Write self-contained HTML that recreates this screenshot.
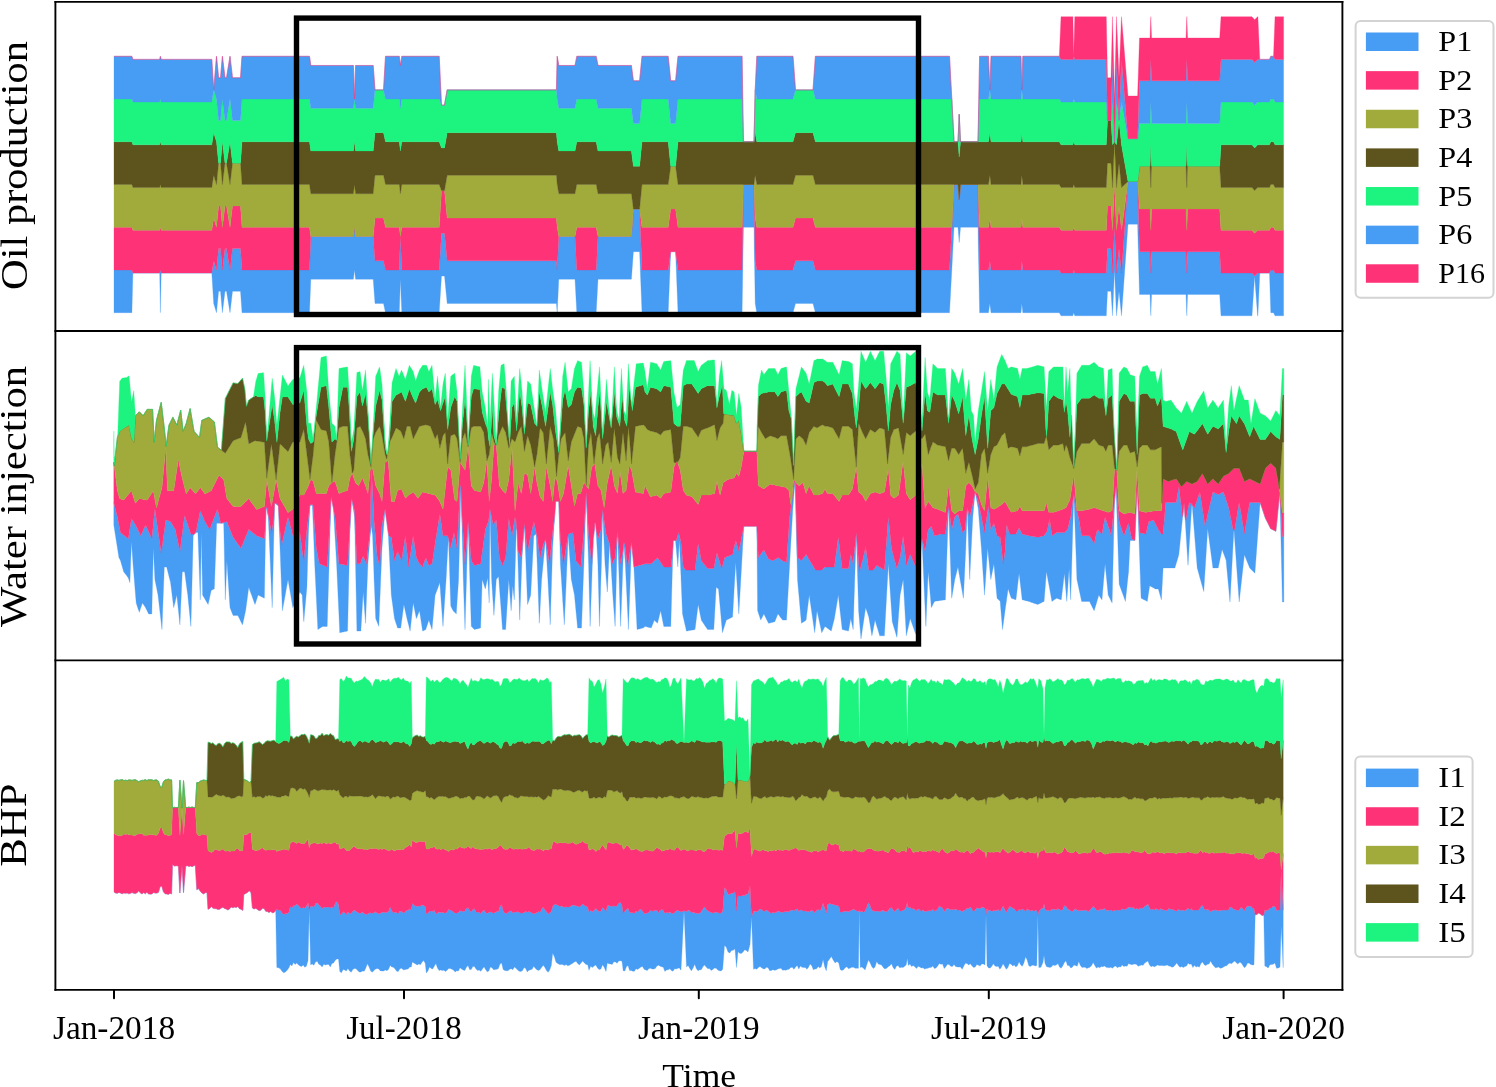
<!DOCTYPE html>
<html><head><meta charset="utf-8"><style>html,body{margin:0;padding:0;background:#fff;overflow:hidden}svg{display:block;will-change:transform}</style></head><body>
<svg width="1496" height="1087" viewBox="0 0 1496 1087">
<rect width="1496" height="1087" fill="#fff"/>
<g stroke-width="0.3" stroke-linejoin="round">
<path d="M114 312.7 L131.9 312.7 L132.9 273.02 L159.7 273.02 L160.4 312.7 L161.2 273.02 L211.8 273.02 L213.7 303.55 L216.5 312.7 L218.6 291.34 L220.5 291.34 L222.4 312.7 L225 291.34 L226.5 291.34 L230 312.7 L232.5 291.34 L240.5 291.34 L242 312.7 L309.5 312.7 L310.8 279.13 L353.4 279.13 L354.5 269.97 L355.6 279.13 L373.2 279.13 L375 303.55 L383.5 303.55 L385.5 312.7 L399.3 312.7 L400.4 279.13 L401.8 312.7 L439.2 312.7 L441.5 276.08 L444.5 276.08 L447.2 303.55 L556.4 303.55 L557.2 312.7 L558.8 279.13 L575 279.13 L576.8 312.7 L596.2 312.7 L598 279.13 L631.4 279.13 L633.4 251.66 L639.6 251.66 L642 312.7 L668.2 312.7 L670.7 251.66 L675.6 251.66 L678 312.7 L742.1 312.7 L743.4 227.24 L754 227.24 L755.2 303.55 L756.8 312.7 L793 312.7 L795.5 303.55 L813 303.55 L815.4 312.7 L949.5 312.7 L951.8 269.97 L954 227.24 L958 227.24 L959.2 242.5 L960.5 227.24 L978 227.24 L979.6 312.7 L988.5 312.7 L989.8 303.55 L991 312.7 L1021 312.7 L1021.8 303.55 L1022.8 312.7 L1059.3 312.7 L1061 315.75 L1072.9 315.75 L1073.7 312.7 L1074.8 315.75 L1106.3 315.75 L1107.5 291.34 L1111 291.34 L1112.5 315.75 L1114.5 269.97 L1116.5 315.75 L1119 291.34 L1121.5 315.75 L1128 224.19 L1137.6 224.19 L1139.5 294.39 L1150 294.39 L1150.8 315.75 L1151.6 294.39 L1186 294.39 L1186.8 315.75 L1187.6 294.39 L1219.7 294.39 L1221 315.75 L1252 315.75 L1254.6 276.08 L1257.6 315.75 L1257.9 315.75 L1259.8 273.02 L1269.5 273.02 L1270.8 312.7 L1273.5 312.7 L1275 315.75 L1283.6 315.75 L1283.6 273.02 L1275 273.02 L1273.5 269.97 L1270.8 269.97 L1269.5 273.02 L1259.8 273.02 L1257.9 273.02 L1257.6 273.02 L1254.6 276.08 L1252 273.02 L1221 273.02 L1219.7 251.66 L1187.6 251.66 L1186.8 273.02 L1186 251.66 L1151.6 251.66 L1150.8 273.02 L1150 251.66 L1139.5 251.66 L1137.6 181.46 L1128 181.46 L1121.5 273.02 L1119 248.61 L1116.5 273.02 L1114.5 227.24 L1112.5 273.02 L1111 248.61 L1107.5 248.61 L1106.3 273.02 L1074.8 273.02 L1073.7 269.97 L1072.9 273.02 L1061 273.02 L1059.3 269.97 L1022.8 269.97 L1021.8 260.82 L1021 269.97 L991 269.97 L989.8 260.82 L988.5 269.97 L979.6 269.97 L978 184.51 L960.5 184.51 L959.2 199.77 L958 184.51 L954 184.51 L951.8 227.24 L949.5 269.97 L815.4 269.97 L813 260.82 L795.5 260.82 L793 269.97 L756.8 269.97 L755.2 260.82 L754 184.51 L743.4 184.51 L742.1 269.97 L678 269.97 L675.6 251.66 L670.7 251.66 L668.2 269.97 L642 269.97 L639.6 208.93 L633.4 208.93 L631.4 236.4 L598 236.4 L596.2 269.97 L576.8 269.97 L575 236.4 L558.8 236.4 L557.2 269.97 L556.4 260.82 L447.2 260.82 L444.5 233.35 L441.5 233.35 L439.2 269.97 L401.8 269.97 L400.4 236.4 L399.3 269.97 L385.5 269.97 L383.5 260.82 L375 260.82 L373.2 236.4 L355.6 236.4 L354.5 227.24 L353.4 236.4 L310.8 236.4 L309.5 269.97 L242 269.97 L240.5 248.61 L232.5 248.61 L230 269.97 L226.5 248.61 L225 248.61 L222.4 269.97 L220.5 248.61 L218.6 248.61 L216.5 269.97 L213.7 260.82 L211.8 273.02 L161.2 273.02 L160.4 269.97 L159.7 273.02 L132.9 273.02 L131.9 269.97 L114 269.97Z" fill="#479cf4" stroke="#479cf4"/>
<path d="M114 269.97 L131.9 269.97 L132.9 273.02 L159.7 273.02 L160.4 269.97 L161.2 273.02 L211.8 273.02 L213.7 260.82 L216.5 269.97 L218.6 248.61 L220.5 248.61 L222.4 269.97 L225 248.61 L226.5 248.61 L230 269.97 L232.5 248.61 L240.5 248.61 L242 269.97 L309.5 269.97 L310.8 236.4 L353.4 236.4 L354.5 227.24 L355.6 236.4 L373.2 236.4 L375 260.82 L383.5 260.82 L385.5 269.97 L399.3 269.97 L400.4 236.4 L401.8 269.97 L439.2 269.97 L441.5 233.35 L444.5 233.35 L447.2 260.82 L556.4 260.82 L557.2 269.97 L558.8 236.4 L575 236.4 L576.8 269.97 L596.2 269.97 L598 236.4 L631.4 236.4 L633.4 208.93 L639.6 208.93 L642 269.97 L668.2 269.97 L670.7 251.66 L675.6 251.66 L678 269.97 L742.1 269.97 L743.4 184.51 L754 184.51 L755.2 260.82 L756.8 269.97 L793 269.97 L795.5 260.82 L813 260.82 L815.4 269.97 L949.5 269.97 L951.8 227.24 L954 184.51 L958 184.51 L959.2 199.77 L960.5 184.51 L978 184.51 L979.6 269.97 L988.5 269.97 L989.8 260.82 L991 269.97 L1021 269.97 L1021.8 260.82 L1022.8 269.97 L1059.3 269.97 L1061 273.02 L1072.9 273.02 L1073.7 269.97 L1074.8 273.02 L1106.3 273.02 L1107.5 248.61 L1111 248.61 L1112.5 273.02 L1114.5 227.24 L1116.5 273.02 L1119 248.61 L1121.5 273.02 L1128 181.46 L1137.6 181.46 L1139.5 251.66 L1150 251.66 L1150.8 273.02 L1151.6 251.66 L1186 251.66 L1186.8 273.02 L1187.6 251.66 L1219.7 251.66 L1221 273.02 L1252 273.02 L1254.6 276.08 L1257.6 273.02 L1257.9 273.02 L1259.8 273.02 L1269.5 273.02 L1270.8 269.97 L1273.5 269.97 L1275 273.02 L1283.6 273.02 L1283.6 230.29 L1275 230.29 L1273.5 227.24 L1270.8 227.24 L1269.5 230.29 L1259.8 230.29 L1257.9 230.29 L1257.6 230.29 L1254.6 233.35 L1252 230.29 L1221 230.29 L1219.7 208.93 L1187.6 208.93 L1186.8 230.29 L1186 208.93 L1151.6 208.93 L1150.8 230.29 L1150 208.93 L1139.5 208.93 L1137.6 181.46 L1128 181.46 L1121.5 230.29 L1119 205.88 L1116.5 230.29 L1114.5 184.51 L1112.5 230.29 L1111 205.88 L1107.5 205.88 L1106.3 230.29 L1074.8 230.29 L1073.7 227.24 L1072.9 230.29 L1061 230.29 L1059.3 227.24 L1022.8 227.24 L1021.8 218.09 L1021 227.24 L991 227.24 L989.8 218.09 L988.5 227.24 L979.6 227.24 L978 184.51 L960.5 184.51 L959.2 199.77 L958 184.51 L954 184.51 L951.8 227.24 L949.5 227.24 L815.4 227.24 L813 218.09 L795.5 218.09 L793 227.24 L756.8 227.24 L755.2 218.09 L754 184.51 L743.4 184.51 L742.1 227.24 L678 227.24 L675.6 208.93 L670.7 208.93 L668.2 227.24 L642 227.24 L639.6 208.93 L633.4 208.93 L631.4 236.4 L598 236.4 L596.2 227.24 L576.8 227.24 L575 236.4 L558.8 236.4 L557.2 227.24 L556.4 218.09 L447.2 218.09 L444.5 190.62 L441.5 190.62 L439.2 227.24 L401.8 227.24 L400.4 236.4 L399.3 227.24 L385.5 227.24 L383.5 218.09 L375 218.09 L373.2 236.4 L355.6 236.4 L354.5 227.24 L353.4 236.4 L310.8 236.4 L309.5 227.24 L242 227.24 L240.5 205.88 L232.5 205.88 L230 227.24 L226.5 205.88 L225 205.88 L222.4 227.24 L220.5 205.88 L218.6 205.88 L216.5 227.24 L213.7 218.09 L211.8 230.29 L161.2 230.29 L160.4 227.24 L159.7 230.29 L132.9 230.29 L131.9 227.24 L114 227.24Z" fill="#fe3377" stroke="#fe3377"/>
<path d="M114 227.24 L131.9 227.24 L132.9 230.29 L159.7 230.29 L160.4 227.24 L161.2 230.29 L211.8 230.29 L213.7 218.09 L216.5 227.24 L218.6 205.88 L220.5 205.88 L222.4 227.24 L225 205.88 L226.5 205.88 L230 227.24 L232.5 205.88 L240.5 205.88 L242 227.24 L309.5 227.24 L310.8 236.4 L353.4 236.4 L354.5 227.24 L355.6 236.4 L373.2 236.4 L375 218.09 L383.5 218.09 L385.5 227.24 L399.3 227.24 L400.4 236.4 L401.8 227.24 L439.2 227.24 L441.5 190.62 L444.5 190.62 L447.2 218.09 L556.4 218.09 L557.2 227.24 L558.8 236.4 L575 236.4 L576.8 227.24 L596.2 227.24 L598 236.4 L631.4 236.4 L633.4 208.93 L639.6 208.93 L642 227.24 L668.2 227.24 L670.7 208.93 L675.6 208.93 L678 227.24 L742.1 227.24 L743.4 184.51 L754 184.51 L755.2 218.09 L756.8 227.24 L793 227.24 L795.5 218.09 L813 218.09 L815.4 227.24 L949.5 227.24 L951.8 227.24 L954 184.51 L958 184.51 L959.2 199.77 L960.5 184.51 L978 184.51 L979.6 227.24 L988.5 227.24 L989.8 218.09 L991 227.24 L1021 227.24 L1021.8 218.09 L1022.8 227.24 L1059.3 227.24 L1061 230.29 L1072.9 230.29 L1073.7 227.24 L1074.8 230.29 L1106.3 230.29 L1107.5 205.88 L1111 205.88 L1112.5 230.29 L1114.5 184.51 L1116.5 230.29 L1119 205.88 L1121.5 230.29 L1128 181.46 L1137.6 181.46 L1139.5 208.93 L1150 208.93 L1150.8 230.29 L1151.6 208.93 L1186 208.93 L1186.8 230.29 L1187.6 208.93 L1219.7 208.93 L1221 230.29 L1252 230.29 L1254.6 233.35 L1257.6 230.29 L1257.9 230.29 L1259.8 230.29 L1269.5 230.29 L1270.8 227.24 L1273.5 227.24 L1275 230.29 L1283.6 230.29 L1283.6 187.56 L1275 187.56 L1273.5 184.51 L1270.8 184.51 L1269.5 187.56 L1259.8 187.56 L1257.9 187.56 L1257.6 187.56 L1254.6 190.62 L1252 187.56 L1221 187.56 L1219.7 166.2 L1187.6 166.2 L1186.8 187.56 L1186 166.2 L1151.6 166.2 L1150.8 187.56 L1150 166.2 L1139.5 166.2 L1137.6 181.46 L1128 181.46 L1121.5 187.56 L1119 163.15 L1116.5 187.56 L1114.5 141.78 L1112.5 187.56 L1111 163.15 L1107.5 163.15 L1106.3 187.56 L1074.8 187.56 L1073.7 184.51 L1072.9 187.56 L1061 187.56 L1059.3 184.51 L1022.8 184.51 L1021.8 175.36 L1021 184.51 L991 184.51 L989.8 175.36 L988.5 184.51 L979.6 184.51 L978 184.51 L960.5 184.51 L959.2 199.77 L958 184.51 L954 184.51 L951.8 184.51 L949.5 184.51 L815.4 184.51 L813 175.36 L795.5 175.36 L793 184.51 L756.8 184.51 L755.2 175.36 L754 184.51 L743.4 184.51 L742.1 184.51 L678 184.51 L675.6 166.2 L670.7 166.2 L668.2 184.51 L642 184.51 L639.6 208.93 L633.4 208.93 L631.4 193.67 L598 193.67 L596.2 184.51 L576.8 184.51 L575 193.67 L558.8 193.67 L557.2 184.51 L556.4 175.36 L447.2 175.36 L444.5 190.62 L441.5 190.62 L439.2 184.51 L401.8 184.51 L400.4 193.67 L399.3 184.51 L385.5 184.51 L383.5 175.36 L375 175.36 L373.2 193.67 L355.6 193.67 L354.5 184.51 L353.4 193.67 L310.8 193.67 L309.5 184.51 L242 184.51 L240.5 163.15 L232.5 163.15 L230 184.51 L226.5 163.15 L225 163.15 L222.4 184.51 L220.5 163.15 L218.6 163.15 L216.5 184.51 L213.7 175.36 L211.8 187.56 L161.2 187.56 L160.4 184.51 L159.7 187.56 L132.9 187.56 L131.9 184.51 L114 184.51Z" fill="#a1ab3c" stroke="#a1ab3c"/>
<path d="M114 184.51 L131.9 184.51 L132.9 187.56 L159.7 187.56 L160.4 184.51 L161.2 187.56 L211.8 187.56 L213.7 175.36 L216.5 184.51 L218.6 163.15 L220.5 163.15 L222.4 184.51 L225 163.15 L226.5 163.15 L230 184.51 L232.5 163.15 L240.5 163.15 L242 184.51 L309.5 184.51 L310.8 193.67 L353.4 193.67 L354.5 184.51 L355.6 193.67 L373.2 193.67 L375 175.36 L383.5 175.36 L385.5 184.51 L399.3 184.51 L400.4 193.67 L401.8 184.51 L439.2 184.51 L441.5 190.62 L444.5 190.62 L447.2 175.36 L556.4 175.36 L557.2 184.51 L558.8 193.67 L575 193.67 L576.8 184.51 L596.2 184.51 L598 193.67 L631.4 193.67 L633.4 208.93 L639.6 208.93 L642 184.51 L668.2 184.51 L670.7 166.2 L675.6 166.2 L678 184.51 L742.1 184.51 L743.4 184.51 L754 184.51 L755.2 175.36 L756.8 184.51 L793 184.51 L795.5 175.36 L813 175.36 L815.4 184.51 L949.5 184.51 L951.8 184.51 L954 184.51 L958 184.51 L959.2 199.77 L960.5 184.51 L978 184.51 L979.6 184.51 L988.5 184.51 L989.8 175.36 L991 184.51 L1021 184.51 L1021.8 175.36 L1022.8 184.51 L1059.3 184.51 L1061 187.56 L1072.9 187.56 L1073.7 184.51 L1074.8 187.56 L1106.3 187.56 L1107.5 163.15 L1111 163.15 L1112.5 187.56 L1114.5 141.78 L1116.5 187.56 L1119 163.15 L1121.5 187.56 L1128 181.46 L1137.6 181.46 L1139.5 166.2 L1150 166.2 L1150.8 187.56 L1151.6 166.2 L1186 166.2 L1186.8 187.56 L1187.6 166.2 L1219.7 166.2 L1221 187.56 L1252 187.56 L1254.6 190.62 L1257.6 187.56 L1257.9 187.56 L1259.8 187.56 L1269.5 187.56 L1270.8 184.51 L1273.5 184.51 L1275 187.56 L1283.6 187.56 L1283.6 144.83 L1275 144.83 L1273.5 141.78 L1270.8 141.78 L1269.5 144.83 L1259.8 144.83 L1257.9 144.83 L1257.6 144.83 L1254.6 147.89 L1252 144.83 L1221 144.83 L1219.7 166.2 L1187.6 166.2 L1186.8 144.83 L1186 166.2 L1151.6 166.2 L1150.8 144.83 L1150 166.2 L1139.5 166.2 L1137.6 181.46 L1128 181.46 L1121.5 144.83 L1119 120.42 L1116.5 144.83 L1114.5 141.78 L1112.5 144.83 L1111 120.42 L1107.5 120.42 L1106.3 144.83 L1074.8 144.83 L1073.7 141.78 L1072.9 144.83 L1061 144.83 L1059.3 141.78 L1022.8 141.78 L1021.8 132.63 L1021 141.78 L991 141.78 L989.8 132.63 L988.5 141.78 L979.6 141.78 L978 141.78 L960.5 141.78 L959.2 157.04 L958 141.78 L954 141.78 L951.8 141.78 L949.5 141.78 L815.4 141.78 L813 132.63 L795.5 132.63 L793 141.78 L756.8 141.78 L755.2 132.63 L754 141.78 L743.4 141.78 L742.1 141.78 L678 141.78 L675.6 166.2 L670.7 166.2 L668.2 141.78 L642 141.78 L639.6 166.2 L633.4 166.2 L631.4 150.94 L598 150.94 L596.2 141.78 L576.8 141.78 L575 150.94 L558.8 150.94 L557.2 141.78 L556.4 132.63 L447.2 132.63 L444.5 147.89 L441.5 147.89 L439.2 141.78 L401.8 141.78 L400.4 150.94 L399.3 141.78 L385.5 141.78 L383.5 132.63 L375 132.63 L373.2 150.94 L355.6 150.94 L354.5 141.78 L353.4 150.94 L310.8 150.94 L309.5 141.78 L242 141.78 L240.5 163.15 L232.5 163.15 L230 141.78 L226.5 163.15 L225 163.15 L222.4 141.78 L220.5 163.15 L218.6 163.15 L216.5 141.78 L213.7 132.63 L211.8 144.83 L161.2 144.83 L160.4 141.78 L159.7 144.83 L132.9 144.83 L131.9 141.78 L114 141.78Z" fill="#5d531c" stroke="#5d531c"/>
<path d="M114 141.78 L131.9 141.78 L132.9 144.83 L159.7 144.83 L160.4 141.78 L161.2 144.83 L211.8 144.83 L213.7 132.63 L216.5 141.78 L218.6 163.15 L220.5 163.15 L222.4 141.78 L225 163.15 L226.5 163.15 L230 141.78 L232.5 163.15 L240.5 163.15 L242 141.78 L309.5 141.78 L310.8 150.94 L353.4 150.94 L354.5 141.78 L355.6 150.94 L373.2 150.94 L375 132.63 L383.5 132.63 L385.5 141.78 L399.3 141.78 L400.4 150.94 L401.8 141.78 L439.2 141.78 L441.5 147.89 L444.5 147.89 L447.2 132.63 L556.4 132.63 L557.2 141.78 L558.8 150.94 L575 150.94 L576.8 141.78 L596.2 141.78 L598 150.94 L631.4 150.94 L633.4 166.2 L639.6 166.2 L642 141.78 L668.2 141.78 L670.7 166.2 L675.6 166.2 L678 141.78 L742.1 141.78 L743.4 141.78 L754 141.78 L755.2 132.63 L756.8 141.78 L793 141.78 L795.5 132.63 L813 132.63 L815.4 141.78 L949.5 141.78 L951.8 141.78 L954 141.78 L958 141.78 L959.2 157.04 L960.5 141.78 L978 141.78 L979.6 141.78 L988.5 141.78 L989.8 132.63 L991 141.78 L1021 141.78 L1021.8 132.63 L1022.8 141.78 L1059.3 141.78 L1061 144.83 L1072.9 144.83 L1073.7 141.78 L1074.8 144.83 L1106.3 144.83 L1107.5 120.42 L1111 120.42 L1112.5 144.83 L1114.5 141.78 L1116.5 144.83 L1119 120.42 L1121.5 144.83 L1128 181.46 L1137.6 181.46 L1139.5 166.2 L1150 166.2 L1150.8 144.83 L1151.6 166.2 L1186 166.2 L1186.8 144.83 L1187.6 166.2 L1219.7 166.2 L1221 144.83 L1252 144.83 L1254.6 147.89 L1257.6 144.83 L1257.9 144.83 L1259.8 144.83 L1269.5 144.83 L1270.8 141.78 L1273.5 141.78 L1275 144.83 L1283.6 144.83 L1283.6 102.1 L1275 102.1 L1273.5 99.05 L1270.8 99.05 L1269.5 102.1 L1259.8 102.1 L1257.9 102.1 L1257.6 102.1 L1254.6 105.16 L1252 102.1 L1221 102.1 L1219.7 123.47 L1187.6 123.47 L1186.8 102.1 L1186 123.47 L1151.6 123.47 L1150.8 102.1 L1150 123.47 L1139.5 123.47 L1137.6 138.73 L1128 138.73 L1121.5 102.1 L1119 120.42 L1116.5 102.1 L1114.5 141.78 L1112.5 102.1 L1111 120.42 L1107.5 120.42 L1106.3 102.1 L1074.8 102.1 L1073.7 99.05 L1072.9 102.1 L1061 102.1 L1059.3 99.05 L1022.8 99.05 L1021.8 89.9 L1021 99.05 L991 99.05 L989.8 89.9 L988.5 99.05 L979.6 99.05 L978 141.78 L960.5 141.78 L959.2 114.31 L958 141.78 L954 141.78 L951.8 99.05 L949.5 99.05 L815.4 99.05 L813 89.9 L795.5 89.9 L793 99.05 L756.8 99.05 L755.2 89.9 L754 141.78 L743.4 141.78 L742.1 99.05 L678 99.05 L675.6 123.47 L670.7 123.47 L668.2 99.05 L642 99.05 L639.6 123.47 L633.4 123.47 L631.4 108.21 L598 108.21 L596.2 99.05 L576.8 99.05 L575 108.21 L558.8 108.21 L557.2 99.05 L556.4 89.9 L447.2 89.9 L444.5 105.16 L441.5 105.16 L439.2 99.05 L401.8 99.05 L400.4 108.21 L399.3 99.05 L385.5 99.05 L383.5 89.9 L375 89.9 L373.2 108.21 L355.6 108.21 L354.5 99.05 L353.4 108.21 L310.8 108.21 L309.5 99.05 L242 99.05 L240.5 120.42 L232.5 120.42 L230 99.05 L226.5 120.42 L225 120.42 L222.4 99.05 L220.5 120.42 L218.6 120.42 L216.5 99.05 L213.7 89.9 L211.8 102.1 L161.2 102.1 L160.4 99.05 L159.7 102.1 L132.9 102.1 L131.9 99.05 L114 99.05Z" fill="#1cf47f" stroke="#1cf47f"/>
<path d="M114 99.05 L131.9 99.05 L132.9 102.1 L159.7 102.1 L160.4 99.05 L161.2 102.1 L211.8 102.1 L213.7 89.9 L216.5 99.05 L218.6 120.42 L220.5 120.42 L222.4 99.05 L225 120.42 L226.5 120.42 L230 99.05 L232.5 120.42 L240.5 120.42 L242 99.05 L309.5 99.05 L310.8 108.21 L353.4 108.21 L354.5 99.05 L355.6 108.21 L373.2 108.21 L375 89.9 L383.5 89.9 L385.5 99.05 L399.3 99.05 L400.4 108.21 L401.8 99.05 L439.2 99.05 L441.5 105.16 L444.5 105.16 L447.2 89.9 L556.4 89.9 L557.2 99.05 L558.8 108.21 L575 108.21 L576.8 99.05 L596.2 99.05 L598 108.21 L631.4 108.21 L633.4 123.47 L639.6 123.47 L642 99.05 L668.2 99.05 L670.7 123.47 L675.6 123.47 L678 99.05 L742.1 99.05 L743.4 141.78 L754 141.78 L755.2 89.9 L756.8 99.05 L793 99.05 L795.5 89.9 L813 89.9 L815.4 99.05 L949.5 99.05 L951.8 99.05 L954 141.78 L958 141.78 L959.2 114.31 L960.5 141.78 L978 141.78 L979.6 99.05 L988.5 99.05 L989.8 89.9 L991 99.05 L1021 99.05 L1021.8 89.9 L1022.8 99.05 L1059.3 99.05 L1061 102.1 L1072.9 102.1 L1073.7 99.05 L1074.8 102.1 L1106.3 102.1 L1107.5 120.42 L1111 120.42 L1112.5 102.1 L1114.5 141.78 L1116.5 102.1 L1119 120.42 L1121.5 102.1 L1128 138.73 L1137.6 138.73 L1139.5 123.47 L1150 123.47 L1150.8 102.1 L1151.6 123.47 L1186 123.47 L1186.8 102.1 L1187.6 123.47 L1219.7 123.47 L1221 102.1 L1252 102.1 L1254.6 105.16 L1257.6 102.1 L1257.9 102.1 L1259.8 102.1 L1269.5 102.1 L1270.8 99.05 L1273.5 99.05 L1275 102.1 L1283.6 102.1 L1283.6 59.38 L1275 59.38 L1273.5 56.32 L1270.8 56.32 L1269.5 59.38 L1259.8 59.38 L1257.9 59.38 L1257.6 59.38 L1254.6 62.43 L1252 59.38 L1221 59.38 L1219.7 80.74 L1187.6 80.74 L1186.8 59.38 L1186 80.74 L1151.6 80.74 L1150.8 59.38 L1150 80.74 L1139.5 80.74 L1137.6 138.73 L1128 138.73 L1121.5 59.38 L1119 120.42 L1116.5 59.38 L1114.5 141.78 L1112.5 59.38 L1111 120.42 L1107.5 120.42 L1106.3 59.38 L1074.8 59.38 L1073.7 56.32 L1072.9 59.38 L1061 59.38 L1059.3 56.32 L1022.8 56.32 L1021.8 89.9 L1021 56.32 L991 56.32 L989.8 89.9 L988.5 56.32 L979.6 56.32 L978 141.78 L960.5 141.78 L959.2 114.31 L958 141.78 L954 141.78 L951.8 99.05 L949.5 56.32 L815.4 56.32 L813 89.9 L795.5 89.9 L793 56.32 L756.8 56.32 L755.2 89.9 L754 141.78 L743.4 141.78 L742.1 56.32 L678 56.32 L675.6 80.74 L670.7 80.74 L668.2 56.32 L642 56.32 L639.6 80.74 L633.4 80.74 L631.4 65.48 L598 65.48 L596.2 56.32 L576.8 56.32 L575 65.48 L558.8 65.48 L557.2 56.32 L556.4 89.9 L447.2 89.9 L444.5 105.16 L441.5 105.16 L439.2 56.32 L401.8 56.32 L400.4 65.48 L399.3 56.32 L385.5 56.32 L383.5 89.9 L375 89.9 L373.2 65.48 L355.6 65.48 L354.5 99.05 L353.4 65.48 L310.8 65.48 L309.5 56.32 L242 56.32 L240.5 77.69 L232.5 77.69 L230 56.32 L226.5 77.69 L225 77.69 L222.4 56.32 L220.5 77.69 L218.6 77.69 L216.5 56.32 L213.7 89.9 L211.8 59.38 L161.2 59.38 L160.4 56.32 L159.7 59.38 L132.9 59.38 L131.9 56.32 L114 56.32Z" fill="#479cf4" stroke="#479cf4"/>
<path d="M114 56.32 L131.9 56.32 L132.9 59.38 L159.7 59.38 L160.4 56.32 L161.2 59.38 L211.8 59.38 L213.7 89.9 L216.5 56.32 L218.6 77.69 L220.5 77.69 L222.4 56.32 L225 77.69 L226.5 77.69 L230 56.32 L232.5 77.69 L240.5 77.69 L242 56.32 L309.5 56.32 L310.8 65.48 L353.4 65.48 L354.5 99.05 L355.6 65.48 L373.2 65.48 L375 89.9 L383.5 89.9 L385.5 56.32 L399.3 56.32 L400.4 65.48 L401.8 56.32 L439.2 56.32 L441.5 105.16 L444.5 105.16 L447.2 89.9 L556.4 89.9 L557.2 56.32 L558.8 65.48 L575 65.48 L576.8 56.32 L596.2 56.32 L598 65.48 L631.4 65.48 L633.4 80.74 L639.6 80.74 L642 56.32 L668.2 56.32 L670.7 80.74 L675.6 80.74 L678 56.32 L742.1 56.32 L743.4 141.78 L754 141.78 L755.2 89.9 L756.8 56.32 L793 56.32 L795.5 89.9 L813 89.9 L815.4 56.32 L949.5 56.32 L951.8 99.05 L954 141.78 L958 141.78 L959.2 114.31 L960.5 141.78 L978 141.78 L979.6 56.32 L988.5 56.32 L989.8 89.9 L991 56.32 L1021 56.32 L1021.8 89.9 L1022.8 56.32 L1059.3 56.32 L1061 59.38 L1072.9 59.38 L1073.7 56.32 L1074.8 59.38 L1106.3 59.38 L1107.5 120.42 L1111 120.42 L1112.5 59.38 L1114.5 141.78 L1116.5 59.38 L1119 120.42 L1121.5 59.38 L1128 138.73 L1137.6 138.73 L1139.5 80.74 L1150 80.74 L1150.8 59.38 L1151.6 80.74 L1186 80.74 L1186.8 59.38 L1187.6 80.74 L1219.7 80.74 L1221 59.38 L1252 59.38 L1254.6 62.43 L1257.6 59.38 L1257.9 59.38 L1259.8 59.38 L1269.5 59.38 L1270.8 56.32 L1273.5 56.32 L1275 59.38 L1283.6 59.38 L1283.6 16.65 L1275 16.65 L1273.5 56.32 L1270.8 56.32 L1269.5 59.38 L1259.8 59.38 L1257.9 16.65 L1257.6 16.65 L1254.6 19.7 L1252 16.65 L1221 16.65 L1219.7 38.01 L1187.6 38.01 L1186.8 16.65 L1186 38.01 L1151.6 38.01 L1150.8 16.65 L1150 38.01 L1139.5 38.01 L1137.6 96 L1128 96 L1121.5 16.65 L1119 77.69 L1116.5 16.65 L1114.5 99.05 L1112.5 16.65 L1111 77.69 L1107.5 77.69 L1106.3 16.65 L1074.8 16.65 L1073.7 56.32 L1072.9 16.65 L1061 16.65 L1059.3 56.32 L1022.8 56.32 L1021.8 89.9 L1021 56.32 L991 56.32 L989.8 89.9 L988.5 56.32 L979.6 56.32 L978 141.78 L960.5 141.78 L959.2 114.31 L958 141.78 L954 141.78 L951.8 99.05 L949.5 56.32 L815.4 56.32 L813 89.9 L795.5 89.9 L793 56.32 L756.8 56.32 L755.2 89.9 L754 141.78 L743.4 141.78 L742.1 56.32 L678 56.32 L675.6 80.74 L670.7 80.74 L668.2 56.32 L642 56.32 L639.6 80.74 L633.4 80.74 L631.4 65.48 L598 65.48 L596.2 56.32 L576.8 56.32 L575 65.48 L558.8 65.48 L557.2 56.32 L556.4 89.9 L447.2 89.9 L444.5 105.16 L441.5 105.16 L439.2 56.32 L401.8 56.32 L400.4 65.48 L399.3 56.32 L385.5 56.32 L383.5 89.9 L375 89.9 L373.2 65.48 L355.6 65.48 L354.5 99.05 L353.4 65.48 L310.8 65.48 L309.5 56.32 L242 56.32 L240.5 77.69 L232.5 77.69 L230 56.32 L226.5 77.69 L225 77.69 L222.4 56.32 L220.5 77.69 L218.6 77.69 L216.5 56.32 L213.7 89.9 L211.8 59.38 L161.2 59.38 L160.4 56.32 L159.7 59.38 L132.9 59.38 L131.9 56.32 L114 56.32Z" fill="#fe3377" stroke="#fe3377"/>
<path d="M113.8 525.2 L114.3 528.1 L114.6 530.3 L115.4 535.3 L116.2 540.3 L117 545.3 L117.4 547.8 L117.8 550.4 L118.6 555.4 L118.9 557.6 L119.4 558.5 L119.7 559.1 L120.2 560.1 L120.5 560.7 L121 562.4 L121.8 565.2 L122.1 566.2 L122.6 568 L123.4 570.8 L123.6 571.7 L124.2 572.4 L125 573.5 L125.8 574.5 L126.6 575.6 L126.8 575.8 L127.4 576.7 L128.2 577.7 L128.3 577.9 L129 579.9 L129.1 580.3 L129.8 582.3 L129.9 582.6 L130.6 564.3 L131.4 543.5 L131.5 541.9 L132.2 552.3 L133 563.5 L133 563.8 L133.8 573.5 L133.8 573.6 L134.6 583.5 L135.4 593.2 L135.4 593.5 L136.2 602.9 L136.2 603.1 L137 605.5 L137.8 607.9 L138.6 610.3 L139.3 612.3 L139.4 612 L140.2 609.6 L140.8 607.6 L141 607.2 L141.8 604.8 L142.4 602.9 L142.6 603.2 L143.2 604.1 L143.4 604.4 L144.2 605.6 L145 606.8 L145.5 607.6 L145.8 608.2 L146.6 609.8 L147.1 610.8 L147.4 611.4 L148.2 613 L148.7 613.9 L149 613.9 L149.8 613.9 L150.6 613.9 L151.4 613.9 L151.8 613.9 L152.2 596.7 L152.6 581 L153 563.1 L153.4 548.2 L153.8 557.1 L154.1 563.8 L154.6 573.1 L154.9 579.5 L155.4 581.9 L156.2 585.9 L156.5 587.3 L157 589.9 L157.8 593.9 L158 595.1 L158.6 600 L159.4 607 L160.2 614.1 L161 621.1 L161.2 622.6 L161.8 628.1 L162 629.5 L162.6 612.4 L163.4 591 L164.2 569.7 L164.3 567 L165 567 L165.8 567 L165.9 567 L166.2 567 L166.6 567 L166.6 567 L167.4 570 L167.4 570.1 L168.2 573.2 L169 576.3 L169 576.4 L169.8 579.6 L170.6 582.6 L170.6 582.9 L171.4 589.3 L172.2 595.7 L172.9 601.4 L173 602.1 L173.7 607.6 L173.8 607.2 L174.6 604 L175.3 601.4 L175.4 600.8 L176.2 597.6 L176.8 595.1 L177 596.9 L177.8 604.5 L178.4 610 L178.6 612.1 L179.4 619.7 L179.9 624.8 L180.2 619 L180.7 607.1 L181 600.9 L181.5 589.4 L181.8 582.7 L182.3 571.7 L182.6 571.7 L183.1 571.7 L183.4 571.7 L184.2 571.7 L184.6 571.7 L185 574.4 L185.8 580.4 L186.2 583.4 L186.6 586.4 L187.4 592.4 L187.8 595.1 L188.2 599.5 L189 607.5 L189.8 615.5 L190.1 618.6 L190.6 623.5 L190.9 626.4 L191.4 606.7 L192.2 575.8 L193 544.8 L193.2 535.7 L193.8 534.9 L194 534.6 L194.6 533.9 L195.4 532.8 L195.6 532.6 L196.2 532.6 L197 532.6 L197.8 532.6 L197.9 532.6 L198.6 551.8 L199.4 574.8 L199.5 577.4 L200.2 597.7 L200.3 599.8 L201 555.2 L201.4 532.6 L201.8 554.1 L201.8 556 L202.6 594.1 L202.6 595.1 L203.4 596.5 L204.2 597.8 L205 599.1 L205 599.2 L205.8 600.6 L206.6 601.9 L207.4 603.3 L208.1 604.5 L208.2 604 L208.9 601 L209 600.4 L209.7 597.5 L209.8 596.8 L210.6 593.2 L211.2 590.4 L211.4 590.3 L212.2 589.9 L213 589.5 L213.8 589.1 L214.3 588.9 L214.6 581.9 L215.4 559.5 L216.2 537.1 L216.7 523.2 L217 523.2 L217.5 523.2 L217.8 523.2 L218.6 523.2 L219 523.2 L219.4 523.2 L220.2 523.2 L220.6 523.2 L221 523.2 L221.4 523.2 L221.8 523.2 L222.6 523.2 L223.4 523.2 L223.7 523.2 L224.2 546 L225 585.2 L225.3 599.8 L225.8 587.2 L226.6 567.2 L226.9 560.7 L227.4 568.8 L228.2 580.8 L229 592.8 L229.2 595.9 L229.8 604.8 L230 607.6 L230.6 609.2 L231.4 611.2 L232.2 613.2 L233 615.2 L233.1 615.4 L233.8 615.4 L234.6 615.4 L235.4 615.4 L236.2 615.4 L237 615.4 L237.8 615.4 L237.8 615.4 L238.6 617 L239.4 618.6 L240.2 620.2 L240.9 621.7 L241 621.8 L241.8 623.4 L242.5 624.8 L242.6 624.4 L243.4 620.8 L244.2 617.2 L244.8 614.3 L245 613.6 L245.6 610.8 L245.8 609.5 L246.4 604.9 L246.6 603.5 L247.4 597.5 L248.2 591.5 L248.8 587.3 L249 588 L249.8 590.2 L250.6 592.4 L251.4 594.6 L252.2 596.8 L253 599 L253.4 600.2 L253.8 601.2 L254.6 603.4 L255 604.5 L255.4 603.3 L255.8 602.2 L256.2 600.9 L256.6 599.8 L257 598.5 L257.8 596.1 L258.1 595.1 L258.6 595.3 L259.4 595.7 L260.2 596.1 L261 596.5 L261.8 596.9 L262.6 597.3 L263.4 597.7 L263.6 597.9 L264.2 598.1 L264.4 598.2 L265 562.6 L265.2 552.1 L265.8 515.4 L266 506 L266.6 509 L266.7 509.6 L267.4 512.7 L268.2 516.4 L268.3 516.9 L269 533 L269.8 551.6 L269.9 553.2 L270.6 570.1 L271.4 588.7 L271.4 589.5 L272.2 607.2 L272.2 607.6 L273 572.6 L273.8 536.9 L274.6 502.8 L274.6 502.9 L275.4 503.5 L276.1 504.1 L276.2 504.2 L276.9 504.7 L277 504.8 L277.8 505.4 L278.5 506 L278.6 509.4 L279.4 530.8 L280 547.9 L280.2 552.3 L281 573.7 L281.6 589.8 L281.8 595.2 L282.4 610.8 L282.6 609.5 L283.4 605.1 L284.2 600.7 L285 596.2 L285.8 591.8 L286.6 587.3 L287.4 582.9 L288 579.5 L288.2 580.6 L289 585.3 L289.8 589.9 L290.6 594.6 L291.4 599.3 L292.2 604 L292.8 607.6 L293 607.2 L293.8 605.5 L294.6 603.7 L295.4 601.9 L296.2 600.1 L297 598.3 L297.8 596.6 L298.6 594.8 L299.4 593 L299.9 592 L300.2 592.4 L301 593.5 L301.8 594.6 L302.2 595.1 L302.6 601.9 L303.4 615.5 L303.8 621.7 L304.2 616.9 L305 608.1 L305.8 599.3 L306.6 590.5 L306.9 587.3 L307.4 569.6 L308.2 541.6 L308.5 532.6 L309 523.4 L309.8 509.8 L310 506 L310.6 505.6 L310.8 505.4 L311.4 505.1 L312.2 504.5 L312.4 504.4 L313 520.4 L313.2 524.2 L313.8 540.6 L314.6 560.9 L314.7 563.8 L315.4 578.2 L316.2 595 L316.3 596.7 L317 611.8 L317.8 628.6 L317.8 629.5 L318.6 629 L319.4 628.5 L319.4 628.5 L320.2 628 L321 627.4 L321 627.4 L321.8 626.9 L322.5 626.4 L322.6 626.4 L323.4 626.4 L324.2 626.4 L325 626.4 L325.8 626.4 L326.4 626.4 L326.6 626.4 L327.2 626.4 L327.4 620.6 L328.2 594 L328.8 574.3 L329 567.3 L329.6 548.2 L329.8 540.7 L330.6 514.3 L331.1 496.6 L331.4 498 L331.9 500.8 L332.2 502.3 L333 506.5 L333.5 509.1 L333.8 514.6 L334.6 528.6 L335 536.5 L335.4 542.6 L336.2 556.6 L336.6 563.8 L337 572.4 L337.8 590 L338.6 607.6 L339 615.4 L339.4 625.2 L339.7 632.7 L340.2 632.6 L341 632.4 L341.8 632.2 L342.6 632.1 L342.9 632 L343.4 631.9 L344.2 631.8 L345 631.6 L345.8 631.4 L346.6 631.3 L347.4 631.1 L347.6 631.1 L348.2 604.2 L349 570.6 L349.1 565.4 L349.8 537 L349.9 532.6 L350.6 517.3 L351.4 499.7 L351.5 498.2 L352.2 502.5 L352.3 502.8 L353 507.3 L353.8 512.1 L353.8 512.2 L354.6 516.9 L354.6 517.1 L355.4 555 L355.4 556 L356.2 595 L356.9 631.1 L357 631.1 L357.8 631.1 L358.5 631.1 L358.6 631.1 L359.4 631.1 L360.1 631.1 L360.2 631.1 L360.9 631.1 L361 628.6 L361.8 615.3 L362.4 605 L362.6 602 L363.2 592 L363.4 594.7 L364.2 605.3 L365 616 L365.5 623.3 L365.8 616.8 L366.3 603.5 L366.6 596.5 L367.4 576.3 L367.9 563.8 L368.2 560.1 L369 550.5 L369.8 540.9 L370.2 535.7 L370.6 532.5 L371 528.8 L371.3 526 L371.4 526.5 L372.2 532.7 L372.6 535.7 L373 547.4 L373.4 557.6 L373.8 569.8 L374.1 579.5 L374.6 590.8 L375.4 610.8 L375.7 618.6 L376.2 619.8 L377 621.8 L377.3 622.5 L377.8 623.8 L378.6 625.8 L378.8 626.4 L379.4 612.3 L379.6 606.8 L380.2 592.3 L381 572.3 L381.8 552.3 L382 548.2 L382.6 540.3 L383.4 530.3 L384.2 520.3 L385 510.3 L385.1 509.1 L385.8 514.4 L386.6 520.4 L386.7 520.8 L387.4 526.4 L387.4 526.7 L388.2 532.4 L388.2 532.6 L389 548.1 L389.8 563.8 L389.8 564.1 L390.6 580.1 L391.3 595.1 L391.4 595.5 L392.1 601 L392.2 601.5 L393 607.5 L393.8 613.5 L394.5 618.6 L394.6 618.9 L395.4 621.3 L396 623.3 L396.2 623.7 L397 626.1 L397.6 628 L397.8 628 L398.6 628 L399.2 628 L399.4 628 L400.2 628 L400.7 628 L401 626 L401.5 622.1 L401.8 620 L402.6 614 L403.4 608 L403.9 604.5 L404.2 606 L405 609.6 L405.4 611.5 L405.8 613.2 L406.6 616.8 L407 618.6 L407.4 620.2 L408.2 623.4 L408.6 624.8 L409 626.6 L409.3 628 L409.8 629.8 L410.1 631.1 L410.6 626.7 L411.4 619.5 L412.2 612.3 L413 605.1 L413.2 602.9 L413.8 605.7 L414.6 609.7 L415.4 613.7 L415.6 614.7 L416.2 617.7 L416.4 618.6 L417 617 L417.8 615 L417.9 614.7 L418.6 613 L419.4 611 L419.5 610.8 L420.2 615.3 L421 620.5 L421.8 625.7 L422.6 630.9 L422.6 631.1 L423.4 630.7 L424.2 630.3 L425 629.9 L425.8 629.5 L425.8 629.4 L426.5 627.2 L426.6 627 L427.4 624.6 L428.2 622.2 L428.9 620.1 L429 620.5 L429.8 622.9 L430.4 624.8 L430.6 625.3 L431.4 627.7 L432 629.5 L432.2 627.5 L433 618.7 L433.8 609.9 L434.6 601.1 L435.1 595.1 L435.4 594.4 L436.2 592.3 L437 590.2 L437.5 588.9 L437.8 588 L438.6 585.9 L439.4 583.8 L439.8 582.6 L440.2 587.7 L440.6 593.6 L441 598.9 L441.8 610.1 L442.6 621.3 L443 626.4 L443.4 619.8 L444.2 607.8 L445 595.8 L445.3 591.2 L445.8 583.8 L446.1 579.5 L446.6 569.9 L447.4 555 L447.7 550.3 L448.2 540.1 L448.4 535.7 L449 552.7 L449.8 576.7 L450.6 600.7 L450.8 606.1 L451.4 607.3 L452.2 608.9 L453 610.5 L453.1 610.8 L453.8 611.4 L453.9 611.5 L454.6 612.2 L454.7 612.3 L455.4 613 L456.2 613.8 L456.3 613.9 L457 602.9 L457 602.4 L457.8 591.2 L458.6 579.5 L458.6 579.5 L459.4 547.5 L460.2 516.9 L460.2 515.5 L460.9 485.6 L461 487.8 L461.8 519.8 L462.5 548.2 L462.6 551.8 L463.3 579.5 L463.4 582.6 L464.2 605.9 L465 629.2 L465 629.5 L465.8 602.2 L466.6 575.8 L466.6 574.5 L467.4 546.8 L468.1 521.6 L468.2 524 L469 550.8 L469.8 577.6 L470.6 604.4 L471.3 626.4 L471.4 626.5 L472.2 627.3 L473 628.1 L473.6 628.7 L473.8 628.9 L474.4 629.5 L474.6 629.5 L475.4 629.3 L476.2 629.1 L477 628.9 L477.8 628.7 L478.6 628.5 L479.4 628.3 L479.9 628.2 L480.2 628.1 L480.6 628 L481 616.8 L481.8 592 L482.2 579.5 L482.6 580.7 L483.4 583.1 L483.8 584.2 L484.2 585.5 L485 587.9 L485.3 588.9 L485.8 586.7 L486.6 582.9 L486.9 581.6 L487.4 579.2 L487.7 577.9 L488.2 586.3 L488.5 590.4 L489 599.1 L489.2 602.9 L489.8 535.9 L490 509.1 L490.6 535 L491.4 571 L491.6 579.5 L492.2 588.9 L492.4 591.5 L493 601.1 L493.2 603.5 L493.8 613.4 L493.9 615.4 L494.6 605.2 L495.4 593 L496.2 580.7 L496.3 579.5 L497 578.5 L497.8 577.5 L498.6 576.4 L498.6 576.3 L499.4 586.9 L499.4 587 L500.2 597.8 L501 608.3 L501 608.6 L501.8 618.9 L501.8 619.5 L502.5 629.5 L502.6 629.5 L503.4 629.5 L504.1 629.5 L504.2 629.5 L504.9 629.5 L505 629.5 L505.7 629.5 L505.8 627.3 L506.4 617 L506.6 614.5 L507.2 604.5 L507.4 601.7 L508.2 588.9 L508.8 579.5 L509 582.3 L509.6 589.9 L509.8 592.9 L510.6 603.6 L511.1 610.8 L511.4 606.5 L511.9 598.2 L512.2 593.7 L512.7 585.7 L513 588.4 L513.8 595.6 L514.3 599.8 L514.6 588 L515 572.2 L515.4 559.7 L516.2 531.4 L516.6 516.9 L517 529.8 L517.8 556.2 L518.2 568.5 L518.6 582.6 L519.4 609 L519.7 620.1 L520.2 607.5 L521 585.7 L521.3 577.4 L521.8 563.8 L522.1 556 L522.6 549.1 L523.4 538.5 L524.2 527.8 L524.4 524.7 L525 539.3 L525.8 559.7 L526.6 580.1 L527.4 600.5 L527.6 604.5 L528.2 602.6 L529 600.2 L529.8 597.8 L530.6 595.4 L530.7 595.1 L531.4 581.6 L532.2 566.4 L533 551.2 L533.8 536 L533.8 535.7 L534.6 535.2 L534.6 535.2 L535.4 534.6 L536.2 534.1 L536.2 535.2 L536.9 556.4 L537 558 L537.8 580.8 L538.6 603.6 L539.3 623.3 L539.4 621.2 L540.1 608.7 L540.2 606.3 L541 591.3 L541.6 579.5 L541.8 577.8 L542.4 571.3 L542.6 569.4 L543.2 563.2 L543.4 561.1 L544.2 552.8 L545 544.5 L545.5 538.8 L545.8 543.2 L546.3 552.4 L546.6 557.1 L547.4 571 L547.9 579.5 L548.2 585.5 L549 600.9 L549.5 609.7 L549.8 616.4 L550.2 624.8 L550.6 612.9 L551.4 586.8 L552.2 560.7 L552.6 548.2 L553 541.9 L553.4 536.5 L553.8 529.9 L554.6 517.9 L554.9 513 L555.4 505.9 L555.7 501.3 L556.2 501.3 L556.5 501.3 L557 501.3 L557.3 501.3 L557.8 501.3 L558.6 501.3 L558.8 501.3 L559.4 523.8 L560.2 555.8 L560.4 563.8 L561 573.2 L561.2 576 L561.8 585.6 L562.6 598.1 L562.7 600.4 L563.4 610.6 L563.5 612.6 L564.2 623.1 L564.3 624.8 L565 609.1 L565.1 607 L565.8 590.9 L566.6 572.7 L567.4 554.4 L568.2 536.2 L568.2 535.7 L569 546.6 L569.8 557.8 L570.6 569 L571.3 579.5 L571.4 579.7 L572.2 583.7 L572.9 587.3 L573 587.7 L573.8 591.7 L574.5 595.1 L574.6 596.4 L575.4 604.8 L576 611.5 L576.2 613.2 L577 621.6 L577.6 628 L577.8 628 L578.6 628 L579.4 628 L580.2 628 L580.7 628 L581 628 L581.5 628 L581.8 620.2 L582.6 598.3 L583.4 576.5 L583.9 563.8 L584.2 553.5 L585 528.9 L585.8 504.4 L586.2 491.9 L586.6 503.9 L587.4 528.5 L588.2 553 L588.6 563.8 L589 581.7 L589.8 613.7 L590.1 626.4 L590.6 612.9 L590.9 604.5 L591.4 590.5 L591.7 582.6 L592.2 568.1 L592.5 560.7 L593 545.7 L593.2 538.8 L593.8 534.7 L594 533.1 L594.6 528.9 L594.8 527.3 L595.4 523 L595.6 521.6 L596.2 532.6 L597 547 L597.2 549.8 L597.8 561.4 L597.9 563.8 L598.6 590.4 L599.4 622.4 L599.5 626.4 L599.8 616 L600.2 603.1 L601 576.4 L601.1 574.3 L601.8 549.8 L601.8 548.2 L602.6 510.6 L602.6 509.1 L603.4 527.1 L604.2 545.6 L604.2 545.8 L605 563.8 L605 564.1 L605.8 573.2 L605.8 573.7 L606.5 582.6 L606.6 583.3 L607.3 592 L607.4 590.3 L608.1 575.3 L608.2 573.2 L608.9 558.6 L609 556.2 L609.7 541.9 L609.8 544.2 L610.6 557.8 L611.2 568.5 L611.4 571.4 L612 581.8 L612.2 585 L612.8 595.1 L613 597.9 L613.8 608.5 L614.4 616 L614.6 619.2 L615.1 626.4 L615.4 615.9 L616.2 583.3 L616.7 562.8 L617 550.8 L617.5 531 L617.8 540.6 L618.6 565 L619.1 578.7 L619.4 589.4 L619.8 602.5 L620.2 613.8 L620.6 626.4 L621 616 L621.4 605.3 L621.8 594.4 L622.2 584.2 L622.6 572.8 L623 563.1 L623.4 551.2 L623.7 541.9 L624.2 548.3 L624.5 552.9 L625 559.5 L625.3 563.8 L625.8 574.2 L626.1 580.3 L626.6 591 L626.9 596.7 L627.4 607.8 L627.7 613.1 L628.2 624.6 L628.4 629.5 L629 613.7 L629.2 607.6 L629.8 591.3 L630.6 568.9 L631.4 546.5 L631.6 541.9 L632.2 548.7 L632.3 550.3 L633 557.3 L633.8 565.8 L633.9 567 L634.6 580.8 L635.4 596.8 L635.5 598.2 L636.2 612.8 L636.3 613.9 L637 628.8 L637 629.5 L637.8 629.3 L638.6 629.1 L639.4 628.9 L640.2 628.7 L641 628.5 L641.8 628.3 L642.6 628.1 L643.3 628 L643.4 627.9 L644.2 627.1 L645 626.4 L645 626.4 L645.8 626.6 L646.6 626.8 L647.3 627 L647.4 627 L648.2 627.2 L649 627.4 L649.8 627.6 L650.5 627.8 L650.6 627.8 L651.3 628 L651.4 627.6 L652.2 625.6 L653 623.6 L653.8 621.6 L654.4 620.1 L654.6 620.4 L655.4 621.2 L656.2 622 L656.7 622.5 L657 622.8 L657.5 623.3 L657.8 622.1 L658.6 618.9 L659.4 615.7 L660.2 612.5 L660.6 610.8 L661 612.6 L661.8 616.6 L662.6 620.6 L663.4 624.6 L663.8 626.4 L664.2 626.4 L665 626.4 L665.8 626.4 L666.6 626.4 L667.4 626.4 L668.2 626.4 L669 626.4 L669.8 626.4 L670.6 626.4 L670.8 626.4 L671.4 604.6 L672.2 575.3 L673 545.9 L673.2 540.4 L673.8 540.4 L673.9 540.4 L674.6 540.4 L675.4 540.4 L675.5 540.4 L676.2 548.3 L676.3 549.2 L677 557.4 L677.1 558.1 L677.8 566.5 L677.8 567 L678.6 554.1 L678.6 553.7 L679.4 540.5 L679.4 540.4 L680.2 558.8 L680.2 559 L681 577.1 L681 577.8 L681.8 596.6 L682.5 613.9 L682.6 614.2 L683.3 617.3 L683.4 617.7 L684.2 621.2 L685 624.7 L685.7 627.6 L685.8 628.3 L686.4 631.1 L686.6 631.1 L687.4 630.9 L688.2 630.8 L689 630.6 L689.8 630.5 L690.6 630.3 L691.4 630.2 L691.9 630.1 L692.2 630 L693 629.9 L693.8 629.8 L694.3 629.7 L694.6 629.6 L695 629.5 L695.4 626.7 L696.2 620.3 L697 613.9 L697.8 607.5 L698.2 604.5 L698.6 606.6 L699.4 610.6 L700.2 614.6 L701 618.6 L701.3 620.1 L701.8 620.9 L702.6 622.1 L703.4 623.3 L704.2 624.5 L705 625.7 L705.8 626.9 L706.6 628.1 L707.4 629.3 L707.6 629.5 L708.2 629.5 L709 629.5 L709.8 629.5 L710.6 629.5 L711.4 629.5 L712.2 629.5 L713 629.5 L713.8 629.5 L713.8 629.5 L714.6 615.4 L714.6 615.4 L715.4 601 L716.2 587.3 L716.2 587.3 L716.9 587.8 L717 587.9 L717.8 588.4 L718.5 588.9 L718.6 589.9 L719.3 597.6 L719.4 598.9 L720.1 606.4 L720.2 607.8 L721 616.8 L721.6 623.9 L721.8 625.7 L722.4 632.7 L722.6 632.1 L723.2 630.2 L723.4 629.5 L723.7 628.6 L724 627.6 L724.2 626.9 L724.8 625.1 L725 624.4 L725.8 621.8 L726.3 620.1 L726.6 620 L727.4 619.6 L727.9 619.4 L728.2 619.2 L729 618.8 L729.5 618.6 L729.8 618.4 L730.6 618 L731.4 617.6 L731.8 617.4 L732.2 617.2 L732.6 617 L733 609.7 L733.8 595.7 L734.1 589.6 L734.6 581.7 L735.4 567.7 L735.7 562.3 L736.2 570.4 L736.5 575.2 L737 583.6 L737.8 596.8 L738.6 610 L738.8 613.9 L739.4 604 L740.2 590 L741 576 L741.2 572.8 L741.8 562 L742.6 548 L743.4 534 L743.8 526.3 L744.2 526.3 L745 526.3 L745.8 526.3 L746.6 526.3 L747.4 526.3 L748.2 526.3 L749 526.3 L749.8 526.3 L750.6 526.3 L751.4 526.3 L752.2 526.3 L753 526.3 L753.8 526.3 L754.6 526.3 L755.4 526.3 L756.2 526.3 L756.8 526.3 L757 545.4 L757.3 577 L757.6 610.8 L757.8 611.3 L758.4 613.1 L758.6 613.7 L759.4 616.1 L760.2 618.5 L760.7 620.1 L761 619.6 L761.5 618.6 L761.8 618 L762.6 616.4 L763.4 614.8 L763.9 613.9 L764.2 614.6 L765 616.2 L765.4 617 L765.8 617.8 L766.6 619.4 L767.4 621 L768.2 622.6 L768.6 623.3 L769 623.2 L769.8 623 L770.1 622.9 L770.6 622.8 L771.4 622.6 L772.2 622.4 L773 622.2 L773.2 622.1 L773.8 622 L774.6 621.8 L774.8 621.7 L775.4 620.2 L776.2 618.2 L777 616.2 L777.8 614.2 L777.9 613.9 L778.6 614.8 L779.4 615.8 L780.2 616.9 L781 618 L781.1 618.1 L781.8 619 L782.6 620.1 L782.6 620.1 L783.4 620.1 L784.2 620.1 L785 620.1 L785.8 620.1 L785.8 620.1 L786.5 620.1 L786.6 619 L787.4 604.6 L788.2 590.2 L788.9 577.9 L789 575.8 L789.7 563.8 L789.8 561.5 L790.4 550.2 L790.6 547.5 L791.2 536.5 L791.4 533.5 L792.2 519.5 L792.8 509.1 L793 506.5 L793.6 499.2 L793.8 496.4 L794.6 486.2 L795.1 479.4 L795.4 490.4 L795.9 512.7 L796.2 524.6 L797 558.7 L797.5 579.5 L797.8 583 L798.6 591.9 L799.1 597 L799.4 600.9 L800.2 609.9 L801 618.8 L801.4 623.3 L801.8 623 L802.6 622.5 L803 622.2 L803.4 621.9 L804.2 621.4 L805 620.9 L805.8 620.3 L806.1 620.1 L806.6 616 L807.4 609.6 L808.2 603.2 L809 596.8 L809.2 595.1 L809.8 599.1 L810.6 604.6 L810.8 605.8 L811.4 610.1 L812.2 615.6 L813 621.1 L813.8 626.5 L813.9 627.3 L814.6 632 L814.7 632.7 L815.4 626 L815.5 625.4 L816.2 618.6 L817 611.1 L817 610.8 L817.8 614.3 L818.6 618.1 L819.4 621.8 L820.2 625.5 L821 629.3 L821.7 632.7 L821.8 632.5 L822.5 631.2 L822.6 631 L823.4 629.5 L824.2 627.9 L825 626.4 L825 626.4 L825.8 627 L826.6 627.6 L826.6 627.6 L827.3 628.2 L827.4 628.2 L828.2 628.8 L829 629.4 L829.8 630 L830.6 630.6 L831.3 631.1 L831.4 630.5 L832.2 627.3 L832.8 624.8 L833 624.1 L833.8 620.9 L834.4 618.6 L834.6 617.3 L835.4 612.5 L836.2 607.7 L837 602.9 L837.8 598.1 L838.3 595.1 L838.6 597.8 L839.1 602 L839.4 604.9 L840.2 611.9 L841 618.9 L841.8 626 L842.2 629.5 L842.6 629.6 L843.4 629.8 L844.2 630 L845 630.2 L845.8 630.4 L846.6 630.6 L847.4 630.8 L848.2 631 L848.5 631.1 L849 628.2 L849.8 623.9 L850.6 619.7 L850.8 618.6 L851.4 621.4 L852.2 625.1 L852.4 625.9 L853 628.8 L853.2 629.5 L853.8 609.4 L853.9 605.3 L854.6 584.6 L854.7 581 L855.4 559.8 L856.2 535 L856.3 532.6 L857 556.6 L857.8 583.2 L858.6 609.9 L858.6 610.8 L859.4 620.1 L859.4 620.1 L860.2 629.7 L861 638.9 L861 638.7 L861.8 633.4 L862.5 628.5 L862.6 628 L863.3 623.3 L863.4 622.7 L864.2 617.4 L865 612 L865.7 607.6 L865.8 608 L866.6 610.4 L867.4 612.8 L868.2 615.2 L868.8 617 L869 618.3 L869.8 623.1 L870.4 626.4 L870.6 627.9 L871.4 632.7 L871.9 635.8 L872.2 634.4 L873 630.4 L873.5 628 L873.8 626.4 L874.6 622.4 L875 620.1 L875.4 621.3 L876.2 624 L876.6 625.4 L877 626.7 L877.8 629.3 L878.6 632 L879.4 634.7 L879.7 635.8 L880.2 635.8 L881 635.8 L881.8 635.8 L882.6 635.8 L883.4 635.8 L883.6 635.8 L884.2 635.8 L884.4 635.8 L885 625.3 L885.8 610.6 L886 607 L886.6 595.9 L887.4 581.1 L887.6 578.2 L888.2 566.4 L888.3 563.8 L889 573.6 L889.8 585.4 L890.6 597.3 L890.7 598.6 L891.4 609.1 L891.5 610.1 L892.2 621 L892.3 621.7 L893 624.2 L893.8 626.9 L893.8 626.9 L894.6 629.5 L895.4 632.2 L896.2 634.9 L896.9 637.3 L897 636.6 L897.8 625.8 L898.5 616.2 L898.6 615 L899.4 604.2 L900.1 595.1 L900.2 594.5 L901 590.5 L901.8 586.5 L902.6 582.5 L903.2 579.5 L903.4 583.1 L904.2 597.5 L905 611.9 L905.8 626.3 L906.3 635.8 L906.6 634.6 L907.4 631.1 L908.2 627.5 L909 624 L909.8 620.5 L910.2 618.6 L910.6 619.6 L911.4 621.9 L912.2 624.2 L913 626.5 L913.8 628.8 L914.6 631 L915.4 633.3 L915.7 634.2 L916.2 625.6 L917 611.6 L917.8 597.6 L918.6 583.6 L918.8 579.5 L919.4 572.2 L920.2 561.8 L921 551.4 L921.8 541 L922 538.8 L922.6 553 L923.4 570.9 L924.2 588.9 L925 606.8 L925.1 608.9 L925.8 624.7 L925.9 626.4 L926.6 609.5 L927.4 590.8 L927.4 589.9 L928.2 572.2 L928.2 571.7 L929 580.6 L929.8 589.6 L929.8 589.8 L930.6 599 L931.3 607.6 L931.4 607.5 L932.2 605.9 L932.9 604.5 L933 604.3 L933.8 602.7 L934.5 601.4 L934.6 601.4 L935.4 601.2 L936.2 601.1 L937 601 L937.6 600.9 L937.8 600.9 L938.6 600.8 L939.4 600.7 L940.2 600.6 L940.7 600.5 L941 600.4 L941.8 600.3 L942.6 600.2 L943.4 600.1 L944.2 600 L945 599.9 L945.4 599.8 L945.8 588.6 L946.6 564.6 L947.4 540.6 L948.2 516.6 L948.6 506 L949 519.1 L949.8 542.7 L950.6 566.3 L951.4 589.9 L951.7 598.2 L952.2 595.1 L953 590.3 L953.8 585.5 L954.6 580.7 L954.8 579.5 L955.4 577.1 L956.2 573.9 L957 570.7 L957.8 567.5 L957.9 567 L958.6 570.8 L958.7 571.4 L959.4 575.3 L960.2 579.9 L961 584.5 L961.8 589 L962.6 593.6 L962.6 593.8 L963.4 598.2 L963.4 598.2 L964.2 581.4 L965 564.9 L965 564.3 L965.8 548.2 L965.8 547.1 L966.6 526.3 L967.3 507.5 L967.4 510 L968.2 534.5 L968.9 555.5 L969 559 L969.7 579.5 L969.8 576.8 L970.6 560.8 L971.2 548.2 L971.4 544.8 L972 532.6 L972.2 528.8 L972.8 516.9 L973 514.7 L973.6 508.6 L973.8 506.2 L974.6 497.7 L975.1 491.9 L975.4 493.3 L976.2 497.7 L977 502.1 L977.8 506.5 L978.3 509.1 L978.6 513.2 L979.4 523.2 L980.2 533.2 L981 543.2 L981.4 548.2 L981.8 554.2 L982.6 566.2 L983.4 578.2 L984.2 590.2 L984.5 595.1 L985 588 L985.8 576 L986.6 564 L987.4 552 L987.7 548.2 L988.2 553.7 L988.4 556 L989 561.7 L989.8 569.7 L990.6 577.7 L990.8 579.5 L991.4 576.4 L992.2 572.4 L993 568.4 L993.8 564.4 L993.9 563.8 L994.6 571.4 L995.4 580.2 L996.2 589 L997 597.8 L997 598.2 L997.8 599 L998.6 599.8 L999.4 600.6 L1000.2 601.4 L1000.2 601.8 L1001 611.4 L1001.7 620.1 L1001.8 621 L1002.5 629.5 L1002.6 628.9 L1003.3 623.7 L1003.4 622.9 L1004.2 616.9 L1005 610.9 L1005 610.8 L1005.8 605.2 L1006.6 599.9 L1006.6 599.6 L1007.4 594 L1008.1 588.9 L1008.2 589.1 L1009 591.5 L1009.7 593.6 L1009.8 593.9 L1010.6 596.3 L1011.3 598.2 L1011.4 598.3 L1012.2 598.6 L1013 598.8 L1013.8 599.1 L1014.6 599.4 L1015.4 599.6 L1015.9 599.8 L1016.2 597.7 L1017 590.9 L1017.5 586.5 L1017.8 584.1 L1018.6 577.3 L1019.1 573.2 L1019.4 576 L1019.9 579.9 L1020.2 582.8 L1021 589.6 L1021.8 596.4 L1022.2 599.8 L1022.6 599.9 L1023.4 600.1 L1024.2 600.3 L1025 600.5 L1025.8 600.7 L1026.6 600.9 L1026.9 601 L1027.4 601.1 L1028.2 601.3 L1028.5 601.4 L1029 601.6 L1029.8 601.8 L1030.6 602.1 L1031.4 602.4 L1032.2 602.6 L1033 602.9 L1033.8 603.2 L1034.6 603.4 L1035.4 603.7 L1036.2 604 L1037 604.2 L1037.8 604.5 L1037.8 604.5 L1038.6 604.1 L1039.4 603.7 L1040.2 603.3 L1041 602.9 L1041.8 602.5 L1042.6 602.1 L1043.4 601.7 L1044.1 601.4 L1044.2 600.1 L1045 590 L1045.8 579.8 L1046.4 571.7 L1046.6 572.5 L1047.2 575.8 L1047.4 576.8 L1048.2 581 L1048.8 584.2 L1049 585.3 L1049.6 588.5 L1049.8 589.7 L1050.6 594.1 L1051.4 598.5 L1051.9 601.4 L1052.2 601.2 L1053 600.7 L1053.5 600.3 L1053.8 600.1 L1054.6 599.6 L1055.4 599.1 L1056.2 598.5 L1056.6 598.2 L1057 598.4 L1057.8 598.6 L1058.2 598.8 L1058.6 598.9 L1059.4 599.2 L1060.2 599.4 L1061 599.7 L1061.3 599.8 L1061.8 595.6 L1062.6 588.8 L1062.9 586.5 L1063.4 582 L1064.2 575.2 L1064.4 573.2 L1065 580.1 L1065.8 589.7 L1066 592 L1066.6 599.3 L1066.8 601.4 L1067.4 592.6 L1067.6 590.4 L1068.2 581.4 L1069 570.2 L1069.1 568.5 L1069.8 582.1 L1069.9 584.2 L1070.6 598.1 L1070.7 599.8 L1071.4 575.6 L1071.5 573.2 L1072.2 548.4 L1073 521.2 L1073.8 494 L1073.8 493.5 L1074.6 515.1 L1075.4 537.1 L1076.2 558 L1076.2 559.1 L1076.9 579.5 L1077 579.7 L1077.8 583.5 L1078.5 586.8 L1078.6 587.2 L1079.4 590.9 L1080.2 594.7 L1081 598.4 L1081.6 601.4 L1081.8 601.4 L1082.6 601.4 L1083.4 601.4 L1084.2 601.4 L1085 601.4 L1085.8 601.4 L1086.6 601.4 L1087.4 601.4 L1088.2 601.4 L1089 601.4 L1089.5 601.4 L1089.8 602.1 L1090.6 603.7 L1091.4 605.3 L1092.2 606.9 L1093 608.5 L1093.8 610.1 L1094.1 610.8 L1094.6 609.2 L1095.4 606.6 L1096.2 603.9 L1097 601.2 L1097.3 600.3 L1097.8 598.6 L1098.6 595.9 L1098.8 595.1 L1099.4 596 L1100.2 597.2 L1101 598.4 L1101.8 599.6 L1102 599.8 L1102.6 592.5 L1103.4 583.3 L1103.5 581.8 L1104.2 574.1 L1105 564.9 L1105.1 563.8 L1105.8 570.9 L1105.9 571.7 L1106.6 578.9 L1107.4 586.9 L1108.2 594.9 L1108.2 595.1 L1109 596.7 L1109.8 598.3 L1110.6 599.9 L1111.3 601.4 L1111.4 601.5 L1112.1 602.9 L1112.2 600 L1113 565.3 L1113.8 530.6 L1114.5 501.3 L1114.6 500.1 L1115.4 492.1 L1116 485.6 L1116.2 490.6 L1116.8 510.3 L1117 515.8 L1117.8 541 L1118.6 566.2 L1119.2 584.2 L1119.4 584.8 L1120.2 587 L1121 589.2 L1121.8 591.4 L1122.6 593.6 L1123.4 595.8 L1123.9 597.1 L1124.2 598 L1125 600.2 L1125.4 601.4 L1125.8 597.8 L1126.6 590.2 L1127 586.5 L1127.4 582.6 L1128.2 575 L1128.6 571.7 L1129 562.7 L1129.8 546.7 L1130.1 540.4 L1130.6 540.4 L1131.4 540.4 L1131.7 540.4 L1132.2 540.4 L1133 540.4 L1133.8 540.4 L1134.6 540.4 L1134.8 540.4 L1135.4 526.6 L1136.2 507.9 L1137 489.3 L1137.2 485.6 L1137.8 504.2 L1138.6 527.3 L1139.4 550.3 L1139.5 553.2 L1140.2 573.3 L1141 596.4 L1141.1 598.2 L1141.8 598.6 L1142.6 599 L1142.6 599 L1143.4 599.4 L1144.2 599.8 L1145 600.2 L1145.8 600.6 L1145.8 600.6 L1146.6 601 L1147.3 601.4 L1147.4 600.8 L1148.2 595.5 L1148.9 590.9 L1149 590.2 L1149.7 585.7 L1149.8 585.8 L1150.4 586.2 L1150.6 586.3 L1151.4 586.7 L1152.2 587.2 L1153 587.6 L1153.6 588 L1153.8 588.1 L1154.6 588.6 L1155.1 588.9 L1155.4 588.9 L1156.2 588.9 L1157 588.9 L1157.5 588.9 L1157.8 588.9 L1158.3 588.9 L1158.6 590 L1159.4 592.8 L1160.2 595.6 L1161 598.4 L1161.4 599.8 L1161.8 592.3 L1162.6 577.5 L1163.1 567.9 L1163.4 567.9 L1164.2 567.9 L1165 567.9 L1165.7 567.9 L1165.8 567.9 L1166.6 567.9 L1167.4 567.9 L1168.2 567.9 L1168.4 567.9 L1169 567.9 L1169.8 567.9 L1170.6 567.9 L1171 567.9 L1171.4 567.9 L1172.2 567.9 L1173 567.9 L1173.8 567.9 L1174.6 567.9 L1174.9 567.9 L1175.4 566.3 L1176.2 563.6 L1176.2 563.6 L1177 561 L1177.8 558.3 L1178.6 555.6 L1178.8 554.8 L1179.4 549.3 L1180.2 541.3 L1181 533.3 L1181.5 528.6 L1181.8 525.3 L1182.6 517.3 L1182.8 515.5 L1183.4 509.3 L1184.1 502.4 L1184.2 504.1 L1185 516.9 L1185.8 529.7 L1186.6 542.5 L1186.7 544.3 L1187.4 555.3 L1188 565.3 L1188.2 562.5 L1189 549.7 L1189.3 544.3 L1189.8 536.9 L1190.6 524.1 L1191.4 511.3 L1192 502.4 L1192.2 505.3 L1193 515.3 L1193.8 525.3 L1194.6 535.1 L1194.6 535.3 L1195.4 545.3 L1196.2 555.3 L1197 565.3 L1197.2 567.9 L1197.8 570.1 L1198.6 572.9 L1199.4 575.8 L1199.8 577.4 L1200.2 578.7 L1201 581.6 L1201.8 584.5 L1202.5 586.8 L1202.6 587.3 L1203.4 590.2 L1203.8 591.5 L1204.2 584.5 L1205 571.7 L1205.1 570.5 L1205.8 558.9 L1206.6 546.1 L1207.4 533.3 L1207.7 528.6 L1208.2 532.4 L1209 538.4 L1209.8 544.4 L1210.6 550.4 L1211.4 556.4 L1212.2 562.4 L1212.9 567.9 L1213 567.9 L1213.8 567.9 L1214.6 567.9 L1215.4 567.9 L1216.2 567.9 L1217 567.9 L1217.8 567.9 L1218.2 567.9 L1218.6 566 L1219.4 562.3 L1220.2 558.5 L1221 554.8 L1221.8 551.1 L1222.1 549.6 L1222.6 550.8 L1223.4 553 L1223.4 553.1 L1224.2 555.1 L1225 557.2 L1225.8 559.4 L1226.1 560.1 L1226.6 565.9 L1227.4 574.4 L1228.2 582.9 L1228.7 588 L1229 591.5 L1229.8 600 L1230 602 L1230.6 590.6 L1231.3 577.5 L1231.4 575.7 L1232.2 560.8 L1233 545.8 L1233.8 530.9 L1233.9 528.6 L1234.6 538.1 L1235.4 549.3 L1236.2 560.5 L1236.5 565.3 L1237 571.7 L1237.8 582.9 L1238.6 594.1 L1239.2 602 L1239.4 599.9 L1240.2 592.7 L1241 585.5 L1241.8 578.3 L1242.6 571.1 L1243.4 563.9 L1244.2 556.7 L1244.4 554.8 L1245 556.3 L1245.8 558.3 L1246.6 560.3 L1247.4 562.3 L1248.2 564.3 L1248.3 564.6 L1249 566.3 L1249.7 567.9 L1249.8 568.1 L1250.6 568.9 L1251 569.2 L1251.4 569.7 L1252.2 570.5 L1253 571.3 L1253.6 571.9 L1253.8 572.1 L1254.6 572.9 L1254.9 573.2 L1255.4 566.5 L1256.2 555.7 L1257 544.9 L1257.8 534.1 L1258.6 523.3 L1259.4 512.5 L1260.1 502.4 L1260.2 502.5 L1261 504.9 L1261.8 507.3 L1262.6 509.7 L1263.4 512.1 L1264.2 514.5 L1265 516.9 L1265.4 518.1 L1265.8 518.9 L1266.6 520.5 L1267.4 522.1 L1268.2 523.7 L1269 525.3 L1269.8 526.9 L1270.6 528.5 L1270.6 528.6 L1271.4 529 L1272.2 529.4 L1273 529.8 L1273.8 530.2 L1274.6 530.6 L1275.4 531 L1275.9 531.2 L1276.2 528.1 L1277 520.1 L1277.8 512.1 L1278.6 504.1 L1279.4 496.1 L1279.8 491.9 L1280.2 507.9 L1281 541.5 L1281.8 575.1 L1282.4 602 L1282.6 602 L1283.4 602 L1283.8 602 L1283.8 536.5 L1283.4 536.5 L1282.6 536.5 L1282.4 536.5 L1281.8 525.5 L1281 511.9 L1280.2 498.3 L1279.8 491.9 L1279.4 496.1 L1278.6 504.1 L1277.8 512.1 L1277 520.1 L1276.2 528.1 L1275.9 531.2 L1275.4 531 L1274.6 530.6 L1273.8 530.2 L1273 529.8 L1272.2 529.4 L1271.4 529 L1270.6 528.6 L1270.6 528.5 L1269.8 526.9 L1269 525.3 L1268.2 523.7 L1267.4 522.1 L1266.6 520.5 L1265.8 518.9 L1265.4 518.1 L1265 516.9 L1264.2 514.5 L1263.4 512.1 L1262.6 509.7 L1261.8 507.3 L1261 504.9 L1260.2 502.5 L1260.1 502.4 L1259.4 502.4 L1258.6 502.4 L1257.8 502.4 L1257 502.4 L1256.2 502.4 L1255.4 502.4 L1254.9 502.4 L1254.6 502.4 L1253.8 502.4 L1253.6 502.4 L1253 502.4 L1252.2 502.4 L1251.4 502.4 L1251 502.4 L1250.6 502.4 L1249.8 502.4 L1249.7 502.4 L1249 506.3 L1248.3 510.2 L1248.2 511.1 L1247.4 515.9 L1246.6 520.7 L1245.8 525.5 L1245 530.3 L1244.4 533.8 L1244.2 532.5 L1243.4 527.7 L1242.6 522.9 L1241.8 518.1 L1241 513.3 L1240.2 508.5 L1239.4 503.7 L1239.2 502.4 L1238.6 505.8 L1237.8 510.6 L1237 515.4 L1236.5 518.1 L1236.2 520.2 L1235.4 525 L1234.6 529.8 L1233.9 528.6 L1233.8 530.9 L1233 529.2 L1232.2 525.2 L1231.4 521.2 L1231.3 520.7 L1230.6 517.2 L1230 514.2 L1229.8 513.2 L1229 509.2 L1228.7 507.6 L1228.2 506.2 L1227.4 503.8 L1226.6 501.4 L1226.1 499.7 L1225.8 499 L1225 496.6 L1224.2 494.2 L1223.4 491.9 L1223.4 491.9 L1222.6 492.3 L1222.1 492.5 L1221.8 492.7 L1221 493.1 L1220.2 493.5 L1219.4 493.9 L1218.6 494.3 L1218.2 494.5 L1217.8 494.3 L1217 493.9 L1216.2 493.5 L1215.4 493.1 L1214.6 492.7 L1213.8 492.3 L1213 491.9 L1212.9 491.9 L1212.2 495.1 L1211.4 498.6 L1210.6 502 L1209.8 505.5 L1209 509 L1208.2 512.4 L1207.7 514.6 L1207.4 515.9 L1206.6 519.4 L1205.8 522.8 L1205.1 526 L1205 525.5 L1204.2 520.3 L1203.8 517.4 L1203.4 515.1 L1202.6 509.9 L1202.5 508.9 L1201.8 504.7 L1201 499.5 L1200.2 494.3 L1199.8 491.9 L1199.4 493.2 L1198.6 495.6 L1197.8 498 L1197.2 499.7 L1197 500.4 L1196.2 502.8 L1195.4 505.2 L1194.6 507.6 L1194.6 507.6 L1193.8 506.8 L1193 506 L1192.2 505.2 L1192 502.4 L1191.4 504.4 L1190.6 503.6 L1189.8 502.8 L1189.3 502.4 L1189 504.1 L1188.2 508.1 L1188 508.9 L1187.4 512.1 L1186.7 515.5 L1186.6 516.1 L1185.8 520.1 L1185 516.9 L1184.2 504.1 L1184.1 502.4 L1183.4 509.3 L1182.8 515.5 L1182.6 516.6 L1181.8 510.2 L1181.5 507.6 L1181 503.8 L1180.2 497.4 L1179.4 491 L1178.8 486.6 L1178.6 488.1 L1177.8 492.9 L1177 497.7 L1176.2 502.4 L1176.2 502.4 L1175.4 502.4 L1174.9 502.4 L1174.6 502.4 L1173.8 502.4 L1173 502.4 L1172.2 502.4 L1171.4 502.4 L1171 502.4 L1170.6 502.4 L1169.8 502.4 L1169 502.4 L1168.4 502.4 L1168.2 502.4 L1167.4 502.4 L1166.6 502.4 L1165.8 502.4 L1165.7 502.4 L1165 511.2 L1164.2 520.8 L1163.4 530.4 L1163.1 533.8 L1162.6 533.9 L1161.8 534.1 L1161.4 534.1 L1161 533.5 L1160.2 532.3 L1159.4 531.1 L1158.6 529.9 L1158.3 529.4 L1157.8 528.5 L1157.5 527.9 L1157 526.9 L1156.2 525.3 L1155.4 523.7 L1155.1 523.2 L1154.6 522.1 L1153.8 520.5 L1153.6 520 L1153 520.2 L1152.2 520.5 L1151.4 520.8 L1150.6 521 L1150.4 521.1 L1149.8 521.3 L1149.7 521.4 L1149 521.6 L1148.9 521.6 L1148.2 524.4 L1147.4 527.6 L1147.3 527.9 L1146.6 530.8 L1145.8 534 L1145.8 534.1 L1145 533.9 L1144.2 533.7 L1143.4 533.5 L1142.6 533.3 L1142.6 533.3 L1141.8 533.1 L1141.1 532.9 L1141 532.9 L1140.2 532.7 L1139.5 532.6 L1139.4 530.5 L1138.6 514.5 L1137.8 498.5 L1137.2 485.6 L1137 489.3 L1136.2 507.9 L1135.4 526.6 L1134.8 540.4 L1134.6 540.3 L1133.8 539.9 L1133 539.5 L1132.2 539.1 L1131.7 538.8 L1131.4 537.4 L1130.6 533.4 L1130.1 531 L1129.8 529.4 L1129 525.4 L1128.6 523.2 L1128.2 524.1 L1127.4 526.3 L1127 527.3 L1126.6 528.4 L1125.8 530.5 L1125.4 531.5 L1125 532.7 L1124.2 534.8 L1123.9 535.7 L1123.4 534.3 L1122.6 531.9 L1121.8 529.5 L1121 527.1 L1120.2 524.7 L1119.4 522.3 L1119.2 521.6 L1118.6 515.1 L1117.8 505.9 L1117 496.7 L1116.8 494.6 L1116.2 487.5 L1116 485.6 L1115.4 492.1 L1114.6 500.1 L1114.5 501.3 L1113.8 508.7 L1113 517.5 L1112.2 526.3 L1112.1 527.1 L1111.4 535.1 L1111.3 535.7 L1110.6 533.4 L1109.8 531 L1109 528.6 L1108.2 526.3 L1108.2 526.2 L1107.4 523.8 L1106.6 521.4 L1105.9 519.3 L1105.8 519 L1105.1 516.9 L1105 517.4 L1104.2 521.8 L1103.5 525.5 L1103.4 526.2 L1102.6 530.6 L1102 534.1 L1101.8 534 L1101 533.2 L1100.2 532.4 L1099.4 531.6 L1098.8 531 L1098.6 530.8 L1097.8 530 L1097.3 529.4 L1097 530.7 L1096.2 534.3 L1095.4 537.9 L1094.6 541.5 L1094.1 543.5 L1093.8 542.9 L1093 541.6 L1092.2 540.3 L1091.4 538.9 L1090.6 537.6 L1089.8 536.3 L1089.5 535.7 L1089 535.7 L1088.2 535.7 L1087.4 535.7 L1086.6 535.7 L1085.8 535.7 L1085 535.7 L1084.2 535.7 L1083.4 535.7 L1082.6 535.7 L1081.8 535.7 L1081.6 535.7 L1081 531.9 L1080.2 527.1 L1079.4 522.3 L1078.6 517.5 L1078.5 516.9 L1077.8 514.6 L1077 511.9 L1076.9 511.7 L1076.2 509.2 L1076.2 509.1 L1075.4 504 L1074.6 498.7 L1073.8 493.5 L1073.8 493.6 L1073 499.6 L1072.2 505.6 L1071.5 511.1 L1071.4 511.6 L1070.7 516.9 L1070.6 517.3 L1069.9 520 L1069.8 520.5 L1069.1 523.2 L1069 523.7 L1068.2 526.9 L1067.6 529.4 L1067.4 529.6 L1066.8 530.2 L1066.6 530.4 L1066 531 L1065.8 531.2 L1065 532 L1064.4 532.6 L1064.2 532.6 L1063.4 532.6 L1062.9 532.6 L1062.6 532.6 L1061.8 532.6 L1061.3 532.6 L1061 532.6 L1060.2 532.6 L1059.4 532.6 L1058.6 532.6 L1058.2 532.6 L1057.8 532.6 L1057 532.6 L1056.6 532.6 L1056.2 532.8 L1055.4 533.4 L1054.6 533.9 L1053.8 534.4 L1053.5 534.6 L1053 535 L1052.2 535.5 L1051.9 535.7 L1051.4 531.9 L1050.6 526 L1049.8 520.1 L1049.6 518.5 L1049 521.5 L1048.8 522.7 L1048.2 525.8 L1047.4 530.1 L1047.2 531 L1046.6 531.9 L1046.4 532.2 L1045.8 533.1 L1045 534.3 L1044.2 535.5 L1044.1 535.7 L1043.4 535.9 L1042.6 536.1 L1041.8 536.3 L1041 536.5 L1040.2 536.7 L1039.4 536.9 L1038.6 537.1 L1037.8 537.3 L1037.8 537.2 L1037 537.1 L1036.2 537 L1035.4 536.8 L1034.6 536.7 L1033.8 536.6 L1033 536.4 L1032.2 536.3 L1031.4 536.2 L1030.6 536 L1029.8 535.9 L1029 535.8 L1028.5 535.7 L1028.2 535.6 L1027.4 535.4 L1026.9 535.3 L1026.6 535.2 L1025.8 535 L1025 534.8 L1024.2 534.6 L1023.4 534.4 L1022.6 534.2 L1022.2 534.1 L1021.8 533.3 L1021 531.7 L1020.2 530.1 L1019.9 529.4 L1019.4 528.5 L1019.1 527.9 L1018.6 528.8 L1017.8 530.4 L1017.5 531 L1017 532 L1016.2 533.6 L1015.9 534.1 L1015.4 534.1 L1014.6 534.1 L1013.8 534.1 L1013 534.1 L1012.2 534.1 L1011.4 534.1 L1011.3 534.1 L1010.6 534.1 L1009.8 534.1 L1009.7 534.1 L1009 532 L1008.2 529.6 L1008.1 529.4 L1007.4 527.2 L1006.6 524.8 L1006.6 524.7 L1005.8 537.8 L1005 551.3 L1005 551.4 L1004.2 557.2 L1003.4 563.1 L1003.3 563.8 L1002.6 558 L1002.5 557.2 L1001.8 551.2 L1001.7 550.5 L1001 544.4 L1000.2 537.6 L1000.2 537.3 L999.4 536.9 L998.6 536.5 L997.8 536.1 L997 535.7 L997 535.5 L996.2 532.3 L995.4 529.1 L994.6 525.9 L993.9 523.2 L993.8 523.4 L993 525 L992.2 526.6 L991.4 528.2 L990.8 529.4 L990.6 527.6 L989.8 519.6 L989 511.6 L988.4 506 L988.2 507.6 L987.7 511.3 L987.4 513 L986.6 518.4 L985.8 523.9 L985 529.3 L984.5 532.6 L984.2 530.9 L983.4 526.9 L982.6 522.9 L981.8 518.9 L981.4 516.9 L981 514.9 L980.2 510.9 L979.4 506.9 L978.6 502.9 L978.3 501.3 L977.8 499.9 L977 497.5 L976.2 495.1 L975.4 492.7 L975.1 491.9 L974.6 494.6 L973.8 498.6 L973.6 499.7 L973 502.6 L972.8 503.6 L972.2 506.6 L972 507.5 L971.4 510 L971.2 510.7 L970.6 513.2 L969.8 516.4 L969.7 516.9 L969 514.3 L968.9 513.8 L968.2 511.1 L967.4 507.9 L967.3 507.5 L966.6 514.3 L965.8 521.7 L965.8 522.1 L965 529.2 L965 529.4 L964.2 530.5 L963.4 531.5 L963.4 531.5 L962.6 532.6 L962.6 532.4 L961.8 529.2 L961 526 L960.2 522.8 L959.4 519.6 L958.7 516.9 L958.6 516.4 L957.9 513.8 L957.8 513.9 L957 514.7 L956.2 515.5 L955.4 516.3 L954.8 516.9 L954.6 517.8 L953.8 521 L953 524.2 L952.2 527.4 L951.7 529.4 L951.4 527.3 L950.6 521.3 L949.8 515.3 L949 509.3 L948.6 506 L948.2 509.2 L947.4 516.4 L946.6 523.6 L945.8 530.8 L945.4 534.1 L945 534.1 L944.2 534.1 L943.4 534.1 L942.6 534.1 L941.8 534.1 L941 534.1 L940.7 534.1 L940.2 534.3 L939.4 534.5 L938.6 534.7 L937.8 534.9 L937.6 534.9 L937 535.1 L936.2 535.3 L935.4 535.5 L934.6 535.7 L934.5 535.7 L933.8 533.7 L933 531.3 L932.9 531 L932.2 528.9 L931.4 526.5 L931.3 526.3 L930.6 527.1 L929.8 527.9 L929.8 527.9 L929 528.7 L928.2 529.4 L928.2 529.6 L927.4 534.9 L927.4 535.2 L926.6 540.8 L925.9 545.9 L925.8 546.4 L925.1 551.3 L925 551 L924.2 547.8 L923.4 544.6 L922.6 541.4 L922 538.8 L921.8 539.3 L921 541.7 L920.2 544.1 L919.4 546.5 L918.8 548.2 L918.6 549.6 L917.8 554.4 L917 559.2 L916.2 564 L915.7 567 L915.4 566.3 L914.6 564.4 L913.8 562.6 L913 560.8 L912.2 558.9 L911.4 557.1 L910.6 555.3 L910.2 554.5 L909.8 555.7 L909 557.9 L908.2 560.2 L907.4 562.4 L906.6 564.6 L906.3 565.4 L905.8 560.4 L905 552.8 L904.2 545.2 L903.4 537.6 L903.2 535.7 L902.6 539.9 L901.8 545.5 L901 551.1 L900.2 556.7 L900.1 557.6 L899.4 559.9 L898.6 562.7 L898.5 563.1 L897.8 565.5 L897 568.3 L896.9 568.5 L896.2 565.9 L895.4 563.1 L894.6 560.3 L893.8 557.6 L893.8 557.5 L893 554.3 L892.3 551.3 L892.2 551.1 L891.5 548.2 L891.4 547.5 L890.7 540.4 L890.6 539.5 L889.8 531.5 L889 523.5 L888.3 516.9 L888.2 518.8 L887.6 527.6 L887.4 529.7 L886.6 540.6 L886 548.8 L885.8 551.5 L885 562.4 L884.4 570.1 L884.2 570 L883.6 569.6 L883.4 569.5 L882.6 569 L881.8 568.5 L881 568 L880.2 567.6 L879.7 567.3 L879.4 567.1 L878.6 566.6 L877.8 566.1 L877 565.6 L876.6 565.4 L876.2 566 L875.4 567.2 L875 567.7 L874.6 568.4 L873.8 569.6 L873.5 570.1 L873 570.1 L872.2 570.1 L871.9 570.1 L871.4 570.1 L870.6 570.1 L870.4 570.1 L869.8 570.1 L869 570.1 L868.8 570.1 L868.2 565.7 L867.4 559.7 L866.6 553.7 L865.8 547.7 L865.7 546.6 L865 549.7 L864.2 553.5 L863.4 557.2 L863.3 557.6 L862.6 560.2 L862.5 560.4 L861.8 563 L861 565.9 L861 566 L860.2 568.8 L859.4 571.7 L859.4 571.6 L858.6 561.9 L858.6 561.6 L857.8 551.6 L857 541.6 L856.3 532.6 L856.2 533.4 L855.4 541.4 L854.7 548.2 L854.6 549.4 L853.9 556 L853.8 557.4 L853.2 563.8 L853 563.2 L852.4 560.7 L852.2 560 L851.4 556.8 L850.8 554.5 L850.6 555.7 L849.8 560.5 L849 565.3 L848.5 568.5 L848.2 568.5 L847.4 568.5 L846.6 568.5 L845.8 568.5 L845 568.5 L844.2 568.5 L843.4 568.5 L842.6 568.5 L842.2 568.5 L841.8 565.3 L841 558.9 L840.2 552.5 L839.4 546.1 L839.1 543.5 L838.6 539.7 L838.3 537.3 L837.8 541 L837 547.1 L836.2 553.2 L835.4 559.2 L834.6 565.3 L834.4 567 L833.8 567 L833 567 L832.8 567 L832.2 567 L831.4 567 L831.3 567 L830.6 567 L829.8 567 L829 567 L828.2 567 L827.4 567 L827.3 567 L826.6 567 L826.6 567 L825.8 567 L825 567 L825 567 L824.2 567.7 L823.4 568.5 L822.6 569.3 L822.5 569.3 L821.8 570 L821.7 570.1 L821 570.1 L820.2 570.1 L819.4 570.1 L818.6 570.1 L817.8 570.1 L817 570.1 L817 570.1 L816.2 570.1 L815.5 570.1 L815.4 570 L814.7 568.8 L814.6 568.6 L813.9 567.5 L813.8 567.3 L813 566 L812.2 564.6 L811.4 563.3 L810.8 562.3 L810.6 562 L809.8 560.6 L809.2 559.7 L809 559.3 L808.2 558 L807.4 556.6 L806.6 555.3 L806.1 554.5 L805.8 554.8 L805 555.9 L804.2 557 L803.4 558 L803 558.6 L802.6 559.1 L801.8 560.2 L801.4 560.7 L801 560.4 L800.2 559.8 L799.4 559.1 L799.1 558.8 L798.6 558.5 L797.8 557.8 L797.5 557.6 L797 541.4 L796.2 514.7 L795.9 505.4 L795.4 488 L795.1 479.4 L794.6 482.6 L793.8 487.4 L793.6 488.8 L793 492.2 L792.8 493.5 L792.2 497.9 L791.4 503.9 L791.2 505.2 L790.6 509.9 L790.4 511.1 L789.8 515.9 L789.7 516.9 L789 526.6 L788.9 528.3 L788.2 538.2 L787.4 549.8 L786.6 561.4 L786.5 562.3 L785.8 562 L785.8 562 L785 561.7 L784.2 561.3 L783.4 561 L782.6 560.7 L782.6 560.7 L781.8 560.2 L781.1 559.7 L781 559.6 L780.2 559.1 L779.4 558.6 L778.6 558 L777.9 557.6 L777.8 557.7 L777 558.2 L776.2 558.7 L775.4 559.3 L774.8 559.7 L774.6 559.8 L773.8 560.3 L773.2 560.7 L773 560.6 L772.2 560.4 L771.4 560.1 L770.6 559.8 L770.1 559.7 L769.8 559.6 L769 559.3 L768.6 559.1 L768.2 558.4 L767.4 556.8 L766.6 555.2 L765.8 553.6 L765.4 552.9 L765 552 L764.2 550.4 L763.9 549.8 L763.4 550.4 L762.6 551.6 L761.8 552.7 L761.5 553.1 L761 553.9 L760.7 554.2 L760.2 555 L759.4 556.1 L758.6 557.3 L758.4 557.6 L757.8 545.8 L757.6 541.9 L757.3 535.7 L757 529.8 L756.8 526.3 L756.2 526.3 L755.4 526.3 L754.6 526.3 L753.8 526.3 L753 526.3 L752.2 526.3 L751.4 526.3 L750.6 526.3 L749.8 526.3 L749 526.3 L748.2 526.3 L747.4 526.3 L746.6 526.3 L745.8 526.3 L745 526.3 L744.2 526.3 L743.8 526.3 L743.4 528.5 L742.6 532.5 L741.8 536.5 L741.2 539.6 L741 540.5 L740.2 544.5 L739.4 548.5 L738.8 551.3 L738.6 550.5 L737.8 547.7 L737 544.9 L736.5 543.1 L736.2 542.1 L735.7 540.4 L735.4 541.8 L734.6 545.4 L734.1 547.4 L733.8 549 L733 552.6 L732.6 554.5 L732.2 554.6 L731.8 554.8 L731.4 554.9 L730.6 555.2 L729.8 555.6 L729.5 555.7 L729 555.9 L728.2 556.2 L727.9 556.3 L727.4 556.5 L726.6 556.8 L726.3 557 L725.8 557.2 L725 557.5 L724.8 557.6 L724.2 559.6 L724 560.3 L723.7 561.4 L723.4 562.4 L723.2 563.1 L722.6 565.2 L722.4 565.8 L721.8 568 L721.6 568.5 L721 566.4 L720.2 563.7 L720.1 563.3 L719.4 561.1 L719.3 560.7 L718.6 558.4 L718.5 558.1 L717.8 555.7 L717 553.1 L716.9 552.9 L716.2 556.6 L716.2 556.8 L715.4 560.6 L714.6 564.6 L714.6 564.6 L713.8 568.5 L713.8 568.5 L713 568.5 L712.2 568.5 L711.4 568.5 L710.6 568.5 L709.8 568.5 L709 568.5 L708.2 568.5 L707.6 568.5 L707.4 568.3 L706.6 567.3 L705.8 566.3 L705 565.3 L704.2 564.3 L703.4 563.3 L702.6 562.3 L701.8 561.3 L701.3 560.7 L701 559 L700.2 554.6 L699.4 550.2 L698.6 545.8 L698.2 543.5 L697.8 546.7 L697 553.5 L696.2 560.3 L695.4 567.1 L695 570.1 L694.6 570.1 L694.3 570.1 L693.8 570.1 L693 570.1 L692.2 570.1 L691.9 570.1 L691.4 570.1 L690.6 570.1 L689.8 570.1 L689 570.1 L688.2 570.1 L687.4 570.1 L686.6 570.1 L686.4 570.1 L685.8 570.1 L685.7 570.1 L685 569.2 L684.2 568.1 L683.4 567.1 L683.3 567 L682.6 559.3 L682.5 558.6 L681.8 550.8 L681 542.2 L681 541.9 L680.2 538.9 L680.2 538.8 L679.4 535.7 L679.4 535.7 L678.6 532.6 L678.6 532.6 L677.8 535.2 L677.8 535.3 L677.1 537.8 L677 538 L676.3 540.4 L676.2 540.5 L675.5 540.4 L675.4 540.4 L674.6 540.4 L673.9 540.4 L673.8 540.4 L673.2 540.4 L673 545.9 L672.2 556.5 L671.4 562.5 L670.8 567 L670.6 567 L669.8 567 L669 567 L668.2 567 L667.4 567 L666.6 567 L665.8 567 L665 567 L664.2 567 L663.8 567 L663.4 566.4 L662.6 565.2 L661.8 564 L661 562.8 L660.6 562.3 L660.2 561.6 L659.4 560.4 L658.6 559.2 L657.8 558 L657.5 557.6 L657 558.1 L656.7 558.4 L656.2 558.9 L655.4 559.7 L654.6 560.5 L654.4 560.7 L653.8 561.3 L653 562.1 L652.2 562.9 L651.4 563.7 L651.3 563.8 L650.6 563.8 L650.5 563.8 L649.8 563.8 L649 563.8 L648.2 563.8 L647.4 563.8 L647.3 563.8 L646.6 563.8 L645.8 563.8 L645 563.8 L645 563.8 L644.2 564.1 L643.4 564.3 L643.3 564.3 L642.6 564.5 L641.8 564.7 L641 565 L640.2 565.2 L639.4 565.4 L638.6 565.6 L637.8 565.9 L637 566.1 L637 566.1 L636.3 566.3 L636.2 566.3 L635.5 566.5 L635.4 566.5 L634.6 566.8 L633.9 567 L633.8 565.8 L633 557.3 L632.3 550.3 L632.2 548.7 L631.6 541.9 L631.4 543 L630.6 548.1 L629.8 553.2 L629.2 557 L629 558.3 L628.4 562 L628.2 563.5 L627.7 567 L627.4 564.9 L626.9 560.7 L626.6 558.5 L626.1 554.5 L625.8 552.1 L625.3 548.2 L625 545.7 L624.5 541.9 L624.2 543.8 L623.7 541.9 L623.4 548.2 L623 550.7 L622.6 552.7 L622.2 555.1 L621.8 557.2 L621.4 559.5 L621 561.7 L620.6 563.8 L620.2 559.5 L619.8 555.6 L619.4 551.1 L619.1 547.4 L618.6 542.7 L617.8 534.3 L617.5 531 L617 536.5 L616.7 539.9 L616.2 545.6 L615.4 554.6 L615.1 557.6 L614.6 558.7 L614.4 559.1 L613.8 560.3 L613 561.9 L612.8 562.3 L612.2 563.5 L612 563.8 L611.4 559.5 L611.2 558.4 L610.6 553.9 L609.8 544.2 L609.7 541.9 L609 542.7 L608.9 541.9 L608.2 539.9 L608.1 539.6 L607.4 537.5 L607.3 537.3 L606.6 535.1 L606.5 534.9 L605.8 532.7 L605.8 532.6 L605 526.9 L605 526.7 L604.2 520.9 L604.2 520.8 L603.4 514.9 L602.6 509.1 L602.6 509.5 L601.8 519.3 L601.8 519.9 L601.1 529.4 L601 529.6 L600.2 532 L599.8 533.2 L599.5 534.1 L599.4 534.4 L598.6 536.8 L597.9 538.8 L597.8 538.1 L597.2 534.9 L597 534.1 L596.2 530.1 L595.6 521.6 L595.4 523 L594.8 523.2 L594.6 525.9 L594 533.1 L593.8 534.7 L593.2 538.8 L593 545.7 L592.5 553.7 L592.2 557.1 L591.7 563.8 L591.4 561 L590.9 556 L590.6 553 L590.1 548.2 L589.8 545 L589 537 L588.6 532.6 L588.2 526.4 L587.4 512.6 L586.6 498.7 L586.2 491.9 L585.8 499 L585 512.8 L584.2 526.7 L583.9 532.6 L583.4 537.6 L582.6 546.4 L581.8 555.2 L581.5 558.4 L581 564 L580.7 567 L580.2 566.3 L579.4 565.2 L578.6 564.1 L577.8 563.1 L577.6 562.8 L577 562 L576.2 560.9 L576 560.7 L575.4 554.9 L574.6 547.7 L574.5 546.6 L573.8 540.5 L573 533.3 L572.9 532.6 L572.2 532.8 L571.4 533.1 L571.3 533.1 L570.6 533.3 L569.8 533.6 L569 533.9 L568.2 534.1 L568.2 534.3 L567.4 539.3 L566.6 544.4 L565.8 549.5 L565.1 553.9 L565 554.5 L564.3 558.9 L564.2 559.6 L563.5 563.8 L563.4 562.9 L562.7 558 L562.6 556.9 L561.8 550.9 L561.2 546.2 L561 544.9 L560.4 540.4 L560.2 535.3 L559.4 515.3 L558.8 501.3 L558.6 501.3 L557.8 501.3 L557.3 501.3 L557 501.3 L556.5 501.3 L556.2 501.3 L555.7 501.3 L555.4 505.9 L554.9 513 L554.6 516.4 L553.8 522.8 L553.4 526.3 L553 529.2 L552.6 532.6 L552.2 536.4 L551.4 544.4 L550.6 552.4 L550.2 556 L549.8 560.4 L549.5 563.8 L549 560.9 L548.2 555.8 L547.9 553.8 L547.4 550.7 L546.6 545.6 L546.3 543.8 L545.8 540.5 L545.5 538.8 L545 540.3 L544.2 542.4 L543.4 544.5 L543.2 545.1 L542.6 547.5 L542.4 548.2 L541.8 550.7 L541.6 551.3 L541 553.9 L540.2 557.1 L540.1 557.6 L539.4 552.9 L539.3 552.1 L538.6 547.3 L537.8 541.7 L537 536.1 L536.9 535.7 L536.2 532.3 L536.2 532.2 L535.4 528.7 L534.6 525.1 L534.6 525.1 L533.8 521.6 L533.8 521.7 L533 525.3 L532.2 528.9 L531.4 532.5 L530.7 535.7 L530.6 536.1 L529.8 540.1 L529 544.1 L528.2 548.1 L527.6 551.3 L527.4 549.9 L526.6 542.7 L525.8 535.5 L525 528.3 L524.4 523.2 L524.2 525.7 L523.4 534.5 L522.6 543.3 L522.1 549 L521.8 552.1 L521.3 557.6 L521 557 L520.2 555.4 L519.7 554.5 L519.4 553.8 L518.6 552.2 L518.2 551.3 L517.8 547.2 L517 529.8 L516.6 516.9 L516.2 529.6 L515.4 520.8 L515 516.9 L514.6 519.6 L514.3 521.6 L513.8 524.4 L513 529.2 L512.7 531 L512.2 534 L511.9 535.7 L511.4 532.8 L511.1 531.4 L510.6 528.4 L509.8 524 L509.6 522.8 L509 519.6 L508.8 518.5 L508.2 525.9 L507.4 535.9 L507.2 538 L506.6 545.9 L506.4 547.8 L505.8 555.9 L505.7 557.6 L505 559.2 L504.9 559.5 L504.2 561.2 L504.1 561.5 L503.4 563.2 L502.6 565.2 L502.5 565.4 L501.8 563.6 L501.8 563.4 L501 561.6 L501 561.5 L500.2 559.6 L499.4 557.6 L499.4 557.5 L498.6 548.2 L498.6 547.9 L497.8 538.3 L497 528.7 L496.3 520 L496.2 520.2 L495.4 521.4 L494.6 522.6 L493.9 523.6 L493.8 523.8 L493.2 524.7 L493 524 L492.4 520.8 L492.2 520 L491.6 516.9 L491.4 516 L490.6 512 L490 509.1 L489.8 510.9 L489.2 515.4 L489 517.3 L488.5 521.6 L488.2 522.3 L487.7 523.6 L487.4 524.3 L486.9 525.5 L486.6 526.3 L485.8 528.3 L485.3 529.4 L485 531.9 L484.2 537.7 L483.8 540.9 L483.4 543.6 L482.6 549.5 L482.2 552.4 L481.8 555.3 L481 561.2 L480.6 563.8 L480.2 563.9 L479.9 564 L479.4 564.1 L478.6 564.3 L477.8 564.5 L477 564.7 L476.2 564.9 L475.4 565.1 L474.6 565.3 L474.4 565.4 L473.8 564.5 L473.6 564.2 L473 563.3 L472.2 562.1 L471.4 560.9 L471.3 560.7 L470.6 552.5 L469.8 542.5 L469 532.5 L468.2 522.5 L468.1 521.6 L467.4 531.5 L466.6 542.3 L466.6 542.8 L465.8 553.2 L465 563.8 L465 563.6 L464.2 550.7 L463.4 537.8 L463.3 536.1 L462.6 524.9 L462.5 523.5 L461.8 512 L461 487.8 L460.9 485.6 L460.2 486.2 L460.2 485.6 L459.4 500.9 L458.6 516.9 L458.6 516.9 L457.8 532.9 L457 548.2 L457 548 L456.3 544.3 L456.2 544 L455.4 540 L454.7 536.5 L454.6 536 L453.9 532.6 L453.8 533.1 L453.1 536.5 L453 537.1 L452.2 541.1 L451.4 545.1 L450.8 548.2 L450.6 547.5 L449.8 544.3 L449 541.1 L448.4 535.7 L448.2 537.9 L447.7 535.7 L447.4 535.7 L446.6 535.7 L446.1 535.7 L445.8 535.7 L445.3 535.7 L445 535.7 L444.2 535.7 L443.4 535.7 L443 535.7 L442.6 533.2 L441.8 527.6 L441 522 L440.6 519.3 L440.2 516.4 L439.8 513.8 L439.4 516.5 L438.6 521.6 L437.8 526.7 L437.5 528.6 L437 531.7 L436.2 536.8 L435.4 541.9 L435.1 543.5 L434.6 547 L433.8 552.2 L433 557.4 L432.2 562.6 L432 563.8 L431.4 564.1 L430.6 564.5 L430.4 564.6 L429.8 564.9 L429 565.3 L428.9 565.4 L428.2 563.7 L427.4 561.7 L426.6 559.7 L426.5 559.5 L425.8 557.7 L425.8 557.6 L425 559.9 L424.2 562.3 L423.4 564.7 L422.6 567 L422.6 566.9 L421.8 566.1 L421 565.3 L420.2 564.5 L419.5 563.8 L419.4 563.6 L418.6 562 L417.9 560.7 L417.8 560.4 L417 558.8 L416.4 557.6 L416.2 556.4 L415.6 552.1 L415.4 550.8 L414.6 545.2 L413.8 539.6 L413.2 535.7 L413 537.3 L412.2 542.7 L411.4 548 L410.6 553.3 L410.1 556.5 L409.8 558.7 L409.3 561.8 L409 564 L408.6 567 L408.2 563.4 L407.4 555.4 L407 551.3 L406.6 547.4 L405.8 539.4 L405.4 535.7 L405 538.4 L404.2 543.5 L403.9 545.7 L403.4 548.6 L402.6 553.8 L401.8 558.9 L401.5 560.7 L401 559.5 L400.7 558.8 L400.2 557.6 L399.4 555.6 L399.2 555.1 L398.6 553.7 L397.8 551.8 L397.6 551.3 L397 553.1 L396.2 555.5 L396 556 L395.4 557.9 L394.6 560.3 L394.5 560.7 L393.8 555.6 L393 549.6 L392.2 543.6 L392.1 543.1 L391.4 537.6 L391.3 537.3 L390.6 536.9 L389.8 536.5 L389.8 536.5 L389 536.1 L388.2 532.6 L388.2 532.4 L387.4 526.7 L387.4 526.4 L386.7 520.8 L386.6 520.4 L385.8 514.4 L385.1 509.1 L385 509.6 L384.2 513.6 L383.4 517.6 L382.6 521.6 L382 524.7 L381.8 527.6 L381 541.5 L380.2 555.3 L379.6 565.4 L379.4 564.7 L378.8 562.8 L378.6 562 L377.8 559.3 L377.3 557.6 L377 554.4 L376.2 545.2 L375.7 539.6 L375.4 536 L374.6 526.8 L374.1 521.6 L373.8 514.9 L373.4 506.4 L373 499.3 L372.6 491.2 L372.2 483.8 L371.4 468.2 L371.3 466.9 L371 484.7 L370.6 508.6 L370.2 529.4 L369.8 533.3 L369 540.3 L368.2 547.3 L367.9 550.1 L367.4 554.4 L366.6 561.4 L366.3 563.8 L365.8 562.5 L365.5 561.9 L365 560.5 L364.2 558.5 L363.4 556.5 L363.2 556 L362.6 557.5 L362.4 558 L361.8 559.5 L361 561.5 L360.9 561.9 L360.2 563.5 L360.1 563.8 L359.4 563.8 L358.6 563.8 L358.5 563.8 L357.8 563.8 L357 563.8 L356.9 563.8 L356.2 547 L355.4 528.9 L355.4 528.4 L354.6 510.7 L354.6 510.7 L353.8 507.5 L353.8 507.5 L353 504.3 L352.3 501.3 L352.2 501.1 L351.5 498.2 L351.4 499.3 L350.6 513.1 L349.9 525.1 L349.8 526.9 L349.1 538.5 L349 540.6 L348.2 554.4 L347.6 565.4 L347.4 565.4 L346.6 565.2 L345.8 565.1 L345 564.9 L344.2 564.8 L343.4 564.6 L342.9 564.5 L342.6 564.5 L341.8 564.4 L341 564.2 L340.2 564.1 L339.7 564 L339.4 563.9 L339 563.8 L338.6 559.6 L337.8 550 L337 540.4 L336.6 535.7 L336.2 530.8 L335.4 521.2 L335 516.9 L334.6 514.6 L333.8 510.4 L333.5 508.8 L333 506.3 L332.2 502.1 L331.9 500.7 L331.4 498 L331.1 496.6 L330.6 506.3 L329.8 520.7 L329.6 524.7 L329 535.1 L328.8 538.8 L328.2 549.5 L327.4 563.9 L327.2 567 L326.6 566.7 L326.4 566.7 L325.8 566.4 L325 566.1 L324.2 565.8 L323.4 565.4 L322.6 565.1 L322.5 565.1 L321.8 564.8 L321 564.5 L321 564.5 L320.2 564.2 L319.4 563.8 L319.4 563.8 L318.6 559.8 L317.8 556 L317.8 555.8 L317 551.8 L316.3 548.2 L316.2 547.1 L315.4 536.3 L314.7 527.1 L314.6 525.5 L313.8 514.7 L313.2 506 L313 505.9 L312.4 504.4 L312.2 504.5 L311.4 505.1 L310.8 504.8 L310.6 504.7 L310 504.4 L309.8 506.2 L309 512.6 L308.5 516.9 L308.2 519 L307.4 525.4 L306.9 529.4 L306.6 532.4 L305.8 540.4 L305 548.4 L304.2 556.4 L303.8 560.7 L303.4 558.5 L302.6 553.7 L302.2 551.3 L301.8 548.1 L301 541.7 L300.2 535.3 L299.9 532.6 L299.4 532.8 L298.6 533.1 L297.8 533.5 L297 533.8 L296.2 534.2 L295.4 534.5 L294.6 534.9 L293.8 535.3 L293 535.6 L292.8 535.7 L292.2 533.3 L291.4 530.1 L290.6 527 L289.8 523.9 L289 520.8 L288.2 517.7 L288 516.9 L287.4 519.6 L286.6 523.1 L285.8 526.6 L285 530.1 L284.2 533.7 L283.4 537.2 L282.6 540.7 L282.4 541.6 L281.8 544.2 L281.6 545.1 L281 539.7 L280.2 532.5 L280 531 L279.4 525.3 L278.6 509.4 L278.5 506 L277.8 505.4 L277 503.7 L276.9 502.8 L276.2 504.2 L276.1 504.1 L275.4 503.5 L274.6 502.9 L274.6 502.8 L273.8 519.7 L273 524.1 L272.2 528.3 L272.2 528.4 L271.4 532.6 L271.4 532.4 L270.6 527.8 L269.9 523.7 L269.8 523.3 L269 518.8 L268.3 514.8 L268.2 514.2 L267.4 509.7 L266.7 506 L266.6 508 L266 506 L265.8 515.4 L265.2 527.9 L265 530.4 L264.4 538.8 L264.2 538.7 L263.6 538.5 L263.4 538.4 L262.6 538.1 L261.8 537.8 L261 537.5 L260.2 537.1 L259.4 536.8 L258.6 536.5 L258.1 536.3 L257.8 536.2 L257 535.9 L256.6 535.7 L256.2 535.4 L255.8 535.1 L255.4 534.7 L255 534.4 L254.6 534.1 L253.8 533.5 L253.4 533.2 L253 532.8 L252.2 532.2 L251.4 531.5 L250.6 530.9 L249.8 530.3 L249 529.6 L248.8 529.4 L248.2 530.8 L247.4 532.7 L246.6 534.6 L246.4 535.1 L245.8 536.5 L245.6 536.9 L245 538.4 L244.8 538.8 L244.2 540.4 L243.4 542.3 L242.6 544.2 L242.5 544.4 L241.8 546.1 L241 548 L240.9 548.2 L240.2 547.2 L239.4 546 L238.6 544.9 L237.8 543.8 L237.8 543.8 L237 542.7 L236.2 541.6 L235.4 540.4 L234.6 539.3 L233.8 538.2 L233.1 537.3 L233 537 L232.2 535 L231.4 533 L230.6 531 L230 529.4 L229.8 529 L229.2 527.5 L229 527 L228.2 525 L227.4 523 L226.9 521.6 L226.6 521.7 L225.8 521.9 L225.3 522 L225 522.1 L224.2 522.3 L223.7 522.4 L223.4 522.5 L222.6 522.7 L221.8 522.9 L221.4 523 L221 523.1 L220.6 523.2 L220.2 521.3 L219.4 517.7 L219 516.1 L218.6 514.1 L217.8 510.5 L217.5 509.1 L217 510.3 L216.7 511.1 L216.2 512.4 L215.4 514.5 L214.6 516.6 L214.3 517.2 L213.8 518.7 L213 520.7 L212.2 522.8 L211.4 524.9 L211.2 525.4 L210.6 527 L209.8 529.1 L209.7 529.4 L209 528.3 L208.9 528.1 L208.2 527 L208.1 526.8 L207.4 525.7 L206.6 524.3 L205.8 523 L205 521.7 L205 521.6 L204.2 519.8 L203.4 518 L202.6 516.1 L202.6 516.1 L201.8 514.3 L201.8 514.2 L201.4 513.2 L201 512.4 L200.3 510.7 L200.2 511 L199.5 514.6 L199.4 515 L198.6 519 L197.9 522.4 L197.8 523 L197 527 L196.2 531 L195.6 532.6 L195.4 532.8 L194.6 533.9 L194 534.1 L193.8 534.1 L193.2 534.1 L193 534.1 L192.2 534.1 L191.4 534.1 L190.9 534.1 L190.6 533.3 L190.1 531.8 L189.8 530.9 L189 528.5 L188.2 526.1 L187.8 524.7 L187.4 523.7 L186.6 521.3 L186.2 520 L185.8 518.9 L185 516.5 L184.6 515.4 L184.2 518.7 L183.4 524.8 L183.1 527.3 L182.6 531 L182.3 533.3 L181.8 537.1 L181.5 539.3 L181 543.2 L180.7 545.3 L180.2 549.4 L179.9 551.3 L179.4 548.8 L178.6 545.1 L178.4 544 L177.8 541.3 L177 537.6 L176.8 536.7 L176.2 533.9 L175.4 530.1 L175.3 529.4 L174.6 528.3 L173.8 527 L173.7 526.8 L173 525.7 L172.9 525.5 L172.2 524.3 L171.4 523 L170.6 521.7 L170.6 521.6 L169.8 521.4 L169 521.1 L169 521.1 L168.2 520.8 L167.4 520.6 L167.4 520.6 L166.6 520.3 L166.6 520.3 L166.2 520.2 L165.9 520 L165.8 520.5 L165 526.1 L164.3 531 L164.2 531.7 L163.4 537.3 L162.6 542.9 L162 547.4 L161.8 548.5 L161.2 552.9 L161 551.7 L160.2 546.1 L159.4 540.5 L158.6 534.9 L158 531 L157.8 529.3 L157 523.7 L156.5 520 L156.2 518.1 L155.4 512.5 L154.9 509.1 L154.6 512.1 L154.1 516.5 L153.8 519.7 L153.4 524 L153 527.3 L152.6 531.4 L152.2 534.9 L151.8 538.8 L151.4 537.9 L150.6 536.1 L149.8 534.3 L149 532.5 L148.7 531.8 L148.2 530.7 L147.4 528.9 L147.1 528.3 L146.6 527.1 L145.8 525.3 L145.5 524.7 L145 526 L144.2 527.9 L143.4 529.7 L143.2 530.2 L142.6 531.6 L142.4 532 L141.8 533.5 L141 535.3 L140.8 535.7 L140.2 534.4 L139.4 532.8 L139.3 532.6 L138.6 531.2 L137.8 529.6 L137 528 L136.2 526.4 L136.2 526.3 L135.4 524.8 L135.4 524.7 L134.6 523.5 L133.8 522.2 L133.8 522.2 L133 521 L133 520.9 L132.2 519.7 L131.5 518.5 L131.4 518.9 L130.6 524.1 L129.9 528.6 L129.8 529.3 L129.1 533.7 L129 534.5 L128.3 538.8 L128.2 538.7 L127.4 538.1 L126.8 537.6 L126.6 537.4 L125.8 536.8 L125 536.1 L124.2 535.5 L123.6 535.1 L123.4 534.9 L122.6 534.2 L122.1 533.8 L121.8 533.6 L121 532.9 L120.5 532.6 L120.2 531 L119.7 528.6 L119.4 527 L118.9 524.7 L118.6 523 L117.8 519 L117.4 516.9 L117 515.4 L116.2 512.2 L115.4 509 L114.6 505.8 L114.3 504.4 L113.8 502.6Z" fill="#479cf4" stroke="#479cf4"/>
<path d="M113.8 502.6 L114.3 504.4 L114.6 505.8 L115.4 509 L116.2 512.2 L117 515.4 L117.4 516.9 L117.8 519 L118.6 523 L118.9 524.7 L119.4 527 L119.7 528.6 L120.2 531 L120.5 532.6 L121 532.9 L121.8 533.6 L122.1 533.8 L122.6 534.2 L123.4 534.9 L123.6 535.1 L124.2 535.5 L125 536.1 L125.8 536.8 L126.6 537.4 L126.8 537.6 L127.4 538.1 L128.2 538.7 L128.3 538.8 L129 534.5 L129.1 533.7 L129.8 529.3 L129.9 528.6 L130.6 524.1 L131.4 518.9 L131.5 518.5 L132.2 519.7 L133 520.9 L133 521 L133.8 522.2 L133.8 522.2 L134.6 523.5 L135.4 524.7 L135.4 524.8 L136.2 526.3 L136.2 526.4 L137 528 L137.8 529.6 L138.6 531.2 L139.3 532.6 L139.4 532.8 L140.2 534.4 L140.8 535.7 L141 535.3 L141.8 533.5 L142.4 532 L142.6 531.6 L143.2 530.2 L143.4 529.7 L144.2 527.9 L145 526 L145.5 524.7 L145.8 525.3 L146.6 527.1 L147.1 528.3 L147.4 528.9 L148.2 530.7 L148.7 531.8 L149 532.5 L149.8 534.3 L150.6 536.1 L151.4 537.9 L151.8 538.8 L152.2 534.9 L152.6 531.4 L153 527.3 L153.4 524 L153.8 519.7 L154.1 516.5 L154.6 512.1 L154.9 509.1 L155.4 512.5 L156.2 518.1 L156.5 520 L157 523.7 L157.8 529.3 L158 531 L158.6 534.9 L159.4 540.5 L160.2 546.1 L161 551.7 L161.2 552.9 L161.8 548.5 L162 547.4 L162.6 542.9 L163.4 537.3 L164.2 531.7 L164.3 531 L165 526.1 L165.8 520.5 L165.9 520 L166.2 520.2 L166.6 520.3 L166.6 520.3 L167.4 520.6 L167.4 520.6 L168.2 520.8 L169 521.1 L169 521.1 L169.8 521.4 L170.6 521.6 L170.6 521.7 L171.4 523 L172.2 524.3 L172.9 525.5 L173 525.7 L173.7 526.8 L173.8 527 L174.6 528.3 L175.3 529.4 L175.4 530.1 L176.2 533.9 L176.8 536.7 L177 537.6 L177.8 541.3 L178.4 544 L178.6 545.1 L179.4 548.8 L179.9 551.3 L180.2 549.4 L180.7 545.3 L181 543.2 L181.5 539.3 L181.8 537.1 L182.3 533.3 L182.6 531 L183.1 527.3 L183.4 524.8 L184.2 518.7 L184.6 515.4 L185 516.5 L185.8 518.9 L186.2 520 L186.6 521.3 L187.4 523.7 L187.8 524.7 L188.2 526.1 L189 528.5 L189.8 530.9 L190.1 531.8 L190.6 533.3 L190.9 534.1 L191.4 534.1 L192.2 534.1 L193 534.1 L193.2 534.1 L193.8 534.1 L194 534.1 L194.6 533.9 L195.4 532.8 L195.6 532.6 L196.2 531 L197 527 L197.8 523 L197.9 522.4 L198.6 519 L199.4 515 L199.5 514.6 L200.2 511 L200.3 510.7 L201 512.4 L201.4 513.2 L201.8 514.2 L201.8 514.3 L202.6 516.1 L202.6 516.1 L203.4 518 L204.2 519.8 L205 521.6 L205 521.7 L205.8 523 L206.6 524.3 L207.4 525.7 L208.1 526.8 L208.2 527 L208.9 528.1 L209 528.3 L209.7 529.4 L209.8 529.1 L210.6 527 L211.2 525.4 L211.4 524.9 L212.2 522.8 L213 520.7 L213.8 518.7 L214.3 517.2 L214.6 516.6 L215.4 514.5 L216.2 512.4 L216.7 511.1 L217 510.3 L217.5 509.1 L217.8 510.5 L218.6 514.1 L219 516.1 L219.4 517.7 L220.2 521.3 L220.6 523.2 L221 523.1 L221.4 523 L221.8 522.9 L222.6 522.7 L223.4 522.5 L223.7 522.4 L224.2 522.3 L225 522.1 L225.3 522 L225.8 521.9 L226.6 521.7 L226.9 521.6 L227.4 523 L228.2 525 L229 527 L229.2 527.5 L229.8 529 L230 529.4 L230.6 531 L231.4 533 L232.2 535 L233 537 L233.1 537.3 L233.8 538.2 L234.6 539.3 L235.4 540.4 L236.2 541.6 L237 542.7 L237.8 543.8 L237.8 543.8 L238.6 544.9 L239.4 546 L240.2 547.2 L240.9 548.2 L241 548 L241.8 546.1 L242.5 544.4 L242.6 544.2 L243.4 542.3 L244.2 540.4 L244.8 538.8 L245 538.4 L245.6 536.9 L245.8 536.5 L246.4 535.1 L246.6 534.6 L247.4 532.7 L248.2 530.8 L248.8 529.4 L249 529.6 L249.8 530.3 L250.6 530.9 L251.4 531.5 L252.2 532.2 L253 532.8 L253.4 533.2 L253.8 533.5 L254.6 534.1 L255 534.4 L255.4 534.7 L255.8 535.1 L256.2 535.4 L256.6 535.7 L257 535.9 L257.8 536.2 L258.1 536.3 L258.6 536.5 L259.4 536.8 L260.2 537.1 L261 537.5 L261.8 537.8 L262.6 538.1 L263.4 538.4 L263.6 538.5 L264.2 538.7 L264.4 538.8 L265 530.4 L265.2 527.9 L265.8 515.4 L266 506 L266.6 508 L266.7 506 L267.4 509.7 L268.2 514.2 L268.3 514.8 L269 518.8 L269.8 523.3 L269.9 523.7 L270.6 527.8 L271.4 532.4 L271.4 532.6 L272.2 528.4 L272.2 528.3 L273 524.1 L273.8 519.7 L274.6 502.8 L274.6 502.9 L275.4 503.5 L276.1 504.1 L276.2 504.2 L276.9 502.8 L277 503.7 L277.8 505.4 L278.5 506 L278.6 509.4 L279.4 525.3 L280 531 L280.2 532.5 L281 539.7 L281.6 545.1 L281.8 544.2 L282.4 541.6 L282.6 540.7 L283.4 537.2 L284.2 533.7 L285 530.1 L285.8 526.6 L286.6 523.1 L287.4 519.6 L288 516.9 L288.2 517.7 L289 520.8 L289.8 523.9 L290.6 527 L291.4 530.1 L292.2 533.3 L292.8 535.7 L293 535.6 L293.8 535.3 L294.6 534.9 L295.4 534.5 L296.2 534.2 L297 533.8 L297.8 533.5 L298.6 533.1 L299.4 532.8 L299.9 532.6 L300.2 535.3 L301 541.7 L301.8 548.1 L302.2 551.3 L302.6 553.7 L303.4 558.5 L303.8 560.7 L304.2 556.4 L305 548.4 L305.8 540.4 L306.6 532.4 L306.9 529.4 L307.4 525.4 L308.2 519 L308.5 516.9 L309 512.6 L309.8 506.2 L310 504.4 L310.6 504.7 L310.8 504.8 L311.4 505.1 L312.2 504.5 L312.4 504.4 L313 505.9 L313.2 506 L313.8 514.7 L314.6 525.5 L314.7 527.1 L315.4 536.3 L316.2 547.1 L316.3 548.2 L317 551.8 L317.8 555.8 L317.8 556 L318.6 559.8 L319.4 563.8 L319.4 563.8 L320.2 564.2 L321 564.5 L321 564.5 L321.8 564.8 L322.5 565.1 L322.6 565.1 L323.4 565.4 L324.2 565.8 L325 566.1 L325.8 566.4 L326.4 566.7 L326.6 566.7 L327.2 567 L327.4 563.9 L328.2 549.5 L328.8 538.8 L329 535.1 L329.6 524.7 L329.8 520.7 L330.6 506.3 L331.1 496.6 L331.4 498 L331.9 500.7 L332.2 502.1 L333 506.3 L333.5 508.8 L333.8 510.4 L334.6 514.6 L335 516.9 L335.4 521.2 L336.2 530.8 L336.6 535.7 L337 540.4 L337.8 550 L338.6 559.6 L339 563.8 L339.4 563.9 L339.7 564 L340.2 564.1 L341 564.2 L341.8 564.4 L342.6 564.5 L342.9 564.5 L343.4 564.6 L344.2 564.8 L345 564.9 L345.8 565.1 L346.6 565.2 L347.4 565.4 L347.6 565.4 L348.2 554.4 L349 540.6 L349.1 538.5 L349.8 526.9 L349.9 525.1 L350.6 513.1 L351.4 499.3 L351.5 498.2 L352.2 501.1 L352.3 501.3 L353 504.3 L353.8 507.5 L353.8 507.5 L354.6 510.7 L354.6 510.7 L355.4 528.4 L355.4 528.9 L356.2 547 L356.9 563.8 L357 563.8 L357.8 563.8 L358.5 563.8 L358.6 563.8 L359.4 563.8 L360.1 563.8 L360.2 563.5 L360.9 561.9 L361 561.5 L361.8 559.5 L362.4 558 L362.6 557.5 L363.2 556 L363.4 556.5 L364.2 558.5 L365 560.5 L365.5 561.9 L365.8 562.5 L366.3 563.8 L366.6 561.4 L367.4 554.4 L367.9 550.1 L368.2 547.3 L369 540.3 L369.8 533.3 L370.2 529.4 L370.6 508.6 L371 484.7 L371.3 466.9 L371.4 468.2 L372.2 483.8 L372.6 491.2 L373 499.3 L373.4 506.4 L373.8 514.9 L374.1 521.6 L374.6 526.8 L375.4 536 L375.7 539.6 L376.2 545.2 L377 554.4 L377.3 557.6 L377.8 559.3 L378.6 562 L378.8 562.8 L379.4 564.7 L379.6 565.4 L380.2 555.3 L381 541.5 L381.8 527.6 L382 524.7 L382.6 521.6 L383.4 517.6 L384.2 513.6 L385 509.6 L385.1 509.1 L385.8 514.4 L386.6 520.4 L386.7 520.8 L387.4 526.4 L387.4 526.7 L388.2 532.4 L388.2 532.6 L389 536.1 L389.8 536.5 L389.8 536.5 L390.6 536.9 L391.3 537.3 L391.4 537.6 L392.1 543.1 L392.2 543.6 L393 549.6 L393.8 555.6 L394.5 560.7 L394.6 560.3 L395.4 557.9 L396 556 L396.2 555.5 L397 553.1 L397.6 551.3 L397.8 551.8 L398.6 553.7 L399.2 555.1 L399.4 555.6 L400.2 557.6 L400.7 558.8 L401 559.5 L401.5 560.7 L401.8 558.9 L402.6 553.8 L403.4 548.6 L403.9 545.7 L404.2 543.5 L405 538.4 L405.4 535.7 L405.8 539.4 L406.6 547.4 L407 551.3 L407.4 555.4 L408.2 563.4 L408.6 567 L409 564 L409.3 561.8 L409.8 558.7 L410.1 556.5 L410.6 553.3 L411.4 548 L412.2 542.7 L413 537.3 L413.2 535.7 L413.8 539.6 L414.6 545.2 L415.4 550.8 L415.6 552.1 L416.2 556.4 L416.4 557.6 L417 558.8 L417.8 560.4 L417.9 560.7 L418.6 562 L419.4 563.6 L419.5 563.8 L420.2 564.5 L421 565.3 L421.8 566.1 L422.6 566.9 L422.6 567 L423.4 564.7 L424.2 562.3 L425 559.9 L425.8 557.6 L425.8 557.7 L426.5 559.5 L426.6 559.7 L427.4 561.7 L428.2 563.7 L428.9 565.4 L429 565.3 L429.8 564.9 L430.4 564.6 L430.6 564.5 L431.4 564.1 L432 563.8 L432.2 562.6 L433 557.4 L433.8 552.2 L434.6 547 L435.1 543.5 L435.4 541.9 L436.2 536.8 L437 531.7 L437.5 528.6 L437.8 526.7 L438.6 521.6 L439.4 516.5 L439.8 513.8 L440.2 516.4 L440.6 519.3 L441 522 L441.8 527.6 L442.6 533.2 L443 535.7 L443.4 535.7 L444.2 535.7 L445 535.7 L445.3 535.7 L445.8 535.7 L446.1 535.7 L446.6 535.7 L447.4 535.7 L447.7 535.7 L448.2 537.9 L448.4 535.7 L449 541.1 L449.8 544.3 L450.6 547.5 L450.8 548.2 L451.4 545.1 L452.2 541.1 L453 537.1 L453.1 536.5 L453.8 533.1 L453.9 532.6 L454.6 536 L454.7 536.5 L455.4 540 L456.2 544 L456.3 544.3 L457 548 L457 548.2 L457.8 532.9 L458.6 516.9 L458.6 516.9 L459.4 500.9 L460.2 485.6 L460.2 486.2 L460.9 485.6 L461 487.8 L461.8 512 L462.5 523.5 L462.6 524.9 L463.3 536.1 L463.4 537.8 L464.2 550.7 L465 563.6 L465 563.8 L465.8 553.2 L466.6 542.8 L466.6 542.3 L467.4 531.5 L468.1 521.6 L468.2 522.5 L469 532.5 L469.8 542.5 L470.6 552.5 L471.3 560.7 L471.4 560.9 L472.2 562.1 L473 563.3 L473.6 564.2 L473.8 564.5 L474.4 565.4 L474.6 565.3 L475.4 565.1 L476.2 564.9 L477 564.7 L477.8 564.5 L478.6 564.3 L479.4 564.1 L479.9 564 L480.2 563.9 L480.6 563.8 L481 561.2 L481.8 555.3 L482.2 552.4 L482.6 549.5 L483.4 543.6 L483.8 540.9 L484.2 537.7 L485 531.9 L485.3 529.4 L485.8 528.3 L486.6 526.3 L486.9 525.5 L487.4 524.3 L487.7 523.6 L488.2 522.3 L488.5 521.6 L489 517.3 L489.2 515.4 L489.8 510.9 L490 509.1 L490.6 512 L491.4 516 L491.6 516.9 L492.2 520 L492.4 520.8 L493 524 L493.2 524.7 L493.8 523.8 L493.9 523.6 L494.6 522.6 L495.4 521.4 L496.2 520.2 L496.3 520 L497 528.7 L497.8 538.3 L498.6 547.9 L498.6 548.2 L499.4 557.5 L499.4 557.6 L500.2 559.6 L501 561.5 L501 561.6 L501.8 563.4 L501.8 563.6 L502.5 565.4 L502.6 565.2 L503.4 563.2 L504.1 561.5 L504.2 561.2 L504.9 559.5 L505 559.2 L505.7 557.6 L505.8 555.9 L506.4 547.8 L506.6 545.9 L507.2 538 L507.4 535.9 L508.2 525.9 L508.8 518.5 L509 519.6 L509.6 522.8 L509.8 524 L510.6 528.4 L511.1 531.4 L511.4 532.8 L511.9 535.7 L512.2 534 L512.7 531 L513 529.2 L513.8 524.4 L514.3 521.6 L514.6 519.6 L515 516.9 L515.4 520.8 L516.2 529.6 L516.6 516.9 L517 529.8 L517.8 547.2 L518.2 551.3 L518.6 552.2 L519.4 553.8 L519.7 554.5 L520.2 555.4 L521 557 L521.3 557.6 L521.8 552.1 L522.1 549 L522.6 543.3 L523.4 534.5 L524.2 525.7 L524.4 523.2 L525 528.3 L525.8 535.5 L526.6 542.7 L527.4 549.9 L527.6 551.3 L528.2 548.1 L529 544.1 L529.8 540.1 L530.6 536.1 L530.7 535.7 L531.4 532.5 L532.2 528.9 L533 525.3 L533.8 521.7 L533.8 521.6 L534.6 525.1 L534.6 525.1 L535.4 528.7 L536.2 532.2 L536.2 532.3 L536.9 535.7 L537 536.1 L537.8 541.7 L538.6 547.3 L539.3 552.1 L539.4 552.9 L540.1 557.6 L540.2 557.1 L541 553.9 L541.6 551.3 L541.8 550.7 L542.4 548.2 L542.6 547.5 L543.2 545.1 L543.4 544.5 L544.2 542.4 L545 540.3 L545.5 538.8 L545.8 540.5 L546.3 543.8 L546.6 545.6 L547.4 550.7 L547.9 553.8 L548.2 555.8 L549 560.9 L549.5 563.8 L549.8 560.4 L550.2 556 L550.6 552.4 L551.4 544.4 L552.2 536.4 L552.6 532.6 L553 529.2 L553.4 526.3 L553.8 522.8 L554.6 516.4 L554.9 513 L555.4 505.9 L555.7 501.3 L556.2 501.3 L556.5 501.3 L557 501.3 L557.3 501.3 L557.8 501.3 L558.6 501.3 L558.8 501.3 L559.4 515.3 L560.2 535.3 L560.4 540.4 L561 544.9 L561.2 546.2 L561.8 550.9 L562.6 556.9 L562.7 558 L563.4 562.9 L563.5 563.8 L564.2 559.6 L564.3 558.9 L565 554.5 L565.1 553.9 L565.8 549.5 L566.6 544.4 L567.4 539.3 L568.2 534.3 L568.2 534.1 L569 533.9 L569.8 533.6 L570.6 533.3 L571.3 533.1 L571.4 533.1 L572.2 532.8 L572.9 532.6 L573 533.3 L573.8 540.5 L574.5 546.6 L574.6 547.7 L575.4 554.9 L576 560.7 L576.2 560.9 L577 562 L577.6 562.8 L577.8 563.1 L578.6 564.1 L579.4 565.2 L580.2 566.3 L580.7 567 L581 564 L581.5 558.4 L581.8 555.2 L582.6 546.4 L583.4 537.6 L583.9 532.6 L584.2 526.7 L585 512.8 L585.8 499 L586.2 491.9 L586.6 498.7 L587.4 512.6 L588.2 526.4 L588.6 532.6 L589 537 L589.8 545 L590.1 548.2 L590.6 553 L590.9 556 L591.4 561 L591.7 563.8 L592.2 557.1 L592.5 553.7 L593 545.7 L593.2 538.8 L593.8 534.7 L594 533.1 L594.6 525.9 L594.8 523.2 L595.4 523 L595.6 521.6 L596.2 530.1 L597 534.1 L597.2 534.9 L597.8 538.1 L597.9 538.8 L598.6 536.8 L599.4 534.4 L599.5 534.1 L599.8 533.2 L600.2 532 L601 529.6 L601.1 529.4 L601.8 519.9 L601.8 519.3 L602.6 509.5 L602.6 509.1 L603.4 514.9 L604.2 520.8 L604.2 520.9 L605 526.7 L605 526.9 L605.8 532.6 L605.8 532.7 L606.5 534.9 L606.6 535.1 L607.3 537.3 L607.4 537.5 L608.1 539.6 L608.2 539.9 L608.9 541.9 L609 542.7 L609.7 541.9 L609.8 544.2 L610.6 553.9 L611.2 558.4 L611.4 559.5 L612 563.8 L612.2 563.5 L612.8 562.3 L613 561.9 L613.8 560.3 L614.4 559.1 L614.6 558.7 L615.1 557.6 L615.4 554.6 L616.2 545.6 L616.7 539.9 L617 536.5 L617.5 531 L617.8 534.3 L618.6 542.7 L619.1 547.4 L619.4 551.1 L619.8 555.6 L620.2 559.5 L620.6 563.8 L621 561.7 L621.4 559.5 L621.8 557.2 L622.2 555.1 L622.6 552.7 L623 550.7 L623.4 548.2 L623.7 541.9 L624.2 543.8 L624.5 541.9 L625 545.7 L625.3 548.2 L625.8 552.1 L626.1 554.5 L626.6 558.5 L626.9 560.7 L627.4 564.9 L627.7 567 L628.2 563.5 L628.4 562 L629 558.3 L629.2 557 L629.8 553.2 L630.6 548.1 L631.4 543 L631.6 541.9 L632.2 548.7 L632.3 550.3 L633 557.3 L633.8 565.8 L633.9 567 L634.6 566.8 L635.4 566.5 L635.5 566.5 L636.2 566.3 L636.3 566.3 L637 566.1 L637 566.1 L637.8 565.9 L638.6 565.6 L639.4 565.4 L640.2 565.2 L641 565 L641.8 564.7 L642.6 564.5 L643.3 564.3 L643.4 564.3 L644.2 564.1 L645 563.8 L645 563.8 L645.8 563.8 L646.6 563.8 L647.3 563.8 L647.4 563.8 L648.2 563.8 L649 563.8 L649.8 563.8 L650.5 563.8 L650.6 563.8 L651.3 563.8 L651.4 563.7 L652.2 562.9 L653 562.1 L653.8 561.3 L654.4 560.7 L654.6 560.5 L655.4 559.7 L656.2 558.9 L656.7 558.4 L657 558.1 L657.5 557.6 L657.8 558 L658.6 559.2 L659.4 560.4 L660.2 561.6 L660.6 562.3 L661 562.8 L661.8 564 L662.6 565.2 L663.4 566.4 L663.8 567 L664.2 567 L665 567 L665.8 567 L666.6 567 L667.4 567 L668.2 567 L669 567 L669.8 567 L670.6 567 L670.8 567 L671.4 562.5 L672.2 556.5 L673 545.9 L673.2 540.4 L673.8 540.4 L673.9 540.4 L674.6 540.4 L675.4 540.4 L675.5 540.4 L676.2 540.5 L676.3 540.4 L677 538 L677.1 537.8 L677.8 535.3 L677.8 535.2 L678.6 532.6 L678.6 532.6 L679.4 535.7 L679.4 535.7 L680.2 538.8 L680.2 538.9 L681 541.9 L681 542.2 L681.8 550.8 L682.5 558.6 L682.6 559.3 L683.3 567 L683.4 567.1 L684.2 568.1 L685 569.2 L685.7 570.1 L685.8 570.1 L686.4 570.1 L686.6 570.1 L687.4 570.1 L688.2 570.1 L689 570.1 L689.8 570.1 L690.6 570.1 L691.4 570.1 L691.9 570.1 L692.2 570.1 L693 570.1 L693.8 570.1 L694.3 570.1 L694.6 570.1 L695 570.1 L695.4 567.1 L696.2 560.3 L697 553.5 L697.8 546.7 L698.2 543.5 L698.6 545.8 L699.4 550.2 L700.2 554.6 L701 559 L701.3 560.7 L701.8 561.3 L702.6 562.3 L703.4 563.3 L704.2 564.3 L705 565.3 L705.8 566.3 L706.6 567.3 L707.4 568.3 L707.6 568.5 L708.2 568.5 L709 568.5 L709.8 568.5 L710.6 568.5 L711.4 568.5 L712.2 568.5 L713 568.5 L713.8 568.5 L713.8 568.5 L714.6 564.6 L714.6 564.6 L715.4 560.6 L716.2 556.8 L716.2 556.6 L716.9 552.9 L717 553.1 L717.8 555.7 L718.5 558.1 L718.6 558.4 L719.3 560.7 L719.4 561.1 L720.1 563.3 L720.2 563.7 L721 566.4 L721.6 568.5 L721.8 568 L722.4 565.8 L722.6 565.2 L723.2 563.1 L723.4 562.4 L723.7 561.4 L724 560.3 L724.2 559.6 L724.8 557.6 L725 557.5 L725.8 557.2 L726.3 557 L726.6 556.8 L727.4 556.5 L727.9 556.3 L728.2 556.2 L729 555.9 L729.5 555.7 L729.8 555.6 L730.6 555.2 L731.4 554.9 L731.8 554.8 L732.2 554.6 L732.6 554.5 L733 552.6 L733.8 549 L734.1 547.4 L734.6 545.4 L735.4 541.8 L735.7 540.4 L736.2 542.1 L736.5 543.1 L737 544.9 L737.8 547.7 L738.6 550.5 L738.8 551.3 L739.4 548.5 L740.2 544.5 L741 540.5 L741.2 539.6 L741.8 536.5 L742.6 532.5 L743.4 528.5 L743.8 526.3 L744.2 526.3 L745 526.3 L745.8 526.3 L746.6 526.3 L747.4 526.3 L748.2 526.3 L749 526.3 L749.8 526.3 L750.6 526.3 L751.4 526.3 L752.2 526.3 L753 526.3 L753.8 526.3 L754.6 526.3 L755.4 526.3 L756.2 526.3 L756.8 526.3 L757 529.8 L757.3 535.7 L757.6 541.9 L757.8 545.8 L758.4 557.6 L758.6 557.3 L759.4 556.1 L760.2 555 L760.7 554.2 L761 553.9 L761.5 553.1 L761.8 552.7 L762.6 551.6 L763.4 550.4 L763.9 549.8 L764.2 550.4 L765 552 L765.4 552.9 L765.8 553.6 L766.6 555.2 L767.4 556.8 L768.2 558.4 L768.6 559.1 L769 559.3 L769.8 559.6 L770.1 559.7 L770.6 559.8 L771.4 560.1 L772.2 560.4 L773 560.6 L773.2 560.7 L773.8 560.3 L774.6 559.8 L774.8 559.7 L775.4 559.3 L776.2 558.7 L777 558.2 L777.8 557.7 L777.9 557.6 L778.6 558 L779.4 558.6 L780.2 559.1 L781 559.6 L781.1 559.7 L781.8 560.2 L782.6 560.7 L782.6 560.7 L783.4 561 L784.2 561.3 L785 561.7 L785.8 562 L785.8 562 L786.5 562.3 L786.6 561.4 L787.4 549.8 L788.2 538.2 L788.9 528.3 L789 526.6 L789.7 516.9 L789.8 515.9 L790.4 511.1 L790.6 509.9 L791.2 505.2 L791.4 503.9 L792.2 497.9 L792.8 493.5 L793 492.2 L793.6 488.8 L793.8 487.4 L794.6 482.6 L795.1 479.4 L795.4 488 L795.9 505.4 L796.2 514.7 L797 541.4 L797.5 557.6 L797.8 557.8 L798.6 558.5 L799.1 558.8 L799.4 559.1 L800.2 559.8 L801 560.4 L801.4 560.7 L801.8 560.2 L802.6 559.1 L803 558.6 L803.4 558 L804.2 557 L805 555.9 L805.8 554.8 L806.1 554.5 L806.6 555.3 L807.4 556.6 L808.2 558 L809 559.3 L809.2 559.7 L809.8 560.6 L810.6 562 L810.8 562.3 L811.4 563.3 L812.2 564.6 L813 566 L813.8 567.3 L813.9 567.5 L814.6 568.6 L814.7 568.8 L815.4 570 L815.5 570.1 L816.2 570.1 L817 570.1 L817 570.1 L817.8 570.1 L818.6 570.1 L819.4 570.1 L820.2 570.1 L821 570.1 L821.7 570.1 L821.8 570 L822.5 569.3 L822.6 569.3 L823.4 568.5 L824.2 567.7 L825 567 L825 567 L825.8 567 L826.6 567 L826.6 567 L827.3 567 L827.4 567 L828.2 567 L829 567 L829.8 567 L830.6 567 L831.3 567 L831.4 567 L832.2 567 L832.8 567 L833 567 L833.8 567 L834.4 567 L834.6 565.3 L835.4 559.2 L836.2 553.2 L837 547.1 L837.8 541 L838.3 537.3 L838.6 539.7 L839.1 543.5 L839.4 546.1 L840.2 552.5 L841 558.9 L841.8 565.3 L842.2 568.5 L842.6 568.5 L843.4 568.5 L844.2 568.5 L845 568.5 L845.8 568.5 L846.6 568.5 L847.4 568.5 L848.2 568.5 L848.5 568.5 L849 565.3 L849.8 560.5 L850.6 555.7 L850.8 554.5 L851.4 556.8 L852.2 560 L852.4 560.7 L853 563.2 L853.2 563.8 L853.8 557.4 L853.9 556 L854.6 549.4 L854.7 548.2 L855.4 541.4 L856.2 533.4 L856.3 532.6 L857 541.6 L857.8 551.6 L858.6 561.6 L858.6 561.9 L859.4 571.6 L859.4 571.7 L860.2 568.8 L861 566 L861 565.9 L861.8 563 L862.5 560.4 L862.6 560.2 L863.3 557.6 L863.4 557.2 L864.2 553.5 L865 549.7 L865.7 546.6 L865.8 547.7 L866.6 553.7 L867.4 559.7 L868.2 565.7 L868.8 570.1 L869 570.1 L869.8 570.1 L870.4 570.1 L870.6 570.1 L871.4 570.1 L871.9 570.1 L872.2 570.1 L873 570.1 L873.5 570.1 L873.8 569.6 L874.6 568.4 L875 567.7 L875.4 567.2 L876.2 566 L876.6 565.4 L877 565.6 L877.8 566.1 L878.6 566.6 L879.4 567.1 L879.7 567.3 L880.2 567.6 L881 568 L881.8 568.5 L882.6 569 L883.4 569.5 L883.6 569.6 L884.2 570 L884.4 570.1 L885 562.4 L885.8 551.5 L886 548.8 L886.6 540.6 L887.4 529.7 L887.6 527.6 L888.2 518.8 L888.3 516.9 L889 523.5 L889.8 531.5 L890.6 539.5 L890.7 540.4 L891.4 547.5 L891.5 548.2 L892.2 551.1 L892.3 551.3 L893 554.3 L893.8 557.5 L893.8 557.6 L894.6 560.3 L895.4 563.1 L896.2 565.9 L896.9 568.5 L897 568.3 L897.8 565.5 L898.5 563.1 L898.6 562.7 L899.4 559.9 L900.1 557.6 L900.2 556.7 L901 551.1 L901.8 545.5 L902.6 539.9 L903.2 535.7 L903.4 537.6 L904.2 545.2 L905 552.8 L905.8 560.4 L906.3 565.4 L906.6 564.6 L907.4 562.4 L908.2 560.2 L909 557.9 L909.8 555.7 L910.2 554.5 L910.6 555.3 L911.4 557.1 L912.2 558.9 L913 560.8 L913.8 562.6 L914.6 564.4 L915.4 566.3 L915.7 567 L916.2 564 L917 559.2 L917.8 554.4 L918.6 549.6 L918.8 548.2 L919.4 546.5 L920.2 544.1 L921 541.7 L921.8 539.3 L922 538.8 L922.6 541.4 L923.4 544.6 L924.2 547.8 L925 551 L925.1 551.3 L925.8 546.4 L925.9 545.9 L926.6 540.8 L927.4 535.2 L927.4 534.9 L928.2 529.6 L928.2 529.4 L929 528.7 L929.8 527.9 L929.8 527.9 L930.6 527.1 L931.3 526.3 L931.4 526.5 L932.2 528.9 L932.9 531 L933 531.3 L933.8 533.7 L934.5 535.7 L934.6 535.7 L935.4 535.5 L936.2 535.3 L937 535.1 L937.6 534.9 L937.8 534.9 L938.6 534.7 L939.4 534.5 L940.2 534.3 L940.7 534.1 L941 534.1 L941.8 534.1 L942.6 534.1 L943.4 534.1 L944.2 534.1 L945 534.1 L945.4 534.1 L945.8 530.8 L946.6 523.6 L947.4 516.4 L948.2 509.2 L948.6 506 L949 509.3 L949.8 515.3 L950.6 521.3 L951.4 527.3 L951.7 529.4 L952.2 527.4 L953 524.2 L953.8 521 L954.6 517.8 L954.8 516.9 L955.4 516.3 L956.2 515.5 L957 514.7 L957.8 513.9 L957.9 513.8 L958.6 516.4 L958.7 516.9 L959.4 519.6 L960.2 522.8 L961 526 L961.8 529.2 L962.6 532.4 L962.6 532.6 L963.4 531.5 L963.4 531.5 L964.2 530.5 L965 529.4 L965 529.2 L965.8 522.1 L965.8 521.7 L966.6 514.3 L967.3 507.5 L967.4 507.9 L968.2 511.1 L968.9 513.8 L969 514.3 L969.7 516.9 L969.8 516.4 L970.6 513.2 L971.2 510.7 L971.4 510 L972 507.5 L972.2 506.6 L972.8 503.6 L973 502.6 L973.6 499.7 L973.8 498.6 L974.6 494.6 L975.1 491.9 L975.4 492.7 L976.2 495.1 L977 497.5 L977.8 499.9 L978.3 501.3 L978.6 502.9 L979.4 506.9 L980.2 510.9 L981 514.9 L981.4 516.9 L981.8 518.9 L982.6 522.9 L983.4 526.9 L984.2 530.9 L984.5 532.6 L985 529.3 L985.8 523.9 L986.6 518.4 L987.4 513 L987.7 511.3 L988.2 507.6 L988.4 506 L989 511.6 L989.8 519.6 L990.6 527.6 L990.8 529.4 L991.4 528.2 L992.2 526.6 L993 525 L993.8 523.4 L993.9 523.2 L994.6 525.9 L995.4 529.1 L996.2 532.3 L997 535.5 L997 535.7 L997.8 536.1 L998.6 536.5 L999.4 536.9 L1000.2 537.3 L1000.2 537.6 L1001 544.4 L1001.7 550.5 L1001.8 551.2 L1002.5 557.2 L1002.6 558 L1003.3 563.8 L1003.4 563.1 L1004.2 557.2 L1005 551.4 L1005 551.3 L1005.8 537.8 L1006.6 524.7 L1006.6 524.8 L1007.4 527.2 L1008.1 529.4 L1008.2 529.6 L1009 532 L1009.7 534.1 L1009.8 534.1 L1010.6 534.1 L1011.3 534.1 L1011.4 534.1 L1012.2 534.1 L1013 534.1 L1013.8 534.1 L1014.6 534.1 L1015.4 534.1 L1015.9 534.1 L1016.2 533.6 L1017 532 L1017.5 531 L1017.8 530.4 L1018.6 528.8 L1019.1 527.9 L1019.4 528.5 L1019.9 529.4 L1020.2 530.1 L1021 531.7 L1021.8 533.3 L1022.2 534.1 L1022.6 534.2 L1023.4 534.4 L1024.2 534.6 L1025 534.8 L1025.8 535 L1026.6 535.2 L1026.9 535.3 L1027.4 535.4 L1028.2 535.6 L1028.5 535.7 L1029 535.8 L1029.8 535.9 L1030.6 536 L1031.4 536.2 L1032.2 536.3 L1033 536.4 L1033.8 536.6 L1034.6 536.7 L1035.4 536.8 L1036.2 537 L1037 537.1 L1037.8 537.2 L1037.8 537.3 L1038.6 537.1 L1039.4 536.9 L1040.2 536.7 L1041 536.5 L1041.8 536.3 L1042.6 536.1 L1043.4 535.9 L1044.1 535.7 L1044.2 535.5 L1045 534.3 L1045.8 533.1 L1046.4 532.2 L1046.6 531.9 L1047.2 531 L1047.4 530.1 L1048.2 525.8 L1048.8 522.7 L1049 521.5 L1049.6 518.5 L1049.8 520.1 L1050.6 526 L1051.4 531.9 L1051.9 535.7 L1052.2 535.5 L1053 535 L1053.5 534.6 L1053.8 534.4 L1054.6 533.9 L1055.4 533.4 L1056.2 532.8 L1056.6 532.6 L1057 532.6 L1057.8 532.6 L1058.2 532.6 L1058.6 532.6 L1059.4 532.6 L1060.2 532.6 L1061 532.6 L1061.3 532.6 L1061.8 532.6 L1062.6 532.6 L1062.9 532.6 L1063.4 532.6 L1064.2 532.6 L1064.4 532.6 L1065 532 L1065.8 531.2 L1066 531 L1066.6 530.4 L1066.8 530.2 L1067.4 529.6 L1067.6 529.4 L1068.2 526.9 L1069 523.7 L1069.1 523.2 L1069.8 520.5 L1069.9 520 L1070.6 517.3 L1070.7 516.9 L1071.4 511.6 L1071.5 511.1 L1072.2 505.6 L1073 499.6 L1073.8 493.6 L1073.8 493.5 L1074.6 498.7 L1075.4 504 L1076.2 509.1 L1076.2 509.2 L1076.9 511.7 L1077 511.9 L1077.8 514.6 L1078.5 516.9 L1078.6 517.5 L1079.4 522.3 L1080.2 527.1 L1081 531.9 L1081.6 535.7 L1081.8 535.7 L1082.6 535.7 L1083.4 535.7 L1084.2 535.7 L1085 535.7 L1085.8 535.7 L1086.6 535.7 L1087.4 535.7 L1088.2 535.7 L1089 535.7 L1089.5 535.7 L1089.8 536.3 L1090.6 537.6 L1091.4 538.9 L1092.2 540.3 L1093 541.6 L1093.8 542.9 L1094.1 543.5 L1094.6 541.5 L1095.4 537.9 L1096.2 534.3 L1097 530.7 L1097.3 529.4 L1097.8 530 L1098.6 530.8 L1098.8 531 L1099.4 531.6 L1100.2 532.4 L1101 533.2 L1101.8 534 L1102 534.1 L1102.6 530.6 L1103.4 526.2 L1103.5 525.5 L1104.2 521.8 L1105 517.4 L1105.1 516.9 L1105.8 519 L1105.9 519.3 L1106.6 521.4 L1107.4 523.8 L1108.2 526.2 L1108.2 526.3 L1109 528.6 L1109.8 531 L1110.6 533.4 L1111.3 535.7 L1111.4 535.1 L1112.1 527.1 L1112.2 526.3 L1113 517.5 L1113.8 508.7 L1114.5 501.3 L1114.6 500.1 L1115.4 492.1 L1116 485.6 L1116.2 487.5 L1116.8 494.6 L1117 496.7 L1117.8 505.9 L1118.6 515.1 L1119.2 521.6 L1119.4 522.3 L1120.2 524.7 L1121 527.1 L1121.8 529.5 L1122.6 531.9 L1123.4 534.3 L1123.9 535.7 L1124.2 534.8 L1125 532.7 L1125.4 531.5 L1125.8 530.5 L1126.6 528.4 L1127 527.3 L1127.4 526.3 L1128.2 524.1 L1128.6 523.2 L1129 525.4 L1129.8 529.4 L1130.1 531 L1130.6 533.4 L1131.4 537.4 L1131.7 538.8 L1132.2 539.1 L1133 539.5 L1133.8 539.9 L1134.6 540.3 L1134.8 540.4 L1135.4 526.6 L1136.2 507.9 L1137 489.3 L1137.2 485.6 L1137.8 498.5 L1138.6 514.5 L1139.4 530.5 L1139.5 532.6 L1140.2 532.7 L1141 532.9 L1141.1 532.9 L1141.8 533.1 L1142.6 533.3 L1142.6 533.3 L1143.4 533.5 L1144.2 533.7 L1145 533.9 L1145.8 534.1 L1145.8 534 L1146.6 530.8 L1147.3 527.9 L1147.4 527.6 L1148.2 524.4 L1148.9 521.6 L1149 521.6 L1149.7 521.4 L1149.8 521.3 L1150.4 521.1 L1150.6 521 L1151.4 520.8 L1152.2 520.5 L1153 520.2 L1153.6 520 L1153.8 520.5 L1154.6 522.1 L1155.1 523.2 L1155.4 523.7 L1156.2 525.3 L1157 526.9 L1157.5 527.9 L1157.8 528.5 L1158.3 529.4 L1158.6 529.9 L1159.4 531.1 L1160.2 532.3 L1161 533.5 L1161.4 534.1 L1161.8 534.1 L1162.6 533.9 L1163.1 533.8 L1163.4 530.4 L1164.2 520.8 L1165 511.2 L1165.7 502.4 L1165.8 502.4 L1166.6 502.4 L1167.4 502.4 L1168.2 502.4 L1168.4 502.4 L1169 502.4 L1169.8 502.4 L1170.6 502.4 L1171 502.4 L1171.4 502.4 L1172.2 502.4 L1173 502.4 L1173.8 502.4 L1174.6 502.4 L1174.9 502.4 L1175.4 502.4 L1176.2 502.4 L1176.2 502.4 L1177 497.7 L1177.8 492.9 L1178.6 488.1 L1178.8 486.6 L1179.4 491 L1180.2 497.4 L1181 503.8 L1181.5 507.6 L1181.8 510.2 L1182.6 516.6 L1182.8 515.5 L1183.4 509.3 L1184.1 502.4 L1184.2 504.1 L1185 516.9 L1185.8 520.1 L1186.6 516.1 L1186.7 515.5 L1187.4 512.1 L1188 508.9 L1188.2 508.1 L1189 504.1 L1189.3 502.4 L1189.8 502.8 L1190.6 503.6 L1191.4 504.4 L1192 502.4 L1192.2 505.2 L1193 506 L1193.8 506.8 L1194.6 507.6 L1194.6 507.6 L1195.4 505.2 L1196.2 502.8 L1197 500.4 L1197.2 499.7 L1197.8 498 L1198.6 495.6 L1199.4 493.2 L1199.8 491.9 L1200.2 494.3 L1201 499.5 L1201.8 504.7 L1202.5 508.9 L1202.6 509.9 L1203.4 515.1 L1203.8 517.4 L1204.2 520.3 L1205 525.5 L1205.1 526 L1205.8 522.8 L1206.6 519.4 L1207.4 515.9 L1207.7 514.6 L1208.2 512.4 L1209 509 L1209.8 505.5 L1210.6 502 L1211.4 498.6 L1212.2 495.1 L1212.9 491.9 L1213 491.9 L1213.8 492.3 L1214.6 492.7 L1215.4 493.1 L1216.2 493.5 L1217 493.9 L1217.8 494.3 L1218.2 494.5 L1218.6 494.3 L1219.4 493.9 L1220.2 493.5 L1221 493.1 L1221.8 492.7 L1222.1 492.5 L1222.6 492.3 L1223.4 491.9 L1223.4 491.9 L1224.2 494.2 L1225 496.6 L1225.8 499 L1226.1 499.7 L1226.6 501.4 L1227.4 503.8 L1228.2 506.2 L1228.7 507.6 L1229 509.2 L1229.8 513.2 L1230 514.2 L1230.6 517.2 L1231.3 520.7 L1231.4 521.2 L1232.2 525.2 L1233 529.2 L1233.8 530.9 L1233.9 528.6 L1234.6 529.8 L1235.4 525 L1236.2 520.2 L1236.5 518.1 L1237 515.4 L1237.8 510.6 L1238.6 505.8 L1239.2 502.4 L1239.4 503.7 L1240.2 508.5 L1241 513.3 L1241.8 518.1 L1242.6 522.9 L1243.4 527.7 L1244.2 532.5 L1244.4 533.8 L1245 530.3 L1245.8 525.5 L1246.6 520.7 L1247.4 515.9 L1248.2 511.1 L1248.3 510.2 L1249 506.3 L1249.7 502.4 L1249.8 502.4 L1250.6 502.4 L1251 502.4 L1251.4 502.4 L1252.2 502.4 L1253 502.4 L1253.6 502.4 L1253.8 502.4 L1254.6 502.4 L1254.9 502.4 L1255.4 502.4 L1256.2 502.4 L1257 502.4 L1257.8 502.4 L1258.6 502.4 L1259.4 502.4 L1260.1 502.4 L1260.2 502.5 L1261 504.9 L1261.8 507.3 L1262.6 509.7 L1263.4 512.1 L1264.2 514.5 L1265 516.9 L1265.4 518.1 L1265.8 518.9 L1266.6 520.5 L1267.4 522.1 L1268.2 523.7 L1269 525.3 L1269.8 526.9 L1270.6 528.5 L1270.6 528.6 L1271.4 529 L1272.2 529.4 L1273 529.8 L1273.8 530.2 L1274.6 530.6 L1275.4 531 L1275.9 531.2 L1276.2 528.1 L1277 520.1 L1277.8 512.1 L1278.6 504.1 L1279.4 496.1 L1279.8 491.9 L1280.2 498.3 L1281 511.9 L1281.8 525.5 L1282.4 536.5 L1282.6 536.5 L1283.4 536.5 L1283.8 536.5 L1283.8 512.8 L1283.4 512.8 L1282.6 512.8 L1282.4 512.8 L1281.8 507.7 L1281 501.3 L1280.2 494.9 L1279.8 491.9 L1279.4 489.4 L1278.6 484.6 L1277.8 479.8 L1277 475 L1276.2 470.2 L1275.9 468.3 L1275.4 467.8 L1274.6 467 L1273.8 466.2 L1273 465.4 L1272.2 464.6 L1271.4 463.8 L1270.6 463 L1270.6 463.1 L1269.8 463.9 L1269 464.7 L1268.2 465.5 L1267.4 466.3 L1266.6 467.1 L1265.8 467.9 L1265.4 468.3 L1265 469.4 L1264.2 471.8 L1263.4 474.2 L1262.6 476.6 L1261.8 479 L1261 481.4 L1260.2 483.8 L1260.1 484 L1259.4 483.6 L1258.6 483.2 L1257.8 482.8 L1257 482.4 L1256.2 482 L1255.4 481.6 L1254.9 481.4 L1254.6 481.2 L1253.8 480.8 L1253.6 480.7 L1253 480.4 L1252.2 480 L1251.4 479.6 L1251 479.4 L1250.6 479.2 L1249.8 478.8 L1249.7 478.8 L1249 479.1 L1248.3 479.4 L1248.2 479.5 L1247.4 479.9 L1246.6 480.3 L1245.8 480.7 L1245 481.1 L1244.4 481.4 L1244.2 480.8 L1243.4 478.8 L1242.6 476.8 L1241.8 474.8 L1241 472.8 L1240.2 470.8 L1239.4 468.8 L1239.2 468.3 L1238.6 468.3 L1237.8 468.3 L1237 468.3 L1236.5 468.3 L1236.2 468.3 L1235.4 468.3 L1234.6 468.3 L1233.9 468.3 L1233.8 468.4 L1233 469.2 L1232.2 470 L1231.4 470.8 L1231.3 470.9 L1230.6 471.6 L1230 472.2 L1229.8 472.4 L1229 473.2 L1228.7 473.5 L1228.2 473.7 L1227.4 474.1 L1226.6 474.5 L1226.1 474.8 L1225.8 474.9 L1225 475.3 L1224.2 475.7 L1223.4 476.1 L1223.4 476.2 L1222.6 477.4 L1222.1 478.1 L1221.8 478.6 L1221 479.8 L1220.2 481 L1219.4 482.2 L1218.6 483.4 L1218.2 484 L1217.8 483.6 L1217 482.8 L1216.2 482 L1215.4 481.2 L1214.6 480.4 L1213.8 479.6 L1213 478.8 L1212.9 478.8 L1212.2 479.5 L1211.4 480.3 L1210.6 481.1 L1209.8 481.9 L1209 482.7 L1208.2 483.5 L1207.7 484 L1207.4 483.4 L1206.6 481.8 L1205.8 480.2 L1205.1 478.8 L1205 478.6 L1204.2 477 L1203.8 476.1 L1203.4 475.4 L1202.6 473.8 L1202.5 473.5 L1201.8 474.5 L1201 475.7 L1200.2 476.9 L1199.8 477.4 L1199.4 478.1 L1198.6 479.3 L1197.8 480.5 L1197.2 481.4 L1197 481.5 L1196.2 481.9 L1195.4 482.3 L1194.6 482.7 L1194.6 482.7 L1193.8 483.1 L1193 483.5 L1192.2 483.9 L1192 484 L1191.4 483.7 L1190.6 483.3 L1189.8 482.9 L1189.3 482.7 L1189 482.5 L1188.2 482.1 L1188 482 L1187.4 481.7 L1186.7 481.4 L1186.6 481.5 L1185.8 482.3 L1185 483.1 L1184.2 483.9 L1184.1 484 L1183.4 484.7 L1182.8 485.3 L1182.6 485.5 L1181.8 486.3 L1181.5 486.6 L1181 485.9 L1180.2 484.7 L1179.4 483.5 L1178.8 482.7 L1178.6 482.3 L1177.8 481.1 L1177 479.9 L1176.2 478.8 L1176.2 478.8 L1175.4 479 L1174.9 479.2 L1174.6 479.3 L1173.8 479.6 L1173 479.8 L1172.2 480.1 L1171.4 480.4 L1171 480.5 L1170.6 480.6 L1169.8 480.9 L1169 481.2 L1168.4 481.4 L1168.2 481.3 L1167.4 480.9 L1166.6 480.5 L1165.8 480.1 L1165.7 480.1 L1165 479.7 L1164.2 479.3 L1163.4 478.9 L1163.1 478.8 L1162.6 488.3 L1161.8 503.3 L1161.4 510.8 L1161 510.8 L1160.2 510.8 L1159.4 510.8 L1158.6 510.8 L1158.3 510.8 L1157.8 510.8 L1157.5 510.8 L1157 510.8 L1156.2 510.8 L1155.4 510.8 L1155.1 510.8 L1154.6 510.9 L1153.8 511 L1153.6 511 L1153 511.1 L1152.2 511.3 L1151.4 511.4 L1150.6 511.5 L1150.4 511.6 L1149.8 511.7 L1149.7 511.7 L1149 511.8 L1148.9 511.8 L1148.2 511.9 L1147.4 512.1 L1147.3 512.1 L1146.6 512.2 L1145.8 512.3 L1145.8 512.3 L1145 512.2 L1144.2 512 L1143.4 511.8 L1142.6 511.6 L1142.6 511.6 L1141.8 511.4 L1141.1 511.2 L1141 511.2 L1140.2 511 L1139.5 510.8 L1139.4 508.9 L1138.6 494 L1137.8 479 L1137.2 467 L1137 470.1 L1136.2 486.1 L1135.4 502.1 L1134.8 513.9 L1134.6 513.8 L1133.8 513.6 L1133 513.3 L1132.2 513 L1131.7 512.9 L1131.4 512.8 L1130.6 512.5 L1130.1 512.3 L1129.8 512.4 L1129 512.6 L1128.6 512.7 L1128.2 512.8 L1127.4 513 L1127 513.1 L1126.6 513.2 L1125.8 513.4 L1125.4 513.5 L1125 513.6 L1124.2 513.8 L1123.9 513.9 L1123.4 513.6 L1122.6 513.1 L1121.8 512.5 L1121 512 L1120.2 511.5 L1119.4 510.9 L1119.2 510.8 L1118.6 500.9 L1117.8 487 L1117 473.2 L1116.8 470.1 L1116.2 470.1 L1116 470.1 L1115.4 470.1 L1114.6 470.1 L1114.5 470.1 L1113.8 481.9 L1113 495.7 L1112.2 509.6 L1112.1 510.8 L1111.4 511.1 L1111.3 511.1 L1110.6 511.4 L1109.8 511.7 L1109 512 L1108.2 512.3 L1108.2 512.3 L1107.4 512.1 L1106.6 511.8 L1105.9 511.6 L1105.8 511.5 L1105.1 511.3 L1105 511.3 L1104.2 511 L1103.5 510.8 L1103.4 510.7 L1102.6 510.5 L1102 510.3 L1101.8 510.2 L1101 509.9 L1100.2 509.7 L1099.4 509.4 L1098.8 509.2 L1098.6 509.1 L1097.8 508.9 L1097.3 508.7 L1097 508.6 L1096.2 508.3 L1095.4 508.1 L1094.6 507.8 L1094.1 507.7 L1093.8 507.8 L1093 508 L1092.2 508.3 L1091.4 508.6 L1090.6 508.8 L1089.8 509.1 L1089.5 509.2 L1089 509.3 L1088.2 509.5 L1087.4 509.6 L1086.6 509.8 L1085.8 509.9 L1085 510.1 L1084.2 510.3 L1083.4 510.4 L1082.6 510.6 L1081.8 510.7 L1081.6 510.8 L1081 510.8 L1080.2 510.8 L1079.4 510.8 L1078.6 510.8 L1078.5 510.8 L1077.8 510.8 L1077 510.8 L1076.9 510.8 L1076.2 502.2 L1076.2 501.8 L1075.4 493 L1074.6 483.8 L1073.8 474.8 L1073.8 474.9 L1073 480 L1072.2 485.1 L1071.5 489.8 L1071.4 490.3 L1070.7 494.8 L1070.6 495.4 L1069.9 499.8 L1069.8 500 L1069.1 501.4 L1069 501.6 L1068.2 503.2 L1067.6 504.5 L1067.4 504.8 L1066.8 506.1 L1066.6 506.4 L1066 507.7 L1065.8 507.7 L1065 508.1 L1064.4 508.4 L1064.2 508.5 L1063.4 508.9 L1062.9 509.2 L1062.6 509.3 L1061.8 509.6 L1061.3 509.7 L1061 509.8 L1060.2 510.1 L1059.4 510.4 L1058.6 510.6 L1058.2 510.8 L1057.8 510.9 L1057 511.2 L1056.6 511.3 L1056.2 511.4 L1055.4 511.7 L1054.6 512 L1053.8 512.2 L1053.5 512.3 L1053 512.3 L1052.2 512.3 L1051.9 512.3 L1051.4 512.3 L1050.6 512.3 L1049.8 512.3 L1049.6 512.3 L1049 512.3 L1048.8 512.3 L1048.2 510 L1047.4 506.8 L1047.2 506.1 L1046.6 503.6 L1046.4 503 L1045.8 505.1 L1045 507.8 L1044.2 510.4 L1044.1 510.8 L1043.4 510.8 L1042.6 510.8 L1041.8 510.8 L1041 510.8 L1040.2 510.8 L1039.4 510.8 L1038.6 510.8 L1037.8 510.8 L1037.8 510.8 L1037 510.8 L1036.2 510.8 L1035.4 510.8 L1034.6 510.8 L1033.8 510.8 L1033 510.8 L1032.2 510.8 L1031.4 510.8 L1030.6 510.8 L1029.8 510.8 L1029 510.8 L1028.5 510.8 L1028.2 510.8 L1027.4 510.8 L1026.9 510.8 L1026.6 510.8 L1025.8 510.8 L1025 510.8 L1024.2 510.8 L1023.4 510.8 L1022.6 510.8 L1022.2 510.8 L1021.8 510 L1021 508.4 L1020.2 506.8 L1019.9 506.1 L1019.4 507 L1019.1 507.7 L1018.6 508.6 L1017.8 510.2 L1017.5 510.8 L1017 510.9 L1016.2 511.1 L1015.9 511.2 L1015.4 511.3 L1014.6 511.5 L1013.8 511.7 L1013 511.9 L1012.2 512.1 L1011.4 512.3 L1011.3 512.3 L1010.6 511.2 L1009.8 509.8 L1009.7 509.6 L1009 508.4 L1008.2 507 L1008.1 506.9 L1007.4 505.6 L1006.6 504.2 L1006.6 504.1 L1005.8 502.8 L1005 501.4 L1005 501.4 L1004.2 502.2 L1003.4 502.9 L1003.3 503 L1002.6 503.7 L1002.5 503.8 L1001.8 504.5 L1001.7 504.5 L1001 505 L1000.2 505.5 L1000.2 505.6 L999.4 506.1 L998.6 506.6 L997.8 507.1 L997 507.7 L997 507.7 L996.2 508.1 L995.4 508.5 L994.6 508.9 L993.9 509.2 L993.8 509.2 L993 508.8 L992.2 508.4 L991.4 508 L990.8 507.7 L990.6 505.8 L989.8 497.8 L989 489.8 L988.4 484.2 L988.2 481.8 L987.7 476.4 L987.4 479.2 L986.6 488 L985.8 496.8 L985 505.6 L984.5 510.8 L984.2 510.1 L983.4 508.5 L982.6 506.9 L981.8 505.3 L981.4 504.5 L981 503.1 L980.2 500.3 L979.4 497.5 L978.6 494.7 L978.3 493.6 L977.8 493.3 L977 492.9 L976.2 492.5 L975.4 492.1 L975.1 491.9 L974.6 490.9 L973.8 489.3 L973.6 488.9 L973 487.7 L972.8 487.3 L972.2 486.1 L972 485.8 L971.4 485.1 L971.2 485 L970.6 484.3 L969.8 483.5 L969.7 483.4 L969 482.7 L968.9 482.6 L968.2 483.3 L967.4 484.1 L967.3 484.2 L966.6 484.9 L965.8 485.7 L965.8 485.8 L965 491.8 L965 492 L964.2 498.2 L963.4 504.5 L963.4 504.6 L962.6 510.8 L962.6 510.8 L961.8 510.8 L961 510.8 L960.2 510.8 L959.4 510.8 L958.7 510.8 L958.6 510.9 L957.9 511.4 L957.8 511.5 L957 512.2 L956.2 512.8 L955.4 513.4 L954.8 513.9 L954.6 513.7 L953.8 512.9 L953 512.1 L952.2 511.3 L951.7 510.8 L951.4 508.5 L950.6 502.1 L949.8 495.7 L949 489.3 L948.6 485.8 L948.2 488.8 L947.4 495.6 L946.6 502.4 L945.8 509.2 L945.4 512.3 L945 512.2 L944.2 511.9 L943.4 511.5 L942.6 511.2 L941.8 510.9 L941 510.6 L940.7 510.5 L940.2 510.3 L939.4 509.9 L938.6 509.6 L937.8 509.3 L937.6 509.2 L937 509 L936.2 508.7 L935.4 508.5 L934.6 508.2 L934.5 508.2 L933.8 507.9 L933 507.7 L932.9 507.7 L932.2 506.7 L931.4 505.6 L931.3 505.6 L930.6 504.6 L929.8 503.5 L929.8 503.5 L929 502.4 L928.2 501.4 L928.2 501.4 L927.4 503 L927.4 503 L926.6 504.6 L925.9 506.1 L925.8 506.2 L925.1 507.7 L925 506.3 L924.2 495.1 L923.4 483.9 L922.6 472.7 L922 463.9 L921.8 464.7 L921 468.7 L920.2 472.7 L919.4 476.7 L918.8 479.5 L918.6 480.7 L917.8 484.7 L917 488.7 L916.2 492.7 L915.7 495.1 L915.4 495.4 L914.6 496.1 L913.8 496.8 L913 497.5 L912.2 498.1 L911.4 498.8 L910.6 499.5 L910.2 499.8 L909.8 499.1 L909 497.9 L908.2 496.6 L907.4 495.3 L906.6 494 L906.3 493.6 L905.8 488.1 L905 479.7 L904.2 471.3 L903.4 462.9 L903.2 460.7 L902.6 465.1 L901.8 471 L901 476.9 L900.2 482.7 L900.1 483.7 L899.4 488.6 L898.6 494.5 L898.5 495.1 L897.8 495.6 L897 496.1 L896.9 496.2 L896.2 496.7 L895.4 497.2 L894.6 497.7 L893.8 498.3 L893.8 498.3 L893 497.5 L892.3 496.7 L892.2 496.7 L891.5 495.9 L891.4 495.9 L890.7 495.1 L890.6 494.2 L889.8 485.1 L889 476 L888.3 468.6 L888.2 469.4 L887.6 473.2 L887.4 474.2 L886.6 479 L886 482.6 L885.8 483.8 L885 488.6 L884.4 492 L884.2 492.1 L883.6 492.3 L883.4 492.4 L882.6 492.6 L881.8 492.9 L881 493.2 L880.2 493.4 L879.7 493.6 L879.4 493.5 L878.6 493.2 L877.8 492.9 L877 492.7 L876.6 492.5 L876.2 492.4 L875.4 492.1 L875 492 L874.6 492.2 L873.8 492.4 L873.5 492.5 L873 492.7 L872.2 493 L871.9 493.1 L871.4 493.2 L870.6 493.5 L870.4 493.6 L869.8 494.5 L869 495.8 L868.8 496.2 L868.2 497.2 L867.4 498.5 L866.6 499.8 L865.8 501.2 L865.7 501.4 L865 500.1 L864.2 498.5 L863.4 496.9 L863.3 496.7 L862.6 495.3 L862.5 495.1 L861.8 494.6 L861 493.9 L861 493.9 L860.2 493.3 L859.4 492.6 L859.4 492.6 L858.6 492 L858.6 491.7 L857.8 483.2 L857 474.7 L856.3 467 L856.2 467.4 L855.4 471.9 L854.7 475.7 L854.6 476.4 L853.9 480.1 L853.8 480.9 L853.2 484.5 L853 485.4 L852.4 488.9 L852.2 489.2 L851.4 490.4 L850.8 491.4 L850.6 491.7 L849.8 493 L849 494.3 L848.5 495.1 L848.2 495.1 L847.4 495.1 L846.6 495.1 L845.8 495.1 L845 495.1 L844.2 495.1 L843.4 495.1 L842.6 495.1 L842.2 495.1 L841.8 495.9 L841 497.5 L840.2 499.1 L839.4 500.7 L839.1 501.4 L838.6 500.8 L838.3 500.4 L837.8 499.8 L837 498.8 L836.2 497.8 L835.4 496.8 L834.6 495.8 L834.4 495.5 L833.8 494.8 L833 493.8 L832.8 493.6 L832.2 493.6 L831.4 493.6 L831.3 493.6 L830.6 493.6 L829.8 493.6 L829 493.6 L828.2 493.6 L827.4 493.6 L827.3 493.6 L826.6 492.1 L826.6 492 L825.8 490.5 L825 488.9 L825 488.9 L824.2 490.4 L823.4 491.9 L822.6 493.4 L822.5 493.6 L821.8 493.8 L821.7 493.8 L821 494 L820.2 494.2 L819.4 494.5 L818.6 494.7 L817.8 494.9 L817 495.1 L817 495.1 L816.2 495.1 L815.5 495.1 L815.4 495.1 L814.7 495.1 L814.6 495.1 L813.9 495.1 L813.8 494.9 L813 493.3 L812.2 491.7 L811.4 490.1 L810.8 488.9 L810.6 488.5 L809.8 486.9 L809.2 485.8 L809 486.3 L808.2 488.3 L807.4 490.3 L806.6 492.3 L806.1 493.6 L805.8 492.6 L805 489.8 L804.2 487 L803.4 484.2 L803 482.6 L802.6 482.9 L801.8 483.6 L801.4 483.9 L801 484.2 L800.2 484.8 L799.4 485.5 L799.1 485.8 L798.6 485.3 L797.8 484.5 L797.5 484.2 L797 483.7 L796.2 482.9 L795.9 482.6 L795.4 481.9 L795.1 479.4 L794.6 480.9 L793.8 479.8 L793.6 479.5 L793 486.4 L792.8 488.9 L792.2 496 L791.4 503.9 L791.2 505.2 L790.6 503 L790.4 501.9 L789.8 497.2 L789.7 496.2 L789 491.3 L788.9 490.4 L788.2 489.8 L787.4 489 L786.6 488.2 L786.5 488.1 L785.8 487.4 L785.8 487.3 L785 487.2 L784.2 487 L783.4 486.8 L782.6 486.7 L782.6 486.7 L781.8 486.5 L781.1 486.4 L781 486.4 L780.2 486.2 L779.4 486 L778.6 485.9 L777.9 485.8 L777.8 485.7 L777 485.6 L776.2 485.4 L775.4 485.2 L774.8 485.1 L774.6 485.1 L773.8 484.9 L773.2 484.8 L773 484.8 L772.2 484.6 L771.4 484.4 L770.6 484.3 L770.1 484.2 L769.8 484.4 L769 485 L768.6 485.4 L768.2 485.6 L767.4 486.2 L766.6 486.8 L765.8 487.4 L765.4 487.7 L765 488 L764.2 488.6 L763.9 488.9 L763.4 488.6 L762.6 488.2 L761.8 487.7 L761.5 487.5 L761 487.2 L760.7 487.1 L760.2 486.8 L759.4 486.3 L758.6 485.9 L758.4 485.8 L757.8 472.8 L757.6 468.6 L757.3 461.7 L757 455.2 L756.8 451.3 L756.2 451.3 L755.4 451.3 L754.6 451.3 L753.8 451.3 L753 451.3 L752.2 451.3 L751.4 451.3 L750.6 451.3 L749.8 451.3 L749 451.3 L748.2 451.3 L747.4 451.3 L746.6 451.3 L745.8 451.3 L745 451.3 L744.2 451.3 L743.8 451.3 L743.4 454 L742.6 458.7 L741.8 463.4 L741.2 467 L741 467.7 L740.2 470.9 L739.4 474.1 L738.8 476.4 L738.6 476.1 L737.8 475 L737 473.9 L736.5 473.2 L736.2 473.8 L735.7 474.8 L735.4 475.4 L734.6 477 L734.1 477.9 L733.8 478 L733 478.2 L732.6 478.3 L732.2 478.4 L731.8 478.5 L731.4 478.6 L730.6 478.8 L729.8 479 L729.5 479.1 L729 479.2 L728.2 479.4 L727.9 479.5 L727.4 479.8 L726.6 480.4 L726.3 480.5 L725.8 480.9 L725 481.4 L724.8 481.6 L724.2 482 L724 482.1 L723.7 482.3 L723.4 482.5 L723.2 482.6 L722.6 485 L722.4 485.8 L721.8 488.2 L721.6 488.9 L721 491.4 L720.2 494.6 L720.1 495.1 L719.4 492.1 L719.3 491.6 L718.6 488.5 L718.5 488.1 L717.8 484.9 L717 481.3 L716.9 481.1 L716.2 485 L716.2 485.2 L715.4 489.3 L714.6 493.6 L714.6 493.6 L713.8 493.8 L713.8 493.8 L713 493.9 L712.2 494.1 L711.4 494.3 L710.6 494.5 L709.8 494.6 L709 494.8 L708.2 495 L707.6 495.1 L707.4 495.1 L706.6 495.1 L705.8 495.1 L705 495.1 L704.2 495.1 L703.4 495.1 L702.6 495.1 L701.8 495.1 L701.3 495.1 L701 496 L700.2 498.4 L699.4 500.8 L698.6 503.2 L698.2 504.5 L697.8 504.1 L697 503.1 L696.2 502.1 L695.4 501.1 L695 500.6 L694.6 500.1 L694.3 499.6 L693.8 499.1 L693 498.1 L692.2 497.1 L691.9 496.7 L691.4 496.6 L690.6 496.3 L689.8 496.1 L689 495.9 L688.2 495.6 L687.4 495.4 L686.6 495.2 L686.4 495.1 L685.8 494.2 L685.7 494 L685 493 L684.2 491.8 L683.4 490.6 L683.3 490.4 L682.6 485.8 L682.5 485.4 L681.8 480.6 L681 475.4 L681 475.2 L680.2 470.2 L680.2 470.1 L679.4 467.8 L679.4 467.7 L678.6 465.4 L678.6 465.3 L677.8 463.1 L677.8 462.9 L677.1 460.7 L677 460.9 L676.3 462.3 L676.2 462.5 L675.5 463.9 L675.4 464.1 L674.6 465.7 L673.9 467 L673.8 468.1 L673.2 473.2 L673 474.5 L672.2 480.9 L671.4 487.3 L670.8 492 L670.6 492.1 L669.8 492.2 L669 492.4 L668.2 492.6 L667.4 492.8 L666.6 492.9 L665.8 493.1 L665 493.3 L664.2 493.5 L663.8 493.6 L663.4 494.1 L662.6 495.3 L661.8 496.5 L661 497.7 L660.6 498.3 L660.2 497.9 L659.4 497.3 L658.6 496.6 L657.8 496 L657.5 495.8 L657 495.4 L656.7 495.1 L656.2 495.3 L655.4 495.5 L654.6 495.7 L654.4 495.7 L653.8 495.9 L653 496.1 L652.2 496.3 L651.4 496.5 L651.3 496.5 L650.6 496.7 L650.5 496.7 L649.8 495.4 L649 493.8 L648.2 492.1 L647.4 490.5 L647.3 490.4 L646.6 488.9 L645.8 487.3 L645 485.8 L645 485.8 L644.2 489.5 L643.4 493.1 L643.3 493.6 L642.6 493.4 L641.8 493.3 L641 493.1 L640.2 493 L639.4 492.8 L638.6 492.6 L637.8 492.5 L637 492.3 L637 492.3 L636.3 492.2 L636.2 492.2 L635.5 492 L635.4 491.6 L634.6 487.1 L633.9 483.3 L633.8 482.6 L633 478.2 L632.3 474.5 L632.2 473.7 L631.6 470.1 L631.4 469.8 L630.6 468.2 L629.8 466.6 L629.2 465.4 L629 467.2 L628.4 471.7 L628.2 473.6 L627.7 477.9 L627.4 480 L626.9 484.2 L626.6 486.4 L626.1 490.4 L625.8 490.7 L625.3 491.2 L625 491.5 L624.5 492 L624.2 492.3 L623.7 492.8 L623.4 493.1 L623 493.6 L622.6 490.9 L622.2 487.7 L621.8 484.9 L621.4 481.8 L621 478.9 L620.6 476 L620.2 472.9 L619.8 470.1 L619.4 474.4 L619.1 477.9 L618.6 482.4 L617.8 490.4 L617.5 493.6 L617 492.4 L616.7 491.6 L616.2 490.4 L615.4 488.4 L615.1 487.7 L614.6 486.4 L614.4 485.8 L613.8 482.1 L613 476.9 L612.8 475.6 L612.2 471.7 L612 470.5 L611.4 466.5 L611.2 465.4 L610.6 468.2 L609.8 471.7 L609.7 472.3 L609 475.2 L608.9 475.7 L608.2 478.8 L608.1 479.2 L607.4 482.3 L607.3 482.6 L606.6 488.4 L606.5 488.9 L605.8 494.8 L605.8 495.1 L605 501.2 L605 501.4 L604.2 507.6 L604.2 507.7 L603.4 503.3 L602.6 499.1 L602.6 498.9 L601.8 494.7 L601.8 494.5 L601.1 490.4 L601 490.4 L600.2 489.2 L599.8 488.6 L599.5 488.1 L599.4 488 L598.6 486.8 L597.9 485.8 L597.8 484.8 L597.2 480.3 L597 479.2 L596.2 473.6 L595.6 469.3 L595.4 468 L594.8 463.9 L594.6 464.1 L594 464.6 L593.8 464.9 L593.2 465.4 L593 465.7 L592.5 466.2 L592.2 466.5 L591.7 467 L591.4 469 L590.9 472.5 L590.6 474.6 L590.1 477.9 L589.8 480.2 L589 485.8 L588.6 488.9 L588.2 488.4 L587.4 487.3 L586.6 486.3 L586.2 485.8 L585.8 485.2 L585 484.1 L584.2 483.1 L583.9 482.6 L583.4 484.2 L582.6 487 L581.8 489.8 L581.5 490.8 L581 492.6 L580.7 493.6 L580.2 493.6 L579.4 493.6 L578.6 493.6 L577.8 493.6 L577.6 493.6 L577 496 L576.2 499.2 L576 499.8 L575.4 502.4 L574.6 505.6 L574.5 506.1 L573.8 501.7 L573 496.5 L572.9 495.9 L572.2 491.3 L571.4 486.1 L571.3 485.8 L570.6 480.9 L569.8 475.7 L569 470.5 L568.2 465.4 L568.2 465.6 L567.4 470.4 L566.6 475.2 L565.8 480 L565.1 484.2 L565 484.8 L564.3 488.9 L564.2 489.6 L563.5 493.6 L563.4 493.9 L562.7 495.5 L562.6 495.9 L561.8 497.9 L561.2 499.4 L561 499.9 L560.4 501.4 L560.2 500.1 L559.4 494.9 L558.8 491.2 L558.6 489.7 L557.8 484.5 L557.3 481.1 L557 480.7 L556.5 480 L556.2 479.6 L555.7 479 L555.4 478.6 L554.9 477.9 L554.6 481.2 L553.8 489.2 L553.4 493.6 L553 497.2 L552.6 501.4 L552.2 498.8 L551.4 493.5 L550.6 488.2 L550.2 485.8 L549.8 483.7 L549.5 482 L549 479.8 L548.2 476 L547.9 474.5 L547.4 472.1 L546.6 468.3 L546.3 467 L545.8 472.8 L545.5 475.6 L545 481.6 L544.2 490.4 L543.4 499.2 L543.2 501.4 L542.6 500.5 L542.4 500.2 L541.8 499.3 L541.6 499.1 L541 498.1 L540.2 496.9 L540.1 496.7 L539.4 493.7 L539.3 493.2 L538.6 490.1 L537.8 486.5 L537 482.9 L536.9 482.6 L536.2 477.7 L536.2 477.4 L535.4 472.3 L534.6 467 L534.6 467 L533.8 472.3 L533.8 472.4 L533 477.8 L532.2 483.3 L531.4 488.7 L530.7 493.6 L530.6 493.1 L529.8 488.3 L529 483.5 L528.2 478.7 L527.6 474.8 L527.4 474.7 L526.6 474.3 L525.8 473.9 L525 473.5 L524.4 473.2 L524.2 474.7 L523.4 479.9 L522.6 485.1 L522.1 488.5 L521.8 490.3 L521.3 493.6 L521 492.5 L520.2 489.7 L519.7 488.1 L519.4 486.9 L518.6 484.1 L518.2 482.6 L517.8 486 L517 493.2 L516.6 496.7 L516.2 500.4 L515.4 507.6 L515 510.8 L514.6 501.6 L514.3 494.7 L513.8 485.2 L513 468.8 L512.7 462.7 L512.2 452.4 L511.9 446.7 L511.4 452.1 L511.1 454.9 L510.6 460.5 L509.8 468.9 L509.6 471.3 L509 477.3 L508.8 479.5 L508.2 482.2 L507.4 485.8 L507.2 486.5 L506.6 489.4 L506.4 490.1 L505.8 493 L505.7 493.6 L505 492.9 L504.9 492.8 L504.2 492.1 L504.1 492 L503.4 491.3 L502.6 490.5 L502.5 490.4 L501.8 489.3 L501.8 489.3 L501 488.1 L501 488.1 L500.2 486.9 L499.4 485.8 L499.4 485.7 L498.6 475.6 L498.6 475.3 L497.8 464.9 L497 454.5 L496.3 445.1 L496.2 445.1 L495.4 445.1 L494.6 445.1 L493.9 445.1 L493.8 447.1 L493.2 456.6 L493 458.8 L492.4 468 L492.2 470.5 L491.6 479.5 L491.4 481.3 L490.6 488.7 L490 494.1 L489.8 496.2 L489.2 501.4 L489 497.2 L488.5 487.8 L488.2 483.3 L487.7 474.3 L487.4 469.5 L486.9 460.7 L486.6 462.8 L485.8 468.4 L485.3 471.7 L485 474 L484.2 479.6 L483.8 482.6 L483.4 483.7 L482.6 486.1 L482.2 487.3 L481.8 488.5 L481 490.9 L480.6 492 L480.2 491.9 L479.9 491.8 L479.4 491.7 L478.6 491.5 L477.8 491.3 L477 491.1 L476.2 490.9 L475.4 490.7 L474.6 490.5 L474.4 490.4 L473.8 489.6 L473.6 489.3 L473 488.4 L472.2 487.2 L471.4 486 L471.3 485.8 L470.6 477.6 L469.8 467.6 L469 457.6 L468.2 447.6 L468.1 446.7 L467.4 452.1 L466.6 458.2 L466.6 458.4 L465.8 464.2 L465 470.1 L465 470.1 L464.2 468.8 L463.4 467.5 L463.3 467.3 L462.6 466.2 L462.5 466.1 L461.8 464.9 L461 463.6 L460.9 463.6 L460.2 462.4 L460.2 462.3 L459.4 471.9 L458.6 481.8 L458.6 481.9 L457.8 491.9 L457 501.4 L457 501.4 L456.3 500.9 L456.2 500.8 L455.4 500.3 L454.7 499.8 L454.6 499.1 L453.9 493.9 L453.8 493.1 L453.1 487.9 L453 487 L452.2 480.9 L451.4 474.8 L450.8 470.1 L450.6 469.9 L449.8 469.1 L449 468.3 L448.4 467.8 L448.2 467.5 L447.7 467 L447.4 469.3 L446.6 476.5 L446.1 481.1 L445.8 483.7 L445.3 488.1 L445 490.9 L444.2 498.1 L443.4 505.3 L443 509.2 L442.6 508.3 L441.8 506.3 L441 504.3 L440.6 503.4 L440.2 502.3 L439.8 501.4 L439.4 500.8 L438.6 499.8 L437.8 498.7 L437.5 498.3 L437 497.6 L436.2 496.6 L435.4 495.5 L435.1 495.1 L434.6 495 L433.8 494.8 L433 494.6 L432.2 494.4 L432 494.4 L431.4 494.2 L430.6 494 L430.4 494 L429.8 493.8 L429 493.6 L428.9 493.6 L428.2 493.4 L427.4 493.2 L426.6 493 L426.5 493 L425.8 492.8 L425.8 492.8 L425 492.6 L424.2 492.4 L423.4 492.2 L422.6 492 L422.6 492.1 L421.8 493.1 L421 494.2 L420.2 495.3 L419.5 496.2 L419.4 496.3 L418.6 497.4 L417.9 498.3 L417.8 498.1 L417 497 L416.4 496.2 L416.2 496 L415.6 495.1 L415.4 494.9 L414.6 493.8 L413.8 492.8 L413.2 492 L413 492.2 L412.2 492.7 L411.4 493.2 L410.6 493.8 L410.1 494.1 L409.8 494.3 L409.3 494.6 L409 494.8 L408.6 495.1 L408.2 495.5 L407.4 496.3 L407 496.7 L406.6 497.1 L405.8 497.9 L405.4 498.3 L405 497.2 L404.2 495.3 L403.9 494.5 L403.4 493.4 L402.6 491.5 L401.8 489.6 L401.5 488.9 L401 489.1 L400.7 489.2 L400.2 489.4 L399.4 489.7 L399.2 489.8 L398.6 490.1 L397.8 490.4 L397.6 490.4 L397 492.6 L396.2 495.4 L396 495.9 L395.4 498.2 L394.6 501 L394.5 501.4 L393.8 501.4 L393 501.4 L392.2 501.4 L392.1 501.4 L391.4 501.4 L391.3 501.4 L390.6 491.7 L389.8 481.3 L389.8 481.1 L389 470.9 L388.2 460.7 L388.2 460.7 L387.4 461.1 L387.4 461.1 L386.7 461.5 L386.6 461.5 L385.8 461.9 L385.1 462.3 L385 463.5 L384.2 473.5 L383.4 483.5 L382.6 493.5 L382 501.4 L381.8 500.8 L381 498.2 L380.2 495.5 L379.6 493.6 L379.4 493.1 L378.8 492 L378.6 491.5 L377.8 489.9 L377.3 488.9 L377 488.3 L376.2 486.7 L375.7 485.8 L375.4 484.1 L374.6 479.7 L374.1 477.2 L373.8 475.3 L373.4 472.9 L373 470.9 L372.6 468.6 L372.2 468.8 L371.4 468.2 L371.3 466.9 L371 469.6 L370.6 469.9 L370.2 470.1 L369.8 474.5 L369 482.5 L368.2 490.5 L367.9 493.6 L367.4 491.9 L366.6 489.3 L366.3 488.4 L365.8 486.6 L365.5 485.8 L365 484.4 L364.2 482.4 L363.4 480.4 L363.2 479.9 L362.6 478.4 L362.4 477.9 L361.8 479.2 L361 480.8 L360.9 481.1 L360.2 482.4 L360.1 482.6 L359.4 484 L358.6 485.6 L358.5 485.8 L357.8 485.1 L357 484.3 L356.9 484.2 L356.2 483.5 L355.4 482.7 L355.4 482.6 L354.6 480.3 L354.6 480.3 L353.8 477.9 L353.8 477.9 L353 475.5 L352.3 473.2 L352.2 473.3 L351.5 474.8 L351.4 474.9 L350.6 476.5 L349.9 477.9 L349.8 478.5 L349.1 482.1 L349 482.8 L348.2 487 L347.6 490.4 L347.4 490.5 L346.6 490.8 L345.8 491 L345 491.3 L344.2 491.6 L343.4 491.8 L342.9 492 L342.6 492.1 L341.8 492.4 L341 492.8 L340.2 493.1 L339.7 493.3 L339.4 493.4 L339 493.6 L338.6 492.4 L337.8 489.9 L337 487.3 L336.6 486.1 L336.2 484.8 L335.4 482.2 L335 481.1 L334.6 481.3 L333.8 481.7 L333.5 481.8 L333 482.1 L332.2 482.5 L331.9 482.6 L331.4 483.1 L331.1 483.4 L330.6 483.9 L329.8 484.7 L329.6 485 L329 485.5 L328.8 485.8 L328.2 487.7 L327.4 490.4 L327.2 491 L326.6 493.1 L326.4 493.6 L325.8 493.6 L325 493.6 L324.2 493.6 L323.4 493.6 L322.6 493.6 L322.5 493.6 L321.8 493.6 L321 493.6 L321 493.6 L320.2 493.6 L319.4 493.6 L319.4 493.6 L318.6 493.6 L317.8 493.6 L317.8 493.6 L317 493.6 L316.3 493.6 L316.2 493.3 L315.4 490.1 L314.7 487.3 L314.6 486.9 L313.8 483.7 L313.2 481.1 L313 481 L312.4 480.5 L312.2 480.4 L311.4 479.9 L310.8 479.5 L310.6 480 L310 481.6 L309.8 482.2 L309 484.3 L308.5 485.8 L308.2 486.3 L307.4 487.9 L306.9 488.9 L306.6 489.5 L305.8 491.1 L305 492.7 L304.2 494.3 L303.8 495.1 L303.4 495.1 L302.6 495.1 L302.2 495.1 L301.8 495.1 L301 495.1 L300.2 495.1 L299.9 495.1 L299.4 496.1 L298.6 497.7 L297.8 499.3 L297 500.9 L296.2 502.5 L295.4 504.1 L294.6 505.7 L293.8 507.3 L293 508.9 L292.8 509.2 L292.2 509.7 L291.4 510.2 L290.6 510.8 L289.8 511.4 L289 511.9 L288.2 512.5 L288 512.7 L287.4 511.6 L286.6 510.2 L285.8 508.7 L285 507.3 L284.2 505.9 L283.4 504.5 L282.6 503.1 L282.4 502.7 L281.8 501.7 L281.6 501.3 L281 500.3 L280.2 498.9 L280 498.6 L279.4 495.5 L278.6 491.7 L278.5 491.1 L277.8 487.8 L277 484 L276.9 483.6 L276.2 480.2 L276.1 479.8 L275.4 483.9 L274.6 488.5 L274.6 488.7 L273.8 493 L273 497.5 L272.2 502 L272.2 502.1 L271.4 506.4 L271.4 506.2 L270.6 501.7 L269.9 497.5 L269.8 497.1 L269 492.6 L268.3 488.7 L268.2 488.1 L267.4 483.5 L266.7 479.8 L266.6 481.4 L266 488.7 L265.8 490.5 L265.2 497.5 L265 499.6 L264.4 506.4 L264.2 506.5 L263.6 506.7 L263.4 506.8 L262.6 507.1 L261.8 507.4 L261 507.8 L260.2 508.1 L259.4 508.4 L258.6 508.7 L258.1 508.9 L257.8 509 L257 509.4 L256.6 509.5 L256.2 509 L255.8 508.4 L255.4 507.9 L255 507.3 L254.6 506.8 L253.8 505.6 L253.4 505.1 L253 504.5 L252.2 503.4 L251.4 502.3 L250.6 501.2 L249.8 500 L249 498.9 L248.8 498.6 L248.2 499.1 L247.4 499.9 L246.6 500.7 L246.4 500.9 L245.8 501.5 L245.6 501.7 L245 502.3 L244.8 502.5 L244.2 503.1 L243.4 503.9 L242.6 504.7 L242.5 504.8 L241.8 505.5 L241 506.3 L240.9 506.4 L240.2 506.4 L239.4 506.4 L238.6 506.4 L237.8 506.4 L237.8 506.4 L237 506.4 L236.2 506.4 L235.4 506.4 L234.6 506.4 L233.8 506.4 L233.1 506.4 L233 506.2 L232.2 505.2 L231.4 504.2 L230.6 503.2 L230 502.5 L229.8 502.2 L229.2 501.5 L229 501.2 L228.2 500.2 L227.4 499.2 L226.9 498.6 L226.6 497 L225.8 492.2 L225.3 489.2 L225 487.4 L224.2 482.6 L223.7 479.8 L223.4 479.5 L222.6 478.7 L221.8 477.9 L221.4 477.5 L221 477.1 L220.6 476.7 L220.2 476.3 L219.4 475.5 L219 475.1 L218.6 476 L217.8 477.6 L217.5 478.2 L217 479.2 L216.7 479.8 L216.2 480.8 L215.4 482.4 L214.6 484 L214.3 484.5 L213.8 485.6 L213 487.2 L212.2 488.8 L211.4 490.4 L211.2 490.8 L210.6 491.1 L209.8 491.5 L209.7 491.5 L209 491.9 L208.9 491.9 L208.2 492.3 L208.1 492.3 L207.4 492.7 L206.6 493.1 L205.8 493.5 L205 493.9 L205 493.9 L204.2 492.9 L203.4 491.8 L202.6 490.8 L202.6 490.7 L201.8 489.7 L201.8 489.7 L201.4 489.1 L201 488.6 L200.3 487.6 L200.2 487.7 L199.5 488.7 L199.4 488.8 L198.6 489.9 L197.9 490.8 L197.8 490.9 L197 492 L196.2 493.1 L195.6 493.9 L195.4 493.7 L194.6 492.8 L194 492.1 L193.8 491.8 L193.2 491.2 L193 490.9 L192.2 490 L191.4 489.1 L190.9 488.5 L190.6 488.2 L190.1 487.6 L189.8 488.1 L189 489.4 L188.2 490.7 L187.8 491.4 L187.4 492 L186.6 493.2 L186.2 493.9 L185.8 492.3 L185 489.1 L184.6 487.6 L184.2 485.9 L183.4 482.7 L183.1 481.4 L182.6 479.5 L182.3 478.2 L181.8 476.3 L181.5 475.1 L181 472.6 L180.7 471.2 L180.2 468.6 L179.9 467.3 L179.4 464.6 L178.6 460.6 L178.4 459.5 L177.8 463.3 L177 468.7 L176.8 469.9 L176.2 474 L175.4 479.3 L175.3 480.3 L174.6 484.7 L173.8 490 L173.7 490.8 L173 490.8 L172.9 490.8 L172.2 490.8 L171.4 490.8 L170.6 490.8 L170.6 490.8 L169.8 490.8 L169 490.8 L169 490.8 L168.2 490.8 L167.4 490.8 L167.4 489.9 L166.6 468.9 L166.6 467.5 L166.2 455.7 L165.9 447 L165.8 447.7 L165 456 L164.3 463.2 L164.2 464.3 L163.4 472.6 L162.6 480.9 L162 487.6 L161.8 488.2 L161.2 490.5 L161 491.2 L160.2 494.2 L159.4 497.1 L158.6 500.1 L158 502.2 L157.8 503.1 L157 506 L156.5 508 L156.2 506.4 L155.4 502 L154.9 499.4 L154.6 497.6 L154.1 495.1 L153.8 493.2 L153.4 490.8 L153 491.3 L152.6 491.9 L152.2 492.5 L151.8 493.1 L151.4 493.7 L150.6 494.9 L149.8 496.1 L149 497.3 L148.7 497.8 L148.2 498.5 L147.4 499.7 L147.1 500.1 L146.6 500 L145.8 499.9 L145.5 499.8 L145 499.7 L144.2 499.6 L143.4 499.4 L143.2 499.4 L142.6 499.2 L142.4 499.2 L141.8 499.1 L141 498.9 L140.8 498.9 L140.2 498.8 L139.4 498.6 L139.3 498.6 L138.6 499.4 L137.8 500.4 L137 501.3 L136.2 502.3 L136.2 502.3 L135.4 503.2 L135.4 503.3 L134.6 500.8 L133.8 498.3 L133.8 498.2 L133 495.8 L133 495.7 L132.2 493.1 L131.5 490.8 L131.4 490.8 L130.6 491.8 L129.9 492.6 L129.8 492.7 L129.1 493.6 L129 493.7 L128.3 494.5 L128.2 494.7 L127.4 495.6 L126.8 496.4 L126.6 496.6 L125.8 497.5 L125 498.5 L124.2 499.5 L123.6 500.1 L123.4 500 L122.6 499.7 L122.1 499.5 L121.8 499.4 L121 499.1 L120.5 498.9 L120.2 498.8 L119.7 498.6 L119.4 497.5 L118.9 496 L118.6 494.8 L117.8 492.1 L117.4 490.8 L117 487.7 L116.2 481.3 L115.4 474.9 L114.6 468.5 L114.3 465.7 L113.8 462.1Z" fill="#fe3377" stroke="#fe3377"/>
<path d="M113.8 462.1 L114.3 465.7 L114.6 468.5 L115.4 474.9 L116.2 481.3 L117 487.7 L117.4 490.8 L117.8 492.1 L118.6 494.8 L118.9 496 L119.4 497.5 L119.7 498.6 L120.2 498.8 L120.5 498.9 L121 499.1 L121.8 499.4 L122.1 499.5 L122.6 499.7 L123.4 500 L123.6 500.1 L124.2 499.5 L125 498.5 L125.8 497.5 L126.6 496.6 L126.8 496.4 L127.4 495.6 L128.2 494.7 L128.3 494.5 L129 493.7 L129.1 493.6 L129.8 492.7 L129.9 492.6 L130.6 491.8 L131.4 490.8 L131.5 490.8 L132.2 493.1 L133 495.7 L133 495.8 L133.8 498.2 L133.8 498.3 L134.6 500.8 L135.4 503.3 L135.4 503.2 L136.2 502.3 L136.2 502.3 L137 501.3 L137.8 500.4 L138.6 499.4 L139.3 498.6 L139.4 498.6 L140.2 498.8 L140.8 498.9 L141 498.9 L141.8 499.1 L142.4 499.2 L142.6 499.2 L143.2 499.4 L143.4 499.4 L144.2 499.6 L145 499.7 L145.5 499.8 L145.8 499.9 L146.6 500 L147.1 500.1 L147.4 499.7 L148.2 498.5 L148.7 497.8 L149 497.3 L149.8 496.1 L150.6 494.9 L151.4 493.7 L151.8 493.1 L152.2 492.5 L152.6 491.9 L153 491.3 L153.4 490.8 L153.8 493.2 L154.1 495.1 L154.6 497.6 L154.9 499.4 L155.4 502 L156.2 506.4 L156.5 508 L157 506 L157.8 503.1 L158 502.2 L158.6 500.1 L159.4 497.1 L160.2 494.2 L161 491.2 L161.2 490.5 L161.8 488.2 L162 487.6 L162.6 480.9 L163.4 472.6 L164.2 464.3 L164.3 463.2 L165 456 L165.8 447.7 L165.9 447 L166.2 455.7 L166.6 467.5 L166.6 468.9 L167.4 489.9 L167.4 490.8 L168.2 490.8 L169 490.8 L169 490.8 L169.8 490.8 L170.6 490.8 L170.6 490.8 L171.4 490.8 L172.2 490.8 L172.9 490.8 L173 490.8 L173.7 490.8 L173.8 490 L174.6 484.7 L175.3 480.3 L175.4 479.3 L176.2 474 L176.8 469.9 L177 468.7 L177.8 463.3 L178.4 459.5 L178.6 460.6 L179.4 464.6 L179.9 467.3 L180.2 468.6 L180.7 471.2 L181 472.6 L181.5 475.1 L181.8 476.3 L182.3 478.2 L182.6 479.5 L183.1 481.4 L183.4 482.7 L184.2 485.9 L184.6 487.6 L185 489.1 L185.8 492.3 L186.2 493.9 L186.6 493.2 L187.4 492 L187.8 491.4 L188.2 490.7 L189 489.4 L189.8 488.1 L190.1 487.6 L190.6 488.2 L190.9 488.5 L191.4 489.1 L192.2 490 L193 490.9 L193.2 491.2 L193.8 491.8 L194 492.1 L194.6 492.8 L195.4 493.7 L195.6 493.9 L196.2 493.1 L197 492 L197.8 490.9 L197.9 490.8 L198.6 489.9 L199.4 488.8 L199.5 488.7 L200.2 487.7 L200.3 487.6 L201 488.6 L201.4 489.1 L201.8 489.7 L201.8 489.7 L202.6 490.7 L202.6 490.8 L203.4 491.8 L204.2 492.9 L205 493.9 L205 493.9 L205.8 493.5 L206.6 493.1 L207.4 492.7 L208.1 492.3 L208.2 492.3 L208.9 491.9 L209 491.9 L209.7 491.5 L209.8 491.5 L210.6 491.1 L211.2 490.8 L211.4 490.4 L212.2 488.8 L213 487.2 L213.8 485.6 L214.3 484.5 L214.6 484 L215.4 482.4 L216.2 480.8 L216.7 479.8 L217 479.2 L217.5 478.2 L217.8 477.6 L218.6 476 L219 475.1 L219.4 475.5 L220.2 476.3 L220.6 476.7 L221 477.1 L221.4 477.5 L221.8 477.9 L222.6 478.7 L223.4 479.5 L223.7 479.8 L224.2 482.6 L225 487.4 L225.3 489.2 L225.8 492.2 L226.6 497 L226.9 498.6 L227.4 499.2 L228.2 500.2 L229 501.2 L229.2 501.5 L229.8 502.2 L230 502.5 L230.6 503.2 L231.4 504.2 L232.2 505.2 L233 506.2 L233.1 506.4 L233.8 506.4 L234.6 506.4 L235.4 506.4 L236.2 506.4 L237 506.4 L237.8 506.4 L237.8 506.4 L238.6 506.4 L239.4 506.4 L240.2 506.4 L240.9 506.4 L241 506.3 L241.8 505.5 L242.5 504.8 L242.6 504.7 L243.4 503.9 L244.2 503.1 L244.8 502.5 L245 502.3 L245.6 501.7 L245.8 501.5 L246.4 500.9 L246.6 500.7 L247.4 499.9 L248.2 499.1 L248.8 498.6 L249 498.9 L249.8 500 L250.6 501.2 L251.4 502.3 L252.2 503.4 L253 504.5 L253.4 505.1 L253.8 505.6 L254.6 506.8 L255 507.3 L255.4 507.9 L255.8 508.4 L256.2 509 L256.6 509.5 L257 509.4 L257.8 509 L258.1 508.9 L258.6 508.7 L259.4 508.4 L260.2 508.1 L261 507.8 L261.8 507.4 L262.6 507.1 L263.4 506.8 L263.6 506.7 L264.2 506.5 L264.4 506.4 L265 499.6 L265.2 497.5 L265.8 490.5 L266 488.7 L266.6 481.4 L266.7 479.8 L267.4 483.5 L268.2 488.1 L268.3 488.7 L269 492.6 L269.8 497.1 L269.9 497.5 L270.6 501.7 L271.4 506.2 L271.4 506.4 L272.2 502.1 L272.2 502 L273 497.5 L273.8 493 L274.6 488.7 L274.6 488.5 L275.4 483.9 L276.1 479.8 L276.2 480.2 L276.9 483.6 L277 484 L277.8 487.8 L278.5 491.1 L278.6 491.7 L279.4 495.5 L280 498.6 L280.2 498.9 L281 500.3 L281.6 501.3 L281.8 501.7 L282.4 502.7 L282.6 503.1 L283.4 504.5 L284.2 505.9 L285 507.3 L285.8 508.7 L286.6 510.2 L287.4 511.6 L288 512.7 L288.2 512.5 L289 511.9 L289.8 511.4 L290.6 510.8 L291.4 510.2 L292.2 509.7 L292.8 509.2 L293 508.9 L293.8 507.3 L294.6 505.7 L295.4 504.1 L296.2 502.5 L297 500.9 L297.8 499.3 L298.6 497.7 L299.4 496.1 L299.9 495.1 L300.2 495.1 L301 495.1 L301.8 495.1 L302.2 495.1 L302.6 495.1 L303.4 495.1 L303.8 495.1 L304.2 494.3 L305 492.7 L305.8 491.1 L306.6 489.5 L306.9 488.9 L307.4 487.9 L308.2 486.3 L308.5 485.8 L309 484.3 L309.8 482.2 L310 481.6 L310.6 480 L310.8 479.5 L311.4 479.9 L312.2 480.4 L312.4 480.5 L313 481 L313.2 481.1 L313.8 483.7 L314.6 486.9 L314.7 487.3 L315.4 490.1 L316.2 493.3 L316.3 493.6 L317 493.6 L317.8 493.6 L317.8 493.6 L318.6 493.6 L319.4 493.6 L319.4 493.6 L320.2 493.6 L321 493.6 L321 493.6 L321.8 493.6 L322.5 493.6 L322.6 493.6 L323.4 493.6 L324.2 493.6 L325 493.6 L325.8 493.6 L326.4 493.6 L326.6 493.1 L327.2 491 L327.4 490.4 L328.2 487.7 L328.8 485.8 L329 485.5 L329.6 485 L329.8 484.7 L330.6 483.9 L331.1 483.4 L331.4 483.1 L331.9 482.6 L332.2 482.5 L333 482.1 L333.5 481.8 L333.8 481.7 L334.6 481.3 L335 481.1 L335.4 482.2 L336.2 484.8 L336.6 486.1 L337 487.3 L337.8 489.9 L338.6 492.4 L339 493.6 L339.4 493.4 L339.7 493.3 L340.2 493.1 L341 492.8 L341.8 492.4 L342.6 492.1 L342.9 492 L343.4 491.8 L344.2 491.6 L345 491.3 L345.8 491 L346.6 490.8 L347.4 490.5 L347.6 490.4 L348.2 487 L349 482.8 L349.1 482.1 L349.8 478.5 L349.9 477.9 L350.6 476.5 L351.4 474.9 L351.5 474.8 L352.2 473.3 L352.3 473.2 L353 475.5 L353.8 477.9 L353.8 477.9 L354.6 480.3 L354.6 480.3 L355.4 482.6 L355.4 482.7 L356.2 483.5 L356.9 484.2 L357 484.3 L357.8 485.1 L358.5 485.8 L358.6 485.6 L359.4 484 L360.1 482.6 L360.2 482.4 L360.9 481.1 L361 480.8 L361.8 479.2 L362.4 477.9 L362.6 478.4 L363.2 479.9 L363.4 480.4 L364.2 482.4 L365 484.4 L365.5 485.8 L365.8 486.6 L366.3 488.4 L366.6 489.3 L367.4 491.9 L367.9 493.6 L368.2 490.5 L369 482.5 L369.8 474.5 L370.2 470.1 L370.6 469.9 L371 469.6 L371.3 466.9 L371.4 468.2 L372.2 468.8 L372.6 468.6 L373 470.9 L373.4 472.9 L373.8 475.3 L374.1 477.2 L374.6 479.7 L375.4 484.1 L375.7 485.8 L376.2 486.7 L377 488.3 L377.3 488.9 L377.8 489.9 L378.6 491.5 L378.8 492 L379.4 493.1 L379.6 493.6 L380.2 495.5 L381 498.2 L381.8 500.8 L382 501.4 L382.6 493.5 L383.4 483.5 L384.2 473.5 L385 463.5 L385.1 462.3 L385.8 461.9 L386.6 461.5 L386.7 461.5 L387.4 461.1 L387.4 461.1 L388.2 460.7 L388.2 460.7 L389 470.9 L389.8 481.1 L389.8 481.3 L390.6 491.7 L391.3 501.4 L391.4 501.4 L392.1 501.4 L392.2 501.4 L393 501.4 L393.8 501.4 L394.5 501.4 L394.6 501 L395.4 498.2 L396 495.9 L396.2 495.4 L397 492.6 L397.6 490.4 L397.8 490.4 L398.6 490.1 L399.2 489.8 L399.4 489.7 L400.2 489.4 L400.7 489.2 L401 489.1 L401.5 488.9 L401.8 489.6 L402.6 491.5 L403.4 493.4 L403.9 494.5 L404.2 495.3 L405 497.2 L405.4 498.3 L405.8 497.9 L406.6 497.1 L407 496.7 L407.4 496.3 L408.2 495.5 L408.6 495.1 L409 494.8 L409.3 494.6 L409.8 494.3 L410.1 494.1 L410.6 493.8 L411.4 493.2 L412.2 492.7 L413 492.2 L413.2 492 L413.8 492.8 L414.6 493.8 L415.4 494.9 L415.6 495.1 L416.2 496 L416.4 496.2 L417 497 L417.8 498.1 L417.9 498.3 L418.6 497.4 L419.4 496.3 L419.5 496.2 L420.2 495.3 L421 494.2 L421.8 493.1 L422.6 492.1 L422.6 492 L423.4 492.2 L424.2 492.4 L425 492.6 L425.8 492.8 L425.8 492.8 L426.5 493 L426.6 493 L427.4 493.2 L428.2 493.4 L428.9 493.6 L429 493.6 L429.8 493.8 L430.4 494 L430.6 494 L431.4 494.2 L432 494.4 L432.2 494.4 L433 494.6 L433.8 494.8 L434.6 495 L435.1 495.1 L435.4 495.5 L436.2 496.6 L437 497.6 L437.5 498.3 L437.8 498.7 L438.6 499.8 L439.4 500.8 L439.8 501.4 L440.2 502.3 L440.6 503.4 L441 504.3 L441.8 506.3 L442.6 508.3 L443 509.2 L443.4 505.3 L444.2 498.1 L445 490.9 L445.3 488.1 L445.8 483.7 L446.1 481.1 L446.6 476.5 L447.4 469.3 L447.7 467 L448.2 467.5 L448.4 467.8 L449 468.3 L449.8 469.1 L450.6 469.9 L450.8 470.1 L451.4 474.8 L452.2 480.9 L453 487 L453.1 487.9 L453.8 493.1 L453.9 493.9 L454.6 499.1 L454.7 499.8 L455.4 500.3 L456.2 500.8 L456.3 500.9 L457 501.4 L457 501.4 L457.8 491.9 L458.6 481.9 L458.6 481.8 L459.4 471.9 L460.2 462.3 L460.2 462.4 L460.9 463.6 L461 463.6 L461.8 464.9 L462.5 466.1 L462.6 466.2 L463.3 467.3 L463.4 467.5 L464.2 468.8 L465 470.1 L465 470.1 L465.8 464.2 L466.6 458.4 L466.6 458.2 L467.4 452.1 L468.1 446.7 L468.2 447.6 L469 457.6 L469.8 467.6 L470.6 477.6 L471.3 485.8 L471.4 486 L472.2 487.2 L473 488.4 L473.6 489.3 L473.8 489.6 L474.4 490.4 L474.6 490.5 L475.4 490.7 L476.2 490.9 L477 491.1 L477.8 491.3 L478.6 491.5 L479.4 491.7 L479.9 491.8 L480.2 491.9 L480.6 492 L481 490.9 L481.8 488.5 L482.2 487.3 L482.6 486.1 L483.4 483.7 L483.8 482.6 L484.2 479.6 L485 474 L485.3 471.7 L485.8 468.4 L486.6 462.8 L486.9 460.7 L487.4 469.5 L487.7 474.3 L488.2 483.3 L488.5 487.8 L489 497.2 L489.2 501.4 L489.8 496.2 L490 494.1 L490.6 488.7 L491.4 481.3 L491.6 479.5 L492.2 470.5 L492.4 468 L493 458.8 L493.2 456.6 L493.8 447.1 L493.9 445.1 L494.6 445.1 L495.4 445.1 L496.2 445.1 L496.3 445.1 L497 454.5 L497.8 464.9 L498.6 475.3 L498.6 475.6 L499.4 485.7 L499.4 485.8 L500.2 486.9 L501 488.1 L501 488.1 L501.8 489.3 L501.8 489.3 L502.5 490.4 L502.6 490.5 L503.4 491.3 L504.1 492 L504.2 492.1 L504.9 492.8 L505 492.9 L505.7 493.6 L505.8 493 L506.4 490.1 L506.6 489.4 L507.2 486.5 L507.4 485.8 L508.2 482.2 L508.8 479.5 L509 477.3 L509.6 471.3 L509.8 468.9 L510.6 460.5 L511.1 454.9 L511.4 452.1 L511.9 446.7 L512.2 452.4 L512.7 462.7 L513 468.8 L513.8 485.2 L514.3 494.7 L514.6 501.6 L515 510.8 L515.4 507.6 L516.2 500.4 L516.6 496.7 L517 493.2 L517.8 486 L518.2 482.6 L518.6 484.1 L519.4 486.9 L519.7 488.1 L520.2 489.7 L521 492.5 L521.3 493.6 L521.8 490.3 L522.1 488.5 L522.6 485.1 L523.4 479.9 L524.2 474.7 L524.4 473.2 L525 473.5 L525.8 473.9 L526.6 474.3 L527.4 474.7 L527.6 474.8 L528.2 478.7 L529 483.5 L529.8 488.3 L530.6 493.1 L530.7 493.6 L531.4 488.7 L532.2 483.3 L533 477.8 L533.8 472.4 L533.8 472.3 L534.6 467 L534.6 467 L535.4 472.3 L536.2 477.4 L536.2 477.7 L536.9 482.6 L537 482.9 L537.8 486.5 L538.6 490.1 L539.3 493.2 L539.4 493.7 L540.1 496.7 L540.2 496.9 L541 498.1 L541.6 499.1 L541.8 499.3 L542.4 500.2 L542.6 500.5 L543.2 501.4 L543.4 499.2 L544.2 490.4 L545 481.6 L545.5 475.6 L545.8 472.8 L546.3 467 L546.6 468.3 L547.4 472.1 L547.9 474.5 L548.2 476 L549 479.8 L549.5 482 L549.8 483.7 L550.2 485.8 L550.6 488.2 L551.4 493.5 L552.2 498.8 L552.6 501.4 L553 497.2 L553.4 493.6 L553.8 489.2 L554.6 481.2 L554.9 477.9 L555.4 478.6 L555.7 479 L556.2 479.6 L556.5 480 L557 480.7 L557.3 481.1 L557.8 484.5 L558.6 489.7 L558.8 491.2 L559.4 494.9 L560.2 500.1 L560.4 501.4 L561 499.9 L561.2 499.4 L561.8 497.9 L562.6 495.9 L562.7 495.5 L563.4 493.9 L563.5 493.6 L564.2 489.6 L564.3 488.9 L565 484.8 L565.1 484.2 L565.8 480 L566.6 475.2 L567.4 470.4 L568.2 465.6 L568.2 465.4 L569 470.5 L569.8 475.7 L570.6 480.9 L571.3 485.8 L571.4 486.1 L572.2 491.3 L572.9 495.9 L573 496.5 L573.8 501.7 L574.5 506.1 L574.6 505.6 L575.4 502.4 L576 499.8 L576.2 499.2 L577 496 L577.6 493.6 L577.8 493.6 L578.6 493.6 L579.4 493.6 L580.2 493.6 L580.7 493.6 L581 492.6 L581.5 490.8 L581.8 489.8 L582.6 487 L583.4 484.2 L583.9 482.6 L584.2 483.1 L585 484.1 L585.8 485.2 L586.2 485.8 L586.6 486.3 L587.4 487.3 L588.2 488.4 L588.6 488.9 L589 485.8 L589.8 480.2 L590.1 477.9 L590.6 474.6 L590.9 472.5 L591.4 469 L591.7 467 L592.2 466.5 L592.5 466.2 L593 465.7 L593.2 465.4 L593.8 464.9 L594 464.6 L594.6 464.1 L594.8 463.9 L595.4 468 L595.6 469.3 L596.2 473.6 L597 479.2 L597.2 480.3 L597.8 484.8 L597.9 485.8 L598.6 486.8 L599.4 488 L599.5 488.1 L599.8 488.6 L600.2 489.2 L601 490.4 L601.1 490.4 L601.8 494.5 L601.8 494.7 L602.6 498.9 L602.6 499.1 L603.4 503.3 L604.2 507.7 L604.2 507.6 L605 501.4 L605 501.2 L605.8 495.1 L605.8 494.8 L606.5 488.9 L606.6 488.4 L607.3 482.6 L607.4 482.3 L608.1 479.2 L608.2 478.8 L608.9 475.7 L609 475.2 L609.7 472.3 L609.8 471.7 L610.6 468.2 L611.2 465.4 L611.4 466.5 L612 470.5 L612.2 471.7 L612.8 475.6 L613 476.9 L613.8 482.1 L614.4 485.8 L614.6 486.4 L615.1 487.7 L615.4 488.4 L616.2 490.4 L616.7 491.6 L617 492.4 L617.5 493.6 L617.8 490.4 L618.6 482.4 L619.1 477.9 L619.4 474.4 L619.8 470.1 L620.2 472.9 L620.6 476 L621 478.9 L621.4 481.8 L621.8 484.9 L622.2 487.7 L622.6 490.9 L623 493.6 L623.4 493.1 L623.7 492.8 L624.2 492.3 L624.5 492 L625 491.5 L625.3 491.2 L625.8 490.7 L626.1 490.4 L626.6 486.4 L626.9 484.2 L627.4 480 L627.7 477.9 L628.2 473.6 L628.4 471.7 L629 467.2 L629.2 465.4 L629.8 466.6 L630.6 468.2 L631.4 469.8 L631.6 470.1 L632.2 473.7 L632.3 474.5 L633 478.2 L633.8 482.6 L633.9 483.3 L634.6 487.1 L635.4 491.6 L635.5 492 L636.2 492.2 L636.3 492.2 L637 492.3 L637 492.3 L637.8 492.5 L638.6 492.6 L639.4 492.8 L640.2 493 L641 493.1 L641.8 493.3 L642.6 493.4 L643.3 493.6 L643.4 493.1 L644.2 489.5 L645 485.8 L645 485.8 L645.8 487.3 L646.6 488.9 L647.3 490.4 L647.4 490.5 L648.2 492.1 L649 493.8 L649.8 495.4 L650.5 496.7 L650.6 496.7 L651.3 496.5 L651.4 496.5 L652.2 496.3 L653 496.1 L653.8 495.9 L654.4 495.7 L654.6 495.7 L655.4 495.5 L656.2 495.3 L656.7 495.1 L657 495.4 L657.5 495.8 L657.8 496 L658.6 496.6 L659.4 497.3 L660.2 497.9 L660.6 498.3 L661 497.7 L661.8 496.5 L662.6 495.3 L663.4 494.1 L663.8 493.6 L664.2 493.5 L665 493.3 L665.8 493.1 L666.6 492.9 L667.4 492.8 L668.2 492.6 L669 492.4 L669.8 492.2 L670.6 492.1 L670.8 492 L671.4 487.3 L672.2 480.9 L673 474.5 L673.2 473.2 L673.8 468.1 L673.9 467 L674.6 465.7 L675.4 464.1 L675.5 463.9 L676.2 462.5 L676.3 462.3 L677 460.9 L677.1 460.7 L677.8 462.9 L677.8 463.1 L678.6 465.3 L678.6 465.4 L679.4 467.7 L679.4 467.8 L680.2 470.1 L680.2 470.2 L681 475.2 L681 475.4 L681.8 480.6 L682.5 485.4 L682.6 485.8 L683.3 490.4 L683.4 490.6 L684.2 491.8 L685 493 L685.7 494 L685.8 494.2 L686.4 495.1 L686.6 495.2 L687.4 495.4 L688.2 495.6 L689 495.9 L689.8 496.1 L690.6 496.3 L691.4 496.6 L691.9 496.7 L692.2 497.1 L693 498.1 L693.8 499.1 L694.3 499.6 L694.6 500.1 L695 500.6 L695.4 501.1 L696.2 502.1 L697 503.1 L697.8 504.1 L698.2 504.5 L698.6 503.2 L699.4 500.8 L700.2 498.4 L701 496 L701.3 495.1 L701.8 495.1 L702.6 495.1 L703.4 495.1 L704.2 495.1 L705 495.1 L705.8 495.1 L706.6 495.1 L707.4 495.1 L707.6 495.1 L708.2 495 L709 494.8 L709.8 494.6 L710.6 494.5 L711.4 494.3 L712.2 494.1 L713 493.9 L713.8 493.8 L713.8 493.8 L714.6 493.6 L714.6 493.6 L715.4 489.3 L716.2 485.2 L716.2 485 L716.9 481.1 L717 481.3 L717.8 484.9 L718.5 488.1 L718.6 488.5 L719.3 491.6 L719.4 492.1 L720.1 495.1 L720.2 494.6 L721 491.4 L721.6 488.9 L721.8 488.2 L722.4 485.8 L722.6 485 L723.2 482.6 L723.4 482.5 L723.7 482.3 L724 482.1 L724.2 482 L724.8 481.6 L725 481.4 L725.8 480.9 L726.3 480.5 L726.6 480.4 L727.4 479.8 L727.9 479.5 L728.2 479.4 L729 479.2 L729.5 479.1 L729.8 479 L730.6 478.8 L731.4 478.6 L731.8 478.5 L732.2 478.4 L732.6 478.3 L733 478.2 L733.8 478 L734.1 477.9 L734.6 477 L735.4 475.4 L735.7 474.8 L736.2 473.8 L736.5 473.2 L737 473.9 L737.8 475 L738.6 476.1 L738.8 476.4 L739.4 474.1 L740.2 470.9 L741 467.7 L741.2 467 L741.8 463.4 L742.6 458.7 L743.4 454 L743.8 451.3 L744.2 451.3 L745 451.3 L745.8 451.3 L746.6 451.3 L747.4 451.3 L748.2 451.3 L749 451.3 L749.8 451.3 L750.6 451.3 L751.4 451.3 L752.2 451.3 L753 451.3 L753.8 451.3 L754.6 451.3 L755.4 451.3 L756.2 451.3 L756.8 451.3 L757 455.2 L757.3 461.7 L757.6 468.6 L757.8 472.8 L758.4 485.8 L758.6 485.9 L759.4 486.3 L760.2 486.8 L760.7 487.1 L761 487.2 L761.5 487.5 L761.8 487.7 L762.6 488.2 L763.4 488.6 L763.9 488.9 L764.2 488.6 L765 488 L765.4 487.7 L765.8 487.4 L766.6 486.8 L767.4 486.2 L768.2 485.6 L768.6 485.4 L769 485 L769.8 484.4 L770.1 484.2 L770.6 484.3 L771.4 484.4 L772.2 484.6 L773 484.8 L773.2 484.8 L773.8 484.9 L774.6 485.1 L774.8 485.1 L775.4 485.2 L776.2 485.4 L777 485.6 L777.8 485.7 L777.9 485.8 L778.6 485.9 L779.4 486 L780.2 486.2 L781 486.4 L781.1 486.4 L781.8 486.5 L782.6 486.7 L782.6 486.7 L783.4 486.8 L784.2 487 L785 487.2 L785.8 487.3 L785.8 487.4 L786.5 488.1 L786.6 488.2 L787.4 489 L788.2 489.8 L788.9 490.4 L789 491.3 L789.7 496.2 L789.8 497.2 L790.4 501.9 L790.6 503 L791.2 505.2 L791.4 503.9 L792.2 496 L792.8 488.9 L793 486.4 L793.6 479.5 L793.8 479.8 L794.6 480.9 L795.1 479.4 L795.4 481.9 L795.9 482.6 L796.2 482.9 L797 483.7 L797.5 484.2 L797.8 484.5 L798.6 485.3 L799.1 485.8 L799.4 485.5 L800.2 484.8 L801 484.2 L801.4 483.9 L801.8 483.6 L802.6 482.9 L803 482.6 L803.4 484.2 L804.2 487 L805 489.8 L805.8 492.6 L806.1 493.6 L806.6 492.3 L807.4 490.3 L808.2 488.3 L809 486.3 L809.2 485.8 L809.8 486.9 L810.6 488.5 L810.8 488.9 L811.4 490.1 L812.2 491.7 L813 493.3 L813.8 494.9 L813.9 495.1 L814.6 495.1 L814.7 495.1 L815.4 495.1 L815.5 495.1 L816.2 495.1 L817 495.1 L817 495.1 L817.8 494.9 L818.6 494.7 L819.4 494.5 L820.2 494.2 L821 494 L821.7 493.8 L821.8 493.8 L822.5 493.6 L822.6 493.4 L823.4 491.9 L824.2 490.4 L825 488.9 L825 488.9 L825.8 490.5 L826.6 492 L826.6 492.1 L827.3 493.6 L827.4 493.6 L828.2 493.6 L829 493.6 L829.8 493.6 L830.6 493.6 L831.3 493.6 L831.4 493.6 L832.2 493.6 L832.8 493.6 L833 493.8 L833.8 494.8 L834.4 495.5 L834.6 495.8 L835.4 496.8 L836.2 497.8 L837 498.8 L837.8 499.8 L838.3 500.4 L838.6 500.8 L839.1 501.4 L839.4 500.7 L840.2 499.1 L841 497.5 L841.8 495.9 L842.2 495.1 L842.6 495.1 L843.4 495.1 L844.2 495.1 L845 495.1 L845.8 495.1 L846.6 495.1 L847.4 495.1 L848.2 495.1 L848.5 495.1 L849 494.3 L849.8 493 L850.6 491.7 L850.8 491.4 L851.4 490.4 L852.2 489.2 L852.4 488.9 L853 485.4 L853.2 484.5 L853.8 480.9 L853.9 480.1 L854.6 476.4 L854.7 475.7 L855.4 471.9 L856.2 467.4 L856.3 467 L857 474.7 L857.8 483.2 L858.6 491.7 L858.6 492 L859.4 492.6 L859.4 492.6 L860.2 493.3 L861 493.9 L861 493.9 L861.8 494.6 L862.5 495.1 L862.6 495.3 L863.3 496.7 L863.4 496.9 L864.2 498.5 L865 500.1 L865.7 501.4 L865.8 501.2 L866.6 499.8 L867.4 498.5 L868.2 497.2 L868.8 496.2 L869 495.8 L869.8 494.5 L870.4 493.6 L870.6 493.5 L871.4 493.2 L871.9 493.1 L872.2 493 L873 492.7 L873.5 492.5 L873.8 492.4 L874.6 492.2 L875 492 L875.4 492.1 L876.2 492.4 L876.6 492.5 L877 492.7 L877.8 492.9 L878.6 493.2 L879.4 493.5 L879.7 493.6 L880.2 493.4 L881 493.2 L881.8 492.9 L882.6 492.6 L883.4 492.4 L883.6 492.3 L884.2 492.1 L884.4 492 L885 488.6 L885.8 483.8 L886 482.6 L886.6 479 L887.4 474.2 L887.6 473.2 L888.2 469.4 L888.3 468.6 L889 476 L889.8 485.1 L890.6 494.2 L890.7 495.1 L891.4 495.9 L891.5 495.9 L892.2 496.7 L892.3 496.7 L893 497.5 L893.8 498.3 L893.8 498.3 L894.6 497.7 L895.4 497.2 L896.2 496.7 L896.9 496.2 L897 496.1 L897.8 495.6 L898.5 495.1 L898.6 494.5 L899.4 488.6 L900.1 483.7 L900.2 482.7 L901 476.9 L901.8 471 L902.6 465.1 L903.2 460.7 L903.4 462.9 L904.2 471.3 L905 479.7 L905.8 488.1 L906.3 493.6 L906.6 494 L907.4 495.3 L908.2 496.6 L909 497.9 L909.8 499.1 L910.2 499.8 L910.6 499.5 L911.4 498.8 L912.2 498.1 L913 497.5 L913.8 496.8 L914.6 496.1 L915.4 495.4 L915.7 495.1 L916.2 492.7 L917 488.7 L917.8 484.7 L918.6 480.7 L918.8 479.5 L919.4 476.7 L920.2 472.7 L921 468.7 L921.8 464.7 L922 463.9 L922.6 472.7 L923.4 483.9 L924.2 495.1 L925 506.3 L925.1 507.7 L925.8 506.2 L925.9 506.1 L926.6 504.6 L927.4 503 L927.4 503 L928.2 501.4 L928.2 501.4 L929 502.4 L929.8 503.5 L929.8 503.5 L930.6 504.6 L931.3 505.6 L931.4 505.6 L932.2 506.7 L932.9 507.7 L933 507.7 L933.8 507.9 L934.5 508.2 L934.6 508.2 L935.4 508.5 L936.2 508.7 L937 509 L937.6 509.2 L937.8 509.3 L938.6 509.6 L939.4 509.9 L940.2 510.3 L940.7 510.5 L941 510.6 L941.8 510.9 L942.6 511.2 L943.4 511.5 L944.2 511.9 L945 512.2 L945.4 512.3 L945.8 509.2 L946.6 502.4 L947.4 495.6 L948.2 488.8 L948.6 485.8 L949 489.3 L949.8 495.7 L950.6 502.1 L951.4 508.5 L951.7 510.8 L952.2 511.3 L953 512.1 L953.8 512.9 L954.6 513.7 L954.8 513.9 L955.4 513.4 L956.2 512.8 L957 512.2 L957.8 511.5 L957.9 511.4 L958.6 510.9 L958.7 510.8 L959.4 510.8 L960.2 510.8 L961 510.8 L961.8 510.8 L962.6 510.8 L962.6 510.8 L963.4 504.6 L963.4 504.5 L964.2 498.2 L965 492 L965 491.8 L965.8 485.8 L965.8 485.7 L966.6 484.9 L967.3 484.2 L967.4 484.1 L968.2 483.3 L968.9 482.6 L969 482.7 L969.7 483.4 L969.8 483.5 L970.6 484.3 L971.2 485 L971.4 485.1 L972 485.8 L972.2 486.1 L972.8 487.3 L973 487.7 L973.6 488.9 L973.8 489.3 L974.6 490.9 L975.1 491.9 L975.4 492.1 L976.2 492.5 L977 492.9 L977.8 493.3 L978.3 493.6 L978.6 494.7 L979.4 497.5 L980.2 500.3 L981 503.1 L981.4 504.5 L981.8 505.3 L982.6 506.9 L983.4 508.5 L984.2 510.1 L984.5 510.8 L985 505.6 L985.8 496.8 L986.6 488 L987.4 479.2 L987.7 476.4 L988.2 481.8 L988.4 484.2 L989 489.8 L989.8 497.8 L990.6 505.8 L990.8 507.7 L991.4 508 L992.2 508.4 L993 508.8 L993.8 509.2 L993.9 509.2 L994.6 508.9 L995.4 508.5 L996.2 508.1 L997 507.7 L997 507.7 L997.8 507.1 L998.6 506.6 L999.4 506.1 L1000.2 505.6 L1000.2 505.5 L1001 505 L1001.7 504.5 L1001.8 504.5 L1002.5 503.8 L1002.6 503.7 L1003.3 503 L1003.4 502.9 L1004.2 502.2 L1005 501.4 L1005 501.4 L1005.8 502.8 L1006.6 504.1 L1006.6 504.2 L1007.4 505.6 L1008.1 506.9 L1008.2 507 L1009 508.4 L1009.7 509.6 L1009.8 509.8 L1010.6 511.2 L1011.3 512.3 L1011.4 512.3 L1012.2 512.1 L1013 511.9 L1013.8 511.7 L1014.6 511.5 L1015.4 511.3 L1015.9 511.2 L1016.2 511.1 L1017 510.9 L1017.5 510.8 L1017.8 510.2 L1018.6 508.6 L1019.1 507.7 L1019.4 507 L1019.9 506.1 L1020.2 506.8 L1021 508.4 L1021.8 510 L1022.2 510.8 L1022.6 510.8 L1023.4 510.8 L1024.2 510.8 L1025 510.8 L1025.8 510.8 L1026.6 510.8 L1026.9 510.8 L1027.4 510.8 L1028.2 510.8 L1028.5 510.8 L1029 510.8 L1029.8 510.8 L1030.6 510.8 L1031.4 510.8 L1032.2 510.8 L1033 510.8 L1033.8 510.8 L1034.6 510.8 L1035.4 510.8 L1036.2 510.8 L1037 510.8 L1037.8 510.8 L1037.8 510.8 L1038.6 510.8 L1039.4 510.8 L1040.2 510.8 L1041 510.8 L1041.8 510.8 L1042.6 510.8 L1043.4 510.8 L1044.1 510.8 L1044.2 510.4 L1045 507.8 L1045.8 505.1 L1046.4 503 L1046.6 503.6 L1047.2 506.1 L1047.4 506.8 L1048.2 510 L1048.8 512.3 L1049 512.3 L1049.6 512.3 L1049.8 512.3 L1050.6 512.3 L1051.4 512.3 L1051.9 512.3 L1052.2 512.3 L1053 512.3 L1053.5 512.3 L1053.8 512.2 L1054.6 512 L1055.4 511.7 L1056.2 511.4 L1056.6 511.3 L1057 511.2 L1057.8 510.9 L1058.2 510.8 L1058.6 510.6 L1059.4 510.4 L1060.2 510.1 L1061 509.8 L1061.3 509.7 L1061.8 509.6 L1062.6 509.3 L1062.9 509.2 L1063.4 508.9 L1064.2 508.5 L1064.4 508.4 L1065 508.1 L1065.8 507.7 L1066 507.7 L1066.6 506.4 L1066.8 506.1 L1067.4 504.8 L1067.6 504.5 L1068.2 503.2 L1069 501.6 L1069.1 501.4 L1069.8 500 L1069.9 499.8 L1070.6 495.4 L1070.7 494.8 L1071.4 490.3 L1071.5 489.8 L1072.2 485.1 L1073 480 L1073.8 474.9 L1073.8 474.8 L1074.6 483.8 L1075.4 493 L1076.2 501.8 L1076.2 502.2 L1076.9 510.8 L1077 510.8 L1077.8 510.8 L1078.5 510.8 L1078.6 510.8 L1079.4 510.8 L1080.2 510.8 L1081 510.8 L1081.6 510.8 L1081.8 510.7 L1082.6 510.6 L1083.4 510.4 L1084.2 510.3 L1085 510.1 L1085.8 509.9 L1086.6 509.8 L1087.4 509.6 L1088.2 509.5 L1089 509.3 L1089.5 509.2 L1089.8 509.1 L1090.6 508.8 L1091.4 508.6 L1092.2 508.3 L1093 508 L1093.8 507.8 L1094.1 507.7 L1094.6 507.8 L1095.4 508.1 L1096.2 508.3 L1097 508.6 L1097.3 508.7 L1097.8 508.9 L1098.6 509.1 L1098.8 509.2 L1099.4 509.4 L1100.2 509.7 L1101 509.9 L1101.8 510.2 L1102 510.3 L1102.6 510.5 L1103.4 510.7 L1103.5 510.8 L1104.2 511 L1105 511.3 L1105.1 511.3 L1105.8 511.5 L1105.9 511.6 L1106.6 511.8 L1107.4 512.1 L1108.2 512.3 L1108.2 512.3 L1109 512 L1109.8 511.7 L1110.6 511.4 L1111.3 511.1 L1111.4 511.1 L1112.1 510.8 L1112.2 509.6 L1113 495.7 L1113.8 481.9 L1114.5 470.1 L1114.6 470.1 L1115.4 470.1 L1116 470.1 L1116.2 470.1 L1116.8 470.1 L1117 473.2 L1117.8 487 L1118.6 500.9 L1119.2 510.8 L1119.4 510.9 L1120.2 511.5 L1121 512 L1121.8 512.5 L1122.6 513.1 L1123.4 513.6 L1123.9 513.9 L1124.2 513.8 L1125 513.6 L1125.4 513.5 L1125.8 513.4 L1126.6 513.2 L1127 513.1 L1127.4 513 L1128.2 512.8 L1128.6 512.7 L1129 512.6 L1129.8 512.4 L1130.1 512.3 L1130.6 512.5 L1131.4 512.8 L1131.7 512.9 L1132.2 513 L1133 513.3 L1133.8 513.6 L1134.6 513.8 L1134.8 513.9 L1135.4 502.1 L1136.2 486.1 L1137 470.1 L1137.2 467 L1137.8 479 L1138.6 494 L1139.4 508.9 L1139.5 510.8 L1140.2 511 L1141 511.2 L1141.1 511.2 L1141.8 511.4 L1142.6 511.6 L1142.6 511.6 L1143.4 511.8 L1144.2 512 L1145 512.2 L1145.8 512.3 L1145.8 512.3 L1146.6 512.2 L1147.3 512.1 L1147.4 512.1 L1148.2 511.9 L1148.9 511.8 L1149 511.8 L1149.7 511.7 L1149.8 511.7 L1150.4 511.6 L1150.6 511.5 L1151.4 511.4 L1152.2 511.3 L1153 511.1 L1153.6 511 L1153.8 511 L1154.6 510.9 L1155.1 510.8 L1155.4 510.8 L1156.2 510.8 L1157 510.8 L1157.5 510.8 L1157.8 510.8 L1158.3 510.8 L1158.6 510.8 L1159.4 510.8 L1160.2 510.8 L1161 510.8 L1161.4 510.8 L1161.8 503.3 L1162.6 488.3 L1163.1 478.8 L1163.4 478.9 L1164.2 479.3 L1165 479.7 L1165.7 480.1 L1165.8 480.1 L1166.6 480.5 L1167.4 480.9 L1168.2 481.3 L1168.4 481.4 L1169 481.2 L1169.8 480.9 L1170.6 480.6 L1171 480.5 L1171.4 480.4 L1172.2 480.1 L1173 479.8 L1173.8 479.6 L1174.6 479.3 L1174.9 479.2 L1175.4 479 L1176.2 478.8 L1176.2 478.8 L1177 479.9 L1177.8 481.1 L1178.6 482.3 L1178.8 482.7 L1179.4 483.5 L1180.2 484.7 L1181 485.9 L1181.5 486.6 L1181.8 486.3 L1182.6 485.5 L1182.8 485.3 L1183.4 484.7 L1184.1 484 L1184.2 483.9 L1185 483.1 L1185.8 482.3 L1186.6 481.5 L1186.7 481.4 L1187.4 481.7 L1188 482 L1188.2 482.1 L1189 482.5 L1189.3 482.7 L1189.8 482.9 L1190.6 483.3 L1191.4 483.7 L1192 484 L1192.2 483.9 L1193 483.5 L1193.8 483.1 L1194.6 482.7 L1194.6 482.7 L1195.4 482.3 L1196.2 481.9 L1197 481.5 L1197.2 481.4 L1197.8 480.5 L1198.6 479.3 L1199.4 478.1 L1199.8 477.4 L1200.2 476.9 L1201 475.7 L1201.8 474.5 L1202.5 473.5 L1202.6 473.8 L1203.4 475.4 L1203.8 476.1 L1204.2 477 L1205 478.6 L1205.1 478.8 L1205.8 480.2 L1206.6 481.8 L1207.4 483.4 L1207.7 484 L1208.2 483.5 L1209 482.7 L1209.8 481.9 L1210.6 481.1 L1211.4 480.3 L1212.2 479.5 L1212.9 478.8 L1213 478.8 L1213.8 479.6 L1214.6 480.4 L1215.4 481.2 L1216.2 482 L1217 482.8 L1217.8 483.6 L1218.2 484 L1218.6 483.4 L1219.4 482.2 L1220.2 481 L1221 479.8 L1221.8 478.6 L1222.1 478.1 L1222.6 477.4 L1223.4 476.2 L1223.4 476.1 L1224.2 475.7 L1225 475.3 L1225.8 474.9 L1226.1 474.8 L1226.6 474.5 L1227.4 474.1 L1228.2 473.7 L1228.7 473.5 L1229 473.2 L1229.8 472.4 L1230 472.2 L1230.6 471.6 L1231.3 470.9 L1231.4 470.8 L1232.2 470 L1233 469.2 L1233.8 468.4 L1233.9 468.3 L1234.6 468.3 L1235.4 468.3 L1236.2 468.3 L1236.5 468.3 L1237 468.3 L1237.8 468.3 L1238.6 468.3 L1239.2 468.3 L1239.4 468.8 L1240.2 470.8 L1241 472.8 L1241.8 474.8 L1242.6 476.8 L1243.4 478.8 L1244.2 480.8 L1244.4 481.4 L1245 481.1 L1245.8 480.7 L1246.6 480.3 L1247.4 479.9 L1248.2 479.5 L1248.3 479.4 L1249 479.1 L1249.7 478.8 L1249.8 478.8 L1250.6 479.2 L1251 479.4 L1251.4 479.6 L1252.2 480 L1253 480.4 L1253.6 480.7 L1253.8 480.8 L1254.6 481.2 L1254.9 481.4 L1255.4 481.6 L1256.2 482 L1257 482.4 L1257.8 482.8 L1258.6 483.2 L1259.4 483.6 L1260.1 484 L1260.2 483.8 L1261 481.4 L1261.8 479 L1262.6 476.6 L1263.4 474.2 L1264.2 471.8 L1265 469.4 L1265.4 468.3 L1265.8 467.9 L1266.6 467.1 L1267.4 466.3 L1268.2 465.5 L1269 464.7 L1269.8 463.9 L1270.6 463.1 L1270.6 463 L1271.4 463.8 L1272.2 464.6 L1273 465.4 L1273.8 466.2 L1274.6 467 L1275.4 467.8 L1275.9 468.3 L1276.2 470.2 L1277 475 L1277.8 479.8 L1278.6 484.6 L1279.4 489.4 L1279.8 491.9 L1280.2 494.9 L1281 501.3 L1281.8 507.7 L1282.4 512.8 L1282.6 512.8 L1283.4 512.8 L1283.8 512.8 L1283.8 442 L1283.4 442 L1282.6 442 L1282.4 442 L1281.8 451.7 L1281 463.7 L1280.2 475.7 L1279.8 481.4 L1279.4 489.4 L1278.6 484.6 L1277.8 479.8 L1277 475 L1276.2 470.2 L1275.9 468.3 L1275.4 467.8 L1274.6 467 L1273.8 466.2 L1273 465.4 L1272.2 464.6 L1271.4 463.8 L1270.6 463 L1270.6 463.1 L1269.8 463.9 L1269 464.7 L1268.2 465.5 L1267.4 466.3 L1266.6 467.1 L1265.8 467.9 L1265.4 468.3 L1265 469.4 L1264.2 471.8 L1263.4 474.2 L1262.6 476.6 L1261.8 479 L1261 481.4 L1260.2 483.8 L1260.1 484 L1259.4 483.6 L1258.6 483.2 L1257.8 482.8 L1257 482.4 L1256.2 482 L1255.4 481.6 L1254.9 481.4 L1254.6 481.2 L1253.8 480.8 L1253.6 480.7 L1253 480.4 L1252.2 480 L1251.4 479.6 L1251 479.4 L1250.6 479.2 L1249.8 478.8 L1249.7 478.8 L1249 479.1 L1248.3 479.4 L1248.2 479.5 L1247.4 479.9 L1246.6 480.3 L1245.8 480.7 L1245 481.1 L1244.4 481.4 L1244.2 480.8 L1243.4 478.8 L1242.6 476.8 L1241.8 474.8 L1241 472.8 L1240.2 470.8 L1239.4 468.8 L1239.2 468.3 L1238.6 468.3 L1237.8 468.3 L1237 468.3 L1236.5 468.3 L1236.2 468.3 L1235.4 468.3 L1234.6 468.3 L1233.9 468.3 L1233.8 468.4 L1233 469.2 L1232.2 470 L1231.4 470.8 L1231.3 470.9 L1230.6 471.6 L1230 472.2 L1229.8 472.4 L1229 473.2 L1228.7 473.5 L1228.2 473.7 L1227.4 474.1 L1226.6 474.5 L1226.1 474.8 L1225.8 474.9 L1225 475.3 L1224.2 475.7 L1223.4 476.1 L1223.4 476.2 L1222.6 477.4 L1222.1 478.1 L1221.8 478.6 L1221 479.8 L1220.2 481 L1219.4 482.2 L1218.6 483.4 L1218.2 484 L1217.8 483.6 L1217 482.8 L1216.2 482 L1215.4 481.2 L1214.6 480.4 L1213.8 479.6 L1213 478.8 L1212.9 478.8 L1212.2 479.5 L1211.4 480.3 L1210.6 481.1 L1209.8 481.9 L1209 482.7 L1208.2 483.5 L1207.7 484 L1207.4 483.4 L1206.6 481.8 L1205.8 480.2 L1205.1 478.8 L1205 478.6 L1204.2 477 L1203.8 476.1 L1203.4 475.4 L1202.6 473.8 L1202.5 473.5 L1201.8 474.5 L1201 475.7 L1200.2 476.9 L1199.8 477.4 L1199.4 478.1 L1198.6 479.3 L1197.8 480.5 L1197.2 481.4 L1197 481.5 L1196.2 481.9 L1195.4 482.3 L1194.6 482.7 L1194.6 482.7 L1193.8 483.1 L1193 483.5 L1192.2 483.9 L1192 484 L1191.4 483.7 L1190.6 483.3 L1189.8 482.9 L1189.3 482.7 L1189 482.5 L1188.2 482.1 L1188 482 L1187.4 481.7 L1186.7 481.4 L1186.6 481.5 L1185.8 482.3 L1185 483.1 L1184.2 483.9 L1184.1 484 L1183.4 484.7 L1182.8 485.3 L1182.6 485.5 L1181.8 486.3 L1181.5 486.6 L1181 485.9 L1180.2 484.7 L1179.4 483.5 L1178.8 482.7 L1178.6 482.3 L1177.8 481.1 L1177 479.9 L1176.2 478.8 L1176.2 478.8 L1175.4 479 L1174.9 479.2 L1174.6 479.3 L1173.8 479.6 L1173 479.8 L1172.2 480.1 L1171.4 480.4 L1171 480.5 L1170.6 480.6 L1169.8 480.9 L1169 481.2 L1168.4 481.4 L1168.2 481.3 L1167.4 480.9 L1166.6 480.5 L1165.8 480.1 L1165.7 480.1 L1165 479.7 L1164.2 479.3 L1163.4 478.9 L1163.1 478.8 L1162.6 488.3 L1161.8 503.3 L1161.4 446.7 L1161 446.9 L1160.2 447.3 L1159.4 447.7 L1158.6 448.1 L1158.3 448.2 L1157.8 448.5 L1157.5 448.6 L1157 448.9 L1156.2 449.3 L1155.4 449.7 L1155.1 449.8 L1154.6 449.8 L1153.8 449.8 L1153.6 449.8 L1153 449.8 L1152.2 449.8 L1151.4 449.8 L1150.6 449.8 L1150.4 449.8 L1149.8 448.8 L1149.7 448.6 L1149 447.6 L1148.9 447.4 L1148.2 446.4 L1147.4 445.2 L1147.3 445.1 L1146.6 445.1 L1145.8 445.1 L1145.8 445.1 L1145 445.1 L1144.2 445.1 L1143.4 445.1 L1142.6 445.1 L1142.6 445.1 L1141.8 445.9 L1141.1 446.7 L1141 446.7 L1140.2 447.5 L1139.5 448.2 L1139.4 449 L1138.6 455.4 L1137.8 461.8 L1137.2 467 L1137 466 L1136.2 460.6 L1135.4 455.3 L1134.8 451.3 L1134.6 451.4 L1133.8 451.7 L1133 452 L1132.2 452.2 L1131.7 452.4 L1131.4 452.5 L1130.6 452.8 L1130.1 452.9 L1129.8 452.1 L1129 450.1 L1128.6 449 L1128.2 448.1 L1127.4 446.1 L1127 445.1 L1126.6 445.1 L1125.8 445.1 L1125.4 445.1 L1125 445.1 L1124.2 445.1 L1123.9 445.1 L1123.4 445.7 L1122.6 446.8 L1121.8 447.8 L1121 448.9 L1120.2 450 L1119.4 451 L1119.2 451.3 L1118.6 455.9 L1117.8 462.3 L1117 468.7 L1116.8 470.1 L1116.2 469.7 L1116 469.6 L1115.4 469.2 L1114.6 468.6 L1114.5 468.6 L1113.8 461.8 L1113 453.8 L1112.2 445.8 L1112.1 445.1 L1111.4 445.1 L1111.3 445.1 L1110.6 445.1 L1109.8 445.1 L1109 445.1 L1108.2 445.1 L1108.2 445.2 L1107.4 447.3 L1106.6 449.4 L1105.9 451.3 L1105.8 451.2 L1105.1 449.8 L1105 449.6 L1104.2 448 L1103.5 446.7 L1103.4 446.6 L1102.6 446.3 L1102 446.1 L1101.8 446.1 L1101 445.8 L1100.2 445.5 L1099.4 445.3 L1098.8 445.1 L1098.6 444.8 L1097.8 443.7 L1097.3 443 L1097 442.6 L1096.2 441.6 L1095.4 440.5 L1094.6 439.4 L1094.1 438.8 L1093.8 439.2 L1093 440 L1092.2 440.8 L1091.4 441.6 L1090.6 442.4 L1089.8 443.2 L1089.5 443.5 L1089 443.5 L1088.2 443.5 L1087.4 443.5 L1086.6 443.5 L1085.8 443.5 L1085 443.5 L1084.2 443.5 L1083.4 443.5 L1082.6 443.5 L1081.8 443.5 L1081.6 443.5 L1081 444.6 L1080.2 445.9 L1079.4 447.3 L1078.6 448.6 L1078.5 448.7 L1077.8 449.9 L1077 451.3 L1076.9 451.3 L1076.2 455.4 L1076.2 455.7 L1075.4 459.8 L1074.6 464.2 L1073.8 468.6 L1073.8 468.5 L1073 466.3 L1072.2 464 L1071.5 462 L1071.4 461.8 L1070.7 459.8 L1070.6 459.6 L1069.9 457.6 L1069.8 457.2 L1069.1 454.5 L1069 454 L1068.2 450.8 L1067.6 448.2 L1067.4 447.9 L1066.8 446.7 L1066.6 446.3 L1066 445.1 L1065.8 445.9 L1065 449.1 L1064.4 451.3 L1064.2 450.2 L1063.4 446.2 L1062.9 443.5 L1062.6 443.6 L1061.8 443.9 L1061.3 444.1 L1061 444.2 L1060.2 444.4 L1059.4 444.7 L1058.6 445 L1058.2 445.1 L1057.8 445.1 L1057 445.1 L1056.6 445.1 L1056.2 445.1 L1055.4 445.1 L1054.6 445.1 L1053.8 445.1 L1053.5 445.1 L1053 445.6 L1052.2 446.4 L1051.9 446.7 L1051.4 447.2 L1050.6 448 L1049.8 448.8 L1049.6 449 L1049 449.6 L1048.8 449.8 L1048.2 446.2 L1047.4 441.4 L1047.2 440.4 L1046.6 436.6 L1046.4 435.7 L1045.8 437.9 L1045 440.5 L1044.2 443.2 L1044.1 443.5 L1043.4 443.5 L1042.6 443.5 L1041.8 443.5 L1041 443.5 L1040.2 443.5 L1039.4 443.5 L1038.6 443.5 L1037.8 443.5 L1037.8 443.5 L1037 443.8 L1036.2 444 L1035.4 444.2 L1034.6 444.5 L1033.8 444.7 L1033 444.9 L1032.2 445.1 L1031.4 445.4 L1030.6 445.6 L1029.8 445.8 L1029 446.1 L1028.5 446.2 L1028.2 446.3 L1027.4 446.5 L1026.9 446.7 L1026.6 446.7 L1025.8 446.7 L1025 446.7 L1024.2 446.7 L1023.4 446.7 L1022.6 446.7 L1022.2 446.7 L1021.8 448.3 L1021 451.5 L1020.2 454.7 L1019.9 456 L1019.4 454.5 L1019.1 453.4 L1018.6 451.8 L1017.8 449.2 L1017.5 448.2 L1017 448.1 L1016.2 447.9 L1015.9 447.8 L1015.4 447.7 L1014.6 447.5 L1013.8 447.3 L1013 447.1 L1012.2 446.9 L1011.4 446.7 L1011.3 446.7 L1010.6 447 L1009.8 447.4 L1009.7 447.4 L1009 447.8 L1008.2 448.2 L1008.1 448.2 L1007.4 444.6 L1006.6 440.6 L1006.6 440.4 L1005.8 436.5 L1005 432.6 L1005 432.6 L1004.2 433.4 L1003.4 434.1 L1003.3 434.2 L1002.6 434.9 L1002.5 435 L1001.8 435.6 L1001.7 435.7 L1001 437.2 L1000.2 438.8 L1000.2 438.8 L999.4 440.4 L998.6 442 L997.8 443.6 L997 445.1 L997 445.1 L996.2 445.5 L995.4 445.9 L994.6 446.3 L993.9 446.7 L993.8 446.9 L993 448.9 L992.2 450.9 L991.4 452.9 L990.8 454.5 L990.6 455.6 L989.8 460.4 L989 465.2 L988.4 468.6 L988.2 470 L987.7 473.2 L987.4 471.2 L986.6 464.8 L985.8 458.4 L985 452 L984.5 448.2 L984.2 448.9 L983.4 450.5 L982.6 452.1 L981.8 453.7 L981.4 454.5 L981 458 L980.2 465.2 L979.4 472.4 L978.6 479.6 L978.3 482.6 L977.8 483.6 L977 485.2 L976.2 486.8 L975.4 488.4 L975.1 488.9 L974.6 486.5 L973.8 482.9 L973.6 481.8 L973 479.3 L972.8 478.3 L972.2 475.7 L972 474.8 L971.4 472.4 L971.2 471.7 L970.6 469.2 L969.8 466 L969.7 465.4 L969 462.8 L968.9 462.3 L968.2 464.7 L967.4 467.5 L967.3 467.8 L966.6 470.3 L965.8 473.1 L965.8 473.2 L965 467.2 L965 467 L964.2 460.8 L963.4 454.5 L963.4 454.4 L962.6 448.2 L962.6 448.3 L961.8 449.5 L961 450.8 L960.2 452.1 L959.4 453.4 L958.7 454.5 L958.6 454.3 L957.9 453.2 L957.8 453 L957 451.7 L956.2 450.4 L955.4 449.2 L954.8 448.2 L954.6 448.2 L953.8 448.2 L953 448.2 L952.2 448.2 L951.7 448.2 L951.4 449.3 L950.6 452.5 L949.8 455.7 L949 458.9 L948.6 460.7 L948.2 459.1 L947.4 455.5 L946.6 451.9 L945.8 448.3 L945.4 446.7 L945 446.6 L944.2 446.4 L943.4 446.3 L942.6 446.1 L941.8 445.9 L941 445.8 L940.7 445.7 L940.2 445.6 L939.4 445.5 L938.6 445.3 L937.8 445.1 L937.6 445.1 L937 444.7 L936.2 444.2 L935.4 443.6 L934.6 443.1 L934.5 443 L933.8 442.6 L933 442 L932.9 442 L932.2 443.9 L931.4 446 L931.3 446.1 L930.6 448.1 L929.8 450.3 L929.8 450.3 L929 452.4 L928.2 454.5 L928.2 454.3 L927.4 449.4 L927.4 449.1 L926.6 443.9 L925.9 439.2 L925.8 438.7 L925.1 434.1 L925 434.3 L924.2 435.5 L923.4 436.7 L922.6 437.9 L922 438.8 L921.8 438.7 L921 437.9 L920.2 437.1 L919.4 436.3 L918.8 435.7 L918.6 435.4 L917.8 434.2 L917 433 L916.2 431.8 L915.7 431 L915.4 431.3 L914.6 432 L913.8 432.7 L913 433.3 L912.2 434 L911.4 434.7 L910.6 435.4 L910.2 435.7 L909.8 435.4 L909 434.7 L908.2 434.1 L907.4 433.4 L906.6 432.8 L906.3 432.6 L905.8 436.3 L905 441.9 L904.2 447.5 L903.4 453.1 L903.2 454.5 L902.6 451.1 L901.8 446.6 L901 442 L900.2 437.5 L900.1 436.8 L899.4 433 L898.6 428.4 L898.5 427.9 L897.8 428.1 L897 428.4 L896.9 428.4 L896.2 428.7 L895.4 428.9 L894.6 429.2 L893.8 429.5 L893.8 429.5 L893 431.5 L892.3 433.4 L892.2 433.5 L891.5 435.3 L891.4 435.5 L890.7 437.3 L890.6 438 L889.8 444.8 L889 451.6 L888.3 457.2 L888.2 458.4 L887.6 463.9 L887.4 462.1 L886.6 453.3 L886 446.7 L885.8 444.5 L885 435.7 L884.4 429.5 L884.2 429.4 L883.6 429.2 L883.4 429.1 L882.6 428.8 L881.8 428.6 L881 428.3 L880.2 428 L879.7 427.9 L879.4 428.2 L878.6 429 L877.8 429.8 L877 430.6 L876.6 431 L876.2 431.4 L875.4 432.2 L875 432.6 L874.6 432.3 L873.8 431.8 L873.5 431.5 L873 431.2 L872.2 430.7 L871.9 430.5 L871.4 430.2 L870.6 429.6 L870.4 429.5 L869.8 430.6 L869 432.2 L868.8 432.6 L868.2 433.8 L867.4 435.4 L866.6 437 L865.8 438.6 L865.7 438.8 L865 437.5 L864.2 435.9 L863.4 434.3 L863.3 434.1 L862.6 432.7 L862.5 432.6 L861.8 430.8 L861 428.9 L861 428.8 L860.2 427 L859.4 425.1 L859.4 425.1 L858.6 423.2 L858.6 423.7 L857.8 438.6 L857 453.5 L856.3 467 L856.2 466.2 L855.4 458.5 L854.7 452 L854.6 450.9 L853.9 444.5 L853.8 443.2 L853.2 437 L853 435.5 L852.4 429.5 L852.2 429.3 L851.4 428.7 L850.8 428.2 L850.6 428 L849.8 427.4 L849 426.8 L848.5 426.3 L848.2 426.3 L847.4 426.3 L846.6 426.3 L845.8 426.3 L845 426.3 L844.2 426.3 L843.4 426.3 L842.6 426.3 L842.2 426.3 L841.8 427.9 L841 431.1 L840.2 434.3 L839.4 437.5 L839.1 438.8 L838.6 438 L838.3 437.5 L837.8 436.6 L837 435.2 L836.2 433.8 L835.4 432.4 L834.6 431 L834.4 430.6 L833.8 429.6 L833 428.2 L832.8 427.9 L832.2 427.7 L831.4 427.5 L831.3 427.4 L830.6 427.3 L829.8 427 L829 426.8 L828.2 426.6 L827.4 426.3 L827.3 426.3 L826.6 426.3 L826.6 426.3 L825.8 426.3 L825 426.3 L825 426.3 L824.2 425.8 L823.4 425.3 L822.6 424.8 L822.5 424.8 L821.8 425.2 L821.7 425.2 L821 425.6 L820.2 426.1 L819.4 426.5 L818.6 427 L817.8 427.5 L817 427.9 L817 427.9 L816.2 427.5 L815.5 427.1 L815.4 427.1 L814.7 426.7 L814.6 426.7 L813.9 426.3 L813.8 426.5 L813 427.5 L812.2 428.6 L811.4 429.7 L810.8 430.5 L810.6 430.7 L809.8 431.8 L809.2 432.6 L809 433.4 L808.2 436.6 L807.4 439.8 L806.6 443 L806.1 445.1 L805.8 444.5 L805 442.9 L804.2 441.3 L803.4 439.7 L803 438.8 L802.6 438.5 L801.8 437.9 L801.4 437.6 L801 437.3 L800.2 436.6 L799.4 436 L799.1 435.7 L798.6 436.2 L797.8 437 L797.5 437.3 L797 437.8 L796.2 438.6 L795.9 438.8 L795.4 447.9 L795.1 452.4 L794.6 461.8 L793.8 475.6 L793.6 479.5 L793 475.5 L792.8 474 L792.2 469.9 L791.4 464.3 L791.2 463.1 L790.6 458.7 L790.4 457.6 L789.8 454 L789.7 453.2 L789 449.5 L788.9 448.8 L788.2 445 L787.4 440.5 L786.6 436.1 L786.5 435.7 L785.8 435.7 L785.8 435.7 L785 435.7 L784.2 435.7 L783.4 435.7 L782.6 435.7 L782.6 435.7 L781.8 435.7 L781.1 435.7 L781 435.8 L780.2 436.6 L779.4 437.4 L778.6 438.2 L777.9 438.8 L777.8 438.8 L777 438.4 L776.2 438 L775.4 437.6 L774.8 437.3 L774.6 437.2 L773.8 436.9 L773.2 436.8 L773 436.7 L772.2 436.4 L771.4 436.1 L770.6 435.9 L770.1 435.7 L769.8 435.9 L769 436.5 L768.6 436.8 L768.2 437 L767.4 437.5 L766.6 438.1 L765.8 438.6 L765.4 438.8 L765 438.2 L764.2 436.9 L763.9 436.3 L763.4 435.6 L762.6 434.3 L761.8 433 L761.5 432.6 L761 431.6 L760.7 431 L760.2 430 L759.4 428.4 L758.6 426.8 L758.4 426.3 L757.8 435.7 L757.6 438.8 L757.3 443.8 L757 448.5 L756.8 451.3 L756.2 451.3 L755.4 451.3 L754.6 451.3 L753.8 451.3 L753 451.3 L752.2 451.3 L751.4 451.3 L750.6 451.3 L749.8 451.3 L749 451.3 L748.2 451.3 L747.4 451.3 L746.6 451.3 L745.8 451.3 L745 451.3 L744.2 451.3 L743.8 451.3 L743.4 448.2 L742.6 442.6 L741.8 436.9 L741.2 432.6 L741 431.6 L740.2 427.3 L739.4 423.1 L738.8 420.1 L738.6 420.4 L737.8 421.5 L737 422.5 L736.5 423.2 L736.2 422.2 L735.7 420.6 L735.4 419.6 L734.6 416.9 L734.1 415.4 L733.8 415.3 L733 415.2 L732.6 415.1 L732.2 415.1 L731.8 415 L731.4 415 L730.6 414.8 L729.8 414.7 L729.5 414.7 L729 414.6 L728.2 414.5 L727.9 414.4 L727.4 414.3 L726.6 414.2 L726.3 414.2 L725.8 414.1 L725 414 L724.8 413.9 L724.2 413.8 L724 413.8 L723.7 417.6 L723.4 420.8 L723.2 423.2 L722.6 424.1 L722.4 424.4 L721.8 425.3 L721.6 425.5 L721 426.5 L720.2 427.7 L720.1 427.9 L719.4 430.6 L719.3 431 L718.6 433.8 L718.5 434.1 L717.8 437 L717 440.2 L716.9 440.4 L716.2 435.5 L716.2 435.2 L715.4 430.1 L714.6 424.8 L714.6 424.8 L713.8 425.1 L713.8 425.1 L713 425.5 L712.2 425.8 L711.4 426.2 L710.6 426.5 L709.8 426.9 L709 427.2 L708.2 427.6 L707.6 427.9 L707.4 427.9 L706.6 428.2 L705.8 428.5 L705 428.8 L704.2 429.1 L703.4 429.4 L702.6 429.7 L701.8 430 L701.3 430.2 L701 430.9 L700.2 432.7 L699.4 434.5 L698.6 436.3 L698.2 437.3 L697.8 436.7 L697 435.5 L696.2 434.3 L695.4 433.1 L695 432.6 L694.6 431.9 L694.3 431.4 L693.8 430.7 L693 429.5 L692.2 428.3 L691.9 427.9 L691.4 427.7 L690.6 427.5 L689.8 427.3 L689 427.1 L688.2 426.8 L687.4 426.6 L686.6 426.4 L686.4 426.3 L685.8 426.3 L685.7 426.3 L685 426.3 L684.2 426.3 L683.4 426.3 L683.3 426.3 L682.6 433.5 L682.5 434.1 L681.8 441.5 L681 449.5 L681 449.8 L680.2 457.5 L680.2 457.6 L679.4 459.2 L679.4 459.2 L678.6 460.7 L678.6 460.8 L677.8 462.3 L677.8 462.4 L677.1 460.7 L677 460.9 L676.3 462.3 L676.2 462.5 L675.5 463.1 L675.4 463 L674.6 462.6 L673.9 462.3 L673.8 460.9 L673.2 454.1 L673 452.5 L672.2 444.1 L671.4 435.7 L670.8 429.5 L670.6 429.5 L669.8 429.7 L669 429.9 L668.2 430 L667.4 430.2 L666.6 430.4 L665.8 430.6 L665 430.7 L664.2 430.9 L663.8 431 L663.4 431.5 L662.6 432.5 L661.8 433.5 L661 434.5 L660.6 434.9 L660.2 434.7 L659.4 434.2 L658.6 433.7 L657.8 433.2 L657.5 433.1 L657 432.7 L656.7 432.6 L656.2 432.4 L655.4 432.2 L654.6 432 L654.4 432 L653.8 431.8 L653 431.6 L652.2 431.4 L651.4 431.2 L651.3 431.2 L650.6 431 L650.5 431 L649.8 430.7 L649 430.3 L648.2 429.9 L647.4 429.5 L647.3 429.5 L646.6 428.5 L645.8 427.4 L645 426.3 L645 426.3 L644.2 425.6 L643.4 424.9 L643.3 424.8 L642.6 424.9 L641.8 425.1 L641 425.2 L640.2 425.4 L639.4 425.5 L638.6 425.7 L637.8 425.9 L637 426 L637 426 L636.3 426.2 L636.2 426.2 L635.5 426.3 L635.4 427 L634.6 434.7 L633.9 441.3 L633.8 442.4 L633 450.1 L632.3 456.4 L632.2 457.7 L631.6 463.9 L631.4 461.9 L630.6 452.3 L629.8 442.7 L629.2 435.7 L629 433.1 L628.4 426.3 L628.2 429.8 L627.7 437.8 L627.4 441.5 L626.9 449.3 L626.6 453.2 L626.1 460.7 L625.8 458.1 L625.3 453.7 L625 450.9 L624.5 446.7 L624.2 443.7 L623.7 439.6 L623.4 436.5 L623 432.6 L622.6 436.2 L622.2 440.4 L621.8 444.2 L621.4 448.2 L621 452.2 L620.6 456 L620.2 460.2 L619.8 463.9 L619.4 462.7 L619.1 461.8 L618.6 460.6 L617.8 458.4 L617.5 457.6 L617 453 L616.7 450.2 L616.2 445.4 L615.4 437.8 L615.1 435.3 L614.6 430.2 L614.4 427.9 L613.8 434 L613 442.8 L612.8 445.1 L612.2 451.6 L612 453.7 L611.4 460.4 L611.2 462.3 L610.6 458.2 L609.8 453 L609.7 452.1 L609 447.8 L608.9 447 L608.2 442.6 L608.1 442 L607.4 442.9 L607.3 443 L606.6 444 L606.5 444.1 L605.8 445 L605.8 445.1 L605 449.6 L605 449.8 L604.2 454.4 L604.2 454.5 L603.4 459.2 L602.6 463.9 L602.6 463.6 L601.8 456 L601.8 455.6 L601.1 448.2 L601 447.6 L600.2 439.6 L599.8 435.7 L599.5 432.6 L599.4 432.9 L598.6 435 L597.9 436.8 L597.8 437.1 L597.2 438.8 L597 440.1 L596.2 446.5 L595.6 451.3 L595.4 452.9 L594.8 457.6 L594.6 459.3 L594 463.9 L593.8 461.6 L593.2 456 L593 453.6 L592.5 448.2 L592.2 445.6 L591.7 440.4 L591.4 437.6 L590.9 432.6 L590.6 434.2 L590.1 436.8 L589.8 438.4 L589 442.7 L588.6 445.1 L588.2 451.2 L587.4 465.1 L586.6 479 L586.2 485.8 L585.8 477.6 L585 461.6 L584.2 445.6 L583.9 438.8 L583.4 436.7 L582.6 433 L581.8 429.2 L581.5 427.9 L581 427.7 L580.7 427.6 L580.2 427.4 L579.4 427 L578.6 426.7 L577.8 426.4 L577.6 426.3 L577 427.8 L576.2 429.8 L576 430.2 L575.4 431.8 L574.6 433.8 L574.5 434.1 L573.8 435.8 L573 437.8 L572.9 438.1 L572.2 439.8 L571.4 441.8 L571.3 442 L570.6 446.5 L569.8 451.3 L569 456.1 L568.2 460.7 L568.2 460.5 L567.4 453.3 L566.6 446.1 L565.8 438.9 L565.1 432.6 L565 432.7 L564.3 433.8 L564.2 434 L563.5 435.1 L563.4 435.3 L562.7 436.3 L562.6 436.6 L561.8 437.9 L561.2 438.8 L561 440.1 L560.4 444.1 L560.2 445.4 L559.4 450.7 L558.8 454.5 L558.6 456.7 L557.8 464.2 L557.3 469.1 L557 471.6 L556.5 476.4 L556.2 472.9 L555.7 467 L555.4 463.3 L554.9 457.6 L554.6 453.7 L553.8 444.1 L553.4 438.8 L553 437.4 L552.6 435.7 L552.2 434.2 L551.4 431 L550.6 427.8 L550.2 426.3 L549.8 430.5 L549.5 433.8 L549 438.2 L548.2 445.9 L547.9 448.8 L547.4 453.6 L546.6 461.2 L546.3 463.9 L545.8 458.6 L545.5 456 L545 450.6 L544.2 442.6 L543.4 434.6 L543.2 432.6 L542.6 431.7 L542.4 431.4 L541.8 430.5 L541.6 430.2 L541 429.3 L540.2 428.1 L540.1 427.9 L539.4 433.6 L539.3 434.5 L538.6 440.4 L537.8 447.2 L537 454 L536.9 454.5 L536.2 458.4 L536.2 458.6 L535.4 462.7 L534.6 467 L534.6 467 L533.8 462.6 L533.8 462.5 L533 458 L532.2 453.6 L531.4 449.1 L530.7 445.1 L530.6 444.8 L529.8 442.4 L529 440 L528.2 437.6 L527.6 435.7 L527.4 436.5 L526.6 440.5 L525.8 444.5 L525 448.5 L524.4 451.3 L524.2 449.5 L523.4 443.1 L522.6 436.7 L522.1 432.6 L521.8 430.3 L521.3 426.3 L521 426.9 L520.2 428.5 L519.7 429.5 L519.4 430.1 L518.6 431.7 L518.2 432.6 L517.8 433.7 L517 436.1 L516.6 437.3 L516.2 438.5 L515.4 440.9 L515 442 L514.6 441.5 L514.3 441.2 L513.8 440.7 L513 439.9 L512.7 439.6 L512.2 439.1 L511.9 438.8 L511.4 440.4 L511.1 441.2 L510.6 442.8 L509.8 445.2 L509.6 445.9 L509 447.6 L508.8 448.2 L508.2 445.3 L507.4 441.3 L507.2 440.4 L506.6 437.3 L506.4 436.5 L505.8 433.3 L505.7 432.6 L505 431.3 L504.9 431 L504.2 429.7 L504.1 429.5 L503.4 428.1 L502.6 426.5 L502.5 426.3 L501.8 428.1 L501.8 428.2 L501 430 L501 430.1 L500.2 431.9 L499.4 433.8 L499.4 433.9 L498.6 435.7 L498.6 435.8 L497.8 439.6 L497 443.3 L496.3 445.1 L496.2 445.1 L495.4 444.9 L494.6 443.3 L493.9 442 L493.8 441.4 L493.2 438.8 L493 438.2 L492.4 435.7 L492.2 435 L491.6 432.6 L491.4 434.3 L490.6 441.8 L490 447.2 L489.8 449.3 L489.2 454.5 L489 455.1 L488.5 456.6 L488.2 457.3 L487.7 458.6 L487.4 459.4 L486.9 460.7 L486.6 458.1 L485.8 450.9 L485.3 446.7 L485 443.7 L484.2 436.5 L483.8 432.6 L483.4 431.8 L482.6 430.2 L482.2 429.5 L481.8 428.6 L481 427 L480.6 426.3 L480.2 426.3 L479.9 426.3 L479.4 426.3 L478.6 426.3 L477.8 426.3 L477 426.3 L476.2 426.3 L475.4 426.3 L474.6 426.3 L474.4 426.3 L473.8 426.3 L473.6 426.3 L473 426.7 L472.2 427.3 L471.4 427.8 L471.3 427.9 L470.6 431.8 L469.8 436.6 L469 441.4 L468.2 446.2 L468.1 446.7 L467.4 443.4 L466.6 439.8 L466.6 439.6 L465.8 436.1 L465 432.6 L465 432.6 L464.2 434.6 L463.4 436.6 L463.3 436.9 L462.6 438.6 L462.5 438.8 L461.8 445.9 L461 453.9 L460.9 454.5 L460.2 461.9 L460.2 462.3 L459.4 456.6 L458.6 450.6 L458.6 450.6 L457.8 444.6 L457 438.8 L457 438.8 L456.3 437.3 L456.2 437.2 L455.4 435.6 L454.7 434.1 L454.6 434.2 L453.9 434.5 L453.8 434.5 L453.1 434.8 L453 434.8 L452.2 435.1 L451.4 435.5 L450.8 435.7 L450.6 437.3 L449.8 444.5 L449 451.7 L448.4 456.8 L448.2 458.9 L447.7 463.9 L447.4 460.5 L446.6 449.8 L446.1 443 L445.8 439.2 L445.3 432.6 L445 433 L444.2 434.1 L443.4 435.1 L443 435.7 L442.6 437.2 L441.8 440.4 L441 443.6 L440.6 445.1 L440.2 446.8 L439.8 448.2 L439.4 445.6 L438.6 440.8 L437.8 436 L437.5 434.1 L437 435.1 L436.2 436.7 L435.4 438.3 L435.1 438.8 L434.6 437.4 L433.8 435.3 L433 433.1 L432.2 431 L432 430.5 L431.4 428.9 L430.6 426.7 L430.4 426.3 L429.8 426.1 L429 425.8 L428.9 425.8 L428.2 425.6 L427.4 425.3 L426.6 425 L426.5 425 L425.8 424.8 L425.8 424.8 L425 425 L424.2 425.2 L423.4 425.4 L422.6 425.5 L422.6 425.6 L421.8 425.8 L421 426 L420.2 426.2 L419.5 426.3 L419.4 426.5 L418.6 428.1 L417.9 429.5 L417.8 429.7 L417 431.3 L416.4 432.6 L416.2 432.9 L415.6 434.1 L415.4 434.5 L414.6 436.1 L413.8 437.7 L413.2 438.8 L413 437.9 L412.2 434.7 L411.4 431.5 L410.6 428.3 L410.1 426.3 L409.8 426.3 L409.3 426.3 L409 426.3 L408.6 426.3 L408.2 426.3 L407.4 426.3 L407 426.3 L406.6 427.9 L405.8 431.1 L405.4 432.6 L405 434.3 L404.2 437.5 L403.9 438.8 L403.4 437.7 L402.6 435.7 L401.8 433.7 L401.5 433 L401 431.7 L400.7 431 L400.2 430.7 L399.4 430.1 L399.2 430 L398.6 429.6 L397.8 429.1 L397.6 428.9 L397 428.5 L396.2 428 L396 427.9 L395.4 429.4 L394.6 431.4 L394.5 431.6 L393.8 433.3 L393 435.2 L392.2 437.1 L392.1 437.3 L391.4 438.7 L391.3 438.8 L390.6 440.3 L389.8 441.9 L389.8 442 L389 446.3 L388.2 450.6 L388.2 450.7 L387.4 454.9 L387.4 455.1 L386.7 459.2 L386.6 459 L385.8 456.6 L385.1 454.5 L385 453.9 L384.2 449.1 L383.4 444.3 L382.6 439.5 L382 435.7 L381.8 435 L381 431.8 L380.2 428.6 L379.6 426.3 L379.4 426.7 L378.8 427.6 L378.6 428 L377.8 429.2 L377.3 430.1 L377 430.5 L376.2 431.8 L375.7 432.6 L375.4 433.4 L374.6 435.5 L374.1 436.8 L373.8 437.7 L373.4 438.8 L373 443.2 L372.6 448.2 L372.2 452.8 L371.4 462.4 L371.3 463.2 L371 467 L370.6 465.3 L370.2 463.9 L369.8 462.1 L369 458.9 L368.2 455.7 L367.9 454.5 L367.4 451.2 L366.6 445.9 L366.3 444.1 L365.8 440.5 L365.5 438.8 L365 437.4 L364.2 435.3 L363.4 433.1 L363.2 432.6 L362.6 431.4 L362.4 431 L361.8 429.8 L361 428.2 L360.9 427.9 L360.2 426.6 L360.1 426.3 L359.4 426.7 L358.6 427.1 L358.5 427.1 L357.8 427.5 L357 427.9 L356.9 427.9 L356.2 437.9 L355.4 448.7 L355.4 449 L354.6 459.5 L354.6 459.6 L353.8 470.1 L353.8 470.1 L353 471.7 L352.3 473.2 L352.2 472.8 L351.5 467 L351.4 466.4 L350.6 460 L349.9 454.5 L349.8 453.2 L349.1 445.1 L349 443.6 L348.2 434 L347.6 426.3 L347.4 426.3 L346.6 426.3 L345.8 426.3 L345 426.3 L344.2 426.3 L343.4 426.3 L342.9 426.3 L342.6 426.4 L341.8 426.8 L341 427.1 L340.2 427.4 L339.7 427.6 L339.4 427.7 L339 427.9 L338.6 430.3 L337.8 435.8 L337 441.2 L336.6 443.8 L336.2 446.6 L335.4 452.1 L335 454.5 L334.6 458.5 L333.8 465.7 L333.5 468.6 L333 472.9 L332.2 480.1 L331.9 482.6 L331.4 475.9 L331.1 472.5 L330.6 465.5 L329.8 455.1 L329.6 452.1 L329 444.7 L328.8 442 L328.2 439.2 L327.4 435.5 L327.2 434.7 L326.6 431.7 L326.4 431 L325.8 430.8 L325 430.6 L324.2 430.4 L323.4 430.1 L322.6 429.9 L322.5 429.9 L321.8 429.7 L321 429.5 L321 429.5 L320.2 427.9 L319.4 426.3 L319.4 426.3 L318.6 424.7 L317.8 423.2 L317.8 423.1 L317 421.5 L316.3 420.1 L316.2 420.9 L315.4 429.7 L314.7 437.3 L314.6 438.5 L313.8 447.3 L313.2 454.5 L313 455.7 L312.4 460.7 L312.2 462.1 L311.4 468.5 L310.8 473.2 L310.6 474.9 L310 479.5 L309.8 477.7 L309 471.3 L308.5 467 L308.2 464.9 L307.4 458.5 L306.9 454.5 L306.6 452.1 L305.8 445.7 L305 439.3 L304.2 432.9 L303.8 429.5 L303.4 430.6 L302.6 433.2 L302.2 434.5 L301.8 435.8 L301 438.3 L300.2 440.9 L299.9 442 L299.4 442 L298.6 442 L297.8 442 L297 442 L296.2 442 L295.4 442 L294.6 442 L293.8 442 L293 442 L292.8 442 L292.2 443.2 L291.4 444.8 L290.6 446.4 L289.8 448.1 L289 449.7 L288.2 451.3 L288 451.7 L287.4 451.1 L286.6 450.3 L285.8 449.5 L285 448.7 L284.2 447.9 L283.4 447.1 L282.6 446.4 L282.4 446.1 L281.8 445.6 L281.6 445.4 L281 444.8 L280.2 444 L280 443.8 L279.4 449.7 L278.6 457.1 L278.5 458.2 L277.8 464.4 L277 471.8 L276.9 472.6 L276.2 479.1 L276.1 479.8 L275.4 474.2 L274.6 468.1 L274.6 467.8 L273.8 462 L273 455.8 L272.2 449.8 L272.2 449.7 L271.4 443.8 L271.4 444.1 L270.6 450 L269.9 455.3 L269.8 455.8 L269 461.7 L268.3 466.8 L268.2 467.6 L267.4 473.4 L266.7 478.2 L266.6 476.1 L266 466.3 L265.8 463.8 L265.2 454.3 L265 451.5 L264.4 442.3 L264.2 442.2 L263.6 442.1 L263.4 442.1 L262.6 442 L261.8 441.8 L261 441.7 L260.2 441.6 L259.4 441.4 L258.6 441.3 L258.1 441.2 L257.8 441.2 L257 441 L256.6 441 L256.2 440.9 L255.8 440.8 L255.4 440.8 L255 440.7 L254.6 440.9 L253.8 441.3 L253.4 441.5 L253 441.7 L252.2 442.1 L251.4 442.5 L250.6 442.9 L249.8 443.3 L249 443.7 L248.8 443.8 L248.2 439.9 L247.4 434.3 L246.6 428.7 L246.4 427.4 L245.8 423.1 L245.6 421.9 L245 424 L244.8 424.5 L244.2 426.7 L243.4 429.4 L242.6 432 L242.5 432.4 L241.8 434.7 L241 437.4 L240.9 437.6 L240.2 437.9 L239.4 438.2 L238.6 438.5 L237.8 438.8 L237.8 438.8 L237 439.2 L236.2 439.5 L235.4 439.8 L234.6 440.1 L233.8 440.4 L233.1 440.7 L233 440.9 L232.2 442.2 L231.4 443.5 L230.6 444.7 L230 445.7 L229.8 446 L229.2 447 L229 447.3 L228.2 448.6 L227.4 449.9 L226.9 450.7 L226.6 451.1 L225.8 452.4 L225.3 453.2 L225 453 L224.2 452.3 L223.7 452 L223.4 451.7 L222.6 451.1 L221.8 450.4 L221.4 450.1 L221 449.8 L220.6 449.6 L220.2 449.3 L219.4 448.8 L219 448.5 L218.6 448.1 L217.8 447.3 L217.5 447 L217 443.1 L216.7 440.7 L216.2 436.7 L215.4 430.3 L214.6 423.9 L214.3 421.9 L213.8 421.5 L213 420.8 L212.2 420.1 L211.4 419.4 L211.2 419.3 L210.6 418.7 L209.8 418 L209.7 417.9 L209 417.4 L208.9 417.3 L208.2 417.6 L208.1 417.6 L207.4 417.9 L206.6 418.3 L205.8 418.6 L205 419 L205 419 L204.2 419.3 L203.4 419.7 L202.6 420 L202.6 420 L201.8 420.4 L201.8 420.7 L201.4 423.8 L201 426.5 L200.3 431.8 L200.2 432.4 L199.5 437.6 L199.4 437.5 L198.6 436.6 L197.9 435.8 L197.8 435.6 L197 434.7 L196.2 433.8 L195.6 433.1 L195.4 432.9 L194.6 432 L194 431.3 L193.8 430.1 L193.2 426.8 L193 425.4 L192.2 420.8 L191.4 416.1 L190.9 413.2 L190.6 411.5 L190.1 408.6 L189.8 409.8 L189 412.9 L188.2 415.9 L187.8 417.6 L187.4 418.9 L186.6 422 L186.2 423.5 L185.8 424.5 L185 426.5 L184.6 427.4 L184.2 428.5 L183.4 430.5 L183.1 431.3 L182.6 427.1 L182.3 424.3 L181.8 419.9 L181.5 417.3 L181 412.7 L180.7 410.2 L180.2 412.2 L179.9 413.2 L179.4 415.2 L178.6 418.3 L178.4 419.1 L177.8 421.3 L177 424.4 L176.8 425.1 L176.2 423.8 L175.4 422.2 L175.3 421.9 L174.6 420.6 L173.8 419 L173.7 418.8 L173 417.4 L172.9 417.3 L172.2 418.7 L171.4 420.3 L170.6 421.9 L170.6 421.9 L169.8 423.5 L169 425.1 L169 425.1 L168.2 431 L167.4 436.8 L167.4 437 L166.6 442.7 L166.6 443 L166.2 446.2 L165.9 443.2 L165.8 442.5 L165 434.9 L164.3 428.2 L164.2 427.4 L163.4 420.8 L162.6 414.2 L162 408.8 L161.8 407.6 L161.2 402.4 L161 403.1 L160.2 406.1 L159.4 409.2 L158.6 412.3 L158 414.4 L157.8 415.3 L157 418.4 L156.5 420.4 L156.2 423 L155.4 430.5 L154.9 435 L154.6 438 L154.1 442.3 L153.8 435.2 L153.4 425.9 L153 418.4 L152.6 409.4 L152.2 409.4 L151.8 409.4 L151.4 409.4 L150.6 409.4 L149.8 409.4 L149 409.4 L148.7 409.4 L148.2 409.4 L147.4 409.4 L147.1 409.4 L146.6 410.2 L145.8 411.5 L145.5 411.9 L145 412.8 L144.2 414.1 L143.4 415.3 L143.2 415.7 L142.6 415.1 L142.4 414.9 L141.8 414.3 L141 413.5 L140.8 413.3 L140.2 412.7 L139.4 411.9 L139.3 411.8 L138.6 412.5 L137.8 413.3 L137 414.1 L136.2 414.9 L136.2 414.9 L135.4 415.7 L135.4 415.7 L134.6 428.8 L133.8 442.3 L133.8 442.3 L133 440.7 L133 440.7 L132.2 439.1 L131.5 437.6 L131.4 437.3 L130.6 433 L129.9 429.2 L129.8 428.7 L129.1 425.1 L129 425.1 L128.3 425.5 L128.2 425.6 L127.4 426 L126.8 426.4 L126.6 426.5 L125.8 427 L125 427.4 L124.2 427.9 L123.6 428.2 L123.4 428.4 L122.6 429 L122.1 429.4 L121.8 429.7 L121 430.3 L120.5 430.7 L120.2 431 L119.7 431.3 L119.4 432.2 L118.9 433.4 L118.6 434.3 L117.8 436.5 L117.4 437.6 L117 441 L116.2 448.2 L115.4 455.4 L114.6 462.6 L114.3 465.7 L113.8 462.1Z" fill="#a1ab3c" stroke="#a1ab3c"/>
<path d="M113.8 462.1 L114.3 465.7 L114.6 462.6 L115.4 455.4 L116.2 448.2 L117 441 L117.4 437.6 L117.8 436.5 L118.6 434.3 L118.9 433.4 L119.4 432.2 L119.7 431.3 L120.2 431 L120.5 430.7 L121 430.3 L121.8 429.7 L122.1 429.4 L122.6 429 L123.4 428.4 L123.6 428.2 L124.2 427.9 L125 427.4 L125.8 427 L126.6 426.5 L126.8 426.4 L127.4 426 L128.2 425.6 L128.3 425.5 L129 425.1 L129.1 425.1 L129.8 428.7 L129.9 429.2 L130.6 433 L131.4 437.3 L131.5 437.6 L132.2 439.1 L133 440.7 L133 440.7 L133.8 442.3 L133.8 442.3 L134.6 428.8 L135.4 415.7 L135.4 415.7 L136.2 414.9 L136.2 414.9 L137 414.1 L137.8 413.3 L138.6 412.5 L139.3 411.8 L139.4 411.9 L140.2 412.7 L140.8 413.3 L141 413.5 L141.8 414.3 L142.4 414.9 L142.6 415.1 L143.2 415.7 L143.4 415.3 L144.2 414.1 L145 412.8 L145.5 411.9 L145.8 411.5 L146.6 410.2 L147.1 409.4 L147.4 409.4 L148.2 409.4 L148.7 409.4 L149 409.4 L149.8 409.4 L150.6 409.4 L151.4 409.4 L151.8 409.4 L152.2 409.4 L152.6 409.4 L153 418.4 L153.4 425.9 L153.8 435.2 L154.1 442.3 L154.6 438 L154.9 435 L155.4 430.5 L156.2 423 L156.5 420.4 L157 418.4 L157.8 415.3 L158 414.4 L158.6 412.3 L159.4 409.2 L160.2 406.1 L161 403.1 L161.2 402.4 L161.8 407.6 L162 408.8 L162.6 414.2 L163.4 420.8 L164.2 427.4 L164.3 428.2 L165 434.9 L165.8 442.5 L165.9 443.2 L166.2 446.2 L166.6 443 L166.6 442.7 L167.4 437 L167.4 436.8 L168.2 431 L169 425.1 L169 425.1 L169.8 423.5 L170.6 421.9 L170.6 421.9 L171.4 420.3 L172.2 418.7 L172.9 417.3 L173 417.4 L173.7 418.8 L173.8 419 L174.6 420.6 L175.3 421.9 L175.4 422.2 L176.2 423.8 L176.8 425.1 L177 424.4 L177.8 421.3 L178.4 419.1 L178.6 418.3 L179.4 415.2 L179.9 413.2 L180.2 412.2 L180.7 410.2 L181 412.7 L181.5 417.3 L181.8 419.9 L182.3 424.3 L182.6 427.1 L183.1 431.3 L183.4 430.5 L184.2 428.5 L184.6 427.4 L185 426.5 L185.8 424.5 L186.2 423.5 L186.6 422 L187.4 418.9 L187.8 417.6 L188.2 415.9 L189 412.9 L189.8 409.8 L190.1 408.6 L190.6 411.5 L190.9 413.2 L191.4 416.1 L192.2 420.8 L193 425.4 L193.2 426.8 L193.8 430.1 L194 431.3 L194.6 432 L195.4 432.9 L195.6 433.1 L196.2 433.8 L197 434.7 L197.8 435.6 L197.9 435.8 L198.6 436.6 L199.4 437.5 L199.5 437.6 L200.2 432.4 L200.3 431.8 L201 426.5 L201.4 423.8 L201.8 420.7 L201.8 420.4 L202.6 420 L202.6 420 L203.4 419.7 L204.2 419.3 L205 419 L205 419 L205.8 418.6 L206.6 418.3 L207.4 417.9 L208.1 417.6 L208.2 417.6 L208.9 417.3 L209 417.4 L209.7 417.9 L209.8 418 L210.6 418.7 L211.2 419.3 L211.4 419.4 L212.2 420.1 L213 420.8 L213.8 421.5 L214.3 421.9 L214.6 423.9 L215.4 430.3 L216.2 436.7 L216.7 440.7 L217 443.1 L217.5 447 L217.8 447.3 L218.6 448.1 L219 448.5 L219.4 448.8 L220.2 449.3 L220.6 449.6 L221 449.8 L221.4 450.1 L221.8 450.4 L222.6 451.1 L223.4 451.7 L223.7 452 L224.2 452.3 L225 453 L225.3 453.2 L225.8 452.4 L226.6 451.1 L226.9 450.7 L227.4 449.9 L228.2 448.6 L229 447.3 L229.2 447 L229.8 446 L230 445.7 L230.6 444.7 L231.4 443.5 L232.2 442.2 L233 440.9 L233.1 440.7 L233.8 440.4 L234.6 440.1 L235.4 439.8 L236.2 439.5 L237 439.2 L237.8 438.8 L237.8 438.8 L238.6 438.5 L239.4 438.2 L240.2 437.9 L240.9 437.6 L241 437.4 L241.8 434.7 L242.5 432.4 L242.6 432 L243.4 429.4 L244.2 426.7 L244.8 424.5 L245 424 L245.6 421.9 L245.8 423.1 L246.4 427.4 L246.6 428.7 L247.4 434.3 L248.2 439.9 L248.8 443.8 L249 443.7 L249.8 443.3 L250.6 442.9 L251.4 442.5 L252.2 442.1 L253 441.7 L253.4 441.5 L253.8 441.3 L254.6 440.9 L255 440.7 L255.4 440.8 L255.8 440.8 L256.2 440.9 L256.6 441 L257 441 L257.8 441.2 L258.1 441.2 L258.6 441.3 L259.4 441.4 L260.2 441.6 L261 441.7 L261.8 441.8 L262.6 442 L263.4 442.1 L263.6 442.1 L264.2 442.2 L264.4 442.3 L265 451.5 L265.2 454.3 L265.8 463.8 L266 466.3 L266.6 476.1 L266.7 478.2 L267.4 473.4 L268.2 467.6 L268.3 466.8 L269 461.7 L269.8 455.8 L269.9 455.3 L270.6 450 L271.4 444.1 L271.4 443.8 L272.2 449.7 L272.2 449.8 L273 455.8 L273.8 462 L274.6 467.8 L274.6 468.1 L275.4 474.2 L276.1 479.8 L276.2 479.1 L276.9 472.6 L277 471.8 L277.8 464.4 L278.5 458.2 L278.6 457.1 L279.4 449.7 L280 443.8 L280.2 444 L281 444.8 L281.6 445.4 L281.8 445.6 L282.4 446.1 L282.6 446.4 L283.4 447.1 L284.2 447.9 L285 448.7 L285.8 449.5 L286.6 450.3 L287.4 451.1 L288 451.7 L288.2 451.3 L289 449.7 L289.8 448.1 L290.6 446.4 L291.4 444.8 L292.2 443.2 L292.8 442 L293 442 L293.8 442 L294.6 442 L295.4 442 L296.2 442 L297 442 L297.8 442 L298.6 442 L299.4 442 L299.9 442 L300.2 440.9 L301 438.3 L301.8 435.8 L302.2 434.5 L302.6 433.2 L303.4 430.6 L303.8 429.5 L304.2 432.9 L305 439.3 L305.8 445.7 L306.6 452.1 L306.9 454.5 L307.4 458.5 L308.2 464.9 L308.5 467 L309 471.3 L309.8 477.7 L310 479.5 L310.6 474.9 L310.8 473.2 L311.4 468.5 L312.2 462.1 L312.4 460.7 L313 455.7 L313.2 454.5 L313.8 447.3 L314.6 438.5 L314.7 437.3 L315.4 429.7 L316.2 420.9 L316.3 420.1 L317 421.5 L317.8 423.1 L317.8 423.2 L318.6 424.7 L319.4 426.3 L319.4 426.3 L320.2 427.9 L321 429.5 L321 429.5 L321.8 429.7 L322.5 429.9 L322.6 429.9 L323.4 430.1 L324.2 430.4 L325 430.6 L325.8 430.8 L326.4 431 L326.6 431.7 L327.2 434.7 L327.4 435.5 L328.2 439.2 L328.8 442 L329 444.7 L329.6 452.1 L329.8 455.1 L330.6 465.5 L331.1 472.5 L331.4 475.9 L331.9 482.6 L332.2 480.1 L333 472.9 L333.5 468.6 L333.8 465.7 L334.6 458.5 L335 454.5 L335.4 452.1 L336.2 446.6 L336.6 443.8 L337 441.2 L337.8 435.8 L338.6 430.3 L339 427.9 L339.4 427.7 L339.7 427.6 L340.2 427.4 L341 427.1 L341.8 426.8 L342.6 426.4 L342.9 426.3 L343.4 426.3 L344.2 426.3 L345 426.3 L345.8 426.3 L346.6 426.3 L347.4 426.3 L347.6 426.3 L348.2 434 L349 443.6 L349.1 445.1 L349.8 453.2 L349.9 454.5 L350.6 460 L351.4 466.4 L351.5 467 L352.2 472.8 L352.3 473.2 L353 471.7 L353.8 470.1 L353.8 470.1 L354.6 459.6 L354.6 459.5 L355.4 449 L355.4 448.7 L356.2 437.9 L356.9 427.9 L357 427.9 L357.8 427.5 L358.5 427.1 L358.6 427.1 L359.4 426.7 L360.1 426.3 L360.2 426.6 L360.9 427.9 L361 428.2 L361.8 429.8 L362.4 431 L362.6 431.4 L363.2 432.6 L363.4 433.1 L364.2 435.3 L365 437.4 L365.5 438.8 L365.8 440.5 L366.3 444.1 L366.6 445.9 L367.4 451.2 L367.9 454.5 L368.2 455.7 L369 458.9 L369.8 462.1 L370.2 463.9 L370.6 465.3 L371 467 L371.3 463.2 L371.4 462.4 L372.2 452.8 L372.6 448.2 L373 443.2 L373.4 438.8 L373.8 437.7 L374.1 436.8 L374.6 435.5 L375.4 433.4 L375.7 432.6 L376.2 431.8 L377 430.5 L377.3 430.1 L377.8 429.2 L378.6 428 L378.8 427.6 L379.4 426.7 L379.6 426.3 L380.2 428.6 L381 431.8 L381.8 435 L382 435.7 L382.6 439.5 L383.4 444.3 L384.2 449.1 L385 453.9 L385.1 454.5 L385.8 456.6 L386.6 459 L386.7 459.2 L387.4 455.1 L387.4 454.9 L388.2 450.7 L388.2 450.6 L389 446.3 L389.8 442 L389.8 441.9 L390.6 440.3 L391.3 438.8 L391.4 438.7 L392.1 437.3 L392.2 437.1 L393 435.2 L393.8 433.3 L394.5 431.6 L394.6 431.4 L395.4 429.4 L396 427.9 L396.2 428 L397 428.5 L397.6 428.9 L397.8 429.1 L398.6 429.6 L399.2 430 L399.4 430.1 L400.2 430.7 L400.7 431 L401 431.7 L401.5 433 L401.8 433.7 L402.6 435.7 L403.4 437.7 L403.9 438.8 L404.2 437.5 L405 434.3 L405.4 432.6 L405.8 431.1 L406.6 427.9 L407 426.3 L407.4 426.3 L408.2 426.3 L408.6 426.3 L409 426.3 L409.3 426.3 L409.8 426.3 L410.1 426.3 L410.6 428.3 L411.4 431.5 L412.2 434.7 L413 437.9 L413.2 438.8 L413.8 437.7 L414.6 436.1 L415.4 434.5 L415.6 434.1 L416.2 432.9 L416.4 432.6 L417 431.3 L417.8 429.7 L417.9 429.5 L418.6 428.1 L419.4 426.5 L419.5 426.3 L420.2 426.2 L421 426 L421.8 425.8 L422.6 425.6 L422.6 425.5 L423.4 425.4 L424.2 425.2 L425 425 L425.8 424.8 L425.8 424.8 L426.5 425 L426.6 425 L427.4 425.3 L428.2 425.6 L428.9 425.8 L429 425.8 L429.8 426.1 L430.4 426.3 L430.6 426.7 L431.4 428.9 L432 430.5 L432.2 431 L433 433.1 L433.8 435.3 L434.6 437.4 L435.1 438.8 L435.4 438.3 L436.2 436.7 L437 435.1 L437.5 434.1 L437.8 436 L438.6 440.8 L439.4 445.6 L439.8 448.2 L440.2 446.8 L440.6 445.1 L441 443.6 L441.8 440.4 L442.6 437.2 L443 435.7 L443.4 435.1 L444.2 434.1 L445 433 L445.3 432.6 L445.8 439.2 L446.1 443 L446.6 449.8 L447.4 460.5 L447.7 463.9 L448.2 458.9 L448.4 456.8 L449 451.7 L449.8 444.5 L450.6 437.3 L450.8 435.7 L451.4 435.5 L452.2 435.1 L453 434.8 L453.1 434.8 L453.8 434.5 L453.9 434.5 L454.6 434.2 L454.7 434.1 L455.4 435.6 L456.2 437.2 L456.3 437.3 L457 438.8 L457 438.8 L457.8 444.6 L458.6 450.6 L458.6 450.6 L459.4 456.6 L460.2 462.3 L460.2 461.9 L460.9 454.5 L461 453.9 L461.8 445.9 L462.5 438.8 L462.6 438.6 L463.3 436.9 L463.4 436.6 L464.2 434.6 L465 432.6 L465 432.6 L465.8 436.1 L466.6 439.6 L466.6 439.8 L467.4 443.4 L468.1 446.7 L468.2 446.2 L469 441.4 L469.8 436.6 L470.6 431.8 L471.3 427.9 L471.4 427.8 L472.2 427.3 L473 426.7 L473.6 426.3 L473.8 426.3 L474.4 426.3 L474.6 426.3 L475.4 426.3 L476.2 426.3 L477 426.3 L477.8 426.3 L478.6 426.3 L479.4 426.3 L479.9 426.3 L480.2 426.3 L480.6 426.3 L481 427 L481.8 428.6 L482.2 429.5 L482.6 430.2 L483.4 431.8 L483.8 432.6 L484.2 436.5 L485 443.7 L485.3 446.7 L485.8 450.9 L486.6 458.1 L486.9 460.7 L487.4 459.4 L487.7 458.6 L488.2 457.3 L488.5 456.6 L489 455.1 L489.2 454.5 L489.8 449.3 L490 447.2 L490.6 441.8 L491.4 434.3 L491.6 432.6 L492.2 435 L492.4 435.7 L493 438.2 L493.2 438.8 L493.8 441.4 L493.9 442 L494.6 443.3 L495.4 444.9 L496.2 445.1 L496.3 445.1 L497 443.3 L497.8 439.6 L498.6 435.8 L498.6 435.7 L499.4 433.9 L499.4 433.8 L500.2 431.9 L501 430.1 L501 430 L501.8 428.2 L501.8 428.1 L502.5 426.3 L502.6 426.5 L503.4 428.1 L504.1 429.5 L504.2 429.7 L504.9 431 L505 431.3 L505.7 432.6 L505.8 433.3 L506.4 436.5 L506.6 437.3 L507.2 440.4 L507.4 441.3 L508.2 445.3 L508.8 448.2 L509 447.6 L509.6 445.9 L509.8 445.2 L510.6 442.8 L511.1 441.2 L511.4 440.4 L511.9 438.8 L512.2 439.1 L512.7 439.6 L513 439.9 L513.8 440.7 L514.3 441.2 L514.6 441.5 L515 442 L515.4 440.9 L516.2 438.5 L516.6 437.3 L517 436.1 L517.8 433.7 L518.2 432.6 L518.6 431.7 L519.4 430.1 L519.7 429.5 L520.2 428.5 L521 426.9 L521.3 426.3 L521.8 430.3 L522.1 432.6 L522.6 436.7 L523.4 443.1 L524.2 449.5 L524.4 451.3 L525 448.5 L525.8 444.5 L526.6 440.5 L527.4 436.5 L527.6 435.7 L528.2 437.6 L529 440 L529.8 442.4 L530.6 444.8 L530.7 445.1 L531.4 449.1 L532.2 453.6 L533 458 L533.8 462.5 L533.8 462.6 L534.6 467 L534.6 467 L535.4 462.7 L536.2 458.6 L536.2 458.4 L536.9 454.5 L537 454 L537.8 447.2 L538.6 440.4 L539.3 434.5 L539.4 433.6 L540.1 427.9 L540.2 428.1 L541 429.3 L541.6 430.2 L541.8 430.5 L542.4 431.4 L542.6 431.7 L543.2 432.6 L543.4 434.6 L544.2 442.6 L545 450.6 L545.5 456 L545.8 458.6 L546.3 463.9 L546.6 461.2 L547.4 453.6 L547.9 448.8 L548.2 445.9 L549 438.2 L549.5 433.8 L549.8 430.5 L550.2 426.3 L550.6 427.8 L551.4 431 L552.2 434.2 L552.6 435.7 L553 437.4 L553.4 438.8 L553.8 444.1 L554.6 453.7 L554.9 457.6 L555.4 463.3 L555.7 467 L556.2 472.9 L556.5 476.4 L557 471.6 L557.3 469.1 L557.8 464.2 L558.6 456.7 L558.8 454.5 L559.4 450.7 L560.2 445.4 L560.4 444.1 L561 440.1 L561.2 438.8 L561.8 437.9 L562.6 436.6 L562.7 436.3 L563.4 435.3 L563.5 435.1 L564.2 434 L564.3 433.8 L565 432.7 L565.1 432.6 L565.8 438.9 L566.6 446.1 L567.4 453.3 L568.2 460.5 L568.2 460.7 L569 456.1 L569.8 451.3 L570.6 446.5 L571.3 442 L571.4 441.8 L572.2 439.8 L572.9 438.1 L573 437.8 L573.8 435.8 L574.5 434.1 L574.6 433.8 L575.4 431.8 L576 430.2 L576.2 429.8 L577 427.8 L577.6 426.3 L577.8 426.4 L578.6 426.7 L579.4 427 L580.2 427.4 L580.7 427.6 L581 427.7 L581.5 427.9 L581.8 429.2 L582.6 433 L583.4 436.7 L583.9 438.8 L584.2 445.6 L585 461.6 L585.8 477.6 L586.2 485.8 L586.6 479 L587.4 465.1 L588.2 451.2 L588.6 445.1 L589 442.7 L589.8 438.4 L590.1 436.8 L590.6 434.2 L590.9 432.6 L591.4 437.6 L591.7 440.4 L592.2 445.6 L592.5 448.2 L593 453.6 L593.2 456 L593.8 461.6 L594 463.9 L594.6 459.3 L594.8 457.6 L595.4 452.9 L595.6 451.3 L596.2 446.5 L597 440.1 L597.2 438.8 L597.8 437.1 L597.9 436.8 L598.6 435 L599.4 432.9 L599.5 432.6 L599.8 435.7 L600.2 439.6 L601 447.6 L601.1 448.2 L601.8 455.6 L601.8 456 L602.6 463.6 L602.6 463.9 L603.4 459.2 L604.2 454.5 L604.2 454.4 L605 449.8 L605 449.6 L605.8 445.1 L605.8 445 L606.5 444.1 L606.6 444 L607.3 443 L607.4 442.9 L608.1 442 L608.2 442.6 L608.9 447 L609 447.8 L609.7 452.1 L609.8 453 L610.6 458.2 L611.2 462.3 L611.4 460.4 L612 453.7 L612.2 451.6 L612.8 445.1 L613 442.8 L613.8 434 L614.4 427.9 L614.6 430.2 L615.1 435.3 L615.4 437.8 L616.2 445.4 L616.7 450.2 L617 453 L617.5 457.6 L617.8 458.4 L618.6 460.6 L619.1 461.8 L619.4 462.7 L619.8 463.9 L620.2 460.2 L620.6 456 L621 452.2 L621.4 448.2 L621.8 444.2 L622.2 440.4 L622.6 436.2 L623 432.6 L623.4 436.5 L623.7 439.6 L624.2 443.7 L624.5 446.7 L625 450.9 L625.3 453.7 L625.8 458.1 L626.1 460.7 L626.6 453.2 L626.9 449.3 L627.4 441.5 L627.7 437.8 L628.2 429.8 L628.4 426.3 L629 433.1 L629.2 435.7 L629.8 442.7 L630.6 452.3 L631.4 461.9 L631.6 463.9 L632.2 457.7 L632.3 456.4 L633 450.1 L633.8 442.4 L633.9 441.3 L634.6 434.7 L635.4 427 L635.5 426.3 L636.2 426.2 L636.3 426.2 L637 426 L637 426 L637.8 425.9 L638.6 425.7 L639.4 425.5 L640.2 425.4 L641 425.2 L641.8 425.1 L642.6 424.9 L643.3 424.8 L643.4 424.9 L644.2 425.6 L645 426.3 L645 426.3 L645.8 427.4 L646.6 428.5 L647.3 429.5 L647.4 429.5 L648.2 429.9 L649 430.3 L649.8 430.7 L650.5 431 L650.6 431 L651.3 431.2 L651.4 431.2 L652.2 431.4 L653 431.6 L653.8 431.8 L654.4 432 L654.6 432 L655.4 432.2 L656.2 432.4 L656.7 432.6 L657 432.7 L657.5 433.1 L657.8 433.2 L658.6 433.7 L659.4 434.2 L660.2 434.7 L660.6 434.9 L661 434.5 L661.8 433.5 L662.6 432.5 L663.4 431.5 L663.8 431 L664.2 430.9 L665 430.7 L665.8 430.6 L666.6 430.4 L667.4 430.2 L668.2 430 L669 429.9 L669.8 429.7 L670.6 429.5 L670.8 429.5 L671.4 435.7 L672.2 444.1 L673 452.5 L673.2 454.1 L673.8 460.9 L673.9 462.3 L674.6 462.6 L675.4 463 L675.5 463.1 L676.2 462.5 L676.3 462.3 L677 460.9 L677.1 460.7 L677.8 462.4 L677.8 462.3 L678.6 460.8 L678.6 460.7 L679.4 459.2 L679.4 459.2 L680.2 457.6 L680.2 457.5 L681 449.8 L681 449.5 L681.8 441.5 L682.5 434.1 L682.6 433.5 L683.3 426.3 L683.4 426.3 L684.2 426.3 L685 426.3 L685.7 426.3 L685.8 426.3 L686.4 426.3 L686.6 426.4 L687.4 426.6 L688.2 426.8 L689 427.1 L689.8 427.3 L690.6 427.5 L691.4 427.7 L691.9 427.9 L692.2 428.3 L693 429.5 L693.8 430.7 L694.3 431.4 L694.6 431.9 L695 432.6 L695.4 433.1 L696.2 434.3 L697 435.5 L697.8 436.7 L698.2 437.3 L698.6 436.3 L699.4 434.5 L700.2 432.7 L701 430.9 L701.3 430.2 L701.8 430 L702.6 429.7 L703.4 429.4 L704.2 429.1 L705 428.8 L705.8 428.5 L706.6 428.2 L707.4 427.9 L707.6 427.9 L708.2 427.6 L709 427.2 L709.8 426.9 L710.6 426.5 L711.4 426.2 L712.2 425.8 L713 425.5 L713.8 425.1 L713.8 425.1 L714.6 424.8 L714.6 424.8 L715.4 430.1 L716.2 435.2 L716.2 435.5 L716.9 440.4 L717 440.2 L717.8 437 L718.5 434.1 L718.6 433.8 L719.3 431 L719.4 430.6 L720.1 427.9 L720.2 427.7 L721 426.5 L721.6 425.5 L721.8 425.3 L722.4 424.4 L722.6 424.1 L723.2 423.2 L723.4 420.8 L723.7 417.6 L724 413.8 L724.2 413.8 L724.8 413.9 L725 414 L725.8 414.1 L726.3 414.2 L726.6 414.2 L727.4 414.3 L727.9 414.4 L728.2 414.5 L729 414.6 L729.5 414.7 L729.8 414.7 L730.6 414.8 L731.4 415 L731.8 415 L732.2 415.1 L732.6 415.1 L733 415.2 L733.8 415.3 L734.1 415.4 L734.6 416.9 L735.4 419.6 L735.7 420.6 L736.2 422.2 L736.5 423.2 L737 422.5 L737.8 421.5 L738.6 420.4 L738.8 420.1 L739.4 423.1 L740.2 427.3 L741 431.6 L741.2 432.6 L741.8 436.9 L742.6 442.6 L743.4 448.2 L743.8 451.3 L744.2 451.3 L745 451.3 L745.8 451.3 L746.6 451.3 L747.4 451.3 L748.2 451.3 L749 451.3 L749.8 451.3 L750.6 451.3 L751.4 451.3 L752.2 451.3 L753 451.3 L753.8 451.3 L754.6 451.3 L755.4 451.3 L756.2 451.3 L756.8 451.3 L757 448.5 L757.3 443.8 L757.6 438.8 L757.8 435.7 L758.4 426.3 L758.6 426.8 L759.4 428.4 L760.2 430 L760.7 431 L761 431.6 L761.5 432.6 L761.8 433 L762.6 434.3 L763.4 435.6 L763.9 436.3 L764.2 436.9 L765 438.2 L765.4 438.8 L765.8 438.6 L766.6 438.1 L767.4 437.5 L768.2 437 L768.6 436.8 L769 436.5 L769.8 435.9 L770.1 435.7 L770.6 435.9 L771.4 436.1 L772.2 436.4 L773 436.7 L773.2 436.8 L773.8 436.9 L774.6 437.2 L774.8 437.3 L775.4 437.6 L776.2 438 L777 438.4 L777.8 438.8 L777.9 438.8 L778.6 438.2 L779.4 437.4 L780.2 436.6 L781 435.8 L781.1 435.7 L781.8 435.7 L782.6 435.7 L782.6 435.7 L783.4 435.7 L784.2 435.7 L785 435.7 L785.8 435.7 L785.8 435.7 L786.5 435.7 L786.6 436.1 L787.4 440.5 L788.2 445 L788.9 448.8 L789 449.5 L789.7 453.2 L789.8 454 L790.4 457.6 L790.6 458.7 L791.2 463.1 L791.4 464.3 L792.2 469.9 L792.8 474 L793 475.5 L793.6 479.5 L793.8 475.6 L794.6 461.8 L795.1 452.4 L795.4 447.9 L795.9 438.8 L796.2 438.6 L797 437.8 L797.5 437.3 L797.8 437 L798.6 436.2 L799.1 435.7 L799.4 436 L800.2 436.6 L801 437.3 L801.4 437.6 L801.8 437.9 L802.6 438.5 L803 438.8 L803.4 439.7 L804.2 441.3 L805 442.9 L805.8 444.5 L806.1 445.1 L806.6 443 L807.4 439.8 L808.2 436.6 L809 433.4 L809.2 432.6 L809.8 431.8 L810.6 430.7 L810.8 430.5 L811.4 429.7 L812.2 428.6 L813 427.5 L813.8 426.5 L813.9 426.3 L814.6 426.7 L814.7 426.7 L815.4 427.1 L815.5 427.1 L816.2 427.5 L817 427.9 L817 427.9 L817.8 427.5 L818.6 427 L819.4 426.5 L820.2 426.1 L821 425.6 L821.7 425.2 L821.8 425.2 L822.5 424.8 L822.6 424.8 L823.4 425.3 L824.2 425.8 L825 426.3 L825 426.3 L825.8 426.3 L826.6 426.3 L826.6 426.3 L827.3 426.3 L827.4 426.3 L828.2 426.6 L829 426.8 L829.8 427 L830.6 427.3 L831.3 427.4 L831.4 427.5 L832.2 427.7 L832.8 427.9 L833 428.2 L833.8 429.6 L834.4 430.6 L834.6 431 L835.4 432.4 L836.2 433.8 L837 435.2 L837.8 436.6 L838.3 437.5 L838.6 438 L839.1 438.8 L839.4 437.5 L840.2 434.3 L841 431.1 L841.8 427.9 L842.2 426.3 L842.6 426.3 L843.4 426.3 L844.2 426.3 L845 426.3 L845.8 426.3 L846.6 426.3 L847.4 426.3 L848.2 426.3 L848.5 426.3 L849 426.8 L849.8 427.4 L850.6 428 L850.8 428.2 L851.4 428.7 L852.2 429.3 L852.4 429.5 L853 435.5 L853.2 437 L853.8 443.2 L853.9 444.5 L854.6 450.9 L854.7 452 L855.4 458.5 L856.2 466.2 L856.3 467 L857 453.5 L857.8 438.6 L858.6 423.7 L858.6 423.2 L859.4 425.1 L859.4 425.1 L860.2 427 L861 428.8 L861 428.9 L861.8 430.8 L862.5 432.6 L862.6 432.7 L863.3 434.1 L863.4 434.3 L864.2 435.9 L865 437.5 L865.7 438.8 L865.8 438.6 L866.6 437 L867.4 435.4 L868.2 433.8 L868.8 432.6 L869 432.2 L869.8 430.6 L870.4 429.5 L870.6 429.6 L871.4 430.2 L871.9 430.5 L872.2 430.7 L873 431.2 L873.5 431.5 L873.8 431.8 L874.6 432.3 L875 432.6 L875.4 432.2 L876.2 431.4 L876.6 431 L877 430.6 L877.8 429.8 L878.6 429 L879.4 428.2 L879.7 427.9 L880.2 428 L881 428.3 L881.8 428.6 L882.6 428.8 L883.4 429.1 L883.6 429.2 L884.2 429.4 L884.4 429.5 L885 435.7 L885.8 444.5 L886 446.7 L886.6 453.3 L887.4 462.1 L887.6 463.9 L888.2 458.4 L888.3 457.2 L889 451.6 L889.8 444.8 L890.6 438 L890.7 437.3 L891.4 435.5 L891.5 435.3 L892.2 433.5 L892.3 433.4 L893 431.5 L893.8 429.5 L893.8 429.5 L894.6 429.2 L895.4 428.9 L896.2 428.7 L896.9 428.4 L897 428.4 L897.8 428.1 L898.5 427.9 L898.6 428.4 L899.4 433 L900.1 436.8 L900.2 437.5 L901 442 L901.8 446.6 L902.6 451.1 L903.2 454.5 L903.4 453.1 L904.2 447.5 L905 441.9 L905.8 436.3 L906.3 432.6 L906.6 432.8 L907.4 433.4 L908.2 434.1 L909 434.7 L909.8 435.4 L910.2 435.7 L910.6 435.4 L911.4 434.7 L912.2 434 L913 433.3 L913.8 432.7 L914.6 432 L915.4 431.3 L915.7 431 L916.2 431.8 L917 433 L917.8 434.2 L918.6 435.4 L918.8 435.7 L919.4 436.3 L920.2 437.1 L921 437.9 L921.8 438.7 L922 438.8 L922.6 437.9 L923.4 436.7 L924.2 435.5 L925 434.3 L925.1 434.1 L925.8 438.7 L925.9 439.2 L926.6 443.9 L927.4 449.1 L927.4 449.4 L928.2 454.3 L928.2 454.5 L929 452.4 L929.8 450.3 L929.8 450.3 L930.6 448.1 L931.3 446.1 L931.4 446 L932.2 443.9 L932.9 442 L933 442 L933.8 442.6 L934.5 443 L934.6 443.1 L935.4 443.6 L936.2 444.2 L937 444.7 L937.6 445.1 L937.8 445.1 L938.6 445.3 L939.4 445.5 L940.2 445.6 L940.7 445.7 L941 445.8 L941.8 445.9 L942.6 446.1 L943.4 446.3 L944.2 446.4 L945 446.6 L945.4 446.7 L945.8 448.3 L946.6 451.9 L947.4 455.5 L948.2 459.1 L948.6 460.7 L949 458.9 L949.8 455.7 L950.6 452.5 L951.4 449.3 L951.7 448.2 L952.2 448.2 L953 448.2 L953.8 448.2 L954.6 448.2 L954.8 448.2 L955.4 449.2 L956.2 450.4 L957 451.7 L957.8 453 L957.9 453.2 L958.6 454.3 L958.7 454.5 L959.4 453.4 L960.2 452.1 L961 450.8 L961.8 449.5 L962.6 448.3 L962.6 448.2 L963.4 454.4 L963.4 454.5 L964.2 460.8 L965 467 L965 467.2 L965.8 473.2 L965.8 473.1 L966.6 470.3 L967.3 467.8 L967.4 467.5 L968.2 464.7 L968.9 462.3 L969 462.8 L969.7 465.4 L969.8 466 L970.6 469.2 L971.2 471.7 L971.4 472.4 L972 474.8 L972.2 475.7 L972.8 478.3 L973 479.3 L973.6 481.8 L973.8 482.9 L974.6 486.5 L975.1 488.9 L975.4 488.4 L976.2 486.8 L977 485.2 L977.8 483.6 L978.3 482.6 L978.6 479.6 L979.4 472.4 L980.2 465.2 L981 458 L981.4 454.5 L981.8 453.7 L982.6 452.1 L983.4 450.5 L984.2 448.9 L984.5 448.2 L985 452 L985.8 458.4 L986.6 464.8 L987.4 471.2 L987.7 473.2 L988.2 470 L988.4 468.6 L989 465.2 L989.8 460.4 L990.6 455.6 L990.8 454.5 L991.4 452.9 L992.2 450.9 L993 448.9 L993.8 446.9 L993.9 446.7 L994.6 446.3 L995.4 445.9 L996.2 445.5 L997 445.1 L997 445.1 L997.8 443.6 L998.6 442 L999.4 440.4 L1000.2 438.8 L1000.2 438.8 L1001 437.2 L1001.7 435.7 L1001.8 435.6 L1002.5 435 L1002.6 434.9 L1003.3 434.2 L1003.4 434.1 L1004.2 433.4 L1005 432.6 L1005 432.6 L1005.8 436.5 L1006.6 440.4 L1006.6 440.6 L1007.4 444.6 L1008.1 448.2 L1008.2 448.2 L1009 447.8 L1009.7 447.4 L1009.8 447.4 L1010.6 447 L1011.3 446.7 L1011.4 446.7 L1012.2 446.9 L1013 447.1 L1013.8 447.3 L1014.6 447.5 L1015.4 447.7 L1015.9 447.8 L1016.2 447.9 L1017 448.1 L1017.5 448.2 L1017.8 449.2 L1018.6 451.8 L1019.1 453.4 L1019.4 454.5 L1019.9 456 L1020.2 454.7 L1021 451.5 L1021.8 448.3 L1022.2 446.7 L1022.6 446.7 L1023.4 446.7 L1024.2 446.7 L1025 446.7 L1025.8 446.7 L1026.6 446.7 L1026.9 446.7 L1027.4 446.5 L1028.2 446.3 L1028.5 446.2 L1029 446.1 L1029.8 445.8 L1030.6 445.6 L1031.4 445.4 L1032.2 445.1 L1033 444.9 L1033.8 444.7 L1034.6 444.5 L1035.4 444.2 L1036.2 444 L1037 443.8 L1037.8 443.5 L1037.8 443.5 L1038.6 443.5 L1039.4 443.5 L1040.2 443.5 L1041 443.5 L1041.8 443.5 L1042.6 443.5 L1043.4 443.5 L1044.1 443.5 L1044.2 443.2 L1045 440.5 L1045.8 437.9 L1046.4 435.7 L1046.6 436.6 L1047.2 440.4 L1047.4 441.4 L1048.2 446.2 L1048.8 449.8 L1049 449.6 L1049.6 449 L1049.8 448.8 L1050.6 448 L1051.4 447.2 L1051.9 446.7 L1052.2 446.4 L1053 445.6 L1053.5 445.1 L1053.8 445.1 L1054.6 445.1 L1055.4 445.1 L1056.2 445.1 L1056.6 445.1 L1057 445.1 L1057.8 445.1 L1058.2 445.1 L1058.6 445 L1059.4 444.7 L1060.2 444.4 L1061 444.2 L1061.3 444.1 L1061.8 443.9 L1062.6 443.6 L1062.9 443.5 L1063.4 446.2 L1064.2 450.2 L1064.4 451.3 L1065 449.1 L1065.8 445.9 L1066 445.1 L1066.6 446.3 L1066.8 446.7 L1067.4 447.9 L1067.6 448.2 L1068.2 450.8 L1069 454 L1069.1 454.5 L1069.8 457.2 L1069.9 457.6 L1070.6 459.6 L1070.7 459.8 L1071.4 461.8 L1071.5 462 L1072.2 464 L1073 466.3 L1073.8 468.5 L1073.8 468.6 L1074.6 464.2 L1075.4 459.8 L1076.2 455.7 L1076.2 455.4 L1076.9 451.3 L1077 451.3 L1077.8 449.9 L1078.5 448.7 L1078.6 448.6 L1079.4 447.3 L1080.2 445.9 L1081 444.6 L1081.6 443.5 L1081.8 443.5 L1082.6 443.5 L1083.4 443.5 L1084.2 443.5 L1085 443.5 L1085.8 443.5 L1086.6 443.5 L1087.4 443.5 L1088.2 443.5 L1089 443.5 L1089.5 443.5 L1089.8 443.2 L1090.6 442.4 L1091.4 441.6 L1092.2 440.8 L1093 440 L1093.8 439.2 L1094.1 438.8 L1094.6 439.4 L1095.4 440.5 L1096.2 441.6 L1097 442.6 L1097.3 443 L1097.8 443.7 L1098.6 444.8 L1098.8 445.1 L1099.4 445.3 L1100.2 445.5 L1101 445.8 L1101.8 446.1 L1102 446.1 L1102.6 446.3 L1103.4 446.6 L1103.5 446.7 L1104.2 448 L1105 449.6 L1105.1 449.8 L1105.8 451.2 L1105.9 451.3 L1106.6 449.4 L1107.4 447.3 L1108.2 445.2 L1108.2 445.1 L1109 445.1 L1109.8 445.1 L1110.6 445.1 L1111.3 445.1 L1111.4 445.1 L1112.1 445.1 L1112.2 445.8 L1113 453.8 L1113.8 461.8 L1114.5 468.6 L1114.6 468.6 L1115.4 469.2 L1116 469.6 L1116.2 469.7 L1116.8 470.1 L1117 468.7 L1117.8 462.3 L1118.6 455.9 L1119.2 451.3 L1119.4 451 L1120.2 450 L1121 448.9 L1121.8 447.8 L1122.6 446.8 L1123.4 445.7 L1123.9 445.1 L1124.2 445.1 L1125 445.1 L1125.4 445.1 L1125.8 445.1 L1126.6 445.1 L1127 445.1 L1127.4 446.1 L1128.2 448.1 L1128.6 449 L1129 450.1 L1129.8 452.1 L1130.1 452.9 L1130.6 452.8 L1131.4 452.5 L1131.7 452.4 L1132.2 452.2 L1133 452 L1133.8 451.7 L1134.6 451.4 L1134.8 451.3 L1135.4 455.3 L1136.2 460.6 L1137 466 L1137.2 467 L1137.8 461.8 L1138.6 455.4 L1139.4 449 L1139.5 448.2 L1140.2 447.5 L1141 446.7 L1141.1 446.7 L1141.8 445.9 L1142.6 445.1 L1142.6 445.1 L1143.4 445.1 L1144.2 445.1 L1145 445.1 L1145.8 445.1 L1145.8 445.1 L1146.6 445.1 L1147.3 445.1 L1147.4 445.2 L1148.2 446.4 L1148.9 447.4 L1149 447.6 L1149.7 448.6 L1149.8 448.8 L1150.4 449.8 L1150.6 449.8 L1151.4 449.8 L1152.2 449.8 L1153 449.8 L1153.6 449.8 L1153.8 449.8 L1154.6 449.8 L1155.1 449.8 L1155.4 449.7 L1156.2 449.3 L1157 448.9 L1157.5 448.6 L1157.8 448.5 L1158.3 448.2 L1158.6 448.1 L1159.4 447.7 L1160.2 447.3 L1161 446.9 L1161.4 446.7 L1161.8 503.3 L1162.6 488.3 L1163.1 478.8 L1163.4 478.9 L1164.2 479.3 L1165 479.7 L1165.7 480.1 L1165.8 480.1 L1166.6 480.5 L1167.4 480.9 L1168.2 481.3 L1168.4 481.4 L1169 481.2 L1169.8 480.9 L1170.6 480.6 L1171 480.5 L1171.4 480.4 L1172.2 480.1 L1173 479.8 L1173.8 479.6 L1174.6 479.3 L1174.9 479.2 L1175.4 479 L1176.2 478.8 L1176.2 478.8 L1177 479.9 L1177.8 481.1 L1178.6 482.3 L1178.8 482.7 L1179.4 483.5 L1180.2 484.7 L1181 485.9 L1181.5 486.6 L1181.8 486.3 L1182.6 485.5 L1182.8 485.3 L1183.4 484.7 L1184.1 484 L1184.2 483.9 L1185 483.1 L1185.8 482.3 L1186.6 481.5 L1186.7 481.4 L1187.4 481.7 L1188 482 L1188.2 482.1 L1189 482.5 L1189.3 482.7 L1189.8 482.9 L1190.6 483.3 L1191.4 483.7 L1192 484 L1192.2 483.9 L1193 483.5 L1193.8 483.1 L1194.6 482.7 L1194.6 482.7 L1195.4 482.3 L1196.2 481.9 L1197 481.5 L1197.2 481.4 L1197.8 480.5 L1198.6 479.3 L1199.4 478.1 L1199.8 477.4 L1200.2 476.9 L1201 475.7 L1201.8 474.5 L1202.5 473.5 L1202.6 473.8 L1203.4 475.4 L1203.8 476.1 L1204.2 477 L1205 478.6 L1205.1 478.8 L1205.8 480.2 L1206.6 481.8 L1207.4 483.4 L1207.7 484 L1208.2 483.5 L1209 482.7 L1209.8 481.9 L1210.6 481.1 L1211.4 480.3 L1212.2 479.5 L1212.9 478.8 L1213 478.8 L1213.8 479.6 L1214.6 480.4 L1215.4 481.2 L1216.2 482 L1217 482.8 L1217.8 483.6 L1218.2 484 L1218.6 483.4 L1219.4 482.2 L1220.2 481 L1221 479.8 L1221.8 478.6 L1222.1 478.1 L1222.6 477.4 L1223.4 476.2 L1223.4 476.1 L1224.2 475.7 L1225 475.3 L1225.8 474.9 L1226.1 474.8 L1226.6 474.5 L1227.4 474.1 L1228.2 473.7 L1228.7 473.5 L1229 473.2 L1229.8 472.4 L1230 472.2 L1230.6 471.6 L1231.3 470.9 L1231.4 470.8 L1232.2 470 L1233 469.2 L1233.8 468.4 L1233.9 468.3 L1234.6 468.3 L1235.4 468.3 L1236.2 468.3 L1236.5 468.3 L1237 468.3 L1237.8 468.3 L1238.6 468.3 L1239.2 468.3 L1239.4 468.8 L1240.2 470.8 L1241 472.8 L1241.8 474.8 L1242.6 476.8 L1243.4 478.8 L1244.2 480.8 L1244.4 481.4 L1245 481.1 L1245.8 480.7 L1246.6 480.3 L1247.4 479.9 L1248.2 479.5 L1248.3 479.4 L1249 479.1 L1249.7 478.8 L1249.8 478.8 L1250.6 479.2 L1251 479.4 L1251.4 479.6 L1252.2 480 L1253 480.4 L1253.6 480.7 L1253.8 480.8 L1254.6 481.2 L1254.9 481.4 L1255.4 481.6 L1256.2 482 L1257 482.4 L1257.8 482.8 L1258.6 483.2 L1259.4 483.6 L1260.1 484 L1260.2 483.8 L1261 481.4 L1261.8 479 L1262.6 476.6 L1263.4 474.2 L1264.2 471.8 L1265 469.4 L1265.4 468.3 L1265.8 467.9 L1266.6 467.1 L1267.4 466.3 L1268.2 465.5 L1269 464.7 L1269.8 463.9 L1270.6 463.1 L1270.6 463 L1271.4 463.8 L1272.2 464.6 L1273 465.4 L1273.8 466.2 L1274.6 467 L1275.4 467.8 L1275.9 468.3 L1276.2 470.2 L1277 475 L1277.8 479.8 L1278.6 484.6 L1279.4 489.4 L1279.8 481.4 L1280.2 475.7 L1281 463.7 L1281.8 451.7 L1282.4 442 L1282.6 442 L1283.4 442 L1283.8 442 L1283.8 394.8 L1283.4 394.8 L1282.6 394.8 L1282.4 394.8 L1281.8 405.7 L1281 419.3 L1280.2 432.9 L1279.8 439.4 L1279.4 439.1 L1278.6 438.6 L1277.8 438.1 L1277 437.5 L1276.2 437 L1275.9 436.8 L1275.4 436.3 L1274.6 435.5 L1273.8 434.7 L1273 433.9 L1272.2 433.1 L1271.4 432.3 L1270.6 431.5 L1270.6 431.6 L1269.8 432.8 L1269 434 L1268.2 435.2 L1267.4 436.4 L1266.6 437.6 L1265.8 438.8 L1265.4 439.4 L1265 439.4 L1264.2 439.4 L1263.4 439.4 L1262.6 439.4 L1261.8 439.4 L1261 439.4 L1260.2 439.4 L1260.1 439.4 L1259.4 437.9 L1258.6 436.3 L1257.8 434.7 L1257 433.1 L1256.2 431.5 L1255.4 429.9 L1254.9 428.9 L1254.6 428.3 L1253.8 426.7 L1253.6 426.3 L1253 427.9 L1252.2 430 L1251.4 432.1 L1251 433.3 L1250.6 434.3 L1249.8 436.4 L1249.7 436.8 L1249 435.1 L1248.3 433.5 L1248.2 433.1 L1247.4 431.1 L1246.6 429.1 L1245.8 427.1 L1245 425.1 L1244.4 423.7 L1244.2 423.4 L1243.4 422.2 L1242.6 421 L1241.8 419.8 L1241 418.6 L1240.2 417.4 L1239.4 416.2 L1239.2 415.8 L1238.6 417.5 L1237.8 419.9 L1237 422.3 L1236.5 423.7 L1236.2 423.2 L1235.4 422 L1234.6 420.8 L1233.9 419.7 L1233.8 419.6 L1233 418.4 L1232.2 417.2 L1231.4 416 L1231.3 415.8 L1230.6 420 L1230 423.7 L1229.8 424.8 L1229 429.6 L1228.7 431.5 L1228.2 435.4 L1227.4 441.8 L1226.6 448.2 L1226.1 452.5 L1225.8 449.7 L1225 440.9 L1224.2 432.1 L1223.4 423.7 L1223.4 423.7 L1222.6 424.5 L1222.1 425 L1221.8 425.3 L1221 426.1 L1220.2 426.9 L1219.4 427.7 L1218.6 428.5 L1218.2 428.9 L1217.8 428.7 L1217 428.3 L1216.2 427.9 L1215.4 427.5 L1214.6 427.1 L1213.8 426.7 L1213 426.3 L1212.9 426.3 L1212.2 427.4 L1211.4 428.6 L1210.6 429.8 L1209.8 431 L1209 432.2 L1208.2 433.4 L1207.7 434.2 L1207.4 433.6 L1206.6 432 L1205.8 430.4 L1205.1 428.9 L1205 428.8 L1204.2 427.2 L1203.8 426.3 L1203.4 425.6 L1202.6 424 L1202.5 423.7 L1201.8 424.5 L1201 425.6 L1200.2 426.7 L1199.8 427.2 L1199.4 427.7 L1198.6 428.8 L1197.8 429.9 L1197.2 430.7 L1197 430.9 L1196.2 432 L1195.4 433.1 L1194.6 434.1 L1194.6 434.2 L1193.8 433.8 L1193 433.4 L1192.2 433 L1192 432.9 L1191.4 432.6 L1190.6 432.2 L1189.8 431.8 L1189.3 431.5 L1189 432.5 L1188.2 434.7 L1188 435.2 L1187.4 437 L1186.7 438.9 L1186.6 439.2 L1185.8 441.5 L1185 443.7 L1184.2 445.9 L1184.1 446.2 L1183.4 448.2 L1182.8 449.9 L1182.6 449.4 L1181.8 447.2 L1181.5 446.2 L1181 444.9 L1180.2 442.7 L1179.4 440.4 L1178.8 438.9 L1178.6 438.2 L1177.8 436 L1177 433.7 L1176.2 431.5 L1176.2 431.5 L1175.4 431.1 L1174.9 430.9 L1174.6 430.7 L1173.8 430.3 L1173 429.9 L1172.2 429.5 L1171.4 429.1 L1171 428.9 L1170.6 428.8 L1169.8 428.5 L1169 428.3 L1168.4 428 L1168.2 428 L1167.4 427.7 L1166.6 427.5 L1165.8 427.2 L1165.7 427.2 L1165 426.9 L1164.2 426.7 L1163.4 426.4 L1163.1 426.3 L1162.6 417.4 L1161.8 403.6 L1161.4 396.6 L1161 397.6 L1160.2 399.5 L1159.4 401.4 L1158.6 403.3 L1158.3 404.1 L1157.8 405.2 L1157.5 406 L1157 404.4 L1156.2 401.7 L1155.4 399 L1155.1 398.2 L1154.6 398.2 L1153.8 398.2 L1153.6 398.2 L1153 398.2 L1152.2 398.2 L1151.4 398.2 L1150.6 398.2 L1150.4 398.2 L1149.8 397.2 L1149.7 397 L1149 396 L1148.9 395.8 L1148.2 394.8 L1147.4 393.6 L1147.3 393.5 L1146.6 393.5 L1145.8 393.5 L1145.8 393.5 L1145 393.5 L1144.2 393.5 L1143.4 393.5 L1142.6 393.5 L1142.6 393.5 L1141.8 393.9 L1141.1 394.3 L1141 394.3 L1140.2 394.7 L1139.5 395 L1139.4 397.6 L1138.6 417.9 L1137.8 438.1 L1137.2 454.5 L1137 451 L1136.2 432.8 L1135.4 414.7 L1134.8 401.3 L1134.6 401.3 L1133.8 401.3 L1133 401.3 L1132.2 401.3 L1131.7 401.3 L1131.4 401.3 L1130.6 401.3 L1130.1 401.3 L1129.8 400.7 L1129 399.1 L1128.6 398.2 L1128.2 397.5 L1127.4 395.9 L1127 395 L1126.6 394.9 L1125.8 394.5 L1125.4 394.3 L1125 394.1 L1124.2 393.7 L1123.9 393.5 L1123.4 394.3 L1122.6 395.6 L1121.8 396.9 L1121 398.3 L1120.2 399.6 L1119.4 400.9 L1119.2 401.3 L1118.6 418 L1117.8 441.5 L1117 464.9 L1116.8 470.1 L1116.2 461.8 L1116 459.7 L1115.4 451.1 L1114.6 440.5 L1114.5 438.8 L1113.8 426.2 L1113 411.3 L1112.2 396.3 L1112.1 395 L1111.4 395.6 L1111.3 395.7 L1110.6 396.3 L1109.8 396.9 L1109 397.6 L1108.2 398.2 L1108.2 398.3 L1107.4 404.2 L1106.6 410.1 L1105.9 415.4 L1105.8 414.8 L1105.1 409.6 L1105 409 L1104.2 403.1 L1103.5 398.2 L1103.4 398.2 L1102.6 398.2 L1102 398.2 L1101.8 398.2 L1101 398.2 L1100.2 398.2 L1099.4 398.2 L1098.8 398.2 L1098.6 398 L1097.8 397.5 L1097.3 397.1 L1097 396.9 L1096.2 396.4 L1095.4 395.9 L1094.6 395.3 L1094.1 395 L1093.8 395.3 L1093 395.8 L1092.2 396.3 L1091.4 396.9 L1090.6 397.4 L1089.8 397.9 L1089.5 398.2 L1089 398.2 L1088.2 398.2 L1087.4 398.2 L1086.6 398.2 L1085.8 398.2 L1085 398.2 L1084.2 398.2 L1083.4 398.2 L1082.6 398.2 L1081.8 398.2 L1081.6 398.2 L1081 399 L1080.2 400.1 L1079.4 401.2 L1078.6 402.2 L1078.5 402.3 L1077.8 403.3 L1077 404.4 L1076.9 404.4 L1076.2 419.3 L1076.2 420.1 L1075.4 435.3 L1074.6 451.3 L1073.8 467 L1073.8 466.7 L1073 449.1 L1072.2 431.5 L1071.5 415.4 L1071.4 416.3 L1070.7 426.3 L1070.6 427.5 L1069.9 437.3 L1069.8 436.1 L1069.1 428.4 L1069 427 L1068.2 418 L1067.6 410.7 L1067.4 409.7 L1066.8 406 L1066.6 404.9 L1066 401.3 L1065.8 402.7 L1065 408.3 L1064.4 412.3 L1064.2 410.4 L1063.4 404 L1062.9 399.7 L1062.6 399.6 L1061.8 399.4 L1061.3 399.2 L1061 399.1 L1060.2 398.8 L1059.4 398.6 L1058.6 398.3 L1058.2 398.2 L1057.8 397.9 L1057 397.4 L1056.6 397.1 L1056.2 396.9 L1055.4 396.3 L1054.6 395.8 L1053.8 395.3 L1053.5 395 L1053 395.7 L1052.2 396.8 L1051.9 397.1 L1051.4 397.8 L1050.6 398.9 L1049.8 400 L1049.6 400.3 L1049 401 L1048.8 401.3 L1048.2 411.5 L1047.4 425.4 L1047.2 428.4 L1046.6 436.6 L1046.4 435.7 L1045.8 428.6 L1045 412.1 L1044.2 395.6 L1044.1 393.5 L1043.4 393.4 L1042.6 393.3 L1041.8 393.2 L1041 393.1 L1040.2 393 L1039.4 392.9 L1038.6 392.8 L1037.8 392.7 L1037.8 392.7 L1037 392.9 L1036.2 393.1 L1035.4 393.2 L1034.6 393.4 L1033.8 393.6 L1033 393.7 L1032.2 393.9 L1031.4 394.1 L1030.6 394.3 L1029.8 394.4 L1029 394.6 L1028.5 394.7 L1028.2 394.8 L1027.4 394.9 L1026.9 395 L1026.6 395 L1025.8 395 L1025 395 L1024.2 395 L1023.4 395 L1022.6 395 L1022.2 395 L1021.8 397.2 L1021 401.5 L1020.2 405.7 L1019.9 407.6 L1019.4 405.4 L1019.1 403.9 L1018.6 401.7 L1017.8 398 L1017.5 396.6 L1017 396.4 L1016.2 396.1 L1015.9 396 L1015.4 395.8 L1014.6 395.5 L1013.8 395.2 L1013 394.9 L1012.2 394.6 L1011.4 394.3 L1011.3 394.3 L1010.6 393.2 L1009.8 391.9 L1009.7 391.7 L1009 390.6 L1008.2 389.3 L1008.1 389.2 L1007.4 388 L1006.6 386.7 L1006.6 386.6 L1005.8 385.4 L1005 384.1 L1005 384.1 L1004.2 384.1 L1003.4 384.1 L1003.3 384.1 L1002.6 384.1 L1002.5 384.1 L1001.8 384.1 L1001.7 384.1 L1001 385.6 L1000.2 387.2 L1000.2 387.2 L999.4 388.8 L998.6 390.4 L997.8 392 L997 393.5 L997 393.6 L996.2 397.2 L995.4 400.8 L994.6 404.4 L993.9 407.6 L993.8 407.7 L993 408.5 L992.2 409.3 L991.4 410.1 L990.8 410.7 L990.6 412.9 L989.8 422.5 L989 432.1 L988.4 438.8 L988.2 441.7 L987.7 448.2 L987.4 444.1 L986.6 430.9 L985.8 417.7 L985 404.5 L984.5 396.6 L984.2 398.6 L983.4 403.4 L982.6 408.2 L981.8 413 L981.4 415.4 L981 418.4 L980.2 424.4 L979.4 430.4 L978.6 436.4 L978.3 438.8 L977.8 441.2 L977 445.2 L976.2 449.2 L975.4 453.2 L975.1 454.5 L974.6 451.8 L973.8 447.8 L973.6 446.7 L973 443.8 L972.8 442.7 L972.2 439.8 L972 438.8 L971.4 434.2 L971.2 433 L970.6 428.2 L969.8 422.2 L969.7 421.2 L969 416.2 L968.9 415.4 L968.2 419.8 L967.4 425 L967.3 425.5 L966.6 430.2 L965.8 435.4 L965.8 435.7 L965 426.2 L965 425.9 L964.2 416.2 L963.4 406.4 L963.4 406.2 L962.6 396.6 L962.6 396.7 L961.8 400.3 L961 403.8 L960.2 407.3 L959.4 410.8 L958.7 413.8 L958.6 413.4 L957.9 411.3 L957.8 410.9 L957 408.3 L956.2 405.8 L955.4 403.2 L954.8 401.3 L954.6 400.9 L953.8 399.3 L953 397.7 L952.2 396.1 L951.7 395 L951.4 397.6 L950.6 404.8 L949.8 412 L949 419.2 L948.6 423.2 L948.2 420 L947.4 412.8 L946.6 405.6 L945.8 398.4 L945.4 395 L945 395 L944.2 395 L943.4 395 L942.6 395 L941.8 395 L941 395 L940.7 395 L940.2 395 L939.4 395 L938.6 395 L937.8 395 L937.6 395 L937 394.6 L936.2 394.1 L935.4 393.6 L934.6 393 L934.5 393 L933.8 392.5 L933 392 L932.9 391.9 L932.2 396.6 L931.4 401.8 L931.3 402.1 L930.6 407 L929.8 412.2 L929.8 412.3 L929 411.7 L928.2 411.2 L928.2 411.2 L927.4 410.7 L927.4 410.4 L926.6 404 L925.9 398.2 L925.8 397.6 L925.1 391.9 L925 393.1 L924.2 403.1 L923.4 413.1 L922.6 423.1 L922 431 L921.8 429.8 L921 423.8 L920.2 417.8 L919.4 411.8 L918.8 407.6 L918.6 405.7 L917.8 399.3 L917 392.9 L916.2 386.5 L915.7 382.5 L915.4 382.7 L914.6 383.2 L913.8 383.6 L913 384.1 L912.2 384.5 L911.4 385 L910.6 385.5 L910.2 385.7 L909.8 385.8 L909 386.2 L908.2 386.5 L907.4 386.8 L906.6 387.1 L906.3 387.2 L905.8 393.3 L905 402.5 L904.2 411.7 L903.4 420.9 L903.2 423.2 L902.6 416.9 L901.8 408.5 L901 400.1 L900.2 391.7 L900.1 390.4 L899.4 388.7 L898.6 386.7 L898.5 386.4 L897.8 384.7 L897 382.7 L896.9 382.5 L896.2 384.4 L895.4 386.4 L894.6 388.4 L893.8 390.4 L893.8 390.4 L893 394 L892.3 397.4 L892.2 397.6 L891.5 400.9 L891.4 401.2 L890.7 404.4 L890.6 405.4 L889.8 414.5 L889 423.5 L888.3 431 L888.2 429.4 L887.6 422.2 L887.4 420.4 L886.6 411.3 L886 404.4 L885.8 402.7 L885 395.8 L884.4 390.9 L884.2 388.9 L883.6 384.1 L883.4 384 L882.6 383.7 L881.8 383.4 L881 383 L880.2 382.7 L879.7 382.5 L879.4 383 L878.6 384.1 L877.8 385.1 L877 386.2 L876.6 386.7 L876.2 387.3 L875.4 388.3 L875 388.8 L874.6 388.2 L873.8 387.1 L873.5 386.7 L873 386.1 L872.2 385 L871.9 384.6 L871.4 383.9 L870.6 382.9 L870.4 382.5 L869.8 383.3 L869 384.3 L868.8 384.6 L868.2 385.4 L867.4 386.5 L866.6 387.5 L865.8 388.6 L865.7 388.8 L865 387.7 L864.2 386.4 L863.4 385 L863.3 384.9 L862.6 383.7 L862.5 383.6 L861.8 382.4 L861 381 L861 381 L860.2 389.7 L859.4 398.7 L859.4 398.8 L858.6 407.6 L858.6 407.8 L857.8 414.7 L857 421.6 L856.3 427.9 L856.2 427.3 L855.4 420.9 L854.7 415.4 L854.6 414.3 L853.9 408.1 L853.8 406.8 L853.2 400.8 L853 399.4 L852.4 393.5 L852.2 393.1 L851.4 391.2 L850.8 389.7 L850.6 389.2 L849.8 387.3 L849 385.4 L848.5 384.1 L848.2 384.1 L847.4 384.1 L846.6 384.1 L845.8 384.1 L845 384.1 L844.2 384.1 L843.4 384.1 L842.6 384.1 L842.2 384.1 L841.8 385.7 L841 388.9 L840.2 392.1 L839.4 395.3 L839.1 396.6 L838.6 395.7 L838.3 395 L837.8 394.1 L837 392.5 L836.2 390.9 L835.4 389.3 L834.6 387.7 L834.4 387.2 L833.8 386.1 L833 384.5 L832.8 384.1 L832.2 384.3 L831.4 384.5 L831.3 384.5 L830.6 384.7 L829.8 385 L829 385.2 L828.2 385.4 L827.4 385.6 L827.3 385.7 L826.6 384.7 L826.6 384.6 L825.8 383.6 L825 382.5 L825 382.5 L824.2 382 L823.4 381.5 L822.6 381 L822.5 381 L821.8 381 L821.7 381 L821 381 L820.2 381 L819.4 381 L818.6 381 L817.8 381 L817 381 L817 381 L816.2 381.4 L815.5 381.8 L815.4 381.8 L814.7 382.1 L814.6 382.2 L813.9 382.5 L813.8 383 L813 386.5 L812.2 389.9 L811.4 393.4 L810.8 396.1 L810.6 396.9 L809.8 400.3 L809.2 402.9 L809 402.8 L808.2 402.4 L807.4 402 L806.6 401.6 L806.1 401.3 L805.8 400.7 L805 399.1 L804.2 397.5 L803.4 395.9 L803 395 L802.6 394.3 L801.8 392.7 L801.4 391.9 L801 392.2 L800.2 392.7 L799.4 393.3 L799.1 393.5 L798.6 393.9 L797.8 394.7 L797.5 395 L797 395.5 L796.2 396.3 L795.9 396.6 L795.4 411.9 L795.1 419.5 L794.6 435.4 L793.8 458.9 L793.6 465.4 L793 453.9 L792.8 449.8 L792.2 437.9 L791.4 421.9 L791.2 418.5 L790.6 416.4 L790.4 415.9 L789.8 413.7 L789.7 413.3 L789 411.1 L788.9 410.7 L788.2 404.8 L787.4 397.8 L786.6 390.9 L786.5 390.4 L785.8 390.6 L785.8 390.6 L785 390.8 L784.2 391 L783.4 391.3 L782.6 391.5 L782.6 391.5 L781.8 391.7 L781.1 391.9 L781 392 L780.2 393.2 L779.4 394.4 L778.6 395.6 L777.9 396.6 L777.8 396.4 L777 395.2 L776.2 394 L775.4 392.8 L774.8 391.9 L774.6 391.9 L773.8 391.9 L773.2 391.9 L773 391.9 L772.2 391.9 L771.4 391.9 L770.6 391.9 L770.1 391.9 L769.8 391.9 L769 391.9 L768.6 391.9 L768.2 392 L767.4 392.2 L766.6 392.4 L765.8 392.5 L765.4 392.6 L765 392.7 L764.2 392.9 L763.9 393 L763.4 393.1 L762.6 393.2 L761.8 393.4 L761.5 393.5 L761 394 L760.7 394.3 L760.2 394.8 L759.4 395.6 L758.6 396.4 L758.4 396.6 L757.8 412.6 L757.6 417.8 L757.3 426.3 L757 448.5 L756.8 451.3 L756.2 451.3 L755.4 451.3 L754.6 451.3 L753.8 451.3 L753 451.3 L752.2 451.3 L751.4 451.3 L750.6 451.3 L749.8 451.3 L749 451.3 L748.2 451.3 L747.4 451.3 L746.6 451.3 L745.8 451.3 L745 451.3 L744.2 451.3 L743.8 451.3 L743.4 448.2 L742.6 442.6 L741.8 436.9 L741.2 432.6 L741 431.6 L740.2 427.3 L739.4 423.1 L738.8 420.1 L738.6 420.4 L737.8 421.5 L737 422.5 L736.5 423.2 L736.2 422.2 L735.7 420.6 L735.4 419.6 L734.6 416.9 L734.1 415.4 L733.8 415.3 L733 415.2 L732.6 415.1 L732.2 415.1 L731.8 415 L731.4 415 L730.6 414.8 L729.8 414.7 L729.5 414.7 L729 414.6 L728.2 414.5 L727.9 414.4 L727.4 414.3 L726.6 414.2 L726.3 414.2 L725.8 414.1 L725 414 L724.8 413.9 L724.2 413.8 L724 413.8 L723.7 413.8 L723.4 407.6 L723.2 403 L722.6 389.1 L722.4 384.9 L721.8 387.2 L721.6 387.8 L721 390.2 L720.2 393.2 L720.1 393.7 L719.4 396.2 L719.3 396.6 L718.6 399.8 L718.5 400.3 L717.8 403.6 L717 407.3 L716.9 407.6 L716.2 400.6 L716.2 400.3 L715.4 393.2 L714.6 385.7 L714.6 385.7 L713.8 385.7 L713.8 385.7 L713 385.7 L712.2 385.7 L711.4 385.7 L710.6 385.7 L709.8 385.7 L709 385.7 L708.2 385.7 L707.6 385.7 L707.4 385.7 L706.6 386.1 L705.8 386.5 L705 386.9 L704.2 387.3 L703.4 387.7 L702.6 388.1 L701.8 388.5 L701.3 388.8 L701 389.2 L700.2 390.4 L699.4 391.6 L698.6 392.8 L698.2 393.5 L697.8 392.9 L697 391.7 L696.2 390.5 L695.4 389.3 L695 388.8 L694.6 388.1 L694.3 387.6 L693.8 386.9 L693 385.7 L692.2 384.5 L691.9 384.1 L691.4 384.1 L690.6 384.1 L689.8 384.1 L689 384.1 L688.2 384.1 L687.4 384.1 L686.6 384.1 L686.4 384.1 L685.8 384.4 L685.7 384.5 L685 384.8 L684.2 385.2 L683.4 385.6 L683.3 385.7 L682.6 395 L682.5 395.8 L681.8 405.4 L681 415.8 L681 416.2 L680.2 426.2 L680.2 426.3 L679.4 426.3 L679.4 426.3 L678.6 426.3 L678.6 426.3 L677.8 426.3 L677.8 426.3 L677.1 426.3 L677 426.3 L676.3 425.5 L676.2 425.5 L675.5 424.8 L675.4 424.7 L674.6 423.9 L673.9 423.2 L673.8 421.7 L673.2 414.2 L673 412.5 L672.2 403.3 L671.4 394.1 L670.8 387.2 L670.6 387.2 L669.8 387 L669 386.8 L668.2 386.6 L667.4 386.5 L666.6 386.3 L665.8 386.1 L665 385.9 L664.2 385.8 L663.8 385.7 L663.4 386.4 L662.6 388 L661.8 389.6 L661 391.2 L660.6 391.9 L660.2 391.6 L659.4 390.9 L658.6 390.3 L657.8 389.6 L657.5 389.4 L657 389 L656.7 388.8 L656.2 388.7 L655.4 388.5 L654.6 388.3 L654.4 388.2 L653.8 388.1 L653 387.9 L652.2 387.7 L651.4 387.5 L651.3 387.4 L650.6 387.3 L650.5 387.2 L649.8 388.9 L649 390.9 L648.2 392.9 L647.4 394.9 L647.3 395 L646.6 394 L645.8 393 L645 391.9 L645 391.9 L644.2 388.6 L643.4 385.3 L643.3 384.9 L642.6 385.1 L641.8 385.3 L641 385.6 L640.2 385.8 L639.4 386 L638.6 386.3 L637.8 386.5 L637 386.8 L637 386.8 L636.3 387 L636.2 387 L635.5 387.2 L635.4 387.8 L634.6 393.8 L633.9 399 L633.8 399.8 L633 405.8 L632.3 410.7 L632.2 409.6 L631.6 404.8 L631.4 403.6 L630.6 397.6 L629.8 391.6 L629.2 387.2 L629 390.8 L628.4 400.3 L628.2 404.2 L627.7 413.3 L627.4 417.5 L626.9 426.3 L626.6 425.6 L626.1 424.2 L625.8 423.5 L625.3 422.2 L625 421.3 L624.5 420.1 L624.2 416.6 L623.7 411.7 L623.4 408.1 L623 403.4 L622.6 399.5 L622.2 395 L621.8 400.1 L621.4 405.5 L621 410.8 L620.6 415.9 L620.2 421.4 L619.8 426.3 L619.4 425 L619.1 424 L618.6 422.6 L617.8 420.2 L617.5 419.3 L617 417.8 L616.7 416.9 L616.2 411.6 L615.4 403 L615.1 400.3 L614.6 394.5 L614.4 391.9 L613.8 398.3 L613 407.5 L612.8 409.9 L612.2 416.7 L612 418.9 L611.4 425.9 L611.2 427.9 L610.6 424.5 L609.8 420.3 L609.7 419.5 L609 416 L608.9 415.4 L608.2 411.3 L608.1 410.7 L607.4 406.5 L607.3 406 L606.6 401.7 L606.5 401.3 L605.8 408.4 L605.8 408.8 L605 416.1 L605 416.3 L604.2 423.8 L604.2 423.8 L603.4 431.4 L602.6 438.8 L602.6 438.4 L601.8 425.8 L601.8 425 L601.1 412.8 L601 411.7 L600.2 398.4 L599.8 391.9 L599.5 394.5 L599.4 395.4 L598.6 402 L597.9 407.6 L597.8 409.2 L597.2 416.9 L597 418.8 L596.2 428.4 L595.6 435.7 L595.4 434.9 L594.8 432.6 L594.6 431.7 L594 429.5 L593.8 428.5 L593.2 426.3 L593 422.7 L592.5 414.9 L592.2 411 L591.7 403.4 L591.4 399.3 L590.9 391.9 L590.6 394.3 L590.1 398.2 L589.8 400.7 L589 407.1 L588.6 410.7 L588.2 416.3 L587.4 429.1 L586.6 441.9 L586.2 448.2 L585.8 440.6 L585 425.7 L584.2 410.8 L583.9 404.4 L583.4 401.2 L582.6 395.6 L581.8 390 L581.5 388 L581 387.9 L580.7 387.9 L580.2 387.7 L579.4 387.6 L578.6 387.4 L577.8 387.3 L577.6 387.2 L577 388.1 L576.2 389.3 L576 389.6 L575.4 390.5 L574.6 391.7 L574.5 391.9 L573.8 394.6 L573 397.8 L572.9 398.2 L572.2 401 L571.4 404.2 L571.3 404.4 L570.6 405.2 L569.8 406 L569 406.8 L568.2 407.6 L568.2 407.4 L567.4 403 L566.6 398.6 L565.8 394.2 L565.1 390.4 L565 390.7 L564.3 393.5 L564.2 393.9 L563.5 396.6 L563.4 397.1 L562.7 399.7 L562.6 401.8 L561.8 412.6 L561.2 421 L561 423.5 L560.4 431.6 L560.2 434.4 L559.4 445.3 L558.8 452.9 L558.6 451.4 L557.8 446.2 L557.3 442.7 L557 441 L556.5 437.7 L556.2 435.8 L555.7 432.6 L555.4 429.8 L554.9 425.5 L554.6 422.6 L553.8 415.4 L553.4 411.5 L553 408.2 L552.6 404.4 L552.2 402.4 L551.4 398.1 L550.6 393.9 L550.2 391.9 L549.8 395.1 L549.5 397.7 L549 401 L548.2 406.9 L547.9 409.1 L547.4 412.7 L546.6 418.6 L546.3 420.6 L545.8 424.5 L545.5 426.3 L545 423.1 L544.2 418.3 L543.4 413.5 L543.2 412.3 L542.6 408.7 L542.4 407.6 L541.8 404.5 L541.6 403.6 L541 400.5 L540.2 396.5 L540.1 395.8 L539.4 392.5 L539.3 391.9 L538.6 402 L537.8 413.7 L537 425.5 L536.9 426.3 L536.2 425.3 L536.2 425.3 L535.4 424.3 L534.6 423.2 L534.6 423.2 L533.8 419.4 L533.8 419.4 L533 415.5 L532.2 411.7 L531.4 407.9 L530.7 404.4 L530.6 404.4 L529.8 404 L529 403.6 L528.2 403.2 L527.6 402.9 L527.4 404.5 L526.6 412.5 L525.8 420.5 L525 428.5 L524.4 434.1 L524.2 431.5 L523.4 422.5 L522.6 413.4 L522.1 407.6 L521.8 405.7 L521.3 402.3 L521 400.3 L520.2 395 L519.7 391.9 L519.4 396.2 L518.6 406.2 L518.2 411.5 L517.8 416.2 L517 426.2 L516.6 431 L516.2 426.1 L515.4 416.5 L515 412.3 L514.6 406.9 L514.3 402.9 L513.8 403.8 L513 405.4 L512.7 406 L512.2 407 L511.9 407.6 L511.4 415.9 L511.1 420.1 L510.6 428.7 L509.8 441.5 L509.6 445.1 L509 437.8 L508.8 435.2 L508.2 427.7 L507.4 417.6 L507.2 415.4 L506.6 408.3 L506.4 406.5 L505.8 399.2 L505.7 397.7 L505 390.1 L504.9 388.8 L504.2 388.5 L504.1 388.4 L503.4 388.1 L502.6 387.7 L502.5 387.6 L501.8 387.3 L501.8 387.2 L501 394 L501 394.3 L500.2 401.2 L499.4 408.3 L499.4 408.4 L498.6 415.4 L498.6 415.7 L497.8 425.8 L497 436 L496.3 445.1 L496.2 444.8 L495.4 441.6 L494.6 438.4 L493.9 435.7 L493.8 433.3 L493.2 421.6 L493 418.9 L492.4 407.6 L492.2 410.4 L491.6 420.6 L491.4 423.7 L490.6 437 L490 446.7 L489.8 445.5 L489.2 442.7 L489 441.5 L488.5 438.8 L488.2 435.7 L487.7 429.5 L487.4 428.7 L486.9 427.4 L486.6 426.6 L485.8 424.4 L485.3 423.2 L485 422 L484.2 419.2 L483.8 417.7 L483.4 416.4 L482.6 413.6 L482.2 412.3 L481.8 408.3 L481 400.6 L480.6 397.1 L480.2 392.9 L479.9 389.6 L479.4 389.5 L478.6 389.4 L477.8 389.3 L477 389.2 L476.2 389.1 L475.4 389 L474.6 388.9 L474.4 388.9 L473.8 388.8 L473.6 388.8 L473 390.8 L472.2 393.5 L471.4 396.1 L471.3 396.6 L470.6 406.8 L469.8 419.2 L469 431.6 L468.2 444 L468.1 445.1 L467.4 431.3 L466.6 416.1 L466.6 415.4 L465.8 407.7 L465 399.7 L465 399.9 L464.2 407.4 L463.4 414.9 L463.3 415.9 L462.6 422.4 L462.5 423.2 L461.8 434.1 L461 446.4 L460.9 447.2 L460.2 458.6 L460.2 459.2 L459.4 445 L458.6 430.2 L458.6 430.2 L457.8 415.4 L457 401.3 L457 401.2 L456.3 399.7 L456.2 399.6 L455.4 398 L454.7 396.6 L454.6 396.9 L453.9 398.8 L453.8 399.1 L453.1 401 L453 401.3 L452.2 403.6 L451.4 405.8 L450.8 407.6 L450.6 408.8 L449.8 414.4 L449 420 L448.4 424 L448.2 425.6 L447.7 429.5 L447.4 425.9 L446.6 414.7 L446.1 407.6 L445.8 403.5 L445.3 396.6 L445 397.4 L444.2 399.6 L443.4 401.7 L443 402.9 L442.6 404.1 L441.8 406.7 L441 409.4 L440.6 410.7 L440.2 409.2 L439.8 407.9 L439.4 406.4 L438.6 403.6 L437.8 400.8 L437.5 399.7 L437 400.7 L436.2 402.3 L435.4 403.9 L435.1 404.4 L434.6 401.7 L433.8 397.7 L433 393.7 L432.2 389.7 L432 388.8 L431.4 389.4 L430.6 390.2 L430.4 390.4 L429.8 391 L429 391.8 L428.9 391.9 L428.2 390.5 L427.4 388.9 L426.6 387.3 L426.5 387.2 L425.8 387.5 L425.8 387.5 L425 387.8 L424.2 388.2 L423.4 388.5 L422.6 388.8 L422.6 388.8 L421.8 389.6 L421 390.4 L420.2 391.2 L419.5 391.9 L419.4 392.2 L418.6 394.4 L417.9 396.3 L417.8 396.7 L417 398.9 L416.4 400.7 L416.2 401.2 L415.6 402.9 L415.4 402.5 L414.6 400.9 L413.8 399.3 L413.2 398.2 L413 397.6 L412.2 395.7 L411.4 393.7 L410.6 391.8 L410.1 390.7 L409.8 389.9 L409.3 388.8 L409 389.9 L408.6 391.3 L408.2 392.4 L407.4 395 L407 396.3 L406.6 397.5 L405.8 400.1 L405.4 401.3 L405 400.3 L404.2 398.4 L403.9 397.5 L403.4 396.4 L402.6 394.5 L401.8 392.6 L401.5 391.9 L401 392.3 L400.7 392.4 L400.2 392.8 L399.4 393.3 L399.2 393.5 L398.6 393.8 L397.8 394.2 L397.6 394.3 L397 394.6 L396.2 395 L396 395 L395.4 396.1 L394.6 397.4 L394.5 397.5 L393.8 398.6 L393 399.9 L392.2 401.2 L392.1 401.3 L391.4 412 L391.3 412.8 L390.6 423.8 L389.8 435.5 L389.8 435.7 L389 443 L388.2 450.3 L388.2 450.5 L387.4 454.9 L387.4 455.1 L386.7 454 L386.6 453.7 L385.8 450 L385.1 446.7 L385 445.3 L384.2 433.3 L383.4 421.3 L382.6 409.3 L382 399.7 L381.8 399.1 L381 395.9 L380.2 392.7 L379.6 390.4 L379.4 391.2 L378.8 393.5 L378.6 394.4 L377.8 397.6 L377.3 399.7 L377 400.8 L376.2 404 L375.7 406 L375.4 409.3 L374.6 417.8 L374.1 422.7 L373.8 426.4 L373.4 431 L373 436.1 L372.6 442 L372.2 447.3 L371.4 458.5 L371.3 459.5 L371 463.9 L370.6 457.4 L370.2 451.7 L369.8 445 L369 432.6 L368.2 420.2 L367.9 415.4 L367.4 410.8 L366.6 403.3 L366.3 400.8 L365.8 395.9 L365.5 393.5 L365 395.7 L364.2 398.9 L363.4 402.1 L363.2 402.9 L362.6 405.3 L362.4 406 L361.8 402.3 L361 397.5 L360.9 396.6 L360.2 392.7 L360.1 391.9 L359.4 392.9 L358.6 394.1 L358.5 394.3 L357.8 395.3 L357 396.5 L356.9 396.6 L356.2 406.6 L355.4 417.4 L355.4 417.7 L354.6 428.2 L354.6 428.3 L353.8 438.8 L353.8 438.9 L353 443.2 L352.3 447.2 L352.2 447.4 L351.5 451.3 L351.4 450.1 L350.6 435.1 L349.9 422.2 L349.8 420.2 L349.1 407.6 L349 406 L348.2 395.6 L347.6 387.2 L347.4 387.2 L346.6 387.2 L345.8 387.2 L345 387.2 L344.2 387.2 L343.4 387.2 L342.9 387.2 L342.6 388.6 L341.8 392.8 L341 396.9 L340.2 401.1 L339.7 403.5 L339.4 405.3 L339 407.6 L338.6 412.6 L337.8 423.8 L337 435 L336.6 440.4 L336.2 440 L335.4 439.2 L335 438.8 L334.6 439.3 L333.8 440.1 L333.5 440.4 L333 440.9 L332.2 441.7 L331.9 442 L331.4 436.3 L331.1 433.4 L330.6 427.5 L329.8 418.7 L329.6 416.2 L329 409.9 L328.8 407.6 L328.2 402 L327.4 394.6 L327.2 393 L326.6 387.1 L326.4 385.7 L325.8 385.8 L325 386.1 L324.2 386.3 L323.4 386.5 L322.6 386.8 L322.5 386.8 L321.8 387 L321 387.2 L321 387.2 L320.2 391.9 L319.4 396.6 L319.4 396.7 L318.6 401.5 L317.8 406 L317.8 406.3 L317 411.1 L316.3 415.4 L316.2 416.1 L315.4 422.9 L314.7 428.7 L314.6 429.7 L313.8 436.5 L313.2 442 L313 442.1 L312.4 442.5 L312.2 442.6 L311.4 443.1 L310.8 443.5 L310.6 443.1 L310 442 L309.8 441.5 L309 439.9 L308.5 438.8 L308.2 436.8 L307.4 430.4 L306.9 426.3 L306.6 422.9 L305.8 413.7 L305 404.5 L304.2 395.3 L303.8 390.4 L303.4 391.5 L302.6 394.1 L302.2 395.4 L301.8 396.7 L301 399.2 L300.2 401.8 L299.9 402.9 L299.4 403 L298.6 403.1 L297.8 403.3 L297 403.5 L296.2 403.7 L295.4 403.9 L294.6 404 L293.8 404.2 L293 404.4 L292.8 404.4 L292.2 403.5 L291.4 402.2 L290.6 401 L289.8 399.7 L289 398.5 L288.2 397.2 L288 396.9 L287.4 396.9 L286.6 396.9 L285.8 396.9 L285 396.9 L284.2 396.9 L283.4 396.9 L282.6 396.9 L282.4 396.9 L281.8 400.8 L281.6 402.1 L281 406.1 L280.2 411.5 L280 412.6 L279.4 418.6 L278.6 426.2 L278.5 427.4 L277.8 433.8 L277 441.4 L276.9 442.3 L276.2 435.7 L276.1 435 L275.4 428.2 L274.6 420.7 L274.6 420.4 L273.8 415.3 L273 410 L272.2 404.7 L272.2 404.8 L271.4 410 L271.4 410.2 L270.6 415.5 L269.9 420.4 L269.8 420.8 L269 426 L268.3 430.5 L268.2 431.2 L267.4 436.4 L266.7 440.7 L266.6 438.1 L266 426.6 L265.8 423.7 L265.2 412.6 L265 410.8 L264.4 404.7 L264.2 402.8 L263.6 396.9 L263.4 396.9 L262.6 396.9 L261.8 396.9 L261 396.9 L260.2 396.9 L259.4 396.9 L258.6 396.9 L258.1 396.9 L257.8 396.7 L257 396.2 L256.6 395.9 L256.2 395.6 L255.8 395.4 L255.4 395.6 L255 395.9 L254.6 396.2 L253.8 396.7 L253.4 396.9 L253 397.2 L252.2 397.8 L251.4 398.3 L250.6 398.8 L249.8 399.4 L249 399.9 L248.8 400 L248.2 401.5 L247.4 403.7 L246.6 405.8 L246.4 406.3 L245.8 399.6 L245.6 397.7 L245 390.8 L244.8 389.1 L244.2 386.1 L243.4 382.3 L242.6 378.6 L242.5 378.2 L241.8 379 L241 379.9 L240.9 380 L240.2 380.8 L239.4 381.8 L238.6 382.7 L237.8 383.6 L237.8 383.6 L237 383.5 L236.2 383.4 L235.4 383.2 L234.6 383.1 L233.8 383 L233.1 382.8 L233 383.1 L232.2 384.7 L231.4 386.3 L230.6 387.9 L230 389.1 L229.8 389.5 L229.2 390.7 L229 391.1 L228.2 392.7 L227.4 394.3 L226.9 395.4 L226.6 395.9 L225.8 397.5 L225.3 398.5 L225 402.4 L224.2 413 L223.7 419.1 L223.4 423.5 L222.6 434.1 L221.8 444.6 L221.4 450.1 L221 449.8 L220.6 449.6 L220.2 449.3 L219.4 448.8 L219 448.5 L218.6 448.1 L217.8 447.3 L217.5 447 L217 443.1 L216.7 440.7 L216.2 436.7 L215.4 430.3 L214.6 423.9 L214.3 421.9 L213.8 421.5 L213 420.8 L212.2 420.1 L211.4 419.4 L211.2 419.3 L210.6 418.7 L209.8 418 L209.7 417.9 L209 417.4 L208.9 417.3 L208.2 417.6 L208.1 417.6 L207.4 417.9 L206.6 418.3 L205.8 418.6 L205 419 L205 419 L204.2 419.3 L203.4 419.7 L202.6 420 L202.6 420 L201.8 420.4 L201.8 420.7 L201.4 423.8 L201 426.5 L200.3 431.8 L200.2 432.4 L199.5 437.6 L199.4 437.5 L198.6 436.6 L197.9 435.8 L197.8 435.6 L197 434.7 L196.2 433.8 L195.6 433.1 L195.4 432.9 L194.6 432 L194 431.3 L193.8 430.1 L193.2 426.8 L193 425.4 L192.2 420.8 L191.4 416.1 L190.9 413.2 L190.6 411.5 L190.1 408.6 L189.8 409.8 L189 412.9 L188.2 415.9 L187.8 417.6 L187.4 418.9 L186.6 422 L186.2 423.5 L185.8 424.5 L185 426.5 L184.6 427.4 L184.2 428.5 L183.4 430.5 L183.1 431.3 L182.6 427.1 L182.3 424.3 L181.8 419.9 L181.5 417.3 L181 412.7 L180.7 410.2 L180.2 412.2 L179.9 413.2 L179.4 415.2 L178.6 418.3 L178.4 419.1 L177.8 421.3 L177 424.4 L176.8 425.1 L176.2 423.8 L175.4 422.2 L175.3 421.9 L174.6 420.6 L173.8 419 L173.7 418.8 L173 417.4 L172.9 417.3 L172.2 418.7 L171.4 420.3 L170.6 421.9 L170.6 421.9 L169.8 423.5 L169 425.1 L169 425.1 L168.2 431 L167.4 436.8 L167.4 437 L166.6 442.7 L166.6 443 L166.2 446.2 L165.9 443.2 L165.8 442.5 L165 434.9 L164.3 428.2 L164.2 427.4 L163.4 420.8 L162.6 414.2 L162 408.8 L161.8 407.6 L161.2 402.4 L161 403.1 L160.2 406.1 L159.4 409.2 L158.6 412.3 L158 414.4 L157.8 415.3 L157 418.4 L156.5 420.4 L156.2 423 L155.4 430.5 L154.9 435 L154.6 438 L154.1 442.3 L153.8 435.2 L153.4 425.9 L153 418.4 L152.6 409.4 L152.2 409.4 L151.8 409.4 L151.4 409.4 L150.6 409.4 L149.8 409.4 L149 409.4 L148.7 409.4 L148.2 409.4 L147.4 409.4 L147.1 409.4 L146.6 410.2 L145.8 411.5 L145.5 411.9 L145 412.8 L144.2 414.1 L143.4 415.3 L143.2 415.7 L142.6 415.1 L142.4 414.9 L141.8 414.3 L141 413.5 L140.8 413.3 L140.2 412.7 L139.4 411.9 L139.3 411.8 L138.6 412.5 L137.8 413.3 L137 414.1 L136.2 414.9 L136.2 414.9 L135.4 415.7 L135.4 415.7 L134.6 428.8 L133.8 442.3 L133.8 442.3 L133 440.7 L133 440.7 L132.2 439.1 L131.5 437.6 L131.4 437.3 L130.6 433 L129.9 429.2 L129.8 428.7 L129.1 425.1 L129 425.1 L128.3 425.5 L128.2 425.6 L127.4 426 L126.8 426.4 L126.6 426.5 L125.8 427 L125 427.4 L124.2 427.9 L123.6 428.2 L123.4 428.4 L122.6 429 L122.1 429.4 L121.8 429.7 L121 430.3 L120.5 430.7 L120.2 431 L119.7 431.3 L119.4 432.2 L118.9 433.4 L118.6 434.3 L117.8 436.5 L117.4 437.6 L117 441 L116.2 448.2 L115.4 455.4 L114.6 462.6 L114.3 465.7 L113.8 462.1Z" fill="#5d531c" stroke="#5d531c"/>
<path d="M113.8 462.1 L114.3 465.7 L114.6 462.6 L115.4 455.4 L116.2 448.2 L117 441 L117.4 437.6 L117.8 436.5 L118.6 434.3 L118.9 433.4 L119.4 432.2 L119.7 431.3 L120.2 431 L120.5 430.7 L121 430.3 L121.8 429.7 L122.1 429.4 L122.6 429 L123.4 428.4 L123.6 428.2 L124.2 427.9 L125 427.4 L125.8 427 L126.6 426.5 L126.8 426.4 L127.4 426 L128.2 425.6 L128.3 425.5 L129 425.1 L129.1 425.1 L129.8 428.7 L129.9 429.2 L130.6 433 L131.4 437.3 L131.5 437.6 L132.2 439.1 L133 440.7 L133 440.7 L133.8 442.3 L133.8 442.3 L134.6 428.8 L135.4 415.7 L135.4 415.7 L136.2 414.9 L136.2 414.9 L137 414.1 L137.8 413.3 L138.6 412.5 L139.3 411.8 L139.4 411.9 L140.2 412.7 L140.8 413.3 L141 413.5 L141.8 414.3 L142.4 414.9 L142.6 415.1 L143.2 415.7 L143.4 415.3 L144.2 414.1 L145 412.8 L145.5 411.9 L145.8 411.5 L146.6 410.2 L147.1 409.4 L147.4 409.4 L148.2 409.4 L148.7 409.4 L149 409.4 L149.8 409.4 L150.6 409.4 L151.4 409.4 L151.8 409.4 L152.2 409.4 L152.6 409.4 L153 418.4 L153.4 425.9 L153.8 435.2 L154.1 442.3 L154.6 438 L154.9 435 L155.4 430.5 L156.2 423 L156.5 420.4 L157 418.4 L157.8 415.3 L158 414.4 L158.6 412.3 L159.4 409.2 L160.2 406.1 L161 403.1 L161.2 402.4 L161.8 407.6 L162 408.8 L162.6 414.2 L163.4 420.8 L164.2 427.4 L164.3 428.2 L165 434.9 L165.8 442.5 L165.9 443.2 L166.2 446.2 L166.6 443 L166.6 442.7 L167.4 437 L167.4 436.8 L168.2 431 L169 425.1 L169 425.1 L169.8 423.5 L170.6 421.9 L170.6 421.9 L171.4 420.3 L172.2 418.7 L172.9 417.3 L173 417.4 L173.7 418.8 L173.8 419 L174.6 420.6 L175.3 421.9 L175.4 422.2 L176.2 423.8 L176.8 425.1 L177 424.4 L177.8 421.3 L178.4 419.1 L178.6 418.3 L179.4 415.2 L179.9 413.2 L180.2 412.2 L180.7 410.2 L181 412.7 L181.5 417.3 L181.8 419.9 L182.3 424.3 L182.6 427.1 L183.1 431.3 L183.4 430.5 L184.2 428.5 L184.6 427.4 L185 426.5 L185.8 424.5 L186.2 423.5 L186.6 422 L187.4 418.9 L187.8 417.6 L188.2 415.9 L189 412.9 L189.8 409.8 L190.1 408.6 L190.6 411.5 L190.9 413.2 L191.4 416.1 L192.2 420.8 L193 425.4 L193.2 426.8 L193.8 430.1 L194 431.3 L194.6 432 L195.4 432.9 L195.6 433.1 L196.2 433.8 L197 434.7 L197.8 435.6 L197.9 435.8 L198.6 436.6 L199.4 437.5 L199.5 437.6 L200.2 432.4 L200.3 431.8 L201 426.5 L201.4 423.8 L201.8 420.7 L201.8 420.4 L202.6 420 L202.6 420 L203.4 419.7 L204.2 419.3 L205 419 L205 419 L205.8 418.6 L206.6 418.3 L207.4 417.9 L208.1 417.6 L208.2 417.6 L208.9 417.3 L209 417.4 L209.7 417.9 L209.8 418 L210.6 418.7 L211.2 419.3 L211.4 419.4 L212.2 420.1 L213 420.8 L213.8 421.5 L214.3 421.9 L214.6 423.9 L215.4 430.3 L216.2 436.7 L216.7 440.7 L217 443.1 L217.5 447 L217.8 447.3 L218.6 448.1 L219 448.5 L219.4 448.8 L220.2 449.3 L220.6 449.6 L221 449.8 L221.4 450.1 L221.8 444.6 L222.6 434.1 L223.4 423.5 L223.7 419.1 L224.2 413 L225 402.4 L225.3 398.5 L225.8 397.5 L226.6 395.9 L226.9 395.4 L227.4 394.3 L228.2 392.7 L229 391.1 L229.2 390.7 L229.8 389.5 L230 389.1 L230.6 387.9 L231.4 386.3 L232.2 384.7 L233 383.1 L233.1 382.8 L233.8 383 L234.6 383.1 L235.4 383.2 L236.2 383.4 L237 383.5 L237.8 383.6 L237.8 383.6 L238.6 382.7 L239.4 381.8 L240.2 380.8 L240.9 380 L241 379.9 L241.8 379 L242.5 378.2 L242.6 378.6 L243.4 382.3 L244.2 386.1 L244.8 389.1 L245 390.8 L245.6 397.7 L245.8 399.6 L246.4 406.3 L246.6 405.8 L247.4 403.7 L248.2 401.5 L248.8 400 L249 399.9 L249.8 399.4 L250.6 398.8 L251.4 398.3 L252.2 397.8 L253 397.2 L253.4 396.9 L253.8 396.7 L254.6 396.2 L255 395.9 L255.4 395.6 L255.8 395.4 L256.2 395.6 L256.6 395.9 L257 396.2 L257.8 396.7 L258.1 396.9 L258.6 396.9 L259.4 396.9 L260.2 396.9 L261 396.9 L261.8 396.9 L262.6 396.9 L263.4 396.9 L263.6 396.9 L264.2 402.8 L264.4 404.7 L265 410.8 L265.2 412.6 L265.8 423.7 L266 426.6 L266.6 438.1 L266.7 440.7 L267.4 436.4 L268.2 431.2 L268.3 430.5 L269 426 L269.8 420.8 L269.9 420.4 L270.6 415.5 L271.4 410.2 L271.4 410 L272.2 404.8 L272.2 404.7 L273 410 L273.8 415.3 L274.6 420.4 L274.6 420.7 L275.4 428.2 L276.1 435 L276.2 435.7 L276.9 442.3 L277 441.4 L277.8 433.8 L278.5 427.4 L278.6 426.2 L279.4 418.6 L280 412.6 L280.2 411.5 L281 406.1 L281.6 402.1 L281.8 400.8 L282.4 396.9 L282.6 396.9 L283.4 396.9 L284.2 396.9 L285 396.9 L285.8 396.9 L286.6 396.9 L287.4 396.9 L288 396.9 L288.2 397.2 L289 398.5 L289.8 399.7 L290.6 401 L291.4 402.2 L292.2 403.5 L292.8 404.4 L293 404.4 L293.8 404.2 L294.6 404 L295.4 403.9 L296.2 403.7 L297 403.5 L297.8 403.3 L298.6 403.1 L299.4 403 L299.9 402.9 L300.2 401.8 L301 399.2 L301.8 396.7 L302.2 395.4 L302.6 394.1 L303.4 391.5 L303.8 390.4 L304.2 395.3 L305 404.5 L305.8 413.7 L306.6 422.9 L306.9 426.3 L307.4 430.4 L308.2 436.8 L308.5 438.8 L309 439.9 L309.8 441.5 L310 442 L310.6 443.1 L310.8 443.5 L311.4 443.1 L312.2 442.6 L312.4 442.5 L313 442.1 L313.2 442 L313.8 436.5 L314.6 429.7 L314.7 428.7 L315.4 422.9 L316.2 416.1 L316.3 415.4 L317 411.1 L317.8 406.3 L317.8 406 L318.6 401.5 L319.4 396.7 L319.4 396.6 L320.2 391.9 L321 387.2 L321 387.2 L321.8 387 L322.5 386.8 L322.6 386.8 L323.4 386.5 L324.2 386.3 L325 386.1 L325.8 385.8 L326.4 385.7 L326.6 387.1 L327.2 393 L327.4 394.6 L328.2 402 L328.8 407.6 L329 409.9 L329.6 416.2 L329.8 418.7 L330.6 427.5 L331.1 433.4 L331.4 436.3 L331.9 442 L332.2 441.7 L333 440.9 L333.5 440.4 L333.8 440.1 L334.6 439.3 L335 438.8 L335.4 439.2 L336.2 440 L336.6 440.4 L337 435 L337.8 423.8 L338.6 412.6 L339 407.6 L339.4 405.3 L339.7 403.5 L340.2 401.1 L341 396.9 L341.8 392.8 L342.6 388.6 L342.9 387.2 L343.4 387.2 L344.2 387.2 L345 387.2 L345.8 387.2 L346.6 387.2 L347.4 387.2 L347.6 387.2 L348.2 395.6 L349 406 L349.1 407.6 L349.8 420.2 L349.9 422.2 L350.6 435.1 L351.4 450.1 L351.5 451.3 L352.2 447.4 L352.3 447.2 L353 443.2 L353.8 438.9 L353.8 438.8 L354.6 428.3 L354.6 428.2 L355.4 417.7 L355.4 417.4 L356.2 406.6 L356.9 396.6 L357 396.5 L357.8 395.3 L358.5 394.3 L358.6 394.1 L359.4 392.9 L360.1 391.9 L360.2 392.7 L360.9 396.6 L361 397.5 L361.8 402.3 L362.4 406 L362.6 405.3 L363.2 402.9 L363.4 402.1 L364.2 398.9 L365 395.7 L365.5 393.5 L365.8 395.9 L366.3 400.8 L366.6 403.3 L367.4 410.8 L367.9 415.4 L368.2 420.2 L369 432.6 L369.8 445 L370.2 451.7 L370.6 457.4 L371 463.9 L371.3 459.5 L371.4 458.5 L372.2 447.3 L372.6 442 L373 436.1 L373.4 431 L373.8 426.4 L374.1 422.7 L374.6 417.8 L375.4 409.3 L375.7 406 L376.2 404 L377 400.8 L377.3 399.7 L377.8 397.6 L378.6 394.4 L378.8 393.5 L379.4 391.2 L379.6 390.4 L380.2 392.7 L381 395.9 L381.8 399.1 L382 399.7 L382.6 409.3 L383.4 421.3 L384.2 433.3 L385 445.3 L385.1 446.7 L385.8 450 L386.6 453.7 L386.7 454 L387.4 455.1 L387.4 454.9 L388.2 450.5 L388.2 450.3 L389 443 L389.8 435.7 L389.8 435.5 L390.6 423.8 L391.3 412.8 L391.4 412 L392.1 401.3 L392.2 401.2 L393 399.9 L393.8 398.6 L394.5 397.5 L394.6 397.4 L395.4 396.1 L396 395 L396.2 395 L397 394.6 L397.6 394.3 L397.8 394.2 L398.6 393.8 L399.2 393.5 L399.4 393.3 L400.2 392.8 L400.7 392.4 L401 392.3 L401.5 391.9 L401.8 392.6 L402.6 394.5 L403.4 396.4 L403.9 397.5 L404.2 398.4 L405 400.3 L405.4 401.3 L405.8 400.1 L406.6 397.5 L407 396.3 L407.4 395 L408.2 392.4 L408.6 391.3 L409 389.9 L409.3 388.8 L409.8 389.9 L410.1 390.7 L410.6 391.8 L411.4 393.7 L412.2 395.7 L413 397.6 L413.2 398.2 L413.8 399.3 L414.6 400.9 L415.4 402.5 L415.6 402.9 L416.2 401.2 L416.4 400.7 L417 398.9 L417.8 396.7 L417.9 396.3 L418.6 394.4 L419.4 392.2 L419.5 391.9 L420.2 391.2 L421 390.4 L421.8 389.6 L422.6 388.8 L422.6 388.8 L423.4 388.5 L424.2 388.2 L425 387.8 L425.8 387.5 L425.8 387.5 L426.5 387.2 L426.6 387.3 L427.4 388.9 L428.2 390.5 L428.9 391.9 L429 391.8 L429.8 391 L430.4 390.4 L430.6 390.2 L431.4 389.4 L432 388.8 L432.2 389.7 L433 393.7 L433.8 397.7 L434.6 401.7 L435.1 404.4 L435.4 403.9 L436.2 402.3 L437 400.7 L437.5 399.7 L437.8 400.8 L438.6 403.6 L439.4 406.4 L439.8 407.9 L440.2 409.2 L440.6 410.7 L441 409.4 L441.8 406.7 L442.6 404.1 L443 402.9 L443.4 401.7 L444.2 399.6 L445 397.4 L445.3 396.6 L445.8 403.5 L446.1 407.6 L446.6 414.7 L447.4 425.9 L447.7 429.5 L448.2 425.6 L448.4 424 L449 420 L449.8 414.4 L450.6 408.8 L450.8 407.6 L451.4 405.8 L452.2 403.6 L453 401.3 L453.1 401 L453.8 399.1 L453.9 398.8 L454.6 396.9 L454.7 396.6 L455.4 398 L456.2 399.6 L456.3 399.7 L457 401.2 L457 401.3 L457.8 415.4 L458.6 430.2 L458.6 430.2 L459.4 445 L460.2 459.2 L460.2 458.6 L460.9 447.2 L461 446.4 L461.8 434.1 L462.5 423.2 L462.6 422.4 L463.3 415.9 L463.4 414.9 L464.2 407.4 L465 399.9 L465 399.7 L465.8 407.7 L466.6 415.4 L466.6 416.1 L467.4 431.3 L468.1 445.1 L468.2 444 L469 431.6 L469.8 419.2 L470.6 406.8 L471.3 396.6 L471.4 396.1 L472.2 393.5 L473 390.8 L473.6 388.8 L473.8 388.8 L474.4 388.9 L474.6 388.9 L475.4 389 L476.2 389.1 L477 389.2 L477.8 389.3 L478.6 389.4 L479.4 389.5 L479.9 389.6 L480.2 392.9 L480.6 397.1 L481 400.6 L481.8 408.3 L482.2 412.3 L482.6 413.6 L483.4 416.4 L483.8 417.7 L484.2 419.2 L485 422 L485.3 423.2 L485.8 424.4 L486.6 426.6 L486.9 427.4 L487.4 428.7 L487.7 429.5 L488.2 435.7 L488.5 438.8 L489 441.5 L489.2 442.7 L489.8 445.5 L490 446.7 L490.6 437 L491.4 423.7 L491.6 420.6 L492.2 410.4 L492.4 407.6 L493 418.9 L493.2 421.6 L493.8 433.3 L493.9 435.7 L494.6 438.4 L495.4 441.6 L496.2 444.8 L496.3 445.1 L497 436 L497.8 425.8 L498.6 415.7 L498.6 415.4 L499.4 408.4 L499.4 408.3 L500.2 401.2 L501 394.3 L501 394 L501.8 387.2 L501.8 387.3 L502.5 387.6 L502.6 387.7 L503.4 388.1 L504.1 388.4 L504.2 388.5 L504.9 388.8 L505 390.1 L505.7 397.7 L505.8 399.2 L506.4 406.5 L506.6 408.3 L507.2 415.4 L507.4 417.6 L508.2 427.7 L508.8 435.2 L509 437.8 L509.6 445.1 L509.8 441.5 L510.6 428.7 L511.1 420.1 L511.4 415.9 L511.9 407.6 L512.2 407 L512.7 406 L513 405.4 L513.8 403.8 L514.3 402.9 L514.6 406.9 L515 412.3 L515.4 416.5 L516.2 426.1 L516.6 431 L517 426.2 L517.8 416.2 L518.2 411.5 L518.6 406.2 L519.4 396.2 L519.7 391.9 L520.2 395 L521 400.3 L521.3 402.3 L521.8 405.7 L522.1 407.6 L522.6 413.4 L523.4 422.5 L524.2 431.5 L524.4 434.1 L525 428.5 L525.8 420.5 L526.6 412.5 L527.4 404.5 L527.6 402.9 L528.2 403.2 L529 403.6 L529.8 404 L530.6 404.4 L530.7 404.4 L531.4 407.9 L532.2 411.7 L533 415.5 L533.8 419.4 L533.8 419.4 L534.6 423.2 L534.6 423.2 L535.4 424.3 L536.2 425.3 L536.2 425.3 L536.9 426.3 L537 425.5 L537.8 413.7 L538.6 402 L539.3 391.9 L539.4 392.5 L540.1 395.8 L540.2 396.5 L541 400.5 L541.6 403.6 L541.8 404.5 L542.4 407.6 L542.6 408.7 L543.2 412.3 L543.4 413.5 L544.2 418.3 L545 423.1 L545.5 426.3 L545.8 424.5 L546.3 420.6 L546.6 418.6 L547.4 412.7 L547.9 409.1 L548.2 406.9 L549 401 L549.5 397.7 L549.8 395.1 L550.2 391.9 L550.6 393.9 L551.4 398.1 L552.2 402.4 L552.6 404.4 L553 408.2 L553.4 411.5 L553.8 415.4 L554.6 422.6 L554.9 425.5 L555.4 429.8 L555.7 432.6 L556.2 435.8 L556.5 437.7 L557 441 L557.3 442.7 L557.8 446.2 L558.6 451.4 L558.8 452.9 L559.4 445.3 L560.2 434.4 L560.4 431.6 L561 423.5 L561.2 421 L561.8 412.6 L562.6 401.8 L562.7 399.7 L563.4 397.1 L563.5 396.6 L564.2 393.9 L564.3 393.5 L565 390.7 L565.1 390.4 L565.8 394.2 L566.6 398.6 L567.4 403 L568.2 407.4 L568.2 407.6 L569 406.8 L569.8 406 L570.6 405.2 L571.3 404.4 L571.4 404.2 L572.2 401 L572.9 398.2 L573 397.8 L573.8 394.6 L574.5 391.9 L574.6 391.7 L575.4 390.5 L576 389.6 L576.2 389.3 L577 388.1 L577.6 387.2 L577.8 387.3 L578.6 387.4 L579.4 387.6 L580.2 387.7 L580.7 387.9 L581 387.9 L581.5 388 L581.8 390 L582.6 395.6 L583.4 401.2 L583.9 404.4 L584.2 410.8 L585 425.7 L585.8 440.6 L586.2 448.2 L586.6 441.9 L587.4 429.1 L588.2 416.3 L588.6 410.7 L589 407.1 L589.8 400.7 L590.1 398.2 L590.6 394.3 L590.9 391.9 L591.4 399.3 L591.7 403.4 L592.2 411 L592.5 414.9 L593 422.7 L593.2 426.3 L593.8 428.5 L594 429.5 L594.6 431.7 L594.8 432.6 L595.4 434.9 L595.6 435.7 L596.2 428.4 L597 418.8 L597.2 416.9 L597.8 409.2 L597.9 407.6 L598.6 402 L599.4 395.4 L599.5 394.5 L599.8 391.9 L600.2 398.4 L601 411.7 L601.1 412.8 L601.8 425 L601.8 425.8 L602.6 438.4 L602.6 438.8 L603.4 431.4 L604.2 423.8 L604.2 423.8 L605 416.3 L605 416.1 L605.8 408.8 L605.8 408.4 L606.5 401.3 L606.6 401.7 L607.3 406 L607.4 406.5 L608.1 410.7 L608.2 411.3 L608.9 415.4 L609 416 L609.7 419.5 L609.8 420.3 L610.6 424.5 L611.2 427.9 L611.4 425.9 L612 418.9 L612.2 416.7 L612.8 409.9 L613 407.5 L613.8 398.3 L614.4 391.9 L614.6 394.5 L615.1 400.3 L615.4 403 L616.2 411.6 L616.7 416.9 L617 417.8 L617.5 419.3 L617.8 420.2 L618.6 422.6 L619.1 424 L619.4 425 L619.8 426.3 L620.2 421.4 L620.6 415.9 L621 410.8 L621.4 405.5 L621.8 400.1 L622.2 395 L622.6 399.5 L623 403.4 L623.4 408.1 L623.7 411.7 L624.2 416.6 L624.5 420.1 L625 421.3 L625.3 422.2 L625.8 423.5 L626.1 424.2 L626.6 425.6 L626.9 426.3 L627.4 417.5 L627.7 413.3 L628.2 404.2 L628.4 400.3 L629 390.8 L629.2 387.2 L629.8 391.6 L630.6 397.6 L631.4 403.6 L631.6 404.8 L632.2 409.6 L632.3 410.7 L633 405.8 L633.8 399.8 L633.9 399 L634.6 393.8 L635.4 387.8 L635.5 387.2 L636.2 387 L636.3 387 L637 386.8 L637 386.8 L637.8 386.5 L638.6 386.3 L639.4 386 L640.2 385.8 L641 385.6 L641.8 385.3 L642.6 385.1 L643.3 384.9 L643.4 385.3 L644.2 388.6 L645 391.9 L645 391.9 L645.8 393 L646.6 394 L647.3 395 L647.4 394.9 L648.2 392.9 L649 390.9 L649.8 388.9 L650.5 387.2 L650.6 387.3 L651.3 387.4 L651.4 387.5 L652.2 387.7 L653 387.9 L653.8 388.1 L654.4 388.2 L654.6 388.3 L655.4 388.5 L656.2 388.7 L656.7 388.8 L657 389 L657.5 389.4 L657.8 389.6 L658.6 390.3 L659.4 390.9 L660.2 391.6 L660.6 391.9 L661 391.2 L661.8 389.6 L662.6 388 L663.4 386.4 L663.8 385.7 L664.2 385.8 L665 385.9 L665.8 386.1 L666.6 386.3 L667.4 386.5 L668.2 386.6 L669 386.8 L669.8 387 L670.6 387.2 L670.8 387.2 L671.4 394.1 L672.2 403.3 L673 412.5 L673.2 414.2 L673.8 421.7 L673.9 423.2 L674.6 423.9 L675.4 424.7 L675.5 424.8 L676.2 425.5 L676.3 425.5 L677 426.3 L677.1 426.3 L677.8 426.3 L677.8 426.3 L678.6 426.3 L678.6 426.3 L679.4 426.3 L679.4 426.3 L680.2 426.3 L680.2 426.2 L681 416.2 L681 415.8 L681.8 405.4 L682.5 395.8 L682.6 395 L683.3 385.7 L683.4 385.6 L684.2 385.2 L685 384.8 L685.7 384.5 L685.8 384.4 L686.4 384.1 L686.6 384.1 L687.4 384.1 L688.2 384.1 L689 384.1 L689.8 384.1 L690.6 384.1 L691.4 384.1 L691.9 384.1 L692.2 384.5 L693 385.7 L693.8 386.9 L694.3 387.6 L694.6 388.1 L695 388.8 L695.4 389.3 L696.2 390.5 L697 391.7 L697.8 392.9 L698.2 393.5 L698.6 392.8 L699.4 391.6 L700.2 390.4 L701 389.2 L701.3 388.8 L701.8 388.5 L702.6 388.1 L703.4 387.7 L704.2 387.3 L705 386.9 L705.8 386.5 L706.6 386.1 L707.4 385.7 L707.6 385.7 L708.2 385.7 L709 385.7 L709.8 385.7 L710.6 385.7 L711.4 385.7 L712.2 385.7 L713 385.7 L713.8 385.7 L713.8 385.7 L714.6 385.7 L714.6 385.7 L715.4 393.2 L716.2 400.3 L716.2 400.6 L716.9 407.6 L717 407.3 L717.8 403.6 L718.5 400.3 L718.6 399.8 L719.3 396.6 L719.4 396.2 L720.1 393.7 L720.2 393.2 L721 390.2 L721.6 387.8 L721.8 387.2 L722.4 384.9 L722.6 389.1 L723.2 403 L723.4 407.6 L723.7 413.8 L724 413.8 L724.2 413.8 L724.8 413.9 L725 414 L725.8 414.1 L726.3 414.2 L726.6 414.2 L727.4 414.3 L727.9 414.4 L728.2 414.5 L729 414.6 L729.5 414.7 L729.8 414.7 L730.6 414.8 L731.4 415 L731.8 415 L732.2 415.1 L732.6 415.1 L733 415.2 L733.8 415.3 L734.1 415.4 L734.6 416.9 L735.4 419.6 L735.7 420.6 L736.2 422.2 L736.5 423.2 L737 422.5 L737.8 421.5 L738.6 420.4 L738.8 420.1 L739.4 423.1 L740.2 427.3 L741 431.6 L741.2 432.6 L741.8 436.9 L742.6 442.6 L743.4 448.2 L743.8 451.3 L744.2 451.3 L745 451.3 L745.8 451.3 L746.6 451.3 L747.4 451.3 L748.2 451.3 L749 451.3 L749.8 451.3 L750.6 451.3 L751.4 451.3 L752.2 451.3 L753 451.3 L753.8 451.3 L754.6 451.3 L755.4 451.3 L756.2 451.3 L756.8 451.3 L757 448.5 L757.3 426.3 L757.6 417.8 L757.8 412.6 L758.4 396.6 L758.6 396.4 L759.4 395.6 L760.2 394.8 L760.7 394.3 L761 394 L761.5 393.5 L761.8 393.4 L762.6 393.2 L763.4 393.1 L763.9 393 L764.2 392.9 L765 392.7 L765.4 392.6 L765.8 392.5 L766.6 392.4 L767.4 392.2 L768.2 392 L768.6 391.9 L769 391.9 L769.8 391.9 L770.1 391.9 L770.6 391.9 L771.4 391.9 L772.2 391.9 L773 391.9 L773.2 391.9 L773.8 391.9 L774.6 391.9 L774.8 391.9 L775.4 392.8 L776.2 394 L777 395.2 L777.8 396.4 L777.9 396.6 L778.6 395.6 L779.4 394.4 L780.2 393.2 L781 392 L781.1 391.9 L781.8 391.7 L782.6 391.5 L782.6 391.5 L783.4 391.3 L784.2 391 L785 390.8 L785.8 390.6 L785.8 390.6 L786.5 390.4 L786.6 390.9 L787.4 397.8 L788.2 404.8 L788.9 410.7 L789 411.1 L789.7 413.3 L789.8 413.7 L790.4 415.9 L790.6 416.4 L791.2 418.5 L791.4 421.9 L792.2 437.9 L792.8 449.8 L793 453.9 L793.6 465.4 L793.8 458.9 L794.6 435.4 L795.1 419.5 L795.4 411.9 L795.9 396.6 L796.2 396.3 L797 395.5 L797.5 395 L797.8 394.7 L798.6 393.9 L799.1 393.5 L799.4 393.3 L800.2 392.7 L801 392.2 L801.4 391.9 L801.8 392.7 L802.6 394.3 L803 395 L803.4 395.9 L804.2 397.5 L805 399.1 L805.8 400.7 L806.1 401.3 L806.6 401.6 L807.4 402 L808.2 402.4 L809 402.8 L809.2 402.9 L809.8 400.3 L810.6 396.9 L810.8 396.1 L811.4 393.4 L812.2 389.9 L813 386.5 L813.8 383 L813.9 382.5 L814.6 382.2 L814.7 382.1 L815.4 381.8 L815.5 381.8 L816.2 381.4 L817 381 L817 381 L817.8 381 L818.6 381 L819.4 381 L820.2 381 L821 381 L821.7 381 L821.8 381 L822.5 381 L822.6 381 L823.4 381.5 L824.2 382 L825 382.5 L825 382.5 L825.8 383.6 L826.6 384.6 L826.6 384.7 L827.3 385.7 L827.4 385.6 L828.2 385.4 L829 385.2 L829.8 385 L830.6 384.7 L831.3 384.5 L831.4 384.5 L832.2 384.3 L832.8 384.1 L833 384.5 L833.8 386.1 L834.4 387.2 L834.6 387.7 L835.4 389.3 L836.2 390.9 L837 392.5 L837.8 394.1 L838.3 395 L838.6 395.7 L839.1 396.6 L839.4 395.3 L840.2 392.1 L841 388.9 L841.8 385.7 L842.2 384.1 L842.6 384.1 L843.4 384.1 L844.2 384.1 L845 384.1 L845.8 384.1 L846.6 384.1 L847.4 384.1 L848.2 384.1 L848.5 384.1 L849 385.4 L849.8 387.3 L850.6 389.2 L850.8 389.7 L851.4 391.2 L852.2 393.1 L852.4 393.5 L853 399.4 L853.2 400.8 L853.8 406.8 L853.9 408.1 L854.6 414.3 L854.7 415.4 L855.4 420.9 L856.2 427.3 L856.3 427.9 L857 421.6 L857.8 414.7 L858.6 407.8 L858.6 407.6 L859.4 398.8 L859.4 398.7 L860.2 389.7 L861 381 L861 381 L861.8 382.4 L862.5 383.6 L862.6 383.7 L863.3 384.9 L863.4 385 L864.2 386.4 L865 387.7 L865.7 388.8 L865.8 388.6 L866.6 387.5 L867.4 386.5 L868.2 385.4 L868.8 384.6 L869 384.3 L869.8 383.3 L870.4 382.5 L870.6 382.9 L871.4 383.9 L871.9 384.6 L872.2 385 L873 386.1 L873.5 386.7 L873.8 387.1 L874.6 388.2 L875 388.8 L875.4 388.3 L876.2 387.3 L876.6 386.7 L877 386.2 L877.8 385.1 L878.6 384.1 L879.4 383 L879.7 382.5 L880.2 382.7 L881 383 L881.8 383.4 L882.6 383.7 L883.4 384 L883.6 384.1 L884.2 388.9 L884.4 390.9 L885 395.8 L885.8 402.7 L886 404.4 L886.6 411.3 L887.4 420.4 L887.6 422.2 L888.2 429.4 L888.3 431 L889 423.5 L889.8 414.5 L890.6 405.4 L890.7 404.4 L891.4 401.2 L891.5 400.9 L892.2 397.6 L892.3 397.4 L893 394 L893.8 390.4 L893.8 390.4 L894.6 388.4 L895.4 386.4 L896.2 384.4 L896.9 382.5 L897 382.7 L897.8 384.7 L898.5 386.4 L898.6 386.7 L899.4 388.7 L900.1 390.4 L900.2 391.7 L901 400.1 L901.8 408.5 L902.6 416.9 L903.2 423.2 L903.4 420.9 L904.2 411.7 L905 402.5 L905.8 393.3 L906.3 387.2 L906.6 387.1 L907.4 386.8 L908.2 386.5 L909 386.2 L909.8 385.8 L910.2 385.7 L910.6 385.5 L911.4 385 L912.2 384.5 L913 384.1 L913.8 383.6 L914.6 383.2 L915.4 382.7 L915.7 382.5 L916.2 386.5 L917 392.9 L917.8 399.3 L918.6 405.7 L918.8 407.6 L919.4 411.8 L920.2 417.8 L921 423.8 L921.8 429.8 L922 431 L922.6 423.1 L923.4 413.1 L924.2 403.1 L925 393.1 L925.1 391.9 L925.8 397.6 L925.9 398.2 L926.6 404 L927.4 410.4 L927.4 410.7 L928.2 411.2 L928.2 411.2 L929 411.7 L929.8 412.3 L929.8 412.2 L930.6 407 L931.3 402.1 L931.4 401.8 L932.2 396.6 L932.9 391.9 L933 392 L933.8 392.5 L934.5 393 L934.6 393 L935.4 393.6 L936.2 394.1 L937 394.6 L937.6 395 L937.8 395 L938.6 395 L939.4 395 L940.2 395 L940.7 395 L941 395 L941.8 395 L942.6 395 L943.4 395 L944.2 395 L945 395 L945.4 395 L945.8 398.4 L946.6 405.6 L947.4 412.8 L948.2 420 L948.6 423.2 L949 419.2 L949.8 412 L950.6 404.8 L951.4 397.6 L951.7 395 L952.2 396.1 L953 397.7 L953.8 399.3 L954.6 400.9 L954.8 401.3 L955.4 403.2 L956.2 405.8 L957 408.3 L957.8 410.9 L957.9 411.3 L958.6 413.4 L958.7 413.8 L959.4 410.8 L960.2 407.3 L961 403.8 L961.8 400.3 L962.6 396.7 L962.6 396.6 L963.4 406.2 L963.4 406.4 L964.2 416.2 L965 425.9 L965 426.2 L965.8 435.7 L965.8 435.4 L966.6 430.2 L967.3 425.5 L967.4 425 L968.2 419.8 L968.9 415.4 L969 416.2 L969.7 421.2 L969.8 422.2 L970.6 428.2 L971.2 433 L971.4 434.2 L972 438.8 L972.2 439.8 L972.8 442.7 L973 443.8 L973.6 446.7 L973.8 447.8 L974.6 451.8 L975.1 454.5 L975.4 453.2 L976.2 449.2 L977 445.2 L977.8 441.2 L978.3 438.8 L978.6 436.4 L979.4 430.4 L980.2 424.4 L981 418.4 L981.4 415.4 L981.8 413 L982.6 408.2 L983.4 403.4 L984.2 398.6 L984.5 396.6 L985 404.5 L985.8 417.7 L986.6 430.9 L987.4 444.1 L987.7 448.2 L988.2 441.7 L988.4 438.8 L989 432.1 L989.8 422.5 L990.6 412.9 L990.8 410.7 L991.4 410.1 L992.2 409.3 L993 408.5 L993.8 407.7 L993.9 407.6 L994.6 404.4 L995.4 400.8 L996.2 397.2 L997 393.6 L997 393.5 L997.8 392 L998.6 390.4 L999.4 388.8 L1000.2 387.2 L1000.2 387.2 L1001 385.6 L1001.7 384.1 L1001.8 384.1 L1002.5 384.1 L1002.6 384.1 L1003.3 384.1 L1003.4 384.1 L1004.2 384.1 L1005 384.1 L1005 384.1 L1005.8 385.4 L1006.6 386.6 L1006.6 386.7 L1007.4 388 L1008.1 389.2 L1008.2 389.3 L1009 390.6 L1009.7 391.7 L1009.8 391.9 L1010.6 393.2 L1011.3 394.3 L1011.4 394.3 L1012.2 394.6 L1013 394.9 L1013.8 395.2 L1014.6 395.5 L1015.4 395.8 L1015.9 396 L1016.2 396.1 L1017 396.4 L1017.5 396.6 L1017.8 398 L1018.6 401.7 L1019.1 403.9 L1019.4 405.4 L1019.9 407.6 L1020.2 405.7 L1021 401.5 L1021.8 397.2 L1022.2 395 L1022.6 395 L1023.4 395 L1024.2 395 L1025 395 L1025.8 395 L1026.6 395 L1026.9 395 L1027.4 394.9 L1028.2 394.8 L1028.5 394.7 L1029 394.6 L1029.8 394.4 L1030.6 394.3 L1031.4 394.1 L1032.2 393.9 L1033 393.7 L1033.8 393.6 L1034.6 393.4 L1035.4 393.2 L1036.2 393.1 L1037 392.9 L1037.8 392.7 L1037.8 392.7 L1038.6 392.8 L1039.4 392.9 L1040.2 393 L1041 393.1 L1041.8 393.2 L1042.6 393.3 L1043.4 393.4 L1044.1 393.5 L1044.2 395.6 L1045 412.1 L1045.8 428.6 L1046.4 435.7 L1046.6 436.6 L1047.2 428.4 L1047.4 425.4 L1048.2 411.5 L1048.8 401.3 L1049 401 L1049.6 400.3 L1049.8 400 L1050.6 398.9 L1051.4 397.8 L1051.9 397.1 L1052.2 396.8 L1053 395.7 L1053.5 395 L1053.8 395.3 L1054.6 395.8 L1055.4 396.3 L1056.2 396.9 L1056.6 397.1 L1057 397.4 L1057.8 397.9 L1058.2 398.2 L1058.6 398.3 L1059.4 398.6 L1060.2 398.8 L1061 399.1 L1061.3 399.2 L1061.8 399.4 L1062.6 399.6 L1062.9 399.7 L1063.4 404 L1064.2 410.4 L1064.4 412.3 L1065 408.3 L1065.8 402.7 L1066 401.3 L1066.6 404.9 L1066.8 406 L1067.4 409.7 L1067.6 410.7 L1068.2 418 L1069 427 L1069.1 428.4 L1069.8 436.1 L1069.9 437.3 L1070.6 427.5 L1070.7 426.3 L1071.4 416.3 L1071.5 415.4 L1072.2 431.5 L1073 449.1 L1073.8 466.7 L1073.8 467 L1074.6 451.3 L1075.4 435.3 L1076.2 420.1 L1076.2 419.3 L1076.9 404.4 L1077 404.4 L1077.8 403.3 L1078.5 402.3 L1078.6 402.2 L1079.4 401.2 L1080.2 400.1 L1081 399 L1081.6 398.2 L1081.8 398.2 L1082.6 398.2 L1083.4 398.2 L1084.2 398.2 L1085 398.2 L1085.8 398.2 L1086.6 398.2 L1087.4 398.2 L1088.2 398.2 L1089 398.2 L1089.5 398.2 L1089.8 397.9 L1090.6 397.4 L1091.4 396.9 L1092.2 396.3 L1093 395.8 L1093.8 395.3 L1094.1 395 L1094.6 395.3 L1095.4 395.9 L1096.2 396.4 L1097 396.9 L1097.3 397.1 L1097.8 397.5 L1098.6 398 L1098.8 398.2 L1099.4 398.2 L1100.2 398.2 L1101 398.2 L1101.8 398.2 L1102 398.2 L1102.6 398.2 L1103.4 398.2 L1103.5 398.2 L1104.2 403.1 L1105 409 L1105.1 409.6 L1105.8 414.8 L1105.9 415.4 L1106.6 410.1 L1107.4 404.2 L1108.2 398.3 L1108.2 398.2 L1109 397.6 L1109.8 396.9 L1110.6 396.3 L1111.3 395.7 L1111.4 395.6 L1112.1 395 L1112.2 396.3 L1113 411.3 L1113.8 426.2 L1114.5 438.8 L1114.6 440.5 L1115.4 451.1 L1116 459.7 L1116.2 461.8 L1116.8 470.1 L1117 464.9 L1117.8 441.5 L1118.6 418 L1119.2 401.3 L1119.4 400.9 L1120.2 399.6 L1121 398.3 L1121.8 396.9 L1122.6 395.6 L1123.4 394.3 L1123.9 393.5 L1124.2 393.7 L1125 394.1 L1125.4 394.3 L1125.8 394.5 L1126.6 394.9 L1127 395 L1127.4 395.9 L1128.2 397.5 L1128.6 398.2 L1129 399.1 L1129.8 400.7 L1130.1 401.3 L1130.6 401.3 L1131.4 401.3 L1131.7 401.3 L1132.2 401.3 L1133 401.3 L1133.8 401.3 L1134.6 401.3 L1134.8 401.3 L1135.4 414.7 L1136.2 432.8 L1137 451 L1137.2 454.5 L1137.8 438.1 L1138.6 417.9 L1139.4 397.6 L1139.5 395 L1140.2 394.7 L1141 394.3 L1141.1 394.3 L1141.8 393.9 L1142.6 393.5 L1142.6 393.5 L1143.4 393.5 L1144.2 393.5 L1145 393.5 L1145.8 393.5 L1145.8 393.5 L1146.6 393.5 L1147.3 393.5 L1147.4 393.6 L1148.2 394.8 L1148.9 395.8 L1149 396 L1149.7 397 L1149.8 397.2 L1150.4 398.2 L1150.6 398.2 L1151.4 398.2 L1152.2 398.2 L1153 398.2 L1153.6 398.2 L1153.8 398.2 L1154.6 398.2 L1155.1 398.2 L1155.4 399 L1156.2 401.7 L1157 404.4 L1157.5 406 L1157.8 405.2 L1158.3 404.1 L1158.6 403.3 L1159.4 401.4 L1160.2 399.5 L1161 397.6 L1161.4 396.6 L1161.8 403.6 L1162.6 417.4 L1163.1 426.3 L1163.4 426.4 L1164.2 426.7 L1165 426.9 L1165.7 427.2 L1165.8 427.2 L1166.6 427.5 L1167.4 427.7 L1168.2 428 L1168.4 428 L1169 428.3 L1169.8 428.5 L1170.6 428.8 L1171 428.9 L1171.4 429.1 L1172.2 429.5 L1173 429.9 L1173.8 430.3 L1174.6 430.7 L1174.9 430.9 L1175.4 431.1 L1176.2 431.5 L1176.2 431.5 L1177 433.7 L1177.8 436 L1178.6 438.2 L1178.8 438.9 L1179.4 440.4 L1180.2 442.7 L1181 444.9 L1181.5 446.2 L1181.8 447.2 L1182.6 449.4 L1182.8 449.9 L1183.4 448.2 L1184.1 446.2 L1184.2 445.9 L1185 443.7 L1185.8 441.5 L1186.6 439.2 L1186.7 438.9 L1187.4 437 L1188 435.2 L1188.2 434.7 L1189 432.5 L1189.3 431.5 L1189.8 431.8 L1190.6 432.2 L1191.4 432.6 L1192 432.9 L1192.2 433 L1193 433.4 L1193.8 433.8 L1194.6 434.2 L1194.6 434.1 L1195.4 433.1 L1196.2 432 L1197 430.9 L1197.2 430.7 L1197.8 429.9 L1198.6 428.8 L1199.4 427.7 L1199.8 427.2 L1200.2 426.7 L1201 425.6 L1201.8 424.5 L1202.5 423.7 L1202.6 424 L1203.4 425.6 L1203.8 426.3 L1204.2 427.2 L1205 428.8 L1205.1 428.9 L1205.8 430.4 L1206.6 432 L1207.4 433.6 L1207.7 434.2 L1208.2 433.4 L1209 432.2 L1209.8 431 L1210.6 429.8 L1211.4 428.6 L1212.2 427.4 L1212.9 426.3 L1213 426.3 L1213.8 426.7 L1214.6 427.1 L1215.4 427.5 L1216.2 427.9 L1217 428.3 L1217.8 428.7 L1218.2 428.9 L1218.6 428.5 L1219.4 427.7 L1220.2 426.9 L1221 426.1 L1221.8 425.3 L1222.1 425 L1222.6 424.5 L1223.4 423.7 L1223.4 423.7 L1224.2 432.1 L1225 440.9 L1225.8 449.7 L1226.1 452.5 L1226.6 448.2 L1227.4 441.8 L1228.2 435.4 L1228.7 431.5 L1229 429.6 L1229.8 424.8 L1230 423.7 L1230.6 420 L1231.3 415.8 L1231.4 416 L1232.2 417.2 L1233 418.4 L1233.8 419.6 L1233.9 419.7 L1234.6 420.8 L1235.4 422 L1236.2 423.2 L1236.5 423.7 L1237 422.3 L1237.8 419.9 L1238.6 417.5 L1239.2 415.8 L1239.4 416.2 L1240.2 417.4 L1241 418.6 L1241.8 419.8 L1242.6 421 L1243.4 422.2 L1244.2 423.4 L1244.4 423.7 L1245 425.1 L1245.8 427.1 L1246.6 429.1 L1247.4 431.1 L1248.2 433.1 L1248.3 433.5 L1249 435.1 L1249.7 436.8 L1249.8 436.4 L1250.6 434.3 L1251 433.3 L1251.4 432.1 L1252.2 430 L1253 427.9 L1253.6 426.3 L1253.8 426.7 L1254.6 428.3 L1254.9 428.9 L1255.4 429.9 L1256.2 431.5 L1257 433.1 L1257.8 434.7 L1258.6 436.3 L1259.4 437.9 L1260.1 439.4 L1260.2 439.4 L1261 439.4 L1261.8 439.4 L1262.6 439.4 L1263.4 439.4 L1264.2 439.4 L1265 439.4 L1265.4 439.4 L1265.8 438.8 L1266.6 437.6 L1267.4 436.4 L1268.2 435.2 L1269 434 L1269.8 432.8 L1270.6 431.6 L1270.6 431.5 L1271.4 432.3 L1272.2 433.1 L1273 433.9 L1273.8 434.7 L1274.6 435.5 L1275.4 436.3 L1275.9 436.8 L1276.2 437 L1277 437.5 L1277.8 438.1 L1278.6 438.6 L1279.4 439.1 L1279.8 439.4 L1280.2 432.9 L1281 419.3 L1281.8 405.7 L1282.4 394.8 L1282.6 394.8 L1283.4 394.8 L1283.8 394.8 L1283.8 368.6 L1283.4 368.6 L1282.6 368.6 L1282.4 368.6 L1281.8 380.2 L1281 394.6 L1280.2 409 L1279.8 415.8 L1279.4 415.3 L1278.6 414.2 L1277.8 413.1 L1277 412.1 L1276.2 411 L1275.9 410.6 L1275.4 411.5 L1274.6 413.1 L1273.8 414.7 L1273 416.3 L1272.2 417.9 L1271.4 419.5 L1270.6 421.1 L1270.6 421 L1269.8 420.2 L1269 419.4 L1268.2 418.6 L1267.4 417.8 L1266.6 417 L1265.8 416.2 L1265.4 415.8 L1265 415.6 L1264.2 415.2 L1263.4 414.8 L1262.6 414.4 L1261.8 414 L1261 413.6 L1260.2 413.2 L1260.1 413.2 L1259.4 411.1 L1258.6 408.9 L1257.8 406.7 L1257 404.5 L1256.2 402.3 L1255.4 400.1 L1254.9 398.8 L1254.6 400.7 L1253.8 405.8 L1253.6 407.1 L1253 410.8 L1252.2 415.9 L1251.4 421 L1251 423.7 L1250.6 420.3 L1249.8 413.1 L1249.7 411.9 L1249 405.9 L1248.3 400.1 L1248.2 400.1 L1247.4 400.1 L1246.6 400.1 L1245.8 400.1 L1245 400.1 L1244.4 400.1 L1244.2 399.5 L1243.4 397.3 L1242.6 395.1 L1241.8 392.9 L1241 390.7 L1240.2 388.5 L1239.4 386.3 L1239.2 385.7 L1238.6 388.4 L1237.8 392.2 L1237 396 L1236.5 398.1 L1236.2 399.8 L1235.4 403.6 L1234.6 407.4 L1233.9 410.6 L1233.8 409.4 L1233 401.8 L1232.2 394.2 L1231.4 386.6 L1231.3 385.7 L1230.6 390.9 L1230 395.5 L1229.8 396.9 L1229 402.9 L1228.7 405.3 L1228.2 412.5 L1227.4 424.5 L1226.6 436.5 L1226.1 444.7 L1225.8 440.3 L1225 426.7 L1224.2 413.1 L1223.4 400.1 L1223.4 400.1 L1222.6 401.3 L1222.1 402 L1221.8 402.5 L1221 403.7 L1220.2 404.9 L1219.4 406.1 L1218.6 407.3 L1218.2 407.9 L1217.8 407.4 L1217 406.2 L1216.2 405 L1215.4 403.8 L1214.6 402.6 L1213.8 401.4 L1213 400.2 L1212.9 400.1 L1212.2 401.2 L1211.4 402.4 L1210.6 403.6 L1209.8 404.8 L1209 406 L1208.2 407.2 L1207.7 407.9 L1207.4 406.7 L1206.6 403.2 L1205.8 399.7 L1205.1 396.6 L1205 396.3 L1204.2 392.8 L1203.8 390.9 L1203.4 391.5 L1202.6 392.8 L1202.5 393 L1201.8 394 L1201 395.3 L1200.2 396.6 L1199.8 397.2 L1199.4 397.9 L1198.6 399.2 L1197.8 400.4 L1197.2 401.4 L1197 401.9 L1196.2 403.7 L1195.4 405.5 L1194.6 407.3 L1194.6 407.3 L1193.8 409.1 L1193 410.9 L1192.2 412.7 L1192 413.2 L1191.4 411.9 L1190.6 410.1 L1189.8 408.3 L1189.3 407.3 L1189 406.5 L1188.2 404.7 L1188 404.3 L1187.4 402.9 L1186.7 401.4 L1186.6 401.6 L1185.8 403.4 L1185 405.2 L1184.2 407 L1184.1 407.3 L1183.4 408.8 L1182.8 410.2 L1182.6 410.6 L1181.8 412.4 L1181.5 413.2 L1181 412.7 L1180.2 411.9 L1179.4 411.1 L1178.8 410.6 L1178.6 410.3 L1177.8 409.5 L1177 408.7 L1176.2 407.9 L1176.2 407.9 L1175.4 406.7 L1174.9 406 L1174.6 405.5 L1173.8 404.3 L1173 403.1 L1172.2 401.9 L1171.4 400.7 L1171 400.1 L1170.6 400.2 L1169.8 400.4 L1169 400.6 L1168.4 400.7 L1168.2 400.8 L1167.4 401 L1166.6 401.2 L1165.8 401.4 L1165.7 401.4 L1165 401 L1164.2 400.6 L1163.4 400.2 L1163.1 400.1 L1162.6 390.6 L1161.8 375.9 L1161.4 368.5 L1161 370 L1160.2 373.2 L1159.4 376.4 L1158.6 379.6 L1158.3 381 L1157.8 382.8 L1157.5 384.1 L1157 381.5 L1156.2 377.2 L1155.4 373 L1155.1 371.6 L1154.6 371.6 L1153.8 371.6 L1153.6 371.6 L1153 371.6 L1152.2 371.6 L1151.4 371.6 L1150.6 371.6 L1150.4 371.6 L1149.8 370.3 L1149.7 370 L1149 368.7 L1148.9 368.5 L1148.2 367.1 L1147.4 365.5 L1147.3 365.3 L1146.6 365.6 L1145.8 365.8 L1145.8 365.9 L1145 366.1 L1144.2 366.4 L1143.4 366.6 L1142.6 366.9 L1142.6 367 L1141.8 369.4 L1141.1 371.6 L1141 371.8 L1140.2 374.2 L1139.5 376.3 L1139.4 379 L1138.6 400.3 L1137.8 421.6 L1137.2 438.8 L1137 434.7 L1136.2 413.4 L1135.4 392 L1134.8 376.3 L1134.6 376.2 L1133.8 375.9 L1133 375.7 L1132.2 375.4 L1131.7 375.2 L1131.4 375.1 L1130.6 374.9 L1130.1 374.7 L1129.8 374.1 L1129 372.5 L1128.6 371.6 L1128.2 370.9 L1127.4 369.3 L1127 368.5 L1126.6 368.3 L1125.8 367.9 L1125.4 367.7 L1125 367.5 L1124.2 367.1 L1123.9 366.9 L1123.4 367.5 L1122.6 368.6 L1121.8 369.6 L1121 370.7 L1120.2 371.8 L1119.4 372.8 L1119.2 373.2 L1118.6 396.7 L1117.8 429.8 L1117 462.8 L1116.8 470.1 L1116.2 461.8 L1116 459.7 L1115.4 451.1 L1114.6 440.5 L1114.5 438.8 L1113.8 418.5 L1113 394.5 L1112.2 370.5 L1112.1 368.5 L1111.4 368.8 L1111.3 368.8 L1110.6 369.1 L1109.8 369.4 L1109 369.7 L1108.2 370 L1108.2 370.4 L1107.4 385.9 L1106.6 401.4 L1105.9 415.4 L1105.8 413.9 L1105.1 399.7 L1105 397.9 L1104.2 381.9 L1103.5 368.5 L1103.4 368.4 L1102.6 368.1 L1102 367.9 L1101.8 367.9 L1101 367.6 L1100.2 367.3 L1099.4 367.1 L1098.8 366.9 L1098.6 366.7 L1097.8 365.9 L1097.3 365.3 L1097 365.1 L1096.2 364.3 L1095.4 363.5 L1094.6 362.7 L1094.1 362.2 L1093.8 362.4 L1093 363 L1092.2 363.5 L1091.4 364 L1090.6 364.6 L1089.8 365.1 L1089.5 365.3 L1089 365.3 L1088.2 365.3 L1087.4 365.3 L1086.6 365.3 L1085.8 365.3 L1085 365.3 L1084.2 365.3 L1083.4 365.3 L1082.6 365.3 L1081.8 365.3 L1081.6 365.3 L1081 366.4 L1080.2 367.7 L1079.4 369.1 L1078.6 370.4 L1078.5 370.5 L1077.8 371.7 L1077 373.1 L1076.9 373.2 L1076.2 395.4 L1076.2 396.6 L1075.4 419.4 L1074.6 443.4 L1073.8 467 L1073.8 466.7 L1073 449.1 L1072.2 431.5 L1071.5 415.4 L1071.4 416.3 L1070.7 395.8 L1070.6 392.8 L1069.9 368.5 L1069.8 369.5 L1069.1 376.3 L1069 377.5 L1068.2 385.5 L1067.6 391.9 L1067.4 389.4 L1066.8 379.4 L1066.6 376.6 L1066 366.9 L1065.8 372 L1065 392.8 L1064.4 407.6 L1064.2 401.6 L1063.4 380.8 L1062.9 366.9 L1062.6 366.9 L1061.8 366.9 L1061.3 366.9 L1061 366.9 L1060.2 366.9 L1059.4 366.9 L1058.6 366.9 L1058.2 366.9 L1057.8 366.9 L1057 366.9 L1056.6 366.9 L1056.2 366.9 L1055.4 366.9 L1054.6 366.9 L1053.8 366.9 L1053.5 366.9 L1053 367.4 L1052.2 368.2 L1051.9 368.5 L1051.4 369 L1050.6 369.8 L1049.8 370.6 L1049.6 370.8 L1049 371.4 L1048.8 371.6 L1048.2 380.7 L1047.4 392.9 L1047.2 395.6 L1046.6 405.2 L1046.4 407.6 L1045.8 396.4 L1045 382.5 L1044.2 368.6 L1044.1 366.9 L1043.4 366.7 L1042.6 366.5 L1041.8 366.3 L1041 366.1 L1040.2 365.9 L1039.4 365.7 L1038.6 365.5 L1037.8 365.3 L1037.8 365.3 L1037 365.6 L1036.2 365.8 L1035.4 366 L1034.6 366.3 L1033.8 366.5 L1033 366.7 L1032.2 366.9 L1031.4 367.2 L1030.6 367.4 L1029.8 367.6 L1029 367.9 L1028.5 368 L1028.2 368.1 L1027.4 368.3 L1026.9 368.5 L1026.6 368.5 L1025.8 368.5 L1025 368.5 L1024.2 368.5 L1023.4 368.5 L1022.6 368.5 L1022.2 368.5 L1021.8 370.3 L1021 374.1 L1020.2 377.8 L1019.9 379.4 L1019.4 377.3 L1019.1 375.8 L1018.6 373.5 L1017.8 369.8 L1017.5 368.5 L1017 368.3 L1016.2 368.1 L1015.9 368.1 L1015.4 367.9 L1014.6 367.7 L1013.8 367.5 L1013 367.3 L1012.2 367.1 L1011.4 366.9 L1011.3 366.9 L1010.6 367.2 L1009.8 367.6 L1009.7 367.7 L1009 368 L1008.2 368.4 L1008.1 368.5 L1007.4 366.6 L1006.6 364.6 L1006.6 364.5 L1005.8 362.6 L1005 360.6 L1005 360.6 L1004.2 359.1 L1003.4 357.6 L1003.3 357.4 L1002.6 356 L1002.5 355.9 L1001.8 354.5 L1001.7 354.4 L1001 356.3 L1000.2 358.5 L1000.2 358.6 L999.4 360.6 L998.6 362.7 L997.8 364.9 L997 366.9 L997 367.3 L996.2 375.7 L995.4 384.1 L994.6 392.5 L993.9 399.7 L993.8 399 L993 393.8 L992.2 388.6 L991.4 383.4 L990.8 379.4 L990.6 381.2 L989.8 389.2 L989 397.2 L988.4 402.9 L988.2 405.2 L987.7 410.7 L987.4 407.5 L986.6 397.5 L985.8 387.5 L985 377.5 L984.5 371.6 L984.2 373.7 L983.4 378.9 L982.6 384.1 L981.8 389.3 L981.4 391.9 L981 394.3 L980.2 399.1 L979.4 403.9 L978.6 408.7 L978.3 410.7 L977.8 415.4 L977 423.4 L976.2 431.4 L975.4 439.4 L975.1 442 L974.6 432.8 L973.8 419.2 L973.6 415.4 L973 414.2 L972.8 413.8 L972.2 412.6 L972 412.3 L971.4 411 L971.2 410.7 L970.6 402.3 L969.8 391.6 L969.7 389.8 L969 380.9 L968.9 379.4 L968.2 383.9 L967.4 389.1 L967.3 389.6 L966.6 394.3 L965.8 399.5 L965.8 399.7 L965 392.2 L965 391.9 L964.2 384.2 L963.4 376.3 L963.4 376.2 L962.6 368.5 L962.6 368.6 L961.8 371.8 L961 375 L960.2 378.2 L959.4 381.4 L958.7 384.1 L958.6 383.8 L957.9 381.9 L957.8 381.5 L957 379.3 L956.2 377 L955.4 374.8 L954.8 373.2 L954.6 372.8 L953.8 371.6 L953 370.4 L952.2 369.2 L951.7 368.5 L951.4 373.1 L950.6 386.3 L949.8 399.5 L949 412.7 L948.6 420.1 L948.2 414.2 L947.4 401 L946.6 387.8 L945.8 374.6 L945.4 368.5 L945 368.5 L944.2 368.5 L943.4 368.5 L942.6 368.5 L941.8 368.5 L941 368.5 L940.7 368.5 L940.2 368.5 L939.4 368.5 L938.6 368.5 L937.8 368.5 L937.6 368.5 L937 367.9 L936.2 367.1 L935.4 366.3 L934.6 365.5 L934.5 365.3 L933.8 364.7 L933 363.9 L932.9 363.8 L932.2 372 L931.4 381.2 L931.3 381.8 L930.6 390.4 L929.8 399.6 L929.8 399.7 L929 397.1 L928.2 394.5 L928.2 394.5 L927.4 391.9 L927.4 391.3 L926.6 379.6 L925.9 369 L925.8 367.9 L925.1 357.5 L925 359.5 L924.2 376.3 L923.4 393.1 L922.6 409.9 L922 423.2 L921.8 421.5 L921 413.5 L920.2 405.5 L919.4 397.5 L918.8 391.9 L918.6 388.8 L917.8 378.4 L917 368 L916.2 357.6 L915.7 351.3 L915.4 351.5 L914.6 352.2 L913.8 352.9 L913 353.6 L912.2 354.3 L911.4 355 L910.6 355.6 L910.2 355.9 L909.8 355.6 L909 355 L908.2 354.3 L907.4 353.7 L906.6 353 L906.3 352.8 L905.8 363.9 L905 380.7 L904.2 397.5 L903.4 414.3 L903.2 418.5 L902.6 406.2 L901.8 389.8 L901 373.4 L900.2 357 L900.1 354.4 L899.4 353.7 L898.6 352.9 L898.5 352.8 L897.8 352.1 L897 351.3 L896.9 351.3 L896.2 352.7 L895.4 354.3 L894.6 355.9 L893.8 357.5 L893.8 357.5 L893 359.1 L892.3 360.6 L892.2 360.7 L891.5 362.2 L891.4 362.3 L890.7 363.8 L890.6 365.4 L889.8 380.3 L889 395.3 L888.3 407.6 L888.2 405.7 L887.6 397.1 L887.4 395 L886.6 384.4 L886 376.3 L885.8 374.2 L885 365.7 L884.4 359.6 L884.2 357.1 L883.6 351.3 L883.4 351.3 L882.6 351.3 L881.8 351.3 L881 351.3 L880.2 351.3 L879.7 351.3 L879.4 351.9 L878.6 353.5 L877.8 355.1 L877 356.7 L876.6 357.5 L876.2 358.3 L875.4 359.9 L875 360.6 L874.6 359.7 L873.8 358.1 L873.5 357.5 L873 356.5 L872.2 354.9 L871.9 354.4 L871.4 353.3 L870.6 351.7 L870.4 351.3 L869.8 352.6 L869 354.4 L868.8 354.9 L868.2 356.3 L867.4 358.2 L866.6 360 L865.8 361.9 L865.7 362.2 L865 360.7 L864.2 358.8 L863.4 356.9 L863.3 356.7 L862.6 355.1 L862.5 354.9 L861.8 353.2 L861 351.3 L861 351.3 L860.2 362.1 L859.4 373.2 L859.4 373.3 L858.6 384.1 L858.6 384.4 L857.8 392.9 L857 401.4 L856.3 409.1 L856.2 408.5 L855.4 402.7 L854.7 397.7 L854.6 396.8 L853.9 391.9 L853.8 389.5 L853.2 377.8 L853 375.1 L852.4 363.8 L852.2 363.7 L851.4 363.2 L850.8 362.8 L850.6 362.7 L849.8 362.2 L849 361.7 L848.5 361.4 L848.2 361.4 L847.4 361.3 L846.6 361.2 L845.8 361.1 L845 361 L844.2 360.9 L843.4 360.8 L842.6 360.7 L842.2 360.6 L841.8 362.5 L841 366.1 L840.2 369.7 L839.4 373.3 L839.1 374.7 L838.6 373.8 L838.3 373.2 L837.8 372.2 L837 370.6 L836.2 369 L835.4 367.4 L834.6 365.8 L834.4 365.3 L833.8 364.2 L833 362.6 L832.8 362.2 L832.2 362.2 L831.4 362.2 L831.3 362.2 L830.6 362.2 L829.8 362.2 L829 362.2 L828.2 362.2 L827.4 362.2 L827.3 362.2 L826.6 361.7 L826.6 361.7 L825.8 361.2 L825 360.6 L825 360.6 L824.2 360.1 L823.4 359.6 L822.6 359.1 L822.5 359.1 L821.8 359.1 L821.7 359.1 L821 359.1 L820.2 359.1 L819.4 359.1 L818.6 359.1 L817.8 359.1 L817 359.1 L817 359.1 L816.2 359.5 L815.5 359.9 L815.4 359.9 L814.7 360.2 L814.6 360.3 L813.9 360.6 L813.8 361.2 L813 365.2 L812.2 369.2 L811.4 373.2 L810.8 376.3 L810.6 377.2 L809.8 381.2 L809.2 384.1 L809 383.3 L808.2 380.5 L807.4 377.7 L806.6 374.9 L806.1 373.2 L805.8 372.8 L805 371.7 L804.2 370.6 L803.4 369.6 L803 369 L802.6 368.5 L801.8 367.4 L801.4 366.9 L801 368.5 L800.2 371.7 L799.4 374.9 L799.1 376.3 L798.6 378.1 L797.8 381.3 L797.5 382.5 L797 384.5 L796.2 387.7 L795.9 388.8 L795.4 405.9 L795.1 414.3 L794.6 432 L793.8 458.1 L793.6 465.4 L793 453.1 L792.8 448.7 L792.2 436.1 L791.4 419 L791.2 415.4 L790.6 409.1 L790.4 407.6 L789.8 401.1 L789.7 399.7 L789 393.1 L788.9 391.9 L788.2 384.6 L787.4 376.1 L786.6 367.5 L786.5 366.9 L785.8 367.1 L785.8 367.1 L785 367.3 L784.2 367.6 L783.4 367.8 L782.6 368 L782.6 368 L781.8 368.2 L781.1 368.5 L781 368.6 L780.2 370.2 L779.4 371.8 L778.6 373.4 L777.9 374.7 L777.8 374.4 L777 372.8 L776.2 371.2 L775.4 369.6 L774.8 368.5 L774.6 368.5 L773.8 368.5 L773.2 368.5 L773 368.5 L772.2 368.5 L771.4 368.5 L770.6 368.5 L770.1 368.5 L769.8 368.5 L769 368.5 L768.6 368.5 L768.2 368.9 L767.4 370 L766.6 371.1 L765.8 372.1 L765.4 372.6 L765 373.2 L764.2 374.3 L763.9 374.7 L763.4 373.8 L762.6 372.2 L761.8 370.6 L761.5 370 L761 372.6 L760.7 373.9 L760.2 376.6 L759.4 380.6 L758.6 384.6 L758.4 385.7 L757.8 410.3 L757.6 417.8 L757.3 426.3 L757 443.9 L756.8 451.3 L756.2 451.3 L755.4 451.3 L754.6 451.3 L753.8 451.3 L753 451.3 L752.2 451.3 L751.4 451.3 L750.6 451.3 L749.8 451.3 L749 451.3 L748.2 451.3 L747.4 451.3 L746.6 451.3 L745.8 451.3 L745 451.3 L744.2 451.3 L743.8 451.3 L743.4 444.1 L742.6 430.9 L741.8 417.7 L741.2 407.6 L741 406.5 L740.2 401.7 L739.4 396.9 L738.8 393.5 L738.6 395.7 L737.8 403.2 L737 410.6 L736.5 415.4 L736.2 412.5 L735.7 407.6 L735.4 404.5 L734.6 396.5 L734.1 391.9 L733.8 391.7 L733 391.2 L732.6 390.9 L732.2 390.6 L731.8 390.4 L731.4 392.8 L730.6 397.6 L729.8 402.4 L729.5 404.4 L729 402.4 L728.2 398.8 L727.9 397.4 L727.4 395.2 L726.6 391.6 L726.3 390.4 L725.8 390 L725 389.5 L724.8 389.3 L724.2 388.9 L724 388.8 L723.7 385 L723.4 381.8 L723.2 379.4 L722.6 372.2 L722.4 370 L721.8 362.6 L721.6 360.6 L721 364.9 L720.2 370.2 L720.1 371.1 L719.4 375.5 L719.3 376.3 L718.6 385.5 L718.5 386.7 L717.8 396.1 L717 406.8 L716.9 407.6 L716.2 392.5 L716.2 391.7 L715.4 376.2 L714.6 359.9 L714.6 359.9 L713.8 359.9 L713.8 359.9 L713 360 L712.2 360.1 L711.4 360.2 L710.6 360.3 L709.8 360.4 L709 360.5 L708.2 360.6 L707.6 360.6 L707.4 360.8 L706.6 361.4 L705.8 362 L705 362.6 L704.2 363.2 L703.4 363.8 L702.6 364.4 L701.8 365 L701.3 365.3 L701 365.9 L700.2 367.5 L699.4 369.1 L698.6 370.7 L698.2 371.6 L697.8 370.5 L697 368.3 L696.2 366.1 L695.4 363.8 L695 362.8 L694.6 361.6 L694.3 360.6 L693.8 360.6 L693 360.6 L692.2 360.6 L691.9 360.6 L691.4 360.6 L690.6 360.6 L689.8 360.6 L689 360.6 L688.2 360.6 L687.4 360.6 L686.6 360.6 L686.4 360.6 L685.8 362.6 L685.7 363 L685 365 L684.2 367.4 L683.4 369.8 L683.3 370 L682.6 377.9 L682.5 378.6 L681.8 386.7 L681 395.5 L681 395.8 L680.2 404.3 L680.2 404.4 L679.4 405.2 L679.4 405.2 L678.6 406 L678.6 406 L677.8 406.8 L677.8 406.8 L677.1 407.6 L677 407.3 L676.3 403.6 L676.2 403.3 L675.5 399.7 L675.4 399.3 L674.6 395.3 L673.9 391.9 L673.8 390.6 L673.2 384.1 L673 382.6 L672.2 374.6 L671.4 366.6 L670.8 360.6 L670.6 360.7 L669.8 360.8 L669 360.8 L668.2 360.9 L667.4 361 L666.6 361.1 L665.8 361.2 L665 361.3 L664.2 361.4 L663.8 361.4 L663.4 362.4 L662.6 364.6 L661.8 366.8 L661 369 L660.6 370 L660.2 369.3 L659.4 368 L658.6 366.8 L657.8 365.5 L657.5 365 L657 364.2 L656.7 363.8 L656.2 363.6 L655.4 363.4 L654.6 363.2 L654.4 363.2 L653.8 363 L653 362.8 L652.2 362.6 L651.4 362.4 L651.3 362.4 L650.6 362.2 L650.5 362.2 L649.8 367.9 L649 374.7 L648.2 381.5 L647.4 388.3 L647.3 388.8 L646.6 383.3 L645.8 377.4 L645 371.6 L645 371.5 L644.2 367.5 L643.4 363.5 L643.3 363 L642.6 363.1 L641.8 363.2 L641 363.2 L640.2 363.3 L639.4 363.4 L638.6 363.5 L637.8 363.6 L637 363.7 L637 363.7 L636.3 363.8 L636.2 364.2 L635.5 370.5 L635.4 371.2 L634.6 378.1 L633.9 384.1 L633.8 385.2 L633 393.2 L632.3 399.7 L632.2 401.2 L631.6 404.8 L631.4 403.6 L630.6 394.1 L629.8 382.9 L629.2 374.7 L629 371.7 L628.4 363.8 L628.2 368.9 L627.7 381 L627.4 386.5 L626.9 398.2 L626.6 404.1 L626.1 415.4 L625.8 414.8 L625.3 413.8 L625 413.2 L624.5 412.3 L624.2 411.6 L623.7 410.7 L623.4 404.5 L623 396.6 L622.6 390.1 L622.2 382.5 L621.8 375.7 L621.4 368.5 L621 377.2 L620.6 385.7 L620.2 394.8 L619.8 402.9 L619.4 412.4 L619.1 420.1 L618.6 418.3 L617.8 415.1 L617.5 413.8 L617 411.9 L616.7 410.7 L616.2 401.3 L615.4 386.3 L615.1 381.5 L614.6 371.4 L614.4 366.9 L613.8 377.5 L613 392.7 L612.8 396.6 L612.2 407.9 L612 411.5 L611.4 423.1 L611.2 426.3 L610.6 421.3 L609.8 414.9 L609.7 413.8 L609 408.5 L608.9 407.6 L608.2 399.3 L608.1 398.2 L607.4 389.7 L607.3 388.8 L606.6 380.1 L606.5 379.4 L605.8 389.5 L605.8 390 L605 400.3 L605 400.7 L604.2 411.2 L604.2 411.3 L603.4 422.1 L602.6 432.6 L602.6 432 L601.8 416.2 L601.8 415.2 L601.1 399.7 L601 398.4 L600.2 381.6 L599.8 373.5 L599.5 366.9 L599.4 368 L598.6 376.5 L597.9 383.6 L597.8 385 L597.2 391.9 L597 393.7 L596.2 402.7 L595.6 409.6 L595.4 411.8 L594.8 418.5 L594.6 417.8 L594 415.9 L593.8 415.1 L593.2 413.3 L593 412.5 L592.5 410.7 L592.2 405.1 L591.7 394 L591.4 388 L590.9 377.3 L590.6 370.9 L590.1 360.6 L589.8 367 L589 383 L588.6 391.9 L588.2 400.2 L587.4 418.8 L586.6 437.5 L586.2 446.7 L585.8 437.2 L585 418.5 L584.2 399.8 L583.9 391.9 L583.4 386.1 L582.6 375.9 L581.8 365.8 L581.5 362.2 L581 362 L580.7 361.9 L580.2 361.7 L579.4 361.4 L578.6 361 L577.8 360.7 L577.6 360.6 L577 362.2 L576.2 364.2 L576 364.5 L575.4 366.2 L574.6 368.2 L574.5 368.5 L573.8 372.9 L573 378.1 L572.9 378.6 L572.2 383.3 L571.4 388.5 L571.3 388.8 L570.6 389.5 L569.8 390.3 L569 391.1 L568.2 391.9 L568.2 391.7 L567.4 384.1 L566.6 376.5 L565.8 368.9 L565.1 362.2 L565 362.8 L564.3 366.9 L564.2 367.6 L563.5 371.6 L563.4 372.4 L562.7 376.3 L562.6 379.1 L561.8 394.5 L561.2 406.3 L561 409.8 L560.4 421.3 L560.2 425.2 L559.4 440.6 L558.8 451.3 L558.6 448.3 L557.8 437.9 L557.3 431 L557 427.5 L556.5 420.9 L556.2 417.1 L555.7 410.7 L555.4 408.5 L554.9 405.2 L554.6 402.9 L553.8 397.3 L553.4 394.3 L553 391.7 L552.6 388.8 L552.2 385.5 L551.4 378.5 L550.6 371.6 L550.2 368.5 L549.8 372.5 L549.5 375.8 L549 380 L548.2 387.5 L547.9 390.4 L547.4 394.9 L546.6 402.4 L546.3 405 L545.8 409.9 L545.5 412.3 L545 408.7 L544.2 403.5 L543.4 398.3 L543.2 397 L542.6 393.1 L542.4 391.9 L541.8 387.6 L541.6 386.4 L541 382 L540.2 376.4 L540.1 375.5 L539.4 370.8 L539.3 370 L538.6 386.5 L537.8 405.7 L537 424.9 L536.9 426.3 L536.2 421.4 L536.2 421.1 L535.4 416 L534.6 410.7 L534.6 410.7 L533.8 405.4 L533.8 405.3 L533 399.8 L532.2 394.4 L531.4 389 L530.7 384.1 L530.6 384 L529.8 383.2 L529 382.4 L528.2 381.6 L527.6 381 L527.4 383.5 L526.6 396.3 L525.8 409.1 L525 421.9 L524.4 431 L524.2 427.2 L523.4 413.8 L522.6 400.5 L522.1 391.9 L521.8 389.1 L521.3 384.1 L521 381.1 L520.2 373.1 L519.7 368.5 L519.4 374 L518.6 387.2 L518.2 394.3 L517.8 400.4 L517 413.6 L516.6 420.1 L516.2 412.4 L515.4 397.5 L515 390.9 L514.6 382.5 L514.3 376.3 L513.8 377 L513 378.2 L512.7 378.6 L512.2 379.4 L511.9 379.8 L511.4 380.6 L511.1 381 L510.6 395.6 L509.8 417.5 L509.6 423.7 L509 437.8 L508.8 435.2 L508.2 427.7 L507.4 413.6 L507.2 409.6 L506.6 395.4 L506.4 391.9 L505.8 384.2 L505.7 382.5 L505 374.6 L504.9 373.2 L504.2 365 L504.1 363.8 L503.4 364.1 L502.6 364.5 L502.5 364.5 L501.8 364.9 L501.8 364.9 L501 365.3 L501 365.3 L500.2 374.1 L499.4 383.1 L499.4 383.1 L498.6 391.9 L498.6 392.5 L497.8 410.1 L497 427.7 L496.3 443.5 L496.2 442 L495.4 427.1 L494.6 412.2 L493.9 399.7 L493.8 397.5 L493.2 386.4 L493 383.9 L492.4 373.2 L492.2 376.8 L491.6 389.8 L491.4 393.8 L490.6 410.9 L490 423.2 L489.8 416.9 L489.2 401.3 L489 394.5 L488.5 379.4 L488.2 395 L487.7 426.3 L487.4 424.1 L486.9 420.1 L486.6 417.7 L485.8 411.3 L485.3 407.6 L485 405.9 L484.2 401.9 L483.8 399.7 L483.4 397.9 L482.6 393.9 L482.2 391.9 L481.8 387.6 L481 379.1 L480.6 375.2 L480.2 370.5 L479.9 366.9 L479.4 366.8 L478.6 366.6 L477.8 366.4 L477 366.2 L476.2 366 L475.4 365.8 L474.6 365.6 L474.4 365.5 L473.8 365.4 L473.6 365.3 L473 368.1 L472.2 371.9 L471.4 375.6 L471.3 376.3 L470.6 390.7 L469.8 408.3 L469 425.9 L468.2 443.5 L468.1 445.1 L467.4 424 L466.6 400.8 L466.6 399.7 L465.8 382.8 L465 365.3 L465 365.5 L464.2 379 L463.4 392.5 L463.3 394.4 L462.6 406 L462.5 407.6 L461.8 423.2 L461 440.8 L460.9 442 L460.2 458.4 L460.2 459.2 L459.4 442.7 L458.6 425.5 L458.6 425.5 L457.8 408.3 L457 391.9 L457 391.6 L456.3 385.7 L456.2 385.2 L455.4 378.8 L454.7 373.2 L454.6 373.2 L453.9 373.8 L453.8 373.9 L453.1 374.4 L453 374.5 L452.2 375.1 L451.4 375.8 L450.8 376.3 L450.6 378.8 L449.8 390 L449 401.2 L448.4 409.1 L448.2 412.4 L447.7 420.1 L447.4 415 L446.6 399 L446.1 388.8 L445.8 383 L445.3 373.2 L445 374.6 L444.2 378.3 L443.4 382 L443 384.1 L442.6 387.7 L441.8 395.7 L441 403.7 L440.6 407.6 L440.2 403.4 L439.8 399.7 L439.4 395.4 L438.6 387.4 L437.8 379.4 L437.5 376.3 L437 381.1 L436.2 389.1 L435.4 397.1 L435.1 399.7 L434.6 393.8 L433.8 385 L433 376.2 L432.2 367.4 L432 365.3 L431.4 366.6 L430.6 368.2 L430.4 368.5 L429.8 369.8 L429 371.4 L428.9 371.6 L428.2 369.8 L427.4 367.6 L426.6 365.5 L426.5 365.3 L425.8 365.3 L425.8 365.3 L425 365.3 L424.2 365.3 L423.4 365.3 L422.6 365.3 L422.6 365.4 L421.8 366.6 L421 367.8 L420.2 369 L419.5 370 L419.4 370.3 L418.6 372.5 L417.9 374.4 L417.8 374.8 L417 377 L416.4 378.8 L416.2 379.3 L415.6 381 L415.4 380.2 L414.6 377 L413.8 373.8 L413.2 371.6 L413 371.2 L412.2 369.9 L411.4 368.6 L410.6 367.4 L410.1 366.6 L409.8 366.1 L409.3 365.3 L409 366.5 L408.6 368.1 L408.2 369.4 L407.4 372.3 L407 373.8 L406.6 375.2 L405.8 378.1 L405.4 379.4 L405 378.4 L404.2 376.5 L403.9 375.7 L403.4 374.5 L402.6 372.6 L401.8 370.7 L401.5 370 L401 371.4 L400.7 372.1 L400.2 373.5 L399.4 375.7 L399.2 376.3 L398.6 374.9 L397.8 372.9 L397.6 372.4 L397 370.9 L396.2 368.9 L396 368.5 L395.4 370.8 L394.6 373.6 L394.5 374.1 L393.8 376.5 L393 379.4 L392.2 382.3 L392.1 382.5 L391.4 395.2 L391.3 396.1 L390.6 409.1 L389.8 423 L389.8 423.2 L389 434.7 L388.2 446.1 L388.2 446.5 L387.4 454.9 L387.4 455.1 L386.7 451.3 L386.6 450.9 L385.8 444.5 L385.1 438.8 L385 437.2 L384.2 423.2 L383.4 409.2 L382.6 395.2 L382 384.1 L381.8 382.9 L381 377 L380.2 371.1 L379.6 366.9 L379.4 367.4 L378.8 368.8 L378.6 369.3 L377.8 371.3 L377.3 372.5 L377 373.2 L376.2 375.1 L375.7 376.3 L375.4 382.5 L374.6 398.5 L374.1 407.6 L373.8 414.5 L373.4 423.2 L373 429.5 L372.6 436.8 L372.2 443.4 L371.4 457.2 L371.3 458.4 L371 463.9 L370.6 456.3 L370.2 449.8 L369.8 441.9 L369 427.5 L368.2 413.1 L367.9 407.6 L367.4 399.7 L366.6 386.9 L366.3 382.5 L365.8 374.1 L365.5 370 L365 373.6 L364.2 378.8 L363.4 384 L363.2 385.3 L362.6 389.2 L362.4 390.4 L361.8 385.4 L361 379 L360.9 377.8 L360.2 372.6 L360.1 371.6 L359.4 371.8 L358.6 372 L358.5 372 L357.8 372.2 L357 372.4 L356.9 372.4 L356.2 385.9 L355.4 400.5 L355.4 400.9 L354.6 415.1 L354.6 415.2 L353.8 429.5 L353.8 429.5 L353 433.8 L352.3 437.8 L352.2 438.1 L351.5 442 L351.4 440.5 L350.6 423.4 L349.9 408.6 L349.8 406.4 L349.1 391.9 L349 390 L348.2 377.2 L347.6 366.9 L347.4 366.9 L346.6 367.1 L345.8 367.2 L345 367.3 L344.2 367.5 L343.4 367.6 L342.9 367.7 L342.6 367.7 L341.8 367.9 L341 368.1 L340.2 368.2 L339.7 368.3 L339.4 368.4 L339 368.5 L338.6 379.2 L337.8 403.2 L337 427.2 L336.6 438.8 L336.2 435.6 L335.4 429.2 L335 426.3 L334.6 425.9 L333.8 425.1 L333.5 424.8 L333 424.3 L332.2 423.5 L331.9 423.2 L331.4 418 L331.1 415.4 L330.6 410 L329.8 402 L329.6 399.7 L329 394 L328.8 391.9 L328.2 382.9 L327.4 370.6 L327.2 367.9 L326.6 358.3 L326.4 355.9 L325.8 356.1 L325 356.4 L324.2 356.6 L323.4 356.8 L322.6 357 L322.5 357.1 L321.8 357.3 L321 357.5 L321 357.5 L320.2 365.7 L319.4 374.2 L319.4 374.3 L318.6 382.8 L317.8 390.9 L317.8 391.3 L317 399.9 L316.3 407.6 L316.2 408.4 L315.4 416.4 L314.7 423.2 L314.6 424.4 L313.8 432.4 L313.2 438.8 L313 437.8 L312.4 433.6 L312.2 432.5 L311.4 427.2 L310.8 423.2 L310.6 423.2 L310 423.2 L309.8 423.2 L309 423.2 L308.5 423.2 L308.2 418 L307.4 402 L306.9 391.9 L306.6 389.4 L305.8 382.6 L305 375.8 L304.2 369 L303.8 365.3 L303.4 366.5 L302.6 369.1 L302.2 370.3 L301.8 371.6 L301 374.2 L300.2 376.7 L299.9 377.8 L299.4 377.9 L298.6 378.1 L297.8 378.3 L297 378.5 L296.2 378.7 L295.4 378.8 L294.6 379 L293.8 379.2 L293 379.4 L292.8 379.4 L292.2 380.3 L291.4 381.3 L290.6 382.4 L289.8 383.5 L289 384.6 L288.2 385.7 L288 386 L287.4 384.8 L286.6 383.2 L285.8 381.7 L285 380.1 L284.2 378.6 L283.4 377 L282.6 375.4 L282.4 375 L281.8 380.5 L281.6 382.3 L281 387.9 L280.2 395.4 L280 396.9 L279.4 402.6 L278.6 409.8 L278.5 411 L277.8 417 L277 424.2 L276.9 425.1 L276.2 416.6 L276.1 415.7 L275.4 407 L274.6 397.4 L274.6 396.9 L273.8 390.8 L273 384.4 L272.2 378.2 L272.2 378.3 L271.4 387 L271.4 387.4 L270.6 396.5 L269.9 404.7 L269.8 405.5 L269 414.7 L268.3 422.7 L268.2 423.9 L267.4 433.1 L266.7 440.7 L266.6 436.7 L266 418.8 L265.8 414.3 L265.2 396.9 L265 394.2 L264.4 384.8 L264.2 381.8 L263.6 372.7 L263.4 372.7 L262.6 372.8 L261.8 372.9 L261 373.1 L260.2 373.2 L259.4 373.3 L258.6 373.4 L258.1 373.5 L257.8 374.6 L257 377.3 L256.6 378.7 L256.2 379.9 L255.8 381.3 L255.4 383.9 L255 386.5 L254.6 389.2 L253.8 394.6 L253.4 396.9 L253 397.2 L252.2 397.8 L251.4 398.3 L250.6 398.8 L249.8 399.4 L249 399.9 L248.8 400 L248.2 401.5 L247.4 403.7 L246.6 405.8 L246.4 406.3 L245.8 399.6 L245.6 397.7 L245 390.8 L244.8 389.1 L244.2 386.1 L243.4 382.3 L242.6 378.6 L242.5 378.2 L241.8 379 L241 379.9 L240.9 380 L240.2 380.8 L239.4 381.8 L238.6 382.7 L237.8 383.6 L237.8 383.6 L237 383.5 L236.2 383.4 L235.4 383.2 L234.6 383.1 L233.8 383 L233.1 382.8 L233 383.1 L232.2 384.7 L231.4 386.3 L230.6 387.9 L230 389.1 L229.8 389.5 L229.2 390.7 L229 391.1 L228.2 392.7 L227.4 394.3 L226.9 395.4 L226.6 395.9 L225.8 397.5 L225.3 398.5 L225 402.4 L224.2 413 L223.7 419.1 L223.4 423.5 L222.6 434.1 L221.8 444.6 L221.4 450.1 L221 449.8 L220.6 449.6 L220.2 449.3 L219.4 448.8 L219 448.5 L218.6 448.1 L217.8 447.3 L217.5 447 L217 443.1 L216.7 440.7 L216.2 436.7 L215.4 430.3 L214.6 423.9 L214.3 421.9 L213.8 421.5 L213 420.8 L212.2 420.1 L211.4 419.4 L211.2 419.3 L210.6 418.7 L209.8 418 L209.7 417.9 L209 417.4 L208.9 417.3 L208.2 417.6 L208.1 417.6 L207.4 417.9 L206.6 418.3 L205.8 418.6 L205 419 L205 419 L204.2 419.3 L203.4 419.7 L202.6 420 L202.6 420 L201.8 420.4 L201.8 420.7 L201.4 423.8 L201 426.5 L200.3 431.8 L200.2 432.4 L199.5 437.6 L199.4 437.5 L198.6 436.6 L197.9 435.8 L197.8 435.6 L197 434.7 L196.2 433.8 L195.6 433.1 L195.4 432.9 L194.6 432 L194 431.3 L193.8 430.1 L193.2 426.8 L193 425.4 L192.2 420.8 L191.4 416.1 L190.9 413.2 L190.6 411.5 L190.1 408.6 L189.8 409.8 L189 412.9 L188.2 415.9 L187.8 417.6 L187.4 418.9 L186.6 422 L186.2 423.5 L185.8 424.5 L185 426.5 L184.6 427.4 L184.2 428.5 L183.4 430.5 L183.1 431.3 L182.6 427.1 L182.3 424.3 L181.8 419.9 L181.5 417.3 L181 412.7 L180.7 410.2 L180.2 412.2 L179.9 413.2 L179.4 415.2 L178.6 418.3 L178.4 419.1 L177.8 421.3 L177 424.4 L176.8 425.1 L176.2 423.8 L175.4 422.2 L175.3 421.9 L174.6 420.6 L173.8 419 L173.7 418.8 L173 417.4 L172.9 417.3 L172.2 418.7 L171.4 420.3 L170.6 421.9 L170.6 421.9 L169.8 423.5 L169 425.1 L169 425.1 L168.2 431 L167.4 436.8 L167.4 437 L166.6 442.7 L166.6 443 L166.2 446.2 L165.9 443.2 L165.8 442.5 L165 434.9 L164.3 428.2 L164.2 427.4 L163.4 420.8 L162.6 414.2 L162 408.8 L161.8 407.6 L161.2 402.4 L161 403.1 L160.2 406.1 L159.4 409.2 L158.6 412.3 L158 414.4 L157.8 415.3 L157 418.4 L156.5 420.4 L156.2 423 L155.4 430.5 L154.9 435 L154.6 438 L154.1 442.3 L153.8 435.2 L153.4 425.9 L153 418.4 L152.6 409.4 L152.2 409.4 L151.8 409.4 L151.4 409.4 L150.6 409.4 L149.8 409.4 L149 409.4 L148.7 409.4 L148.2 409.4 L147.4 409.4 L147.1 409.4 L146.6 410.2 L145.8 411.5 L145.5 411.9 L145 412.8 L144.2 414.1 L143.4 415.3 L143.2 415.7 L142.6 415.1 L142.4 414.9 L141.8 414.3 L141 413.5 L140.8 413.3 L140.2 412.7 L139.4 411.9 L139.3 411.8 L138.6 412.5 L137.8 413.3 L137 414.1 L136.2 414.9 L136.2 414.9 L135.4 415.7 L135.4 415.7 L134.6 403.4 L133.8 390.7 L133.8 390.7 L133 394.3 L133 394.4 L132.2 398.2 L131.5 401.6 L131.4 401 L130.6 392.2 L129.9 384.4 L129.8 383.4 L129.1 375.8 L129 375.9 L128.3 376.3 L128.2 376.4 L127.4 376.9 L126.8 377.4 L126.6 377.4 L125.8 377.5 L125 377.7 L124.2 377.8 L123.6 377.9 L123.4 377.9 L122.6 378.1 L122.1 378.2 L121.8 378.5 L121 379.6 L120.5 380.2 L120.2 380.7 L119.7 381.3 L119.4 390.1 L118.9 402.1 L118.6 411.4 L117.8 432.7 L117.4 437.6 L117 441 L116.2 448.2 L115.4 453.8 L114.6 457.8 L114.3 459.5 L113.8 431.2Z" fill="#1cf47f" stroke="#1cf47f"/>
<path d="M114 892 L115.6 893 L117.3 893.3 L118.9 892.4 L120.6 893.1 L122.2 893.8 L123.9 892.9 L125.5 893.3 L127.2 893 L128.8 893.8 L130.5 893.3 L132.1 892.6 L133.7 893.2 L135.4 893.6 L137 892.7 L138.7 891.1 L140.3 892.7 L142 894 L143.6 892.4 L145.3 893.8 L146.9 892.3 L148.6 893.9 L150.2 894.1 L151.9 894 L153.5 892.4 L155.1 893.1 L156.8 893.1 L158.4 892.4 L160.1 886.8 L161.7 885.9 L163.4 891.7 L165 893.7 L166.7 893.9 L168.3 894.4 L170 893.2 L171.6 893.9 L172.5 864.6 L174.5 866.1 L176.4 865.7 L178.4 866.1 L179.9 893 L182 864.9 L183.5 892.6 L185.7 866 L187.3 865.7 L188.9 866.5 L190.5 865.9 L192.1 866.7 L193.7 865.8 L195.3 865.2 L196.8 889.8 L198.5 888.6 L200.2 891.1 L201.9 892.9 L203.6 893.9 L205.3 892.7 L207 892.4 L208 909.3 L209.7 908.4 L211.3 906.6 L213 908.2 L214.6 908.6 L216.3 908.7 L217.9 909.4 L219.6 909.3 L221.3 908 L222.9 907.2 L224.6 908.4 L226.2 909 L227.9 910 L229.5 908.9 L231.2 906.9 L232.9 907.8 L234.5 907.1 L236.2 907.6 L237.8 906.4 L239.5 908.7 L241.1 909.3 L242.8 910.4 L243.8 894.5 L245.6 893.5 L247.4 892.5 L249.2 890.8 L251 892.4 L252.4 907.9 L254.1 909 L255.7 908.2 L257.4 909.4 L259.1 910.6 L260.7 910.3 L262.4 908.3 L264.1 908.5 L265.7 911.2 L267.4 911.6 L269 912.4 L270.7 911.5 L272.4 912.7 L274 912.5 L275.7 910.6 L276.8 967.5 L278.5 967.7 L280.3 968.8 L282 971.3 L283.7 972.8 L285.4 971.9 L287.2 970.3 L288.9 967.8 L290.3 964.5 L291.9 965.9 L293.5 962.5 L295.1 964.4 L296.7 963 L298.3 964.8 L300 965.9 L301.6 966.4 L303.2 964.9 L304.8 967.2 L306.4 966.2 L308 960.5 L309.3 909.9 L310.6 964.8 L312.2 964.1 L313.9 965.2 L315.5 962 L317.2 961.2 L318.8 964.2 L320.4 964.9 L322.1 966.9 L323.7 964.2 L325.4 965.1 L327 964.4 L328.7 964.5 L330.3 966.9 L331.9 963.4 L333.6 962.9 L335.2 960.3 L336.9 958.9 L338.5 958.9 L339.8 971.5 L341.4 972.7 L343.1 969.4 L344.7 970.1 L346.3 971.1 L347.9 968.5 L349.6 971.1 L351.2 972.2 L352.8 969.6 L354.4 968.5 L356.1 968.8 L357.7 970.6 L359.3 972 L360.9 972 L362.6 971 L364.2 971.2 L365.8 968 L367.4 963.8 L369.1 967 L370.7 971.1 L372.3 972.2 L373.9 970.6 L375.6 968.9 L377.2 968.5 L378.8 968.9 L380.4 970.9 L382.1 970.9 L383.7 970.9 L385.3 969.9 L386.9 970.7 L388.6 969.3 L390.2 965.4 L391.8 966.9 L393.4 967.2 L395.1 968.9 L396.7 971.2 L398.3 971.4 L399.9 968.7 L401.6 968.2 L403.2 969.7 L404.8 969.7 L406.4 969.2 L408.1 968.9 L409.7 967 L411.3 967 L412.3 962.1 L413.9 963 L415.6 963.9 L417.2 964.9 L418.8 963.9 L420.4 964.7 L422.1 962 L423.7 960.6 L425.3 963.5 L426.3 972.9 L427.9 971 L429.5 966.9 L431.1 968.5 L432.7 968.9 L434.3 966.2 L435.9 963.4 L437.5 968.1 L439.1 970.6 L440.7 969.9 L442.3 970.5 L443.9 970.3 L445.5 971.5 L447.1 970.2 L448.7 968.5 L450.3 968.6 L451.9 969.3 L453.5 970.1 L455.1 971.9 L456.7 970.8 L458.4 971.1 L460 967.8 L461.6 969 L463.2 970.1 L464.8 970.4 L466.4 967.2 L468 965.6 L469.6 969.4 L471.2 969.6 L472.8 966.6 L474.4 966.5 L476 968.9 L477.6 970.4 L479.2 970.1 L480.8 971.3 L482.4 968.9 L484 966.8 L485.6 969.4 L487.2 971.8 L488.8 971 L490.4 967.1 L492 967.8 L493.6 969.8 L495.2 969.6 L496.8 969.3 L498.4 968.6 L500 964 L501.6 963 L503.2 969.6 L504.8 970.6 L506.4 970.8 L508 970.7 L509.6 969.3 L511.2 968.7 L512.8 969.8 L514.4 967 L516 968.3 L517.6 970.1 L519.2 971.2 L520.9 971.6 L522.5 970.6 L524.1 967.6 L525.7 968.6 L527.3 971.9 L528.9 970.2 L530.5 969.7 L532.1 969.2 L533.7 966.3 L535.3 968.3 L536.9 969.8 L538.5 970.5 L540.1 969.6 L541.7 967.3 L543.3 965.3 L544.9 967.4 L546.5 970.6 L548.1 972.3 L549.7 970.1 L551.3 965.5 L552.7 953.3 L554.4 956.8 L556 962.2 L557.7 963.4 L559.4 964.5 L561 964.5 L562.7 964.5 L564.4 965.5 L566 964.6 L567.7 965.7 L569.4 965.2 L571 964.2 L572.7 963.3 L574.4 962 L576 961.2 L577.7 963.5 L579.4 964.9 L581 963.1 L582.7 961.1 L584.4 962.9 L586 964.4 L587.7 964.7 L589 970.3 L590.7 966.3 L592.4 967.5 L594.1 966.1 L595.8 964.9 L597.5 968.1 L599.2 969.6 L600.9 968.9 L602.6 964.7 L604.3 967.6 L606 971.4 L607.3 962.9 L608.9 963.7 L610.6 964.1 L612.2 964.4 L613.8 961.8 L615.5 961.9 L617.1 963.3 L618.7 961 L620.4 960.7 L622 961.2 L623.2 970.7 L624.8 970.9 L626.4 966.7 L628 965.4 L629.6 970.6 L631.2 970.5 L632.8 971.2 L634.4 971.2 L636 968.7 L637.7 969.5 L639.3 968.2 L640.9 967.1 L642.5 966.4 L644.1 969.2 L645.7 969.9 L647.3 970.6 L648.9 968.5 L650.5 968.3 L652.1 969.1 L653.7 969 L655.3 968.5 L656.9 965.9 L658.5 965.2 L660.1 966.2 L661.7 966.7 L663.3 967.3 L664.9 971.4 L666.5 970 L668.2 969.8 L669.8 968.8 L671.4 970.6 L673 971.2 L674.6 968.7 L676.2 969.1 L677.8 968.3 L679.4 968 L681 970.2 L684 910.7 L686.5 966.9 L688.1 965.4 L689.8 968.4 L691.4 970.8 L693.1 967.9 L694.7 964.2 L696.4 968.7 L698 970.7 L699.7 969.7 L701.3 969.7 L703 966.6 L704.6 965.1 L706.2 967.1 L707.9 968.8 L709.5 968.6 L711.2 970.5 L712.8 969.4 L714.5 968.1 L716.1 968.3 L717.8 970.1 L719.4 970.8 L721.1 970.9 L722.7 969.2 L724.5 945.5 L726.2 947 L728 951.9 L729.8 952.9 L731.5 950.4 L733.2 950.2 L735 948.8 L736.5 967.5 L738 951.7 L739.7 953.3 L741.3 953.5 L743 952 L744.7 949.7 L746.3 950.5 L748 951.9 L750 944.4 L751.5 917 L753.5 969.3 L755.1 968.5 L756.7 969.3 L758.4 967.4 L760 966.6 L761.6 967.7 L763.2 968.8 L764.8 968.9 L766.4 967.3 L768.1 967.8 L769.7 970.7 L771.3 970.5 L772.9 969.7 L774.5 970.3 L776.1 970 L777.8 968.9 L779.4 968.6 L781 968.3 L782.6 970.2 L784.2 970 L785.9 970.2 L787.5 969.4 L789.1 969.2 L790.7 967.5 L792.3 967.3 L793.9 969.3 L795.6 966.9 L797.2 965.4 L798.8 969 L800.4 966.1 L802 967.3 L803.7 967.6 L805.3 967.5 L806.9 969.2 L808.5 967.2 L810.1 964 L811.7 965.7 L813.4 969.8 L815 969 L816.6 968.8 L818.2 966.5 L819.8 968.1 L821.4 966.4 L823.1 959.5 L824.7 966.8 L826.3 970.8 L827.7 961.6 L829.6 959 L831.4 956.5 L833.2 960.1 L835.1 962.9 L836.9 961.6 L838.8 963.1 L840.2 969.6 L841.9 970.4 L843.5 969.8 L845.2 967.7 L846.9 966.7 L848.5 968.8 L850.2 968 L851.8 967.3 L853.5 967.3 L855.2 968.2 L856.8 968.2 L858.5 968.2 L859.3 909.8 L860.2 967.4 L861.8 967.1 L863.5 968.3 L865.1 969.9 L866.8 964.8 L868.4 960.1 L870.1 962.7 L871.7 966.4 L873.4 968.5 L875 967.1 L876.7 961.4 L878.3 964.1 L880 964.5 L881.6 965 L883.2 967.4 L884.9 968.9 L886.5 968.3 L888.2 966.8 L889.8 965.7 L891.5 963.8 L893.1 967.4 L894.8 969.4 L896.4 966.2 L898.1 965.4 L899.7 967.8 L901.4 967.2 L903 967.5 L904.7 966.2 L906.3 964.7 L907.3 958.2 L908.3 965.6 L909.9 964 L911.6 966.5 L913.2 965.5 L914.8 966.7 L916.5 968.6 L918.1 966.3 L919.7 967 L921.4 967.9 L923 967.7 L924.6 969.1 L926.3 968.4 L927.9 968.2 L929.5 967.5 L931.1 967.4 L932.8 966 L934.4 968.5 L936 968 L937.7 965.9 L939.3 963.4 L940.9 964.3 L942.6 964 L944.2 968.6 L945.8 966.7 L947.5 964.3 L949.1 964.6 L950.7 966.2 L952.4 966.5 L954 964.4 L955.6 966.5 L957.3 966.9 L958.9 967.1 L960.5 966.9 L962.2 969.3 L963.8 965.9 L965.4 963.3 L967 963.5 L968.7 964.9 L970.3 963.7 L971.9 965.7 L973.6 967.5 L975.2 967 L976.8 964.5 L978.5 965.2 L980.1 966.1 L981.7 963.9 L983.4 964.1 L985 964.9 L986 914.3 L987 965.8 L988.6 967.9 L990.2 968.1 L991.8 966.3 L993.4 963.7 L995 966.1 L996.6 966.5 L998.2 966.3 L999.9 969.2 L1001.5 966.9 L1003.1 963.7 L1004.7 966.5 L1006.3 969.3 L1007.9 967.4 L1009.5 963.4 L1011.1 964.2 L1012.7 965.9 L1014.3 965 L1015.9 967 L1017.5 965.5 L1019.1 961.7 L1020.7 965.1 L1022.3 966.3 L1023.9 962.9 L1025.6 956.8 L1027.2 960.2 L1028.8 965.7 L1030.4 966.6 L1032 965.2 L1033.6 965.2 L1035.2 966 L1036.8 965.5 L1037.8 915.1 L1038.8 967.4 L1040.9 967.2 L1043 962.3 L1044 955.2 L1045 963.3 L1046.6 966.7 L1048.2 967.1 L1049.8 967.4 L1051.4 967 L1053 965 L1054.6 965.6 L1056.3 965.1 L1057.9 963.6 L1059.5 967 L1061.1 968.3 L1062.7 965.9 L1064.3 962.7 L1065.9 960.7 L1067.5 965.4 L1069.1 965.4 L1070.7 967.9 L1072.3 967.2 L1073.9 965 L1075.5 965.6 L1077.2 966.2 L1078.8 961.6 L1080.4 965.6 L1082 967.5 L1083.6 967.2 L1085.2 967.3 L1086.8 968.5 L1088.4 967.8 L1090 967.2 L1091.6 965.6 L1093.2 962.4 L1094.8 965.6 L1096.4 968.1 L1098.1 966.9 L1099.7 967.8 L1101.3 966.4 L1102.9 966.7 L1104.5 966.1 L1106.1 967.3 L1107.7 967.6 L1109.3 967.8 L1110.9 967.3 L1112.5 968.3 L1114.1 966.6 L1115.7 966 L1117.3 967.7 L1119 966.7 L1120.6 967.1 L1122.2 965.1 L1123.8 966.5 L1125.4 965.9 L1127 966.3 L1128.6 963.5 L1130.2 964.3 L1131.8 964.8 L1133.4 964.2 L1135 964 L1136.6 964.6 L1138.2 966.3 L1139.9 965.5 L1141.5 965.1 L1143.1 965.3 L1144.7 963.1 L1146.3 962.1 L1147.9 961 L1149.5 964.9 L1151.1 966.7 L1152.7 966 L1154.3 966.8 L1155.9 966.1 L1157.5 964.9 L1159.1 965.5 L1160.8 965.5 L1162.4 965.6 L1164 965.7 L1165.6 965.5 L1167.2 964.9 L1168.8 965.9 L1170.4 966.3 L1172 967.3 L1173.6 966.7 L1175.2 964.9 L1176.8 963.1 L1178.4 965.5 L1180 967.3 L1181.7 966.4 L1183.3 967.6 L1184.9 966.6 L1186.5 966.1 L1188.1 963.3 L1189.7 964.3 L1191.3 964 L1192.9 967.6 L1194.5 965.3 L1196.1 967 L1197.7 966.3 L1199.3 967.2 L1200.9 963.4 L1202.6 962 L1204.2 964.8 L1205.8 965.5 L1207.4 964.3 L1209 963.9 L1210.6 961.1 L1212.2 963.9 L1213.8 966 L1215.4 967.8 L1217 967.4 L1218.6 967 L1220.2 968.2 L1221.8 967.9 L1223.5 967 L1225.1 966 L1226.7 965.7 L1228.3 964.1 L1229.9 963.1 L1231.5 963.7 L1233.1 962.2 L1234.7 961.1 L1236.3 962.8 L1237.9 964.1 L1239.5 962.3 L1241.1 962.7 L1242.7 965.2 L1244.4 967.8 L1246 966.2 L1247.6 963 L1249.2 963.2 L1250.8 964.5 L1252.4 965 L1254 964.8 L1255.2 914.7 L1256.9 914.5 L1258.6 913.1 L1260.4 914.1 L1262.1 915.5 L1263.8 915.1 L1264.8 965.9 L1266.5 966.7 L1268.2 968 L1269.9 964.7 L1271.6 964.6 L1273.2 964.2 L1274.9 963.1 L1276.6 968.3 L1278.3 967.9 L1280 967.1 L1281.2 925.8 L1283.2 967.6 L1283.2 910.3 L1281.2 869.7 L1280 910.2 L1278.3 910.1 L1276.6 910.4 L1274.9 906.4 L1273.2 906 L1271.6 908 L1269.9 908.1 L1268.2 910.3 L1266.5 910.4 L1264.8 910 L1263.8 915.1 L1262.1 915.5 L1260.4 914.1 L1258.6 913.1 L1256.9 914.5 L1255.2 914.7 L1254 908.4 L1252.4 908 L1250.8 906.3 L1249.2 906.4 L1247.6 905.8 L1246 907.7 L1244.4 910.7 L1242.7 908.4 L1241.1 907.2 L1239.5 909.5 L1237.9 910.5 L1236.3 910 L1234.7 909.4 L1233.1 909 L1231.5 907 L1229.9 907.3 L1228.3 910.1 L1226.7 910 L1225.1 909.9 L1223.5 910.3 L1221.8 909.9 L1220.2 910.4 L1218.6 910.7 L1217 910.6 L1215.4 909.8 L1213.8 910.2 L1212.2 910.5 L1210.6 911.8 L1209 910.1 L1207.4 909.2 L1205.8 910.1 L1204.2 909.1 L1202.6 905.3 L1200.9 906.4 L1199.3 909.8 L1197.7 910 L1196.1 909.9 L1194.5 910 L1192.9 910.5 L1191.3 908.5 L1189.7 910.2 L1188.1 907.9 L1186.5 909.5 L1184.9 910.7 L1183.3 909.9 L1181.7 910.2 L1180 910.2 L1178.4 909.3 L1176.8 910.9 L1175.2 910.8 L1173.6 909.8 L1172 909.6 L1170.4 909.1 L1168.8 908.6 L1167.2 910.6 L1165.6 910.4 L1164 909.8 L1162.4 909.8 L1160.8 908.5 L1159.1 910.3 L1157.5 909.4 L1155.9 908.4 L1154.3 910 L1152.7 909.1 L1151.1 910.1 L1149.5 907.9 L1147.9 903.7 L1146.3 905.4 L1144.7 905.9 L1143.1 908.6 L1141.5 907.8 L1139.9 908.2 L1138.2 909.4 L1136.6 908.3 L1135 909.4 L1133.4 907.2 L1131.8 907.9 L1130.2 907.3 L1128.6 907.2 L1127 908.3 L1125.4 909.7 L1123.8 909.6 L1122.2 908.8 L1120.6 910 L1119 910.2 L1117.3 910 L1115.7 910 L1114.1 910.4 L1112.5 911 L1110.9 910.1 L1109.3 910.1 L1107.7 910.4 L1106.1 910.2 L1104.5 908.2 L1102.9 909.8 L1101.3 909.3 L1099.7 909.7 L1098.1 910.4 L1096.4 910 L1094.8 907.9 L1093.2 906.3 L1091.6 908.4 L1090 909.8 L1088.4 911.6 L1086.8 910.5 L1085.2 909.9 L1083.6 910.3 L1082 910.5 L1080.4 910.6 L1078.8 910.8 L1077.2 910.3 L1075.5 908.5 L1073.9 909.9 L1072.3 911.4 L1070.7 910.7 L1069.1 909.7 L1067.5 908.9 L1065.9 906 L1064.3 905.7 L1062.7 909.4 L1061.1 910.4 L1059.5 909.5 L1057.9 908.5 L1056.3 909.8 L1054.6 909.6 L1053 909.1 L1051.4 909.6 L1049.8 911 L1048.2 910.2 L1046.6 910.5 L1045 909.2 L1044 903.7 L1043 907.9 L1040.9 909.1 L1038.8 911.7 L1037.8 915.1 L1036.8 910 L1035.2 910.5 L1033.6 911.3 L1032 910.1 L1030.4 911 L1028.8 909.9 L1027.2 908.7 L1025.6 911.3 L1023.9 910 L1022.3 909.1 L1020.7 910 L1019.1 909.6 L1017.5 910.9 L1015.9 910.9 L1014.3 908.7 L1012.7 908.2 L1011.1 906.9 L1009.5 906.5 L1007.9 909.6 L1006.3 912.3 L1004.7 909.4 L1003.1 905.9 L1001.5 909.1 L999.9 911.5 L998.2 909.5 L996.6 910.4 L995 910.6 L993.4 910.5 L991.8 911.5 L990.2 910.3 L988.6 910.6 L987 908.5 L986 914.3 L985 908.2 L983.4 907.5 L981.7 907.3 L980.1 908.6 L978.5 908.3 L976.8 907.8 L975.2 909.8 L973.6 911.8 L971.9 909.2 L970.3 907 L968.7 908.6 L967 907.9 L965.4 910.3 L963.8 910 L962.2 911.7 L960.5 910.5 L958.9 910 L957.3 910.1 L955.6 909.1 L954 909.7 L952.4 909.5 L950.7 909.8 L949.1 909 L947.5 908 L945.8 909.6 L944.2 911.4 L942.6 908.1 L940.9 907.2 L939.3 905.7 L937.7 909.1 L936 910.5 L934.4 911.1 L932.8 909.2 L931.1 910.7 L929.5 910.8 L927.9 910.7 L926.3 911.3 L924.6 911.4 L923 909.7 L921.4 911.3 L919.7 910 L918.1 908.8 L916.5 910.6 L914.8 909.6 L913.2 908.5 L911.6 909 L909.9 907.1 L908.3 907.7 L907.3 901.5 L906.3 907.1 L904.7 909.4 L903 910.2 L901.4 911.1 L899.7 911 L898.1 908 L896.4 909.8 L894.8 911.4 L893.1 910 L891.5 907.4 L889.8 908.2 L888.2 910.4 L886.5 911.6 L884.9 911.7 L883.2 909.9 L881.6 910.7 L880 911.7 L878.3 911.3 L876.7 911 L875 911.5 L873.4 910.6 L871.7 910.5 L870.1 905.4 L868.4 902.6 L866.8 906.9 L865.1 911 L863.5 912.2 L861.8 911.2 L860.2 911.7 L859.3 909.8 L858.5 911.5 L856.8 911 L855.2 910 L853.5 909.3 L851.8 910 L850.2 910.8 L848.5 911.8 L846.9 911.3 L845.2 911.2 L843.5 911.5 L841.9 912.3 L840.2 912.1 L838.8 906 L836.9 905.5 L835.1 905 L833.2 904.5 L831.4 903.9 L829.6 903.4 L827.7 904.6 L826.3 913 L824.7 908.5 L823.1 902.9 L821.4 909 L819.8 910.8 L818.2 909.4 L816.6 910.2 L815 912.6 L813.4 911.5 L811.7 909.7 L810.1 911.5 L808.5 911.5 L806.9 911.6 L805.3 910.7 L803.7 911.1 L802 910.5 L800.4 909.7 L798.8 911.4 L797.2 908.7 L795.6 909.3 L793.9 911.1 L792.3 909.9 L790.7 910.2 L789.1 911.7 L787.5 911.4 L785.9 911.8 L784.2 911.8 L782.6 912.2 L781 912.2 L779.4 911.6 L777.8 910.9 L776.1 912.5 L774.5 912.7 L772.9 912.5 L771.3 913 L769.7 912.7 L768.1 910.9 L766.4 910.1 L764.8 911.2 L763.2 910.9 L761.6 909.2 L760 908.9 L758.4 910.6 L756.7 911.7 L755.1 911.2 L753.5 911.4 L751.5 917 L750 885.7 L748 894.3 L746.3 894.2 L744.7 895.5 L743 895.6 L741.3 895.9 L739.7 896.1 L738 895.7 L736.5 910.7 L735 891.4 L733.2 893.2 L731.5 893.2 L729.8 894.2 L728 894.5 L726.2 889.6 L724.5 887.4 L722.7 911 L721.1 913.2 L719.4 912.9 L717.8 912.7 L716.1 911.9 L714.5 912.6 L712.8 912.9 L711.2 912.5 L709.5 911.7 L707.9 910.9 L706.2 909.4 L704.6 906.8 L703 908.8 L701.3 911.6 L699.7 913.2 L698 913.6 L696.4 913.3 L694.7 912.7 L693.1 912.3 L691.4 912.7 L689.8 910.7 L688.1 910.2 L686.5 911.4 L684 910.7 L681 912 L679.4 910.9 L677.8 910.4 L676.2 910.7 L674.6 912.6 L673 913.7 L671.4 913.1 L669.8 911.9 L668.2 913.1 L666.5 912.5 L664.9 913.2 L663.3 910.5 L661.7 909.2 L660.1 910.4 L658.5 912.6 L656.9 910.3 L655.3 910.5 L653.7 910.8 L652.1 911.2 L650.5 910.2 L648.9 912.3 L647.3 912.9 L645.7 913.4 L644.1 913.4 L642.5 911 L640.9 909 L639.3 910.1 L637.7 912 L636 911.3 L634.4 913.2 L632.8 912.8 L631.2 912.5 L629.6 912.7 L628 908 L626.4 909.2 L624.8 911.2 L623.2 913.3 L622 905.2 L620.4 902.4 L618.7 903.1 L617.1 905.9 L615.5 906.6 L613.8 905.7 L612.2 906.3 L610.6 906.3 L608.9 905.5 L607.3 905.7 L606 911.3 L604.3 909.4 L602.6 907.4 L600.9 910.9 L599.2 911.8 L597.5 910.2 L595.8 908.2 L594.1 910.4 L592.4 911.8 L590.7 910.4 L589 912.1 L587.7 907.1 L586 906.2 L584.4 905.6 L582.7 904.1 L581 905.7 L579.4 907 L577.7 906.3 L576 905.8 L574.4 905.4 L572.7 904.9 L571 906 L569.4 907 L567.7 906.9 L566 906.7 L564.4 907.2 L562.7 906.4 L561 906.3 L559.4 906 L557.7 905.2 L556 904.5 L554.4 904.6 L552.7 906.5 L551.3 911.7 L549.7 912.7 L548.1 914 L546.5 911.8 L544.9 910 L543.3 907.1 L541.7 908.9 L540.1 912.2 L538.5 911.4 L536.9 912.5 L535.3 913.6 L533.7 913.7 L532.1 913.2 L530.5 911.9 L528.9 911.6 L527.3 912.6 L525.7 911.2 L524.1 912.6 L522.5 913.1 L520.9 913 L519.2 912.5 L517.6 911.5 L516 912.2 L514.4 912.1 L512.8 912.9 L511.2 910.7 L509.6 911.2 L508 912.6 L506.4 913.5 L504.8 912.9 L503.2 911 L501.6 904.6 L500 906.5 L498.4 911.4 L496.8 911.5 L495.2 912.5 L493.6 913.1 L492 912.7 L490.4 911.7 L488.8 912.4 L487.2 913.4 L485.6 912.4 L484 909.8 L482.4 911.5 L480.8 913.4 L479.2 912.5 L477.6 912 L476 912 L474.4 908.7 L472.8 909.5 L471.2 912.1 L469.6 910.6 L468 907.6 L466.4 908.3 L464.8 911.1 L463.2 911.5 L461.6 911.6 L460 910.5 L458.4 912.6 L456.7 913 L455.1 913.2 L453.5 911.9 L451.9 910.8 L450.3 910.1 L448.7 909.6 L447.1 911.7 L445.5 913.4 L443.9 912.6 L442.3 912.5 L440.7 912.4 L439.1 911.9 L437.5 912.9 L435.9 914 L434.3 910.2 L432.7 911.5 L431.1 910.9 L429.5 911 L427.9 913.3 L426.3 913.7 L425.3 906.7 L423.7 905.4 L422.1 905 L420.4 906.1 L418.8 905.9 L417.2 906.6 L415.6 906 L413.9 905.1 L412.3 903.6 L411.3 910.3 L409.7 908.6 L408.1 910.5 L406.4 910.6 L404.8 912.2 L403.2 913 L401.6 911.2 L399.9 911.3 L398.3 913.2 L396.7 912.7 L395.1 911.9 L393.4 912.9 L391.8 910.8 L390.2 906.9 L388.6 911.3 L386.9 912.4 L385.3 912.4 L383.7 912.3 L382.1 912.3 L380.4 913.3 L378.8 913.8 L377.2 913.3 L375.6 911.4 L373.9 912.8 L372.3 913.2 L370.7 912.8 L369.1 912.9 L367.4 914.1 L365.8 914.6 L364.2 913.4 L362.6 912.3 L360.9 912.9 L359.3 913.4 L357.7 912.3 L356.1 911.5 L354.4 910.3 L352.8 911.1 L351.2 913.8 L349.6 913.3 L347.9 911.9 L346.3 914.5 L344.7 912.7 L343.1 911.4 L341.4 914.4 L339.8 914.4 L338.5 904.4 L336.9 901.6 L335.2 903.2 L333.6 907.9 L331.9 906.9 L330.3 908.1 L328.7 906.9 L327 907.3 L325.4 907 L323.7 907.3 L322.1 908.5 L320.4 906.5 L318.8 905.1 L317.2 902.7 L315.5 903.8 L313.9 907 L312.2 906.2 L310.6 906 L309.3 909.9 L308 902.6 L306.4 906.2 L304.8 908 L303.2 907.4 L301.6 908.2 L300 907.5 L298.3 905.2 L296.7 904.2 L295.1 905.6 L293.5 905.7 L291.9 907.9 L290.3 906.4 L288.9 912 L287.2 913.7 L285.4 913.6 L283.7 914.4 L282 912.7 L280.3 910.3 L278.5 910.1 L276.8 909.4 L275.7 910.6 L274 912.5 L272.4 912.7 L270.7 911.5 L269 912.4 L267.4 911.6 L265.7 911.2 L264.1 908.5 L262.4 908.3 L260.7 910.3 L259.1 910.6 L257.4 909.4 L255.7 908.2 L254.1 909 L252.4 907.9 L251 892.4 L249.2 890.8 L247.4 892.5 L245.6 893.5 L243.8 894.5 L242.8 910.4 L241.1 909.3 L239.5 908.7 L237.8 906.4 L236.2 907.6 L234.5 907.1 L232.9 907.8 L231.2 906.9 L229.5 908.9 L227.9 910 L226.2 909 L224.6 908.4 L222.9 907.2 L221.3 908 L219.6 909.3 L217.9 909.4 L216.3 908.7 L214.6 908.6 L213 908.2 L211.3 906.6 L209.7 908.4 L208 909.3 L207 892.4 L205.3 892.7 L203.6 893.9 L201.9 892.9 L200.2 891.1 L198.5 888.6 L196.8 889.8 L195.3 865.2 L193.7 865.8 L192.1 866.7 L190.5 865.9 L188.9 866.5 L187.3 865.7 L185.7 866 L183.5 892.6 L182 864.9 L179.9 893 L178.4 866.1 L176.4 865.7 L174.5 866.1 L172.5 864.6 L171.6 893.9 L170 893.2 L168.3 894.4 L166.7 893.9 L165 893.7 L163.4 891.7 L161.7 885.9 L160.1 886.8 L158.4 892.4 L156.8 893.1 L155.1 893.1 L153.5 892.4 L151.9 894 L150.2 894.1 L148.6 893.9 L146.9 892.3 L145.3 893.8 L143.6 892.4 L142 894 L140.3 892.7 L138.7 891.1 L137 892.7 L135.4 893.6 L133.7 893.2 L132.1 892.6 L130.5 893.3 L128.8 893.8 L127.2 893 L125.5 893.3 L123.9 892.9 L122.2 893.8 L120.6 893.1 L118.9 892.4 L117.3 893.3 L115.6 893 L114 892Z" fill="#479cf4" stroke="#479cf4"/>
<path d="M114 892 L115.6 893 L117.3 893.3 L118.9 892.4 L120.6 893.1 L122.2 893.8 L123.9 892.9 L125.5 893.3 L127.2 893 L128.8 893.8 L130.5 893.3 L132.1 892.6 L133.7 893.2 L135.4 893.6 L137 892.7 L138.7 891.1 L140.3 892.7 L142 894 L143.6 892.4 L145.3 893.8 L146.9 892.3 L148.6 893.9 L150.2 894.1 L151.9 894 L153.5 892.4 L155.1 893.1 L156.8 893.1 L158.4 892.4 L160.1 886.8 L161.7 885.9 L163.4 891.7 L165 893.7 L166.7 893.9 L168.3 894.4 L170 893.2 L171.6 893.9 L172.5 864.6 L174.5 866.1 L176.4 865.7 L178.4 866.1 L179.9 893 L182 864.9 L183.5 892.6 L185.7 866 L187.3 865.7 L188.9 866.5 L190.5 865.9 L192.1 866.7 L193.7 865.8 L195.3 865.2 L196.8 889.8 L198.5 888.6 L200.2 891.1 L201.9 892.9 L203.6 893.9 L205.3 892.7 L207 892.4 L208 909.3 L209.7 908.4 L211.3 906.6 L213 908.2 L214.6 908.6 L216.3 908.7 L217.9 909.4 L219.6 909.3 L221.3 908 L222.9 907.2 L224.6 908.4 L226.2 909 L227.9 910 L229.5 908.9 L231.2 906.9 L232.9 907.8 L234.5 907.1 L236.2 907.6 L237.8 906.4 L239.5 908.7 L241.1 909.3 L242.8 910.4 L243.8 894.5 L245.6 893.5 L247.4 892.5 L249.2 890.8 L251 892.4 L252.4 907.9 L254.1 909 L255.7 908.2 L257.4 909.4 L259.1 910.6 L260.7 910.3 L262.4 908.3 L264.1 908.5 L265.7 911.2 L267.4 911.6 L269 912.4 L270.7 911.5 L272.4 912.7 L274 912.5 L275.7 910.6 L276.8 909.4 L278.5 910.1 L280.3 910.3 L282 912.7 L283.7 914.4 L285.4 913.6 L287.2 913.7 L288.9 912 L290.3 906.4 L291.9 907.9 L293.5 905.7 L295.1 905.6 L296.7 904.2 L298.3 905.2 L300 907.5 L301.6 908.2 L303.2 907.4 L304.8 908 L306.4 906.2 L308 902.6 L309.3 909.9 L310.6 906 L312.2 906.2 L313.9 907 L315.5 903.8 L317.2 902.7 L318.8 905.1 L320.4 906.5 L322.1 908.5 L323.7 907.3 L325.4 907 L327 907.3 L328.7 906.9 L330.3 908.1 L331.9 906.9 L333.6 907.9 L335.2 903.2 L336.9 901.6 L338.5 904.4 L339.8 914.4 L341.4 914.4 L343.1 911.4 L344.7 912.7 L346.3 914.5 L347.9 911.9 L349.6 913.3 L351.2 913.8 L352.8 911.1 L354.4 910.3 L356.1 911.5 L357.7 912.3 L359.3 913.4 L360.9 912.9 L362.6 912.3 L364.2 913.4 L365.8 914.6 L367.4 914.1 L369.1 912.9 L370.7 912.8 L372.3 913.2 L373.9 912.8 L375.6 911.4 L377.2 913.3 L378.8 913.8 L380.4 913.3 L382.1 912.3 L383.7 912.3 L385.3 912.4 L386.9 912.4 L388.6 911.3 L390.2 906.9 L391.8 910.8 L393.4 912.9 L395.1 911.9 L396.7 912.7 L398.3 913.2 L399.9 911.3 L401.6 911.2 L403.2 913 L404.8 912.2 L406.4 910.6 L408.1 910.5 L409.7 908.6 L411.3 910.3 L412.3 903.6 L413.9 905.1 L415.6 906 L417.2 906.6 L418.8 905.9 L420.4 906.1 L422.1 905 L423.7 905.4 L425.3 906.7 L426.3 913.7 L427.9 913.3 L429.5 911 L431.1 910.9 L432.7 911.5 L434.3 910.2 L435.9 914 L437.5 912.9 L439.1 911.9 L440.7 912.4 L442.3 912.5 L443.9 912.6 L445.5 913.4 L447.1 911.7 L448.7 909.6 L450.3 910.1 L451.9 910.8 L453.5 911.9 L455.1 913.2 L456.7 913 L458.4 912.6 L460 910.5 L461.6 911.6 L463.2 911.5 L464.8 911.1 L466.4 908.3 L468 907.6 L469.6 910.6 L471.2 912.1 L472.8 909.5 L474.4 908.7 L476 912 L477.6 912 L479.2 912.5 L480.8 913.4 L482.4 911.5 L484 909.8 L485.6 912.4 L487.2 913.4 L488.8 912.4 L490.4 911.7 L492 912.7 L493.6 913.1 L495.2 912.5 L496.8 911.5 L498.4 911.4 L500 906.5 L501.6 904.6 L503.2 911 L504.8 912.9 L506.4 913.5 L508 912.6 L509.6 911.2 L511.2 910.7 L512.8 912.9 L514.4 912.1 L516 912.2 L517.6 911.5 L519.2 912.5 L520.9 913 L522.5 913.1 L524.1 912.6 L525.7 911.2 L527.3 912.6 L528.9 911.6 L530.5 911.9 L532.1 913.2 L533.7 913.7 L535.3 913.6 L536.9 912.5 L538.5 911.4 L540.1 912.2 L541.7 908.9 L543.3 907.1 L544.9 910 L546.5 911.8 L548.1 914 L549.7 912.7 L551.3 911.7 L552.7 906.5 L554.4 904.6 L556 904.5 L557.7 905.2 L559.4 906 L561 906.3 L562.7 906.4 L564.4 907.2 L566 906.7 L567.7 906.9 L569.4 907 L571 906 L572.7 904.9 L574.4 905.4 L576 905.8 L577.7 906.3 L579.4 907 L581 905.7 L582.7 904.1 L584.4 905.6 L586 906.2 L587.7 907.1 L589 912.1 L590.7 910.4 L592.4 911.8 L594.1 910.4 L595.8 908.2 L597.5 910.2 L599.2 911.8 L600.9 910.9 L602.6 907.4 L604.3 909.4 L606 911.3 L607.3 905.7 L608.9 905.5 L610.6 906.3 L612.2 906.3 L613.8 905.7 L615.5 906.6 L617.1 905.9 L618.7 903.1 L620.4 902.4 L622 905.2 L623.2 913.3 L624.8 911.2 L626.4 909.2 L628 908 L629.6 912.7 L631.2 912.5 L632.8 912.8 L634.4 913.2 L636 911.3 L637.7 912 L639.3 910.1 L640.9 909 L642.5 911 L644.1 913.4 L645.7 913.4 L647.3 912.9 L648.9 912.3 L650.5 910.2 L652.1 911.2 L653.7 910.8 L655.3 910.5 L656.9 910.3 L658.5 912.6 L660.1 910.4 L661.7 909.2 L663.3 910.5 L664.9 913.2 L666.5 912.5 L668.2 913.1 L669.8 911.9 L671.4 913.1 L673 913.7 L674.6 912.6 L676.2 910.7 L677.8 910.4 L679.4 910.9 L681 912 L684 910.7 L686.5 911.4 L688.1 910.2 L689.8 910.7 L691.4 912.7 L693.1 912.3 L694.7 912.7 L696.4 913.3 L698 913.6 L699.7 913.2 L701.3 911.6 L703 908.8 L704.6 906.8 L706.2 909.4 L707.9 910.9 L709.5 911.7 L711.2 912.5 L712.8 912.9 L714.5 912.6 L716.1 911.9 L717.8 912.7 L719.4 912.9 L721.1 913.2 L722.7 911 L724.5 887.4 L726.2 889.6 L728 894.5 L729.8 894.2 L731.5 893.2 L733.2 893.2 L735 891.4 L736.5 910.7 L738 895.7 L739.7 896.1 L741.3 895.9 L743 895.6 L744.7 895.5 L746.3 894.2 L748 894.3 L750 885.7 L751.5 917 L753.5 911.4 L755.1 911.2 L756.7 911.7 L758.4 910.6 L760 908.9 L761.6 909.2 L763.2 910.9 L764.8 911.2 L766.4 910.1 L768.1 910.9 L769.7 912.7 L771.3 913 L772.9 912.5 L774.5 912.7 L776.1 912.5 L777.8 910.9 L779.4 911.6 L781 912.2 L782.6 912.2 L784.2 911.8 L785.9 911.8 L787.5 911.4 L789.1 911.7 L790.7 910.2 L792.3 909.9 L793.9 911.1 L795.6 909.3 L797.2 908.7 L798.8 911.4 L800.4 909.7 L802 910.5 L803.7 911.1 L805.3 910.7 L806.9 911.6 L808.5 911.5 L810.1 911.5 L811.7 909.7 L813.4 911.5 L815 912.6 L816.6 910.2 L818.2 909.4 L819.8 910.8 L821.4 909 L823.1 902.9 L824.7 908.5 L826.3 913 L827.7 904.6 L829.6 903.4 L831.4 903.9 L833.2 904.5 L835.1 905 L836.9 905.5 L838.8 906 L840.2 912.1 L841.9 912.3 L843.5 911.5 L845.2 911.2 L846.9 911.3 L848.5 911.8 L850.2 910.8 L851.8 910 L853.5 909.3 L855.2 910 L856.8 911 L858.5 911.5 L859.3 909.8 L860.2 911.7 L861.8 911.2 L863.5 912.2 L865.1 911 L866.8 906.9 L868.4 902.6 L870.1 905.4 L871.7 910.5 L873.4 910.6 L875 911.5 L876.7 911 L878.3 911.3 L880 911.7 L881.6 910.7 L883.2 909.9 L884.9 911.7 L886.5 911.6 L888.2 910.4 L889.8 908.2 L891.5 907.4 L893.1 910 L894.8 911.4 L896.4 909.8 L898.1 908 L899.7 911 L901.4 911.1 L903 910.2 L904.7 909.4 L906.3 907.1 L907.3 901.5 L908.3 907.7 L909.9 907.1 L911.6 909 L913.2 908.5 L914.8 909.6 L916.5 910.6 L918.1 908.8 L919.7 910 L921.4 911.3 L923 909.7 L924.6 911.4 L926.3 911.3 L927.9 910.7 L929.5 910.8 L931.1 910.7 L932.8 909.2 L934.4 911.1 L936 910.5 L937.7 909.1 L939.3 905.7 L940.9 907.2 L942.6 908.1 L944.2 911.4 L945.8 909.6 L947.5 908 L949.1 909 L950.7 909.8 L952.4 909.5 L954 909.7 L955.6 909.1 L957.3 910.1 L958.9 910 L960.5 910.5 L962.2 911.7 L963.8 910 L965.4 910.3 L967 907.9 L968.7 908.6 L970.3 907 L971.9 909.2 L973.6 911.8 L975.2 909.8 L976.8 907.8 L978.5 908.3 L980.1 908.6 L981.7 907.3 L983.4 907.5 L985 908.2 L986 914.3 L987 908.5 L988.6 910.6 L990.2 910.3 L991.8 911.5 L993.4 910.5 L995 910.6 L996.6 910.4 L998.2 909.5 L999.9 911.5 L1001.5 909.1 L1003.1 905.9 L1004.7 909.4 L1006.3 912.3 L1007.9 909.6 L1009.5 906.5 L1011.1 906.9 L1012.7 908.2 L1014.3 908.7 L1015.9 910.9 L1017.5 910.9 L1019.1 909.6 L1020.7 910 L1022.3 909.1 L1023.9 910 L1025.6 911.3 L1027.2 908.7 L1028.8 909.9 L1030.4 911 L1032 910.1 L1033.6 911.3 L1035.2 910.5 L1036.8 910 L1037.8 915.1 L1038.8 911.7 L1040.9 909.1 L1043 907.9 L1044 903.7 L1045 909.2 L1046.6 910.5 L1048.2 910.2 L1049.8 911 L1051.4 909.6 L1053 909.1 L1054.6 909.6 L1056.3 909.8 L1057.9 908.5 L1059.5 909.5 L1061.1 910.4 L1062.7 909.4 L1064.3 905.7 L1065.9 906 L1067.5 908.9 L1069.1 909.7 L1070.7 910.7 L1072.3 911.4 L1073.9 909.9 L1075.5 908.5 L1077.2 910.3 L1078.8 910.8 L1080.4 910.6 L1082 910.5 L1083.6 910.3 L1085.2 909.9 L1086.8 910.5 L1088.4 911.6 L1090 909.8 L1091.6 908.4 L1093.2 906.3 L1094.8 907.9 L1096.4 910 L1098.1 910.4 L1099.7 909.7 L1101.3 909.3 L1102.9 909.8 L1104.5 908.2 L1106.1 910.2 L1107.7 910.4 L1109.3 910.1 L1110.9 910.1 L1112.5 911 L1114.1 910.4 L1115.7 910 L1117.3 910 L1119 910.2 L1120.6 910 L1122.2 908.8 L1123.8 909.6 L1125.4 909.7 L1127 908.3 L1128.6 907.2 L1130.2 907.3 L1131.8 907.9 L1133.4 907.2 L1135 909.4 L1136.6 908.3 L1138.2 909.4 L1139.9 908.2 L1141.5 907.8 L1143.1 908.6 L1144.7 905.9 L1146.3 905.4 L1147.9 903.7 L1149.5 907.9 L1151.1 910.1 L1152.7 909.1 L1154.3 910 L1155.9 908.4 L1157.5 909.4 L1159.1 910.3 L1160.8 908.5 L1162.4 909.8 L1164 909.8 L1165.6 910.4 L1167.2 910.6 L1168.8 908.6 L1170.4 909.1 L1172 909.6 L1173.6 909.8 L1175.2 910.8 L1176.8 910.9 L1178.4 909.3 L1180 910.2 L1181.7 910.2 L1183.3 909.9 L1184.9 910.7 L1186.5 909.5 L1188.1 907.9 L1189.7 910.2 L1191.3 908.5 L1192.9 910.5 L1194.5 910 L1196.1 909.9 L1197.7 910 L1199.3 909.8 L1200.9 906.4 L1202.6 905.3 L1204.2 909.1 L1205.8 910.1 L1207.4 909.2 L1209 910.1 L1210.6 911.8 L1212.2 910.5 L1213.8 910.2 L1215.4 909.8 L1217 910.6 L1218.6 910.7 L1220.2 910.4 L1221.8 909.9 L1223.5 910.3 L1225.1 909.9 L1226.7 910 L1228.3 910.1 L1229.9 907.3 L1231.5 907 L1233.1 909 L1234.7 909.4 L1236.3 910 L1237.9 910.5 L1239.5 909.5 L1241.1 907.2 L1242.7 908.4 L1244.4 910.7 L1246 907.7 L1247.6 905.8 L1249.2 906.4 L1250.8 906.3 L1252.4 908 L1254 908.4 L1255.2 914.7 L1256.9 914.5 L1258.6 913.1 L1260.4 914.1 L1262.1 915.5 L1263.8 915.1 L1264.8 910 L1266.5 910.4 L1268.2 910.3 L1269.9 908.1 L1271.6 908 L1273.2 906 L1274.9 906.4 L1276.6 910.4 L1278.3 910.1 L1280 910.2 L1281.2 869.7 L1283.2 910.3 L1283.2 853.4 L1281.2 869.7 L1280 853.3 L1278.3 852.8 L1276.6 853.5 L1274.9 852.8 L1273.2 850.9 L1271.6 852.1 L1269.9 851.9 L1268.2 852.3 L1266.5 853.6 L1264.8 853.4 L1263.8 858 L1262.1 858.4 L1260.4 858.6 L1258.6 859.5 L1256.9 857.8 L1255.2 858.3 L1254 853.7 L1252.4 854.4 L1250.8 854.9 L1249.2 854 L1247.6 853.5 L1246 853.4 L1244.4 853.1 L1242.7 853.6 L1241.1 853.1 L1239.5 852.8 L1237.9 852.9 L1236.3 852.8 L1234.7 853.6 L1233.1 854 L1231.5 853.8 L1229.9 853.8 L1228.3 853 L1226.7 853.2 L1225.1 852.3 L1223.5 852.2 L1221.8 852.4 L1220.2 853.1 L1218.6 853.1 L1217 852.8 L1215.4 853.1 L1213.8 853.2 L1212.2 852 L1210.6 852.9 L1209 853.4 L1207.4 852.2 L1205.8 852.4 L1204.2 851.7 L1202.6 852.7 L1200.9 849.9 L1199.3 852.1 L1197.7 853.3 L1196.1 853.3 L1194.5 853.3 L1192.9 853.1 L1191.3 852.9 L1189.7 852.3 L1188.1 851.5 L1186.5 852.3 L1184.9 853 L1183.3 852.9 L1181.7 852.8 L1180 853 L1178.4 852.3 L1176.8 853.7 L1175.2 853.3 L1173.6 852.9 L1172 852.8 L1170.4 852.9 L1168.8 852.6 L1167.2 852.5 L1165.6 853 L1164 853.7 L1162.4 852.5 L1160.8 852.9 L1159.1 852.5 L1157.5 851.5 L1155.9 852.4 L1154.3 852.4 L1152.7 852.1 L1151.1 853.3 L1149.5 853.8 L1147.9 853.7 L1146.3 852.7 L1144.7 850 L1143.1 852.2 L1141.5 852.8 L1139.9 852.4 L1138.2 851.9 L1136.6 851.8 L1135 851.8 L1133.4 850.5 L1131.8 850.3 L1130.2 852.7 L1128.6 853.6 L1127 852.7 L1125.4 853.1 L1123.8 852 L1122.2 852.8 L1120.6 853 L1119 852.8 L1117.3 853 L1115.7 852.2 L1114.1 853.1 L1112.5 852.6 L1110.9 853.2 L1109.3 853.1 L1107.7 853.8 L1106.1 853.9 L1104.5 854.2 L1102.9 853.2 L1101.3 851.7 L1099.7 851.6 L1098.1 852.6 L1096.4 852.4 L1094.8 849.8 L1093.2 848.1 L1091.6 851 L1090 852.7 L1088.4 852.9 L1086.8 853.2 L1085.2 852.2 L1083.6 852.8 L1082 853.1 L1080.4 853.5 L1078.8 854 L1077.2 852 L1075.5 850.7 L1073.9 852.3 L1072.3 852.9 L1070.7 852.7 L1069.1 852.1 L1067.5 851.4 L1065.9 849 L1064.3 847.2 L1062.7 851.4 L1061.1 852.8 L1059.5 853.2 L1057.9 854.3 L1056.3 852.9 L1054.6 852 L1053 852.6 L1051.4 852.7 L1049.8 852.6 L1048.2 852.5 L1046.6 852.9 L1045 851.5 L1044 846.9 L1043 850.4 L1040.9 851.1 L1038.8 852.8 L1037.8 858.4 L1036.8 851.5 L1035.2 853.3 L1033.6 852.9 L1032 852.3 L1030.4 853 L1028.8 851.6 L1027.2 851.2 L1025.6 853.1 L1023.9 852.5 L1022.3 851 L1020.7 851.1 L1019.1 852.1 L1017.5 852.7 L1015.9 852.2 L1014.3 850.7 L1012.7 849.6 L1011.1 851.3 L1009.5 852.2 L1007.9 853.3 L1006.3 851.7 L1004.7 850.5 L1003.1 848.1 L1001.5 850.2 L999.9 853 L998.2 851.5 L996.6 851.7 L995 852 L993.4 852.2 L991.8 852.1 L990.2 852.2 L988.6 851.9 L987 851.5 L986 857.7 L985 852.2 L983.4 852 L981.7 850.2 L980.1 849.4 L978.5 848 L976.8 849.3 L975.2 850.6 L973.6 852.2 L971.9 852.4 L970.3 853.8 L968.7 851.2 L967 850 L965.4 852 L963.8 852.5 L962.2 852 L960.5 852.3 L958.9 851.2 L957.3 849.9 L955.6 849 L954 850.9 L952.4 850.7 L950.7 850.8 L949.1 852.5 L947.5 853.6 L945.8 852.4 L944.2 851 L942.6 848.7 L940.9 849.8 L939.3 852.6 L937.7 851.9 L936 850.9 L934.4 851 L932.8 849.5 L931.1 851.3 L929.5 851.1 L927.9 850.2 L926.3 851.8 L924.6 851.3 L923 851.8 L921.4 851 L919.7 850.4 L918.1 852.3 L916.5 851.3 L914.8 852 L913.2 852.7 L911.6 849.7 L909.9 847 L908.3 848.6 L907.3 845.1 L906.3 851.9 L904.7 851 L903 850.9 L901.4 850.6 L899.7 852.4 L898.1 852.3 L896.4 851.7 L894.8 849.8 L893.1 848.7 L891.5 848.2 L889.8 850.4 L888.2 852.7 L886.5 852 L884.9 851.5 L883.2 849.7 L881.6 850.5 L880 850.5 L878.3 851.3 L876.7 850.9 L875 850.8 L873.4 850.1 L871.7 848.9 L870.1 848.6 L868.4 848.5 L866.8 849 L865.1 850.6 L863.5 852.1 L861.8 852 L860.2 851.7 L859.3 850.6 L858.5 851.7 L856.8 850.5 L855.2 849.4 L853.5 848.7 L851.8 851.3 L850.2 851.1 L848.5 850.9 L846.9 850.9 L845.2 850 L843.5 851.8 L841.9 850.9 L840.2 850.7 L838.8 845 L836.9 844.4 L835.1 843.4 L833.2 845 L831.4 844.8 L829.6 843 L827.7 843.5 L826.3 850.7 L824.7 850.4 L823.1 849.7 L821.4 850.3 L819.8 851 L818.2 851.7 L816.6 850.9 L815 850.6 L813.4 851.1 L811.7 852.4 L810.1 851.6 L808.5 851.2 L806.9 850.6 L805.3 849.9 L803.7 849.7 L802 849.6 L800.4 849.7 L798.8 850.5 L797.2 848.4 L795.6 848 L793.9 848.3 L792.3 849.2 L790.7 849.2 L789.1 850.4 L787.5 850.1 L785.9 849.2 L784.2 849.9 L782.6 850.6 L781 850 L779.4 850.3 L777.8 848.9 L776.1 851.1 L774.5 850.1 L772.9 850.5 L771.3 851.1 L769.7 850.2 L768.1 851.7 L766.4 850.8 L764.8 850.8 L763.2 849.4 L761.6 850.2 L760 851.2 L758.4 850.6 L756.7 850.1 L755.1 849.1 L753.5 849.5 L751.5 856.5 L750 827.5 L748 833 L746.3 831.8 L744.7 831.8 L743 833 L741.3 833.4 L739.7 833.7 L738 833.3 L736.5 847.9 L735 830.4 L733.2 832.1 L731.5 833.9 L729.8 833.4 L728 833.4 L726.2 834.9 L724.5 835.9 L722.7 850.6 L721.1 849.5 L719.4 850.2 L717.8 850 L716.1 849.3 L714.5 849.8 L712.8 849.9 L711.2 848.7 L709.5 849.1 L707.9 847.9 L706.2 850.3 L704.6 851.5 L703 851.5 L701.3 849.8 L699.7 850.1 L698 849.6 L696.4 850.9 L694.7 850.3 L693.1 850.1 L691.4 849.9 L689.8 849.9 L688.1 850.8 L686.5 850.4 L684 848.9 L681 850.4 L679.4 848.9 L677.8 846.9 L676.2 847.7 L674.6 850.3 L673 849.9 L671.4 849.2 L669.8 848.8 L668.2 849.8 L666.5 849.6 L664.9 850.3 L663.3 850.8 L661.7 851.3 L660.1 849.1 L658.5 848.6 L656.9 847.4 L655.3 848.9 L653.7 850.8 L652.1 851.3 L650.5 850.6 L648.9 850.2 L647.3 849.9 L645.7 850 L644.1 850.6 L642.5 851.6 L640.9 851.3 L639.3 850.7 L637.7 849.5 L636 848.8 L634.4 849.4 L632.8 849.6 L631.2 850.1 L629.6 847.8 L628 845.8 L626.4 845.4 L624.8 847.9 L623.2 849.6 L622 844.6 L620.4 845 L618.7 843.5 L617.1 843.1 L615.5 843 L613.8 843.2 L612.2 843.5 L610.6 842.8 L608.9 842.1 L607.3 843 L606 850 L604.3 847.4 L602.6 845.1 L600.9 847.3 L599.2 850 L597.5 849.9 L595.8 851.5 L594.1 849.6 L592.4 848.6 L590.7 849.8 L589 849.7 L587.7 843.2 L586 843.2 L584.4 843.1 L582.7 840.7 L581 842.5 L579.4 843.1 L577.7 843.9 L576 844.2 L574.4 843.5 L572.7 842 L571 843 L569.4 843.3 L567.7 843.3 L566 843 L564.4 842.6 L562.7 843 L561 842.4 L559.4 842.8 L557.7 843.3 L556 843 L554.4 841.3 L552.7 842.5 L551.3 849.1 L549.7 849.1 L548.1 850 L546.5 849.4 L544.9 849.6 L543.3 851.1 L541.7 849.6 L540.1 849 L538.5 849.3 L536.9 848.7 L535.3 850 L533.7 850.4 L532.1 850 L530.5 849 L528.9 847 L527.3 848.3 L525.7 849.1 L524.1 848.8 L522.5 849.2 L520.9 848.9 L519.2 848.8 L517.6 849.3 L516 848.4 L514.4 849.3 L512.8 848.9 L511.2 848 L509.6 847.3 L508 849.2 L506.4 849.2 L504.8 849.2 L503.2 848.5 L501.6 845.9 L500 844.9 L498.4 847.1 L496.8 848.2 L495.2 848.4 L493.6 849.1 L492 849.7 L490.4 848.5 L488.8 848.2 L487.2 849.2 L485.6 848.4 L484 849.3 L482.4 849.3 L480.8 849.5 L479.2 849.2 L477.6 849.1 L476 848.7 L474.4 848.2 L472.8 846.5 L471.2 848.5 L469.6 847.7 L468 845.8 L466.4 847.5 L464.8 848.3 L463.2 848.1 L461.6 847.5 L460 846.7 L458.4 847.7 L456.7 848.9 L455.1 849.1 L453.5 850.1 L451.9 849.4 L450.3 850 L448.7 851.4 L447.1 850.4 L445.5 849.8 L443.9 849 L442.3 849.1 L440.7 849.5 L439.1 848.8 L437.5 849.3 L435.9 848.8 L434.3 846.5 L432.7 847.4 L431.1 847.4 L429.5 848.4 L427.9 849.1 L426.3 849.1 L425.3 841.7 L423.7 841.6 L422.1 841.5 L420.4 841.2 L418.8 841.4 L417.2 842.6 L415.6 842.4 L413.9 841.6 L412.3 840.1 L411.3 847 L409.7 844.4 L408.1 846.1 L406.4 847 L404.8 848 L403.2 849.8 L401.6 849.3 L399.9 849.8 L398.3 849.7 L396.7 849.4 L395.1 850.7 L393.4 850.4 L391.8 849.1 L390.2 850.2 L388.6 850.6 L386.9 849.9 L385.3 849 L383.7 848.6 L382.1 849.4 L380.4 848.5 L378.8 849.6 L377.2 848.9 L375.6 848.2 L373.9 848.5 L372.3 848.6 L370.7 848.5 L369.1 848.9 L367.4 849.7 L365.8 849.3 L364.2 849.5 L362.6 848.8 L360.9 849.1 L359.3 848.7 L357.7 848.4 L356.1 848 L354.4 846.2 L352.8 847.2 L351.2 848.7 L349.6 850.3 L347.9 850.7 L346.3 850.4 L344.7 848.2 L343.1 847.4 L341.4 848.7 L339.8 848.7 L338.5 843.2 L336.9 844.2 L335.2 841.9 L333.6 842.4 L331.9 843.4 L330.3 843.7 L328.7 842.9 L327 843.5 L325.4 843.5 L323.7 842.2 L322.1 843.8 L320.4 842.9 L318.8 843.8 L317.2 843.7 L315.5 843.1 L313.9 842.5 L312.2 843.6 L310.6 843.6 L309.3 847.9 L308 839.3 L306.4 840.9 L304.8 843.6 L303.2 843.6 L301.6 843.4 L300 843 L298.3 842 L296.7 843.5 L295.1 842.4 L293.5 841.4 L291.9 842.1 L290.3 843.2 L288.9 850.2 L287.2 850 L285.4 849.3 L283.7 849.2 L282 849.8 L280.3 850.3 L278.5 850.4 L276.8 851.4 L275.7 850.1 L274 849.6 L272.4 849.7 L270.7 849.9 L269 850 L267.4 850 L265.7 850.3 L264.1 849.4 L262.4 847.8 L260.7 848.7 L259.1 850 L257.4 850.3 L255.7 850.8 L254.1 850 L252.4 849.2 L251 832.8 L249.2 832.4 L247.4 834.2 L245.6 834.7 L243.8 834.8 L242.8 850.8 L241.1 850.8 L239.5 850.6 L237.8 848.3 L236.2 848.7 L234.5 851.1 L232.9 850.9 L231.2 851 L229.5 851.5 L227.9 850.5 L226.2 851.3 L224.6 850.8 L222.9 848.7 L221.3 850 L219.6 850.5 L217.9 850.3 L216.3 849.4 L214.6 849.5 L213 851.7 L211.3 852.4 L209.7 851.6 L208 850.8 L207 835.2 L205.3 834.9 L203.6 834.2 L201.9 834.2 L200.2 835.4 L198.5 835.5 L196.8 833.8 L195.3 807.8 L193.7 807.5 L192.1 807.1 L190.5 807.5 L188.9 807.2 L187.3 807.6 L185.7 807.4 L183.5 834.4 L182 807.9 L179.9 835.2 L178.4 807.4 L176.4 807.6 L174.5 807.4 L172.5 808 L171.6 834.4 L170 835.4 L168.3 835.6 L166.7 834.9 L165 834.7 L163.4 832.8 L161.7 827.1 L160.1 828.3 L158.4 833.3 L156.8 835.2 L155.1 835.3 L153.5 834.7 L151.9 834.6 L150.2 834.4 L148.6 835 L146.9 835.2 L145.3 835.3 L143.6 835.3 L142 833.4 L140.3 833.8 L138.7 834 L137 834.2 L135.4 835.4 L133.7 835.4 L132.1 835.1 L130.5 835.1 L128.8 834.7 L127.2 834 L125.5 834.5 L123.9 834.1 L122.2 835.3 L120.6 835.7 L118.9 835.5 L117.3 835.3 L115.6 834.7 L114 833.2Z" fill="#fe3377" stroke="#fe3377"/>
<path d="M114 833.2 L115.6 834.7 L117.3 835.3 L118.9 835.5 L120.6 835.7 L122.2 835.3 L123.9 834.1 L125.5 834.5 L127.2 834 L128.8 834.7 L130.5 835.1 L132.1 835.1 L133.7 835.4 L135.4 835.4 L137 834.2 L138.7 834 L140.3 833.8 L142 833.4 L143.6 835.3 L145.3 835.3 L146.9 835.2 L148.6 835 L150.2 834.4 L151.9 834.6 L153.5 834.7 L155.1 835.3 L156.8 835.2 L158.4 833.3 L160.1 828.3 L161.7 827.1 L163.4 832.8 L165 834.7 L166.7 834.9 L168.3 835.6 L170 835.4 L171.6 834.4 L172.5 808 L174.5 807.4 L176.4 807.6 L178.4 807.4 L179.9 835.2 L182 807.9 L183.5 834.4 L185.7 807.4 L187.3 807.6 L188.9 807.2 L190.5 807.5 L192.1 807.1 L193.7 807.5 L195.3 807.8 L196.8 833.8 L198.5 835.5 L200.2 835.4 L201.9 834.2 L203.6 834.2 L205.3 834.9 L207 835.2 L208 850.8 L209.7 851.6 L211.3 852.4 L213 851.7 L214.6 849.5 L216.3 849.4 L217.9 850.3 L219.6 850.5 L221.3 850 L222.9 848.7 L224.6 850.8 L226.2 851.3 L227.9 850.5 L229.5 851.5 L231.2 851 L232.9 850.9 L234.5 851.1 L236.2 848.7 L237.8 848.3 L239.5 850.6 L241.1 850.8 L242.8 850.8 L243.8 834.8 L245.6 834.7 L247.4 834.2 L249.2 832.4 L251 832.8 L252.4 849.2 L254.1 850 L255.7 850.8 L257.4 850.3 L259.1 850 L260.7 848.7 L262.4 847.8 L264.1 849.4 L265.7 850.3 L267.4 850 L269 850 L270.7 849.9 L272.4 849.7 L274 849.6 L275.7 850.1 L276.8 851.4 L278.5 850.4 L280.3 850.3 L282 849.8 L283.7 849.2 L285.4 849.3 L287.2 850 L288.9 850.2 L290.3 843.2 L291.9 842.1 L293.5 841.4 L295.1 842.4 L296.7 843.5 L298.3 842 L300 843 L301.6 843.4 L303.2 843.6 L304.8 843.6 L306.4 840.9 L308 839.3 L309.3 847.9 L310.6 843.6 L312.2 843.6 L313.9 842.5 L315.5 843.1 L317.2 843.7 L318.8 843.8 L320.4 842.9 L322.1 843.8 L323.7 842.2 L325.4 843.5 L327 843.5 L328.7 842.9 L330.3 843.7 L331.9 843.4 L333.6 842.4 L335.2 841.9 L336.9 844.2 L338.5 843.2 L339.8 848.7 L341.4 848.7 L343.1 847.4 L344.7 848.2 L346.3 850.4 L347.9 850.7 L349.6 850.3 L351.2 848.7 L352.8 847.2 L354.4 846.2 L356.1 848 L357.7 848.4 L359.3 848.7 L360.9 849.1 L362.6 848.8 L364.2 849.5 L365.8 849.3 L367.4 849.7 L369.1 848.9 L370.7 848.5 L372.3 848.6 L373.9 848.5 L375.6 848.2 L377.2 848.9 L378.8 849.6 L380.4 848.5 L382.1 849.4 L383.7 848.6 L385.3 849 L386.9 849.9 L388.6 850.6 L390.2 850.2 L391.8 849.1 L393.4 850.4 L395.1 850.7 L396.7 849.4 L398.3 849.7 L399.9 849.8 L401.6 849.3 L403.2 849.8 L404.8 848 L406.4 847 L408.1 846.1 L409.7 844.4 L411.3 847 L412.3 840.1 L413.9 841.6 L415.6 842.4 L417.2 842.6 L418.8 841.4 L420.4 841.2 L422.1 841.5 L423.7 841.6 L425.3 841.7 L426.3 849.1 L427.9 849.1 L429.5 848.4 L431.1 847.4 L432.7 847.4 L434.3 846.5 L435.9 848.8 L437.5 849.3 L439.1 848.8 L440.7 849.5 L442.3 849.1 L443.9 849 L445.5 849.8 L447.1 850.4 L448.7 851.4 L450.3 850 L451.9 849.4 L453.5 850.1 L455.1 849.1 L456.7 848.9 L458.4 847.7 L460 846.7 L461.6 847.5 L463.2 848.1 L464.8 848.3 L466.4 847.5 L468 845.8 L469.6 847.7 L471.2 848.5 L472.8 846.5 L474.4 848.2 L476 848.7 L477.6 849.1 L479.2 849.2 L480.8 849.5 L482.4 849.3 L484 849.3 L485.6 848.4 L487.2 849.2 L488.8 848.2 L490.4 848.5 L492 849.7 L493.6 849.1 L495.2 848.4 L496.8 848.2 L498.4 847.1 L500 844.9 L501.6 845.9 L503.2 848.5 L504.8 849.2 L506.4 849.2 L508 849.2 L509.6 847.3 L511.2 848 L512.8 848.9 L514.4 849.3 L516 848.4 L517.6 849.3 L519.2 848.8 L520.9 848.9 L522.5 849.2 L524.1 848.8 L525.7 849.1 L527.3 848.3 L528.9 847 L530.5 849 L532.1 850 L533.7 850.4 L535.3 850 L536.9 848.7 L538.5 849.3 L540.1 849 L541.7 849.6 L543.3 851.1 L544.9 849.6 L546.5 849.4 L548.1 850 L549.7 849.1 L551.3 849.1 L552.7 842.5 L554.4 841.3 L556 843 L557.7 843.3 L559.4 842.8 L561 842.4 L562.7 843 L564.4 842.6 L566 843 L567.7 843.3 L569.4 843.3 L571 843 L572.7 842 L574.4 843.5 L576 844.2 L577.7 843.9 L579.4 843.1 L581 842.5 L582.7 840.7 L584.4 843.1 L586 843.2 L587.7 843.2 L589 849.7 L590.7 849.8 L592.4 848.6 L594.1 849.6 L595.8 851.5 L597.5 849.9 L599.2 850 L600.9 847.3 L602.6 845.1 L604.3 847.4 L606 850 L607.3 843 L608.9 842.1 L610.6 842.8 L612.2 843.5 L613.8 843.2 L615.5 843 L617.1 843.1 L618.7 843.5 L620.4 845 L622 844.6 L623.2 849.6 L624.8 847.9 L626.4 845.4 L628 845.8 L629.6 847.8 L631.2 850.1 L632.8 849.6 L634.4 849.4 L636 848.8 L637.7 849.5 L639.3 850.7 L640.9 851.3 L642.5 851.6 L644.1 850.6 L645.7 850 L647.3 849.9 L648.9 850.2 L650.5 850.6 L652.1 851.3 L653.7 850.8 L655.3 848.9 L656.9 847.4 L658.5 848.6 L660.1 849.1 L661.7 851.3 L663.3 850.8 L664.9 850.3 L666.5 849.6 L668.2 849.8 L669.8 848.8 L671.4 849.2 L673 849.9 L674.6 850.3 L676.2 847.7 L677.8 846.9 L679.4 848.9 L681 850.4 L684 848.9 L686.5 850.4 L688.1 850.8 L689.8 849.9 L691.4 849.9 L693.1 850.1 L694.7 850.3 L696.4 850.9 L698 849.6 L699.7 850.1 L701.3 849.8 L703 851.5 L704.6 851.5 L706.2 850.3 L707.9 847.9 L709.5 849.1 L711.2 848.7 L712.8 849.9 L714.5 849.8 L716.1 849.3 L717.8 850 L719.4 850.2 L721.1 849.5 L722.7 850.6 L724.5 835.9 L726.2 834.9 L728 833.4 L729.8 833.4 L731.5 833.9 L733.2 832.1 L735 830.4 L736.5 847.9 L738 833.3 L739.7 833.7 L741.3 833.4 L743 833 L744.7 831.8 L746.3 831.8 L748 833 L750 827.5 L751.5 856.5 L753.5 849.5 L755.1 849.1 L756.7 850.1 L758.4 850.6 L760 851.2 L761.6 850.2 L763.2 849.4 L764.8 850.8 L766.4 850.8 L768.1 851.7 L769.7 850.2 L771.3 851.1 L772.9 850.5 L774.5 850.1 L776.1 851.1 L777.8 848.9 L779.4 850.3 L781 850 L782.6 850.6 L784.2 849.9 L785.9 849.2 L787.5 850.1 L789.1 850.4 L790.7 849.2 L792.3 849.2 L793.9 848.3 L795.6 848 L797.2 848.4 L798.8 850.5 L800.4 849.7 L802 849.6 L803.7 849.7 L805.3 849.9 L806.9 850.6 L808.5 851.2 L810.1 851.6 L811.7 852.4 L813.4 851.1 L815 850.6 L816.6 850.9 L818.2 851.7 L819.8 851 L821.4 850.3 L823.1 849.7 L824.7 850.4 L826.3 850.7 L827.7 843.5 L829.6 843 L831.4 844.8 L833.2 845 L835.1 843.4 L836.9 844.4 L838.8 845 L840.2 850.7 L841.9 850.9 L843.5 851.8 L845.2 850 L846.9 850.9 L848.5 850.9 L850.2 851.1 L851.8 851.3 L853.5 848.7 L855.2 849.4 L856.8 850.5 L858.5 851.7 L859.3 850.6 L860.2 851.7 L861.8 852 L863.5 852.1 L865.1 850.6 L866.8 849 L868.4 848.5 L870.1 848.6 L871.7 848.9 L873.4 850.1 L875 850.8 L876.7 850.9 L878.3 851.3 L880 850.5 L881.6 850.5 L883.2 849.7 L884.9 851.5 L886.5 852 L888.2 852.7 L889.8 850.4 L891.5 848.2 L893.1 848.7 L894.8 849.8 L896.4 851.7 L898.1 852.3 L899.7 852.4 L901.4 850.6 L903 850.9 L904.7 851 L906.3 851.9 L907.3 845.1 L908.3 848.6 L909.9 847 L911.6 849.7 L913.2 852.7 L914.8 852 L916.5 851.3 L918.1 852.3 L919.7 850.4 L921.4 851 L923 851.8 L924.6 851.3 L926.3 851.8 L927.9 850.2 L929.5 851.1 L931.1 851.3 L932.8 849.5 L934.4 851 L936 850.9 L937.7 851.9 L939.3 852.6 L940.9 849.8 L942.6 848.7 L944.2 851 L945.8 852.4 L947.5 853.6 L949.1 852.5 L950.7 850.8 L952.4 850.7 L954 850.9 L955.6 849 L957.3 849.9 L958.9 851.2 L960.5 852.3 L962.2 852 L963.8 852.5 L965.4 852 L967 850 L968.7 851.2 L970.3 853.8 L971.9 852.4 L973.6 852.2 L975.2 850.6 L976.8 849.3 L978.5 848 L980.1 849.4 L981.7 850.2 L983.4 852 L985 852.2 L986 857.7 L987 851.5 L988.6 851.9 L990.2 852.2 L991.8 852.1 L993.4 852.2 L995 852 L996.6 851.7 L998.2 851.5 L999.9 853 L1001.5 850.2 L1003.1 848.1 L1004.7 850.5 L1006.3 851.7 L1007.9 853.3 L1009.5 852.2 L1011.1 851.3 L1012.7 849.6 L1014.3 850.7 L1015.9 852.2 L1017.5 852.7 L1019.1 852.1 L1020.7 851.1 L1022.3 851 L1023.9 852.5 L1025.6 853.1 L1027.2 851.2 L1028.8 851.6 L1030.4 853 L1032 852.3 L1033.6 852.9 L1035.2 853.3 L1036.8 851.5 L1037.8 858.4 L1038.8 852.8 L1040.9 851.1 L1043 850.4 L1044 846.9 L1045 851.5 L1046.6 852.9 L1048.2 852.5 L1049.8 852.6 L1051.4 852.7 L1053 852.6 L1054.6 852 L1056.3 852.9 L1057.9 854.3 L1059.5 853.2 L1061.1 852.8 L1062.7 851.4 L1064.3 847.2 L1065.9 849 L1067.5 851.4 L1069.1 852.1 L1070.7 852.7 L1072.3 852.9 L1073.9 852.3 L1075.5 850.7 L1077.2 852 L1078.8 854 L1080.4 853.5 L1082 853.1 L1083.6 852.8 L1085.2 852.2 L1086.8 853.2 L1088.4 852.9 L1090 852.7 L1091.6 851 L1093.2 848.1 L1094.8 849.8 L1096.4 852.4 L1098.1 852.6 L1099.7 851.6 L1101.3 851.7 L1102.9 853.2 L1104.5 854.2 L1106.1 853.9 L1107.7 853.8 L1109.3 853.1 L1110.9 853.2 L1112.5 852.6 L1114.1 853.1 L1115.7 852.2 L1117.3 853 L1119 852.8 L1120.6 853 L1122.2 852.8 L1123.8 852 L1125.4 853.1 L1127 852.7 L1128.6 853.6 L1130.2 852.7 L1131.8 850.3 L1133.4 850.5 L1135 851.8 L1136.6 851.8 L1138.2 851.9 L1139.9 852.4 L1141.5 852.8 L1143.1 852.2 L1144.7 850 L1146.3 852.7 L1147.9 853.7 L1149.5 853.8 L1151.1 853.3 L1152.7 852.1 L1154.3 852.4 L1155.9 852.4 L1157.5 851.5 L1159.1 852.5 L1160.8 852.9 L1162.4 852.5 L1164 853.7 L1165.6 853 L1167.2 852.5 L1168.8 852.6 L1170.4 852.9 L1172 852.8 L1173.6 852.9 L1175.2 853.3 L1176.8 853.7 L1178.4 852.3 L1180 853 L1181.7 852.8 L1183.3 852.9 L1184.9 853 L1186.5 852.3 L1188.1 851.5 L1189.7 852.3 L1191.3 852.9 L1192.9 853.1 L1194.5 853.3 L1196.1 853.3 L1197.7 853.3 L1199.3 852.1 L1200.9 849.9 L1202.6 852.7 L1204.2 851.7 L1205.8 852.4 L1207.4 852.2 L1209 853.4 L1210.6 852.9 L1212.2 852 L1213.8 853.2 L1215.4 853.1 L1217 852.8 L1218.6 853.1 L1220.2 853.1 L1221.8 852.4 L1223.5 852.2 L1225.1 852.3 L1226.7 853.2 L1228.3 853 L1229.9 853.8 L1231.5 853.8 L1233.1 854 L1234.7 853.6 L1236.3 852.8 L1237.9 852.9 L1239.5 852.8 L1241.1 853.1 L1242.7 853.6 L1244.4 853.1 L1246 853.4 L1247.6 853.5 L1249.2 854 L1250.8 854.9 L1252.4 854.4 L1254 853.7 L1255.2 858.3 L1256.9 857.8 L1258.6 859.5 L1260.4 858.6 L1262.1 858.4 L1263.8 858 L1264.8 853.4 L1266.5 853.6 L1268.2 852.3 L1269.9 851.9 L1271.6 852.1 L1273.2 850.9 L1274.9 852.8 L1276.6 853.5 L1278.3 852.8 L1280 853.3 L1281.2 869.7 L1283.2 853.4 L1283.2 797.3 L1281.2 815.3 L1280 797.9 L1278.3 797.9 L1276.6 797.4 L1274.9 799.7 L1273.2 800.3 L1271.6 798.9 L1269.9 798.9 L1268.2 797.5 L1266.5 798 L1264.8 798.2 L1263.8 803.4 L1262.1 802.8 L1260.4 803.9 L1258.6 804.3 L1256.9 802.9 L1255.2 803.8 L1254 798.7 L1252.4 798.9 L1250.8 799.2 L1249.2 798.9 L1247.6 799.5 L1246 798.5 L1244.4 797.4 L1242.7 797.7 L1241.1 796.8 L1239.5 797.1 L1237.9 798 L1236.3 798.1 L1234.7 797.7 L1233.1 799 L1231.5 799.1 L1229.9 798.4 L1228.3 798.4 L1226.7 798 L1225.1 797.8 L1223.5 796.5 L1221.8 797 L1220.2 797.6 L1218.6 797.6 L1217 797.2 L1215.4 797.5 L1213.8 797.6 L1212.2 797.2 L1210.6 797.9 L1209 797.2 L1207.4 796.6 L1205.8 797.7 L1204.2 797.7 L1202.6 799.6 L1200.9 800.2 L1199.3 797.7 L1197.7 797.8 L1196.1 797.8 L1194.5 797.7 L1192.9 797.1 L1191.3 797.5 L1189.7 797.9 L1188.1 798.5 L1186.5 797.3 L1184.9 797.3 L1183.3 797.7 L1181.7 797 L1180 796.9 L1178.4 797.6 L1176.8 797.6 L1175.2 797.6 L1173.6 797.6 L1172 798.3 L1170.4 797.7 L1168.8 798 L1167.2 798 L1165.6 798.3 L1164 798.1 L1162.4 798.3 L1160.8 798.9 L1159.1 798 L1157.5 799.2 L1155.9 797.4 L1154.3 797.2 L1152.7 797.9 L1151.1 798.1 L1149.5 798.2 L1147.9 799.3 L1146.3 800.4 L1144.7 800.7 L1143.1 798.7 L1141.5 798.8 L1139.9 798.7 L1138.2 798.1 L1136.6 798.6 L1135 797.1 L1133.4 798.1 L1131.8 799.4 L1130.2 799.1 L1128.6 799.5 L1127 797.9 L1125.4 797.3 L1123.8 796.6 L1122.2 796.9 L1120.6 797.7 L1119 798 L1117.3 798.1 L1115.7 797.6 L1114.1 798 L1112.5 798 L1110.9 797.8 L1109.3 797.3 L1107.7 797.7 L1106.1 797.4 L1104.5 798.5 L1102.9 798 L1101.3 797.7 L1099.7 796.8 L1098.1 797.1 L1096.4 797.1 L1094.8 797.9 L1093.2 796.9 L1091.6 797.4 L1090 797.4 L1088.4 797.2 L1086.8 797.6 L1085.2 798 L1083.6 797.8 L1082 797.6 L1080.4 797.1 L1078.8 797.7 L1077.2 798.1 L1075.5 798.7 L1073.9 798.4 L1072.3 798 L1070.7 797.9 L1069.1 798.1 L1067.5 799.4 L1065.9 802.2 L1064.3 802.7 L1062.7 799 L1061.1 797.5 L1059.5 797.5 L1057.9 799 L1056.3 797.9 L1054.6 797.3 L1053 796.4 L1051.4 797 L1049.8 797.4 L1048.2 797.8 L1046.6 797.9 L1045 797.5 L1044 792.5 L1043 798.5 L1040.9 798.7 L1038.8 797.6 L1037.8 802.5 L1036.8 796.3 L1035.2 796.7 L1033.6 797.6 L1032 798.5 L1030.4 797.9 L1028.8 798.5 L1027.2 800.2 L1025.6 799.2 L1023.9 798.1 L1022.3 797.5 L1020.7 797.8 L1019.1 798.6 L1017.5 797.1 L1015.9 797.7 L1014.3 798.9 L1012.7 799.2 L1011.1 799.4 L1009.5 800 L1007.9 798.2 L1006.3 797 L1004.7 795.6 L1003.1 793.6 L1001.5 795.1 L999.9 796.3 L998.2 796.5 L996.6 796.9 L995 797.7 L993.4 797.8 L991.8 797.2 L990.2 797.6 L988.6 797.2 L987 798.3 L986 804.6 L985 798.5 L983.4 799.6 L981.7 800.1 L980.1 799.9 L978.5 800.8 L976.8 800.3 L975.2 799.3 L973.6 796.9 L971.9 797.2 L970.3 798.7 L968.7 799.6 L967 801.2 L965.4 798.6 L963.8 798.6 L962.2 797.1 L960.5 797.2 L958.9 797.6 L957.3 795.8 L955.6 792.8 L954 796 L952.4 796.9 L950.7 798.4 L949.1 798.9 L947.5 799.3 L945.8 798.3 L944.2 797.4 L942.6 799.4 L940.9 799.4 L939.3 799.4 L937.7 798.1 L936 796.2 L934.4 796.7 L932.8 799 L931.1 798.3 L929.5 797.4 L927.9 797.4 L926.3 796.8 L924.6 796.2 L923 797.2 L921.4 796.6 L919.7 797.1 L918.1 798.2 L916.5 798 L914.8 798.4 L913.2 798 L911.6 798.3 L909.9 799.1 L908.3 797.7 L907.3 792.8 L906.3 800 L904.7 798.2 L903 796.4 L901.4 797.2 L899.7 797.4 L898.1 799 L896.4 797.7 L894.8 796.9 L893.1 798.3 L891.5 800.6 L889.8 799.8 L888.2 797.9 L886.5 797.7 L884.9 796.3 L883.2 797 L881.6 798.1 L880 798.2 L878.3 798.5 L876.7 799.3 L875 797.6 L873.4 796 L871.7 797.7 L870.1 802.2 L868.4 802.7 L866.8 800.1 L865.1 797.7 L863.5 796.9 L861.8 797.7 L860.2 797.2 L859.3 797.8 L858.5 797.6 L856.8 796.9 L855.2 796.8 L853.5 798.2 L851.8 798.5 L850.2 797.7 L848.5 797 L846.9 796.9 L845.2 797.4 L843.5 797.2 L841.9 796.8 L840.2 796.4 L838.8 791.2 L836.9 791.5 L835.1 791.8 L833.2 791.8 L831.4 791.2 L829.6 788.8 L827.7 791 L826.3 796.9 L824.7 798.6 L823.1 801.1 L821.4 798.4 L819.8 796.8 L818.2 798.6 L816.6 797.9 L815 796.7 L813.4 797.3 L811.7 798.1 L810.1 798.4 L808.5 797.4 L806.9 796.1 L805.3 796.4 L803.7 796.1 L802 794.5 L800.4 796.9 L798.8 797.4 L797.2 799.6 L795.6 800.7 L793.9 797.1 L792.3 796.2 L790.7 797.6 L789.1 797.5 L787.5 797.5 L785.9 797 L784.2 797.1 L782.6 796.3 L781 796.9 L779.4 796.5 L777.8 796.3 L776.1 796.6 L774.5 797.1 L772.9 797.1 L771.3 796.5 L769.7 796.8 L768.1 797.6 L766.4 798.1 L764.8 796.3 L763.2 797.2 L761.6 798.5 L760 798.4 L758.4 797.8 L756.7 796.8 L755.1 796.4 L753.5 796.3 L751.5 803.3 L750 775.8 L748 781.1 L746.3 781.5 L744.7 781.3 L743 780.7 L741.3 779.8 L739.7 780.1 L738 780.5 L736.5 798.7 L735 784.1 L733.2 782.3 L731.5 781.5 L729.8 780.8 L728 781 L726.2 783.4 L724.5 784.2 L722.7 797.2 L721.1 796.9 L719.4 797.2 L717.8 796.9 L716.1 795.9 L714.5 796.3 L712.8 796.3 L711.2 796.7 L709.5 797.6 L707.9 798.2 L706.2 797.7 L704.6 798 L703 798 L701.3 797.5 L699.7 797.3 L698 796.6 L696.4 797.3 L694.7 797.2 L693.1 796.6 L691.4 796.4 L689.8 797.9 L688.1 798.7 L686.5 798.2 L684 796.5 L681 797.3 L679.4 798.6 L677.8 798.1 L676.2 797.8 L674.6 797.8 L673 796.2 L671.4 795.7 L669.8 795.7 L668.2 796.5 L666.5 797.2 L664.9 796.7 L663.3 797.8 L661.7 798.2 L660.1 796.7 L658.5 796.6 L656.9 798.9 L655.3 798 L653.7 797.6 L652.1 797.3 L650.5 797.8 L648.9 797.4 L647.3 797.4 L645.7 796.9 L644.1 797.1 L642.5 798.1 L640.9 798.4 L639.3 797.7 L637.7 797.7 L636 798.2 L634.4 797 L632.8 797.3 L631.2 797.2 L629.6 797.2 L628 800.9 L626.4 800.7 L624.8 797.7 L623.2 796.8 L622 791.6 L620.4 792.9 L618.7 792.3 L617.1 790.6 L615.5 791.3 L613.8 792 L612.2 790.6 L610.6 790.3 L608.9 789.9 L607.3 790.8 L606 797.3 L604.3 796.6 L602.6 798.2 L600.9 797.8 L599.2 797.1 L597.5 797.7 L595.8 798.5 L594.1 797 L592.4 798.1 L590.7 798.4 L589 797.9 L587.7 790.8 L586 791 L584.4 790.4 L582.7 792 L581 791.6 L579.4 790.3 L577.7 790.6 L576 791.2 L574.4 792.2 L572.7 792 L571 791 L569.4 790.6 L567.7 790.2 L566 790.6 L564.4 790.6 L562.7 790 L561 789 L559.4 789.3 L557.7 790 L556 789.1 L554.4 789.4 L552.7 789.1 L551.3 796.9 L549.7 796.4 L548.1 795.5 L546.5 798 L544.9 799.4 L543.3 800.1 L541.7 798.7 L540.1 797.6 L538.5 796.2 L536.9 797.2 L535.3 796.7 L533.7 797.1 L532.1 796.8 L530.5 796.8 L528.9 797.1 L527.3 796.4 L525.7 796.5 L524.1 796.5 L522.5 796.1 L520.9 795.8 L519.2 797.6 L517.6 798.1 L516 797.4 L514.4 797.2 L512.8 795.8 L511.2 795.5 L509.6 794.4 L508 796.2 L506.4 796.3 L504.8 796.8 L503.2 798 L501.6 802.4 L500 800.1 L498.4 796.7 L496.8 795.6 L495.2 795.7 L493.6 795.8 L492 797.1 L490.4 798.1 L488.8 797.1 L487.2 795.8 L485.6 797.4 L484 799.1 L482.4 797.8 L480.8 796.8 L479.2 796.6 L477.6 796 L476 796.6 L474.4 799.8 L472.8 800 L471.2 798.2 L469.6 796.1 L468 796.1 L466.4 797.4 L464.8 797.3 L463.2 798.2 L461.6 798.1 L460 798.7 L458.4 797.1 L456.7 796.3 L455.1 796.3 L453.5 797.2 L451.9 797.5 L450.3 798.1 L448.7 798.4 L447.1 797.5 L445.5 796.4 L443.9 796.8 L442.3 796.3 L440.7 796.4 L439.1 796.3 L437.5 797.1 L435.9 798.2 L434.3 799.7 L432.7 798.5 L431.1 797.2 L429.5 798.3 L427.9 796.7 L426.3 796.7 L425.3 790.4 L423.7 792.1 L422.1 792.1 L420.4 791.6 L418.8 791.2 L417.2 790.6 L415.6 791.3 L413.9 792.2 L412.3 793.2 L411.3 799.9 L409.7 800.4 L408.1 799.2 L406.4 798.3 L404.8 797.3 L403.2 797.1 L401.6 797.5 L399.9 797.7 L398.3 796 L396.7 796.3 L395.1 797.3 L393.4 796.7 L391.8 797.9 L390.2 799.1 L388.6 796.3 L386.9 796.1 L385.3 797 L383.7 796.4 L382.1 796.5 L380.4 795.9 L378.8 795.7 L377.2 796.7 L375.6 798.7 L373.9 796.5 L372.3 794.4 L370.7 796.1 L369.1 796.7 L367.4 797 L365.8 796.7 L364.2 797 L362.6 796.5 L360.9 796 L359.3 795.9 L357.7 796.2 L356.1 796.1 L354.4 796.3 L352.8 796.2 L351.2 796.1 L349.6 795.8 L347.9 797.6 L346.3 795.9 L344.7 796.4 L343.1 798 L341.4 796.3 L339.8 794.8 L338.5 789.7 L336.9 791.2 L335.2 790.4 L333.6 789.4 L331.9 790.5 L330.3 789.7 L328.7 790 L327 790.2 L325.4 789.8 L323.7 789.7 L322.1 789.4 L320.4 790 L318.8 790.8 L317.2 790.7 L315.5 789.6 L313.9 789.2 L312.2 790.6 L310.6 790.7 L309.3 797.5 L308 793.8 L306.4 790.8 L304.8 788.6 L303.2 789.5 L301.6 788.4 L300 788 L298.3 789.8 L296.7 791.4 L295.1 788.8 L293.5 788 L291.9 787.8 L290.3 789 L288.9 796.5 L287.2 796 L285.4 795.2 L283.7 795.9 L282 796 L280.3 797.4 L278.5 796.9 L276.8 797.3 L275.7 796.3 L274 796.3 L272.4 795.4 L270.7 796.1 L269 794.9 L267.4 796.3 L265.7 795.6 L264.1 797.7 L262.4 798 L260.7 796.4 L259.1 796.6 L257.4 796.4 L255.7 797.4 L254.1 796.5 L252.4 797.2 L251 781.4 L249.2 782.6 L247.4 780.8 L245.6 780 L243.8 779.4 L242.8 796.3 L241.1 796.8 L239.5 795.7 L237.8 795.9 L236.2 797.1 L234.5 797.9 L232.9 798.2 L231.2 798.6 L229.5 797.3 L227.9 796.7 L226.2 797.3 L224.6 796.1 L222.9 795 L221.3 796.1 L219.6 795.7 L217.9 795.2 L216.3 794.2 L214.6 795.5 L213 796.8 L211.3 797.3 L209.7 796.9 L208 796.9 L207 780.5 L205.3 780.4 L203.6 780 L201.9 780.6 L200.2 781.2 L198.5 782.6 L196.8 782.6 L195.3 807.8 L193.7 807.5 L192.1 807.1 L190.5 807.5 L188.9 807.2 L187.3 807.6 L185.7 807.4 L183.5 780.7 L182 807.9 L179.9 780.1 L178.4 807.4 L176.4 807.6 L174.5 807.4 L172.5 808 L171.6 779.9 L170 779.9 L168.3 779.1 L166.7 779.7 L165 779.9 L163.4 781.8 L161.7 787.6 L160.1 786.6 L158.4 781.2 L156.8 780 L155.1 780 L153.5 780.6 L151.9 779.8 L150.2 779.8 L148.6 779.7 L146.9 780.6 L145.3 779.6 L143.6 780.4 L142 780.3 L140.3 780.9 L138.7 781.7 L137 780.7 L135.4 779.7 L133.7 779.9 L132.1 780.4 L130.5 780 L128.8 779.9 L127.2 780.6 L125.5 780.2 L123.9 780.6 L122.2 779.6 L120.6 779.9 L118.9 780.4 L117.3 779.9 L115.6 780.3 L114 781.5Z" fill="#a1ab3c" stroke="#a1ab3c"/>
<path d="M114 781.5 L115.6 780.3 L117.3 779.9 L118.9 780.4 L120.6 779.9 L122.2 779.6 L123.9 780.6 L125.5 780.2 L127.2 780.6 L128.8 779.9 L130.5 780 L132.1 780.4 L133.7 779.9 L135.4 779.7 L137 780.7 L138.7 781.7 L140.3 780.9 L142 780.3 L143.6 780.4 L145.3 779.6 L146.9 780.6 L148.6 779.7 L150.2 779.8 L151.9 779.8 L153.5 780.6 L155.1 780 L156.8 780 L158.4 781.2 L160.1 786.6 L161.7 787.6 L163.4 781.8 L165 779.9 L166.7 779.7 L168.3 779.1 L170 779.9 L171.6 779.9 L172.5 808 L174.5 807.4 L176.4 807.6 L178.4 807.4 L179.9 780.1 L182 807.9 L183.5 780.7 L185.7 807.4 L187.3 807.6 L188.9 807.2 L190.5 807.5 L192.1 807.1 L193.7 807.5 L195.3 807.8 L196.8 782.6 L198.5 782.6 L200.2 781.2 L201.9 780.6 L203.6 780 L205.3 780.4 L207 780.5 L208 796.9 L209.7 796.9 L211.3 797.3 L213 796.8 L214.6 795.5 L216.3 794.2 L217.9 795.2 L219.6 795.7 L221.3 796.1 L222.9 795 L224.6 796.1 L226.2 797.3 L227.9 796.7 L229.5 797.3 L231.2 798.6 L232.9 798.2 L234.5 797.9 L236.2 797.1 L237.8 795.9 L239.5 795.7 L241.1 796.8 L242.8 796.3 L243.8 779.4 L245.6 780 L247.4 780.8 L249.2 782.6 L251 781.4 L252.4 797.2 L254.1 796.5 L255.7 797.4 L257.4 796.4 L259.1 796.6 L260.7 796.4 L262.4 798 L264.1 797.7 L265.7 795.6 L267.4 796.3 L269 794.9 L270.7 796.1 L272.4 795.4 L274 796.3 L275.7 796.3 L276.8 797.3 L278.5 796.9 L280.3 797.4 L282 796 L283.7 795.9 L285.4 795.2 L287.2 796 L288.9 796.5 L290.3 789 L291.9 787.8 L293.5 788 L295.1 788.8 L296.7 791.4 L298.3 789.8 L300 788 L301.6 788.4 L303.2 789.5 L304.8 788.6 L306.4 790.8 L308 793.8 L309.3 797.5 L310.6 790.7 L312.2 790.6 L313.9 789.2 L315.5 789.6 L317.2 790.7 L318.8 790.8 L320.4 790 L322.1 789.4 L323.7 789.7 L325.4 789.8 L327 790.2 L328.7 790 L330.3 789.7 L331.9 790.5 L333.6 789.4 L335.2 790.4 L336.9 791.2 L338.5 789.7 L339.8 794.8 L341.4 796.3 L343.1 798 L344.7 796.4 L346.3 795.9 L347.9 797.6 L349.6 795.8 L351.2 796.1 L352.8 796.2 L354.4 796.3 L356.1 796.1 L357.7 796.2 L359.3 795.9 L360.9 796 L362.6 796.5 L364.2 797 L365.8 796.7 L367.4 797 L369.1 796.7 L370.7 796.1 L372.3 794.4 L373.9 796.5 L375.6 798.7 L377.2 796.7 L378.8 795.7 L380.4 795.9 L382.1 796.5 L383.7 796.4 L385.3 797 L386.9 796.1 L388.6 796.3 L390.2 799.1 L391.8 797.9 L393.4 796.7 L395.1 797.3 L396.7 796.3 L398.3 796 L399.9 797.7 L401.6 797.5 L403.2 797.1 L404.8 797.3 L406.4 798.3 L408.1 799.2 L409.7 800.4 L411.3 799.9 L412.3 793.2 L413.9 792.2 L415.6 791.3 L417.2 790.6 L418.8 791.2 L420.4 791.6 L422.1 792.1 L423.7 792.1 L425.3 790.4 L426.3 796.7 L427.9 796.7 L429.5 798.3 L431.1 797.2 L432.7 798.5 L434.3 799.7 L435.9 798.2 L437.5 797.1 L439.1 796.3 L440.7 796.4 L442.3 796.3 L443.9 796.8 L445.5 796.4 L447.1 797.5 L448.7 798.4 L450.3 798.1 L451.9 797.5 L453.5 797.2 L455.1 796.3 L456.7 796.3 L458.4 797.1 L460 798.7 L461.6 798.1 L463.2 798.2 L464.8 797.3 L466.4 797.4 L468 796.1 L469.6 796.1 L471.2 798.2 L472.8 800 L474.4 799.8 L476 796.6 L477.6 796 L479.2 796.6 L480.8 796.8 L482.4 797.8 L484 799.1 L485.6 797.4 L487.2 795.8 L488.8 797.1 L490.4 798.1 L492 797.1 L493.6 795.8 L495.2 795.7 L496.8 795.6 L498.4 796.7 L500 800.1 L501.6 802.4 L503.2 798 L504.8 796.8 L506.4 796.3 L508 796.2 L509.6 794.4 L511.2 795.5 L512.8 795.8 L514.4 797.2 L516 797.4 L517.6 798.1 L519.2 797.6 L520.9 795.8 L522.5 796.1 L524.1 796.5 L525.7 796.5 L527.3 796.4 L528.9 797.1 L530.5 796.8 L532.1 796.8 L533.7 797.1 L535.3 796.7 L536.9 797.2 L538.5 796.2 L540.1 797.6 L541.7 798.7 L543.3 800.1 L544.9 799.4 L546.5 798 L548.1 795.5 L549.7 796.4 L551.3 796.9 L552.7 789.1 L554.4 789.4 L556 789.1 L557.7 790 L559.4 789.3 L561 789 L562.7 790 L564.4 790.6 L566 790.6 L567.7 790.2 L569.4 790.6 L571 791 L572.7 792 L574.4 792.2 L576 791.2 L577.7 790.6 L579.4 790.3 L581 791.6 L582.7 792 L584.4 790.4 L586 791 L587.7 790.8 L589 797.9 L590.7 798.4 L592.4 798.1 L594.1 797 L595.8 798.5 L597.5 797.7 L599.2 797.1 L600.9 797.8 L602.6 798.2 L604.3 796.6 L606 797.3 L607.3 790.8 L608.9 789.9 L610.6 790.3 L612.2 790.6 L613.8 792 L615.5 791.3 L617.1 790.6 L618.7 792.3 L620.4 792.9 L622 791.6 L623.2 796.8 L624.8 797.7 L626.4 800.7 L628 800.9 L629.6 797.2 L631.2 797.2 L632.8 797.3 L634.4 797 L636 798.2 L637.7 797.7 L639.3 797.7 L640.9 798.4 L642.5 798.1 L644.1 797.1 L645.7 796.9 L647.3 797.4 L648.9 797.4 L650.5 797.8 L652.1 797.3 L653.7 797.6 L655.3 798 L656.9 798.9 L658.5 796.6 L660.1 796.7 L661.7 798.2 L663.3 797.8 L664.9 796.7 L666.5 797.2 L668.2 796.5 L669.8 795.7 L671.4 795.7 L673 796.2 L674.6 797.8 L676.2 797.8 L677.8 798.1 L679.4 798.6 L681 797.3 L684 796.5 L686.5 798.2 L688.1 798.7 L689.8 797.9 L691.4 796.4 L693.1 796.6 L694.7 797.2 L696.4 797.3 L698 796.6 L699.7 797.3 L701.3 797.5 L703 798 L704.6 798 L706.2 797.7 L707.9 798.2 L709.5 797.6 L711.2 796.7 L712.8 796.3 L714.5 796.3 L716.1 795.9 L717.8 796.9 L719.4 797.2 L721.1 796.9 L722.7 797.2 L724.5 784.2 L726.2 783.4 L728 781 L729.8 780.8 L731.5 781.5 L733.2 782.3 L735 784.1 L736.5 798.7 L738 780.5 L739.7 780.1 L741.3 779.8 L743 780.7 L744.7 781.3 L746.3 781.5 L748 781.1 L750 775.8 L751.5 803.3 L753.5 796.3 L755.1 796.4 L756.7 796.8 L758.4 797.8 L760 798.4 L761.6 798.5 L763.2 797.2 L764.8 796.3 L766.4 798.1 L768.1 797.6 L769.7 796.8 L771.3 796.5 L772.9 797.1 L774.5 797.1 L776.1 796.6 L777.8 796.3 L779.4 796.5 L781 796.9 L782.6 796.3 L784.2 797.1 L785.9 797 L787.5 797.5 L789.1 797.5 L790.7 797.6 L792.3 796.2 L793.9 797.1 L795.6 800.7 L797.2 799.6 L798.8 797.4 L800.4 796.9 L802 794.5 L803.7 796.1 L805.3 796.4 L806.9 796.1 L808.5 797.4 L810.1 798.4 L811.7 798.1 L813.4 797.3 L815 796.7 L816.6 797.9 L818.2 798.6 L819.8 796.8 L821.4 798.4 L823.1 801.1 L824.7 798.6 L826.3 796.9 L827.7 791 L829.6 788.8 L831.4 791.2 L833.2 791.8 L835.1 791.8 L836.9 791.5 L838.8 791.2 L840.2 796.4 L841.9 796.8 L843.5 797.2 L845.2 797.4 L846.9 796.9 L848.5 797 L850.2 797.7 L851.8 798.5 L853.5 798.2 L855.2 796.8 L856.8 796.9 L858.5 797.6 L859.3 797.8 L860.2 797.2 L861.8 797.7 L863.5 796.9 L865.1 797.7 L866.8 800.1 L868.4 802.7 L870.1 802.2 L871.7 797.7 L873.4 796 L875 797.6 L876.7 799.3 L878.3 798.5 L880 798.2 L881.6 798.1 L883.2 797 L884.9 796.3 L886.5 797.7 L888.2 797.9 L889.8 799.8 L891.5 800.6 L893.1 798.3 L894.8 796.9 L896.4 797.7 L898.1 799 L899.7 797.4 L901.4 797.2 L903 796.4 L904.7 798.2 L906.3 800 L907.3 792.8 L908.3 797.7 L909.9 799.1 L911.6 798.3 L913.2 798 L914.8 798.4 L916.5 798 L918.1 798.2 L919.7 797.1 L921.4 796.6 L923 797.2 L924.6 796.2 L926.3 796.8 L927.9 797.4 L929.5 797.4 L931.1 798.3 L932.8 799 L934.4 796.7 L936 796.2 L937.7 798.1 L939.3 799.4 L940.9 799.4 L942.6 799.4 L944.2 797.4 L945.8 798.3 L947.5 799.3 L949.1 798.9 L950.7 798.4 L952.4 796.9 L954 796 L955.6 792.8 L957.3 795.8 L958.9 797.6 L960.5 797.2 L962.2 797.1 L963.8 798.6 L965.4 798.6 L967 801.2 L968.7 799.6 L970.3 798.7 L971.9 797.2 L973.6 796.9 L975.2 799.3 L976.8 800.3 L978.5 800.8 L980.1 799.9 L981.7 800.1 L983.4 799.6 L985 798.5 L986 804.6 L987 798.3 L988.6 797.2 L990.2 797.6 L991.8 797.2 L993.4 797.8 L995 797.7 L996.6 796.9 L998.2 796.5 L999.9 796.3 L1001.5 795.1 L1003.1 793.6 L1004.7 795.6 L1006.3 797 L1007.9 798.2 L1009.5 800 L1011.1 799.4 L1012.7 799.2 L1014.3 798.9 L1015.9 797.7 L1017.5 797.1 L1019.1 798.6 L1020.7 797.8 L1022.3 797.5 L1023.9 798.1 L1025.6 799.2 L1027.2 800.2 L1028.8 798.5 L1030.4 797.9 L1032 798.5 L1033.6 797.6 L1035.2 796.7 L1036.8 796.3 L1037.8 802.5 L1038.8 797.6 L1040.9 798.7 L1043 798.5 L1044 792.5 L1045 797.5 L1046.6 797.9 L1048.2 797.8 L1049.8 797.4 L1051.4 797 L1053 796.4 L1054.6 797.3 L1056.3 797.9 L1057.9 799 L1059.5 797.5 L1061.1 797.5 L1062.7 799 L1064.3 802.7 L1065.9 802.2 L1067.5 799.4 L1069.1 798.1 L1070.7 797.9 L1072.3 798 L1073.9 798.4 L1075.5 798.7 L1077.2 798.1 L1078.8 797.7 L1080.4 797.1 L1082 797.6 L1083.6 797.8 L1085.2 798 L1086.8 797.6 L1088.4 797.2 L1090 797.4 L1091.6 797.4 L1093.2 796.9 L1094.8 797.9 L1096.4 797.1 L1098.1 797.1 L1099.7 796.8 L1101.3 797.7 L1102.9 798 L1104.5 798.5 L1106.1 797.4 L1107.7 797.7 L1109.3 797.3 L1110.9 797.8 L1112.5 798 L1114.1 798 L1115.7 797.6 L1117.3 798.1 L1119 798 L1120.6 797.7 L1122.2 796.9 L1123.8 796.6 L1125.4 797.3 L1127 797.9 L1128.6 799.5 L1130.2 799.1 L1131.8 799.4 L1133.4 798.1 L1135 797.1 L1136.6 798.6 L1138.2 798.1 L1139.9 798.7 L1141.5 798.8 L1143.1 798.7 L1144.7 800.7 L1146.3 800.4 L1147.9 799.3 L1149.5 798.2 L1151.1 798.1 L1152.7 797.9 L1154.3 797.2 L1155.9 797.4 L1157.5 799.2 L1159.1 798 L1160.8 798.9 L1162.4 798.3 L1164 798.1 L1165.6 798.3 L1167.2 798 L1168.8 798 L1170.4 797.7 L1172 798.3 L1173.6 797.6 L1175.2 797.6 L1176.8 797.6 L1178.4 797.6 L1180 796.9 L1181.7 797 L1183.3 797.7 L1184.9 797.3 L1186.5 797.3 L1188.1 798.5 L1189.7 797.9 L1191.3 797.5 L1192.9 797.1 L1194.5 797.7 L1196.1 797.8 L1197.7 797.8 L1199.3 797.7 L1200.9 800.2 L1202.6 799.6 L1204.2 797.7 L1205.8 797.7 L1207.4 796.6 L1209 797.2 L1210.6 797.9 L1212.2 797.2 L1213.8 797.6 L1215.4 797.5 L1217 797.2 L1218.6 797.6 L1220.2 797.6 L1221.8 797 L1223.5 796.5 L1225.1 797.8 L1226.7 798 L1228.3 798.4 L1229.9 798.4 L1231.5 799.1 L1233.1 799 L1234.7 797.7 L1236.3 798.1 L1237.9 798 L1239.5 797.1 L1241.1 796.8 L1242.7 797.7 L1244.4 797.4 L1246 798.5 L1247.6 799.5 L1249.2 798.9 L1250.8 799.2 L1252.4 798.9 L1254 798.7 L1255.2 803.8 L1256.9 802.9 L1258.6 804.3 L1260.4 803.9 L1262.1 802.8 L1263.8 803.4 L1264.8 798.2 L1266.5 798 L1268.2 797.5 L1269.9 798.9 L1271.6 798.9 L1273.2 800.3 L1274.9 799.7 L1276.6 797.4 L1278.3 797.9 L1280 797.9 L1281.2 815.3 L1283.2 797.3 L1283.2 740.2 L1281.2 758.6 L1280 740.8 L1278.3 740.8 L1276.6 740.3 L1274.9 743.4 L1273.2 744.2 L1271.6 742.7 L1269.9 742.9 L1268.2 741.3 L1266.5 740.4 L1264.8 740.7 L1263.8 747.7 L1262.1 747.9 L1260.4 748.2 L1258.6 747.1 L1256.9 745.9 L1255.2 746.4 L1254 741.9 L1252.4 741.3 L1250.8 742.2 L1249.2 743.5 L1247.6 744 L1246 742.1 L1244.4 740.2 L1242.7 742.8 L1241.1 745.1 L1239.5 743.7 L1237.9 741.7 L1236.3 741.2 L1234.7 742.7 L1233.1 741.8 L1231.5 742.8 L1229.9 743.4 L1228.3 741.7 L1226.7 741.5 L1225.1 742.3 L1223.5 742.3 L1221.8 741.7 L1220.2 740.3 L1218.6 740.6 L1217 741.3 L1215.4 741 L1213.8 741.1 L1212.2 743 L1210.6 741.8 L1209 741.9 L1207.4 743.9 L1205.8 741.7 L1204.2 741.7 L1202.6 744.1 L1200.9 744.9 L1199.3 741.6 L1197.7 741 L1196.1 740.7 L1194.5 740.9 L1192.9 740.3 L1191.3 741.9 L1189.7 741.9 L1188.1 744.2 L1186.5 742.4 L1184.9 740.8 L1183.3 740.3 L1181.7 741.5 L1180 740.7 L1178.4 740.9 L1176.8 740.6 L1175.2 741 L1173.6 741.4 L1172 740.9 L1170.4 741.8 L1168.8 742.4 L1167.2 741.7 L1165.6 741.1 L1164 741.2 L1162.4 741.4 L1160.8 742 L1159.1 741.8 L1157.5 742.6 L1155.9 743.2 L1154.3 742.4 L1152.7 742.6 L1151.1 741 L1149.5 742.4 L1147.9 746 L1146.3 744.3 L1144.7 745 L1143.1 742.6 L1141.5 742.8 L1139.9 742.6 L1138.2 742 L1136.6 743.4 L1135 742.8 L1133.4 744.8 L1131.8 744.1 L1130.2 743.1 L1128.6 742.6 L1127 742.3 L1125.4 741.6 L1123.8 742.1 L1122.2 742.8 L1120.6 741.5 L1119 741.3 L1117.3 740.7 L1115.7 742.1 L1114.1 741.2 L1112.5 740.2 L1110.9 740.8 L1109.3 741.1 L1107.7 740.3 L1106.1 740.4 L1104.5 741.4 L1102.9 741 L1101.3 742.4 L1099.7 742.8 L1098.1 741.7 L1096.4 741.7 L1094.8 745.2 L1093.2 748.9 L1091.6 743.8 L1090 741.2 L1088.4 740.3 L1086.8 740.1 L1085.2 741.6 L1083.6 741.1 L1082 740.8 L1080.4 741.4 L1078.8 741.7 L1077.2 741.7 L1075.5 743.2 L1073.9 741.6 L1072.3 739.8 L1070.7 740.2 L1069.1 742.1 L1067.5 742.6 L1065.9 745.6 L1064.3 745.7 L1062.7 741.6 L1061.1 740.4 L1059.5 741.2 L1057.9 742.1 L1056.3 741.7 L1054.6 742.7 L1053 743.5 L1051.4 742.2 L1049.8 740.9 L1048.2 741 L1046.6 740.4 L1045 741.2 L1044 736.2 L1043 742.6 L1040.9 742.1 L1038.8 739.9 L1037.8 747.2 L1036.8 741.3 L1035.2 740.6 L1033.6 741.3 L1032 741.8 L1030.4 740.4 L1028.8 741.6 L1027.2 743.2 L1025.6 742.1 L1023.9 741.4 L1022.3 742.1 L1020.7 741.1 L1019.1 742.3 L1017.5 742 L1015.9 741 L1014.3 742.7 L1012.7 742.5 L1011.1 743.3 L1009.5 743.5 L1007.9 740.9 L1006.3 739.9 L1004.7 743.2 L1003.1 748.9 L1001.5 744.8 L999.9 739.5 L998.2 740.9 L996.6 741.5 L995 741.9 L993.4 742.6 L991.8 741.5 L990.2 741.5 L988.6 741.8 L987 743.3 L986 748.2 L985 742.9 L983.4 742.5 L981.7 744.2 L980.1 743.7 L978.5 744.6 L976.8 744.3 L975.2 742.2 L973.6 741 L971.9 742.7 L970.3 742.9 L968.7 743 L967 743.4 L965.4 742.5 L963.8 741.6 L962.2 740.6 L960.5 741.1 L958.9 741.2 L957.3 744.1 L955.6 747.8 L954 744.5 L952.4 743.5 L950.7 742.6 L949.1 742.6 L947.5 742 L945.8 741.4 L944.2 741.2 L942.6 744.3 L940.9 744.7 L939.3 744.2 L937.7 742.6 L936 742 L934.4 741.5 L932.8 743.6 L931.1 741.5 L929.5 740.9 L927.9 740.8 L926.3 740.3 L924.6 741.9 L923 742.5 L921.4 742.4 L919.7 743.2 L918.1 742.7 L916.5 741.6 L914.8 741.9 L913.2 743 L911.6 743.5 L909.9 745.8 L908.3 745.7 L907.3 737.7 L906.3 743.1 L904.7 743.1 L903 743.4 L901.4 742.4 L899.7 740.8 L898.1 742.8 L896.4 741.9 L894.8 741.6 L893.1 743 L891.5 744.6 L889.8 743 L888.2 741 L886.5 740.4 L884.9 741.5 L883.2 743.9 L881.6 743 L880 742.2 L878.3 741.8 L876.7 742.3 L875 740.8 L873.4 742.4 L871.7 742.4 L870.1 745 L868.4 747.7 L866.8 744.7 L865.1 741.2 L863.5 740.7 L861.8 741.1 L860.2 741.3 L859.3 741.3 L858.5 741.3 L856.8 742.4 L855.2 743.2 L853.5 743 L851.8 741.2 L850.2 741.4 L848.5 741 L846.9 741.6 L845.2 742.3 L843.5 740.7 L841.9 740.9 L840.2 740.7 L838.8 734.2 L836.9 735.2 L835.1 735.6 L833.2 735.8 L831.4 737.9 L829.6 740.2 L827.7 736.7 L826.3 740.3 L824.7 743.5 L823.1 748.3 L821.4 742.8 L819.8 741.9 L818.2 742.5 L816.6 741.9 L815 740.9 L813.4 740.7 L811.7 742.3 L810.1 741.8 L808.5 741.9 L806.9 741.8 L805.3 743.9 L803.7 742.8 L802 742.7 L800.4 743.2 L798.8 741.6 L797.2 744.5 L795.6 743.2 L793.9 743.3 L792.3 744.9 L790.7 743.5 L789.1 741.6 L787.5 741.3 L785.9 741.7 L784.2 741.1 L782.6 739.9 L781 740.7 L779.4 740.1 L777.8 741.9 L776.1 739.1 L774.5 740.2 L772.9 741.4 L771.3 740.3 L769.7 741 L768.1 741.4 L766.4 741.4 L764.8 739.8 L763.2 741.8 L761.6 742.7 L760 742.9 L758.4 742.8 L756.7 742 L755.1 743.8 L753.5 742.7 L751.5 747.3 L750 775.8 L748 781.1 L746.3 781.5 L744.7 781.3 L743 780.7 L741.3 779.8 L739.7 780.1 L738 780.5 L736.5 743.5 L735 784.1 L733.2 782.3 L731.5 781.5 L729.8 780.8 L728 781 L726.2 783.4 L724.5 784.2 L722.7 742.2 L721.1 740.8 L719.4 740.4 L717.8 740.7 L716.1 742.3 L714.5 742 L712.8 741.8 L711.2 741.9 L709.5 742.2 L707.9 742.3 L706.2 742.3 L704.6 742.1 L703 742.1 L701.3 741.6 L699.7 740.7 L698 740.3 L696.4 740 L694.7 742.4 L693.1 741.6 L691.4 740.9 L689.8 742.3 L688.1 742.7 L686.5 742.2 L684 742.4 L681 741.2 L679.4 742.2 L677.8 743.4 L676.2 743.3 L674.6 740.9 L673 740.2 L671.4 739.2 L669.8 740.7 L668.2 740.4 L666.5 741.6 L664.9 740.3 L663.3 742.6 L661.7 743.1 L660.1 744.7 L658.5 743.9 L656.9 744.3 L655.3 742.6 L653.7 741.4 L652.1 741.1 L650.5 742.5 L648.9 741.5 L647.3 740.8 L645.7 740.9 L644.1 740.2 L642.5 741.7 L640.9 742.7 L639.3 742.5 L637.7 741.7 L636 742.5 L634.4 740.7 L632.8 740.8 L631.2 740.9 L629.6 741.9 L628 746 L626.4 745.3 L624.8 742.4 L623.2 740.7 L622 735.4 L620.4 736.2 L618.7 737 L617.1 735.8 L615.5 735.5 L613.8 735.5 L612.2 735 L610.6 735.7 L608.9 737.1 L607.3 736 L606 741.3 L604.3 744.4 L602.6 745.6 L600.9 742.6 L599.2 741.5 L597.5 742.9 L595.8 742.4 L594.1 741.5 L592.4 742 L590.7 743.1 L589 741.3 L587.7 734.4 L586 734.9 L584.4 736.3 L582.7 738.4 L581 735.8 L579.4 734.7 L577.7 735 L576 735.4 L574.4 735.3 L572.7 736.3 L571 735.2 L569.4 734.3 L567.7 734.5 L566 735 L564.4 734.7 L562.7 735.6 L561 736.7 L559.4 736.4 L557.7 736.6 L556 738.2 L554.4 740.9 L552.7 740.2 L551.3 743.8 L549.7 740.5 L548.1 740.2 L546.5 741.3 L544.9 742.5 L543.3 743.8 L541.7 743.8 L540.1 741.7 L538.5 741.3 L536.9 741.5 L535.3 741.4 L533.7 741.3 L532.1 741.3 L530.5 742.4 L528.9 743.4 L527.3 742.2 L525.7 743.7 L524.1 742.9 L522.5 741.1 L520.9 741.6 L519.2 741.6 L517.6 741.4 L516 743.1 L514.4 743.4 L512.8 742.7 L511.2 745.6 L509.6 746.1 L508 742.3 L506.4 741.3 L504.8 741.5 L503.2 743.2 L501.6 748.3 L500 748.3 L498.4 744.8 L496.8 744.3 L495.2 742.6 L493.6 741.9 L492 741.9 L490.4 743.2 L488.8 742.3 L487.2 741.4 L485.6 742.6 L484 743.5 L482.4 742.3 L480.8 740.7 L479.2 741.1 L477.6 741.8 L476 742.9 L474.4 744.7 L472.8 745 L471.2 742.2 L469.6 744.5 L468 749.1 L466.4 746 L464.8 741.7 L463.2 742 L461.6 742.8 L460 743.5 L458.4 741.6 L456.7 741.7 L455.1 741.2 L453.5 741.6 L451.9 742.1 L450.3 742.7 L448.7 742.3 L447.1 741.6 L445.5 740.9 L443.9 742.3 L442.3 741.8 L440.7 740.6 L439.1 741.4 L437.5 741.7 L435.9 742.1 L434.3 744.3 L432.7 743.3 L431.1 744.6 L429.5 743.8 L427.9 741.4 L426.3 740.5 L425.3 736.2 L423.7 737.1 L422.1 736.9 L420.4 735.8 L418.8 736.4 L417.2 735.1 L415.6 735.6 L413.9 736.4 L412.3 738 L411.3 743.7 L409.7 746.4 L408.1 744.1 L406.4 744 L404.8 742.4 L403.2 741.2 L401.6 742.9 L399.9 742.4 L398.3 741.7 L396.7 741.9 L395.1 741.5 L393.4 742 L391.8 743.8 L390.2 745 L388.6 742.8 L386.9 741.1 L385.3 741.3 L383.7 742.3 L382.1 741.4 L380.4 740.6 L378.8 741.6 L377.2 742.1 L375.6 742.7 L373.9 740.8 L372.3 739.4 L370.7 740.5 L369.1 742.7 L367.4 742.3 L365.8 741.3 L364.2 741.3 L362.6 742.4 L360.9 741.1 L359.3 740.8 L357.7 742.1 L356.1 744.5 L354.4 746.5 L352.8 745.1 L351.2 741.2 L349.6 741.1 L347.9 741.4 L346.3 740.6 L344.7 742.6 L343.1 742.7 L341.4 740 L339.8 741.6 L338.5 738.8 L336.9 739 L335.2 739.6 L333.6 735.8 L331.9 735 L330.3 733.4 L328.7 735.3 L327 734.6 L325.4 734.8 L323.7 735.8 L322.1 733.2 L320.4 735.4 L318.8 735.5 L317.2 738.2 L315.5 738.4 L313.9 735.8 L312.2 735.1 L310.6 734.8 L309.3 743.2 L308 739.4 L306.4 736 L304.8 734.1 L303.2 734.7 L301.6 734.5 L300 735.7 L298.3 737.1 L296.7 736.3 L295.1 737.3 L293.5 739.1 L291.9 736.2 L290.3 736.1 L288.9 742.5 L287.2 740.7 L285.4 740.4 L283.7 740.4 L282 741.7 L280.3 742.9 L278.5 743.5 L276.8 742.5 L275.7 741.8 L274 740.2 L272.4 740.6 L270.7 741.2 L269 741 L267.4 740.8 L265.7 741.6 L264.1 743.4 L262.4 744.5 L260.7 743 L259.1 741.7 L257.4 742.7 L255.7 743 L254.1 743.3 L252.4 744.5 L251 781.4 L249.2 782.6 L247.4 780.8 L245.6 780 L243.8 779.4 L242.8 741.5 L241.1 742.4 L239.5 743.8 L237.8 747.5 L236.2 745.2 L234.5 743.6 L232.9 742.7 L231.2 743.4 L229.5 742 L227.9 741.9 L226.2 741.9 L224.6 743.6 L222.9 747 L221.3 744.6 L219.6 743.3 L217.9 743.6 L216.3 745.6 L214.6 744.7 L213 742.8 L211.3 743.6 L209.7 742.6 L208 742.2 L207 780.5 L205.3 780.4 L203.6 780 L201.9 780.6 L200.2 781.2 L198.5 782.6 L196.8 782.6 L195.3 807.8 L193.7 807.5 L192.1 807.1 L190.5 807.5 L188.9 807.2 L187.3 807.6 L185.7 807.4 L183.5 780.7 L182 807.9 L179.9 780.1 L178.4 807.4 L176.4 807.6 L174.5 807.4 L172.5 808 L171.6 779.9 L170 779.9 L168.3 779.1 L166.7 779.7 L165 779.9 L163.4 781.8 L161.7 787.6 L160.1 786.6 L158.4 781.2 L156.8 780 L155.1 780 L153.5 780.6 L151.9 779.8 L150.2 779.8 L148.6 779.7 L146.9 780.6 L145.3 779.6 L143.6 780.4 L142 780.3 L140.3 780.9 L138.7 781.7 L137 780.7 L135.4 779.7 L133.7 779.9 L132.1 780.4 L130.5 780 L128.8 779.9 L127.2 780.6 L125.5 780.2 L123.9 780.6 L122.2 779.6 L120.6 779.9 L118.9 780.4 L117.3 779.9 L115.6 780.3 L114 781.5Z" fill="#5d531c" stroke="#5d531c"/>
<path d="M114 781.5 L115.6 780.3 L117.3 779.9 L118.9 780.4 L120.6 779.9 L122.2 779.6 L123.9 780.6 L125.5 780.2 L127.2 780.6 L128.8 779.9 L130.5 780 L132.1 780.4 L133.7 779.9 L135.4 779.7 L137 780.7 L138.7 781.7 L140.3 780.9 L142 780.3 L143.6 780.4 L145.3 779.6 L146.9 780.6 L148.6 779.7 L150.2 779.8 L151.9 779.8 L153.5 780.6 L155.1 780 L156.8 780 L158.4 781.2 L160.1 786.6 L161.7 787.6 L163.4 781.8 L165 779.9 L166.7 779.7 L168.3 779.1 L170 779.9 L171.6 779.9 L172.5 808 L174.5 807.4 L176.4 807.6 L178.4 807.4 L179.9 780.1 L182 807.9 L183.5 780.7 L185.7 807.4 L187.3 807.6 L188.9 807.2 L190.5 807.5 L192.1 807.1 L193.7 807.5 L195.3 807.8 L196.8 782.6 L198.5 782.6 L200.2 781.2 L201.9 780.6 L203.6 780 L205.3 780.4 L207 780.5 L208 742.2 L209.7 742.6 L211.3 743.6 L213 742.8 L214.6 744.7 L216.3 745.6 L217.9 743.6 L219.6 743.3 L221.3 744.6 L222.9 747 L224.6 743.6 L226.2 741.9 L227.9 741.9 L229.5 742 L231.2 743.4 L232.9 742.7 L234.5 743.6 L236.2 745.2 L237.8 747.5 L239.5 743.8 L241.1 742.4 L242.8 741.5 L243.8 779.4 L245.6 780 L247.4 780.8 L249.2 782.6 L251 781.4 L252.4 744.5 L254.1 743.3 L255.7 743 L257.4 742.7 L259.1 741.7 L260.7 743 L262.4 744.5 L264.1 743.4 L265.7 741.6 L267.4 740.8 L269 741 L270.7 741.2 L272.4 740.6 L274 740.2 L275.7 741.8 L276.8 742.5 L278.5 743.5 L280.3 742.9 L282 741.7 L283.7 740.4 L285.4 740.4 L287.2 740.7 L288.9 742.5 L290.3 736.1 L291.9 736.2 L293.5 739.1 L295.1 737.3 L296.7 736.3 L298.3 737.1 L300 735.7 L301.6 734.5 L303.2 734.7 L304.8 734.1 L306.4 736 L308 739.4 L309.3 743.2 L310.6 734.8 L312.2 735.1 L313.9 735.8 L315.5 738.4 L317.2 738.2 L318.8 735.5 L320.4 735.4 L322.1 733.2 L323.7 735.8 L325.4 734.8 L327 734.6 L328.7 735.3 L330.3 733.4 L331.9 735 L333.6 735.8 L335.2 739.6 L336.9 739 L338.5 738.8 L339.8 741.6 L341.4 740 L343.1 742.7 L344.7 742.6 L346.3 740.6 L347.9 741.4 L349.6 741.1 L351.2 741.2 L352.8 745.1 L354.4 746.5 L356.1 744.5 L357.7 742.1 L359.3 740.8 L360.9 741.1 L362.6 742.4 L364.2 741.3 L365.8 741.3 L367.4 742.3 L369.1 742.7 L370.7 740.5 L372.3 739.4 L373.9 740.8 L375.6 742.7 L377.2 742.1 L378.8 741.6 L380.4 740.6 L382.1 741.4 L383.7 742.3 L385.3 741.3 L386.9 741.1 L388.6 742.8 L390.2 745 L391.8 743.8 L393.4 742 L395.1 741.5 L396.7 741.9 L398.3 741.7 L399.9 742.4 L401.6 742.9 L403.2 741.2 L404.8 742.4 L406.4 744 L408.1 744.1 L409.7 746.4 L411.3 743.7 L412.3 738 L413.9 736.4 L415.6 735.6 L417.2 735.1 L418.8 736.4 L420.4 735.8 L422.1 736.9 L423.7 737.1 L425.3 736.2 L426.3 740.5 L427.9 741.4 L429.5 743.8 L431.1 744.6 L432.7 743.3 L434.3 744.3 L435.9 742.1 L437.5 741.7 L439.1 741.4 L440.7 740.6 L442.3 741.8 L443.9 742.3 L445.5 740.9 L447.1 741.6 L448.7 742.3 L450.3 742.7 L451.9 742.1 L453.5 741.6 L455.1 741.2 L456.7 741.7 L458.4 741.6 L460 743.5 L461.6 742.8 L463.2 742 L464.8 741.7 L466.4 746 L468 749.1 L469.6 744.5 L471.2 742.2 L472.8 745 L474.4 744.7 L476 742.9 L477.6 741.8 L479.2 741.1 L480.8 740.7 L482.4 742.3 L484 743.5 L485.6 742.6 L487.2 741.4 L488.8 742.3 L490.4 743.2 L492 741.9 L493.6 741.9 L495.2 742.6 L496.8 744.3 L498.4 744.8 L500 748.3 L501.6 748.3 L503.2 743.2 L504.8 741.5 L506.4 741.3 L508 742.3 L509.6 746.1 L511.2 745.6 L512.8 742.7 L514.4 743.4 L516 743.1 L517.6 741.4 L519.2 741.6 L520.9 741.6 L522.5 741.1 L524.1 742.9 L525.7 743.7 L527.3 742.2 L528.9 743.4 L530.5 742.4 L532.1 741.3 L533.7 741.3 L535.3 741.4 L536.9 741.5 L538.5 741.3 L540.1 741.7 L541.7 743.8 L543.3 743.8 L544.9 742.5 L546.5 741.3 L548.1 740.2 L549.7 740.5 L551.3 743.8 L552.7 740.2 L554.4 740.9 L556 738.2 L557.7 736.6 L559.4 736.4 L561 736.7 L562.7 735.6 L564.4 734.7 L566 735 L567.7 734.5 L569.4 734.3 L571 735.2 L572.7 736.3 L574.4 735.3 L576 735.4 L577.7 735 L579.4 734.7 L581 735.8 L582.7 738.4 L584.4 736.3 L586 734.9 L587.7 734.4 L589 741.3 L590.7 743.1 L592.4 742 L594.1 741.5 L595.8 742.4 L597.5 742.9 L599.2 741.5 L600.9 742.6 L602.6 745.6 L604.3 744.4 L606 741.3 L607.3 736 L608.9 737.1 L610.6 735.7 L612.2 735 L613.8 735.5 L615.5 735.5 L617.1 735.8 L618.7 737 L620.4 736.2 L622 735.4 L623.2 740.7 L624.8 742.4 L626.4 745.3 L628 746 L629.6 741.9 L631.2 740.9 L632.8 740.8 L634.4 740.7 L636 742.5 L637.7 741.7 L639.3 742.5 L640.9 742.7 L642.5 741.7 L644.1 740.2 L645.7 740.9 L647.3 740.8 L648.9 741.5 L650.5 742.5 L652.1 741.1 L653.7 741.4 L655.3 742.6 L656.9 744.3 L658.5 743.9 L660.1 744.7 L661.7 743.1 L663.3 742.6 L664.9 740.3 L666.5 741.6 L668.2 740.4 L669.8 740.7 L671.4 739.2 L673 740.2 L674.6 740.9 L676.2 743.3 L677.8 743.4 L679.4 742.2 L681 741.2 L684 742.4 L686.5 742.2 L688.1 742.7 L689.8 742.3 L691.4 740.9 L693.1 741.6 L694.7 742.4 L696.4 740 L698 740.3 L699.7 740.7 L701.3 741.6 L703 742.1 L704.6 742.1 L706.2 742.3 L707.9 742.3 L709.5 742.2 L711.2 741.9 L712.8 741.8 L714.5 742 L716.1 742.3 L717.8 740.7 L719.4 740.4 L721.1 740.8 L722.7 742.2 L724.5 784.2 L726.2 783.4 L728 781 L729.8 780.8 L731.5 781.5 L733.2 782.3 L735 784.1 L736.5 743.5 L738 780.5 L739.7 780.1 L741.3 779.8 L743 780.7 L744.7 781.3 L746.3 781.5 L748 781.1 L750 775.8 L751.5 747.3 L753.5 742.7 L755.1 743.8 L756.7 742 L758.4 742.8 L760 742.9 L761.6 742.7 L763.2 741.8 L764.8 739.8 L766.4 741.4 L768.1 741.4 L769.7 741 L771.3 740.3 L772.9 741.4 L774.5 740.2 L776.1 739.1 L777.8 741.9 L779.4 740.1 L781 740.7 L782.6 739.9 L784.2 741.1 L785.9 741.7 L787.5 741.3 L789.1 741.6 L790.7 743.5 L792.3 744.9 L793.9 743.3 L795.6 743.2 L797.2 744.5 L798.8 741.6 L800.4 743.2 L802 742.7 L803.7 742.8 L805.3 743.9 L806.9 741.8 L808.5 741.9 L810.1 741.8 L811.7 742.3 L813.4 740.7 L815 740.9 L816.6 741.9 L818.2 742.5 L819.8 741.9 L821.4 742.8 L823.1 748.3 L824.7 743.5 L826.3 740.3 L827.7 736.7 L829.6 740.2 L831.4 737.9 L833.2 735.8 L835.1 735.6 L836.9 735.2 L838.8 734.2 L840.2 740.7 L841.9 740.9 L843.5 740.7 L845.2 742.3 L846.9 741.6 L848.5 741 L850.2 741.4 L851.8 741.2 L853.5 743 L855.2 743.2 L856.8 742.4 L858.5 741.3 L859.3 741.3 L860.2 741.3 L861.8 741.1 L863.5 740.7 L865.1 741.2 L866.8 744.7 L868.4 747.7 L870.1 745 L871.7 742.4 L873.4 742.4 L875 740.8 L876.7 742.3 L878.3 741.8 L880 742.2 L881.6 743 L883.2 743.9 L884.9 741.5 L886.5 740.4 L888.2 741 L889.8 743 L891.5 744.6 L893.1 743 L894.8 741.6 L896.4 741.9 L898.1 742.8 L899.7 740.8 L901.4 742.4 L903 743.4 L904.7 743.1 L906.3 743.1 L907.3 737.7 L908.3 745.7 L909.9 745.8 L911.6 743.5 L913.2 743 L914.8 741.9 L916.5 741.6 L918.1 742.7 L919.7 743.2 L921.4 742.4 L923 742.5 L924.6 741.9 L926.3 740.3 L927.9 740.8 L929.5 740.9 L931.1 741.5 L932.8 743.6 L934.4 741.5 L936 742 L937.7 742.6 L939.3 744.2 L940.9 744.7 L942.6 744.3 L944.2 741.2 L945.8 741.4 L947.5 742 L949.1 742.6 L950.7 742.6 L952.4 743.5 L954 744.5 L955.6 747.8 L957.3 744.1 L958.9 741.2 L960.5 741.1 L962.2 740.6 L963.8 741.6 L965.4 742.5 L967 743.4 L968.7 743 L970.3 742.9 L971.9 742.7 L973.6 741 L975.2 742.2 L976.8 744.3 L978.5 744.6 L980.1 743.7 L981.7 744.2 L983.4 742.5 L985 742.9 L986 748.2 L987 743.3 L988.6 741.8 L990.2 741.5 L991.8 741.5 L993.4 742.6 L995 741.9 L996.6 741.5 L998.2 740.9 L999.9 739.5 L1001.5 744.8 L1003.1 748.9 L1004.7 743.2 L1006.3 739.9 L1007.9 740.9 L1009.5 743.5 L1011.1 743.3 L1012.7 742.5 L1014.3 742.7 L1015.9 741 L1017.5 742 L1019.1 742.3 L1020.7 741.1 L1022.3 742.1 L1023.9 741.4 L1025.6 742.1 L1027.2 743.2 L1028.8 741.6 L1030.4 740.4 L1032 741.8 L1033.6 741.3 L1035.2 740.6 L1036.8 741.3 L1037.8 747.2 L1038.8 739.9 L1040.9 742.1 L1043 742.6 L1044 736.2 L1045 741.2 L1046.6 740.4 L1048.2 741 L1049.8 740.9 L1051.4 742.2 L1053 743.5 L1054.6 742.7 L1056.3 741.7 L1057.9 742.1 L1059.5 741.2 L1061.1 740.4 L1062.7 741.6 L1064.3 745.7 L1065.9 745.6 L1067.5 742.6 L1069.1 742.1 L1070.7 740.2 L1072.3 739.8 L1073.9 741.6 L1075.5 743.2 L1077.2 741.7 L1078.8 741.7 L1080.4 741.4 L1082 740.8 L1083.6 741.1 L1085.2 741.6 L1086.8 740.1 L1088.4 740.3 L1090 741.2 L1091.6 743.8 L1093.2 748.9 L1094.8 745.2 L1096.4 741.7 L1098.1 741.7 L1099.7 742.8 L1101.3 742.4 L1102.9 741 L1104.5 741.4 L1106.1 740.4 L1107.7 740.3 L1109.3 741.1 L1110.9 740.8 L1112.5 740.2 L1114.1 741.2 L1115.7 742.1 L1117.3 740.7 L1119 741.3 L1120.6 741.5 L1122.2 742.8 L1123.8 742.1 L1125.4 741.6 L1127 742.3 L1128.6 742.6 L1130.2 743.1 L1131.8 744.1 L1133.4 744.8 L1135 742.8 L1136.6 743.4 L1138.2 742 L1139.9 742.6 L1141.5 742.8 L1143.1 742.6 L1144.7 745 L1146.3 744.3 L1147.9 746 L1149.5 742.4 L1151.1 741 L1152.7 742.6 L1154.3 742.4 L1155.9 743.2 L1157.5 742.6 L1159.1 741.8 L1160.8 742 L1162.4 741.4 L1164 741.2 L1165.6 741.1 L1167.2 741.7 L1168.8 742.4 L1170.4 741.8 L1172 740.9 L1173.6 741.4 L1175.2 741 L1176.8 740.6 L1178.4 740.9 L1180 740.7 L1181.7 741.5 L1183.3 740.3 L1184.9 740.8 L1186.5 742.4 L1188.1 744.2 L1189.7 741.9 L1191.3 741.9 L1192.9 740.3 L1194.5 740.9 L1196.1 740.7 L1197.7 741 L1199.3 741.6 L1200.9 744.9 L1202.6 744.1 L1204.2 741.7 L1205.8 741.7 L1207.4 743.9 L1209 741.9 L1210.6 741.8 L1212.2 743 L1213.8 741.1 L1215.4 741 L1217 741.3 L1218.6 740.6 L1220.2 740.3 L1221.8 741.7 L1223.5 742.3 L1225.1 742.3 L1226.7 741.5 L1228.3 741.7 L1229.9 743.4 L1231.5 742.8 L1233.1 741.8 L1234.7 742.7 L1236.3 741.2 L1237.9 741.7 L1239.5 743.7 L1241.1 745.1 L1242.7 742.8 L1244.4 740.2 L1246 742.1 L1247.6 744 L1249.2 743.5 L1250.8 742.2 L1252.4 741.3 L1254 741.9 L1255.2 746.4 L1256.9 745.9 L1258.6 747.1 L1260.4 748.2 L1262.1 747.9 L1263.8 747.7 L1264.8 740.7 L1266.5 740.4 L1268.2 741.3 L1269.9 742.9 L1271.6 742.7 L1273.2 744.2 L1274.9 743.4 L1276.6 740.3 L1278.3 740.8 L1280 740.8 L1281.2 758.6 L1283.2 740.2 L1283.2 679.8 L1281.2 697.4 L1280 678.5 L1278.3 678.9 L1276.6 678.4 L1274.9 682.3 L1273.2 683 L1271.6 681.9 L1269.9 681.9 L1268.2 679.3 L1266.5 678.4 L1264.8 679.4 L1263.8 686.3 L1262.1 685.2 L1260.4 686.3 L1258.6 689 L1256.9 693.2 L1255.2 689 L1254 679.8 L1252.4 679.7 L1250.8 680.3 L1249.2 681.3 L1247.6 681.3 L1246 680.4 L1244.4 679.5 L1242.7 679.9 L1241.1 682.9 L1239.5 681.6 L1237.9 679.8 L1236.3 682.9 L1234.7 682.4 L1233.1 680 L1231.5 680.9 L1229.9 681.1 L1228.3 679.6 L1226.7 679 L1225.1 679.5 L1223.5 680.3 L1221.8 680.1 L1220.2 679 L1218.6 679 L1217 679 L1215.4 679.3 L1213.8 679.8 L1212.2 680.8 L1210.6 680.1 L1209 680.8 L1207.4 682 L1205.8 680.8 L1204.2 685 L1202.6 684.7 L1200.9 683.9 L1199.3 680.7 L1197.7 679.5 L1196.1 679.4 L1194.5 680.8 L1192.9 680.4 L1191.3 684.4 L1189.7 681 L1188.1 682.5 L1186.5 680.8 L1184.9 679.7 L1183.3 680.7 L1181.7 680.8 L1180 681.1 L1178.4 684.2 L1176.8 681.3 L1175.2 679.6 L1173.6 680 L1172 679.5 L1170.4 680.4 L1168.8 680.8 L1167.2 679.5 L1165.6 679.1 L1164 678.9 L1162.4 680.2 L1160.8 680 L1159.1 679.5 L1157.5 679.9 L1155.9 681.2 L1154.3 679.3 L1152.7 680.7 L1151.1 678.1 L1149.5 680.6 L1147.9 683.6 L1146.3 682.6 L1144.7 683.7 L1143.1 680.5 L1141.5 680.5 L1139.9 680.8 L1138.2 680.8 L1136.6 681.4 L1135 683.7 L1133.4 684.6 L1131.8 681.8 L1130.2 681.3 L1128.6 680.8 L1127 681.2 L1125.4 680.4 L1123.8 682.8 L1122.2 682.3 L1120.6 678.5 L1119 678.6 L1117.3 678.7 L1115.7 680.1 L1114.1 677.9 L1112.5 678.2 L1110.9 678.7 L1109.3 678.8 L1107.7 678.1 L1106.1 678.9 L1104.5 679.6 L1102.9 679.4 L1101.3 681.4 L1099.7 680.3 L1098.1 679.5 L1096.4 679.5 L1094.8 683 L1093.2 687.2 L1091.6 683.2 L1090 680.5 L1088.4 678.2 L1086.8 678.6 L1085.2 679.2 L1083.6 678.8 L1082 678.5 L1080.4 679.3 L1078.8 679.9 L1077.2 679.7 L1075.5 682.3 L1073.9 680.4 L1072.3 678.6 L1070.7 679.2 L1069.1 680.6 L1067.5 680 L1065.9 683.8 L1064.3 684.7 L1062.7 681.1 L1061.1 679.7 L1059.5 680.2 L1057.9 678.5 L1056.3 680.1 L1054.6 681.1 L1053 681.9 L1051.4 680 L1049.8 678.8 L1048.2 679.9 L1046.6 679.7 L1045 687.9 L1044 736.2 L1043 688.9 L1040.9 680.7 L1038.8 678.8 L1037.8 688.4 L1036.8 686.3 L1035.2 681.8 L1033.6 678.6 L1032 679.5 L1030.4 678.6 L1028.8 681.1 L1027.2 683.3 L1025.6 681.7 L1023.9 683.2 L1022.3 684.4 L1020.7 684.8 L1019.1 682.9 L1017.5 679.1 L1015.9 679.1 L1014.3 683.1 L1012.7 685.2 L1011.1 684.1 L1009.5 682.1 L1007.9 678.6 L1006.3 678.9 L1004.7 686.3 L1003.1 693.2 L1001.5 684.8 L999.9 680.3 L998.2 686.7 L996.6 682.4 L995 679.6 L993.4 680 L991.8 679.3 L990.2 678.7 L988.6 679.1 L987 681.1 L986 686 L985 681.5 L983.4 682.8 L981.7 682.5 L980.1 680.6 L978.5 681.7 L976.8 682.1 L975.2 679.3 L973.6 678.6 L971.9 681.1 L970.3 681.5 L968.7 680.3 L967 681.7 L965.4 679.9 L963.8 678.8 L962.2 677.8 L960.5 680.9 L958.9 682.9 L957.3 683.3 L955.6 686 L954 683.4 L952.4 682.1 L950.7 680.5 L949.1 679.5 L947.5 679.7 L945.8 680 L944.2 679.5 L942.6 685 L940.9 683.3 L939.3 682.8 L937.7 680.5 L936 682.9 L934.4 680.9 L932.8 681.4 L931.1 679.2 L929.5 682 L927.9 683.6 L926.3 681.1 L924.6 679.5 L923 679.8 L921.4 679.5 L919.7 681.5 L918.1 679.8 L916.5 678.3 L914.8 679.6 L913.2 680 L911.6 682.6 L909.9 688 L908.3 685 L907.3 737.7 L906.3 681 L904.7 680.4 L903 680.8 L901.4 680.3 L899.7 679.1 L898.1 680.4 L896.4 681.6 L894.8 681.1 L893.1 682.6 L891.5 684.7 L889.8 681.6 L888.2 679.3 L886.5 678.2 L884.9 679.1 L883.2 681.5 L881.6 680.4 L880 680.1 L878.3 680 L876.7 681.6 L875 681.5 L873.4 683.4 L871.7 684.6 L870.1 684.8 L868.4 686.7 L866.8 683.8 L865.1 679.1 L863.5 677.9 L861.8 678.7 L860.2 678.7 L859.3 741.3 L858.5 677.7 L856.8 680.4 L855.2 683 L853.5 684.2 L851.8 680.9 L850.2 680 L848.5 679.9 L846.9 681.9 L845.2 680.7 L843.5 677.7 L841.9 677.8 L840.2 680.7 L838.8 734.2 L836.9 735.2 L835.1 735.6 L833.2 735.8 L831.4 737.9 L829.6 740.2 L827.7 736.7 L826.3 677.5 L824.7 681.1 L823.1 686.5 L821.4 682.5 L819.8 680.9 L818.2 678.9 L816.6 679.3 L815 679.4 L813.4 678.9 L811.7 679.2 L810.1 679.4 L808.5 678.9 L806.9 680.7 L805.3 680.9 L803.7 683 L802 688.1 L800.4 684.7 L798.8 679.2 L797.2 682.3 L795.6 680.7 L793.9 681.1 L792.3 682.4 L790.7 681.6 L789.1 678.4 L787.5 679.8 L785.9 680.6 L784.2 680.4 L782.6 681.8 L781 681.9 L779.4 684.3 L777.8 684.9 L776.1 681.4 L774.5 679.6 L772.9 677.2 L771.3 677.7 L769.7 677.9 L768.1 679 L766.4 681.9 L764.8 684.7 L763.2 682.4 L761.6 681.2 L760 680.6 L758.4 679.1 L756.7 679.5 L755.1 680.6 L753.5 680.8 L751.5 684.7 L750 775.8 L748 719.1 L746.3 721.6 L744.7 720.7 L743 717.8 L741.3 718.5 L739.7 716.7 L738 718.1 L736.5 680.8 L735 721.2 L733.2 720 L731.5 719.3 L729.8 719 L728 718.3 L726.2 720.3 L724.5 720.8 L722.7 679.1 L721.1 678.3 L719.4 677.9 L717.8 679.1 L716.1 682.9 L714.5 680.3 L712.8 678.7 L711.2 679.9 L709.5 680.4 L707.9 682.5 L706.2 683.5 L704.6 688.3 L703 682.3 L701.3 679.2 L699.7 677.6 L698 679 L696.4 678.4 L694.7 680.5 L693.1 680.9 L691.4 679.6 L689.8 679.9 L688.1 679.7 L686.5 678.7 L684 742.4 L681 678 L679.4 681 L677.8 684 L676.2 681.8 L674.6 678.1 L673 678.7 L671.4 684.9 L669.8 687.2 L668.2 680.7 L666.5 678.3 L664.9 677.8 L663.3 679.2 L661.7 679.6 L660.1 682.1 L658.5 681.4 L656.9 682.4 L655.3 681.4 L653.7 679.8 L652.1 679 L650.5 679.4 L648.9 678.8 L647.3 677.2 L645.7 677.6 L644.1 678.1 L642.5 679 L640.9 680.2 L639.3 679.8 L637.7 678.6 L636 679.7 L634.4 678.3 L632.8 677.7 L631.2 678.1 L629.6 680.3 L628 683 L626.4 682.2 L624.8 680.6 L623.2 678.5 L622 735.4 L620.4 736.2 L618.7 737 L617.1 735.8 L615.5 735.5 L613.8 735.5 L612.2 735 L610.6 735.7 L608.9 737.1 L607.3 736 L606 679 L604.3 686.9 L602.6 692.9 L600.9 683.9 L599.2 679.5 L597.5 680.4 L595.8 683.9 L594.1 687 L592.4 681.5 L590.7 680.4 L589 677.9 L587.7 734.4 L586 734.9 L584.4 736.3 L582.7 738.4 L581 735.8 L579.4 734.7 L577.7 735 L576 735.4 L574.4 735.3 L572.7 736.3 L571 735.2 L569.4 734.3 L567.7 734.5 L566 735 L564.4 734.7 L562.7 735.6 L561 736.7 L559.4 736.4 L557.7 736.6 L556 738.2 L554.4 740.9 L552.7 740.2 L551.3 681.5 L549.7 682.4 L548.1 678.4 L546.5 678.3 L544.9 679.7 L543.3 680.5 L541.7 680.6 L540.1 679.5 L538.5 683 L536.9 680.3 L535.3 678.4 L533.7 678.8 L532.1 678.4 L530.5 680.2 L528.9 681.7 L527.3 679.3 L525.7 680.4 L524.1 680.7 L522.5 680.4 L520.9 679.7 L519.2 678 L517.6 679.5 L516 679.6 L514.4 679 L512.8 679.8 L511.2 681.8 L509.6 682.7 L508 678.8 L506.4 678.6 L504.8 678.6 L503.2 678.9 L501.6 684.5 L500 686.3 L498.4 681.4 L496.8 681.4 L495.2 681.9 L493.6 680.5 L492 679.2 L490.4 679.7 L488.8 678.9 L487.2 678.7 L485.6 679.1 L484 679.8 L482.4 679.2 L480.8 677.8 L479.2 681.2 L477.6 681.7 L476 680.7 L474.4 680.5 L472.8 681.6 L471.2 678.2 L469.6 682.8 L468 687.4 L466.4 684.5 L464.8 682.8 L463.2 680.3 L461.6 681.2 L460 683.7 L458.4 680.8 L456.7 679.3 L455.1 678.5 L453.5 678.2 L451.9 681.1 L450.3 679.8 L448.7 678.3 L447.1 677.5 L445.5 677.6 L443.9 678.6 L442.3 680.1 L440.7 682.3 L439.1 682.4 L437.5 680 L435.9 680.4 L434.3 682.3 L432.7 679.8 L431.1 681.4 L429.5 680.1 L427.9 677.8 L426.3 677.1 L425.3 736.2 L423.7 737.1 L422.1 736.9 L420.4 735.8 L418.8 736.4 L417.2 735.1 L415.6 735.6 L413.9 736.4 L412.3 738 L411.3 681.1 L409.7 683.4 L408.1 681.3 L406.4 681 L404.8 680.6 L403.2 678 L401.6 680 L399.9 679 L398.3 677.3 L396.7 678.3 L395.1 678.2 L393.4 678.6 L391.8 679.9 L390.2 682.2 L388.6 678.8 L386.9 680.3 L385.3 680.7 L383.7 680.1 L382.1 680 L380.4 682.3 L378.8 679.5 L377.2 679.4 L375.6 679.1 L373.9 682.1 L372.3 686.7 L370.7 683 L369.1 680.7 L367.4 679.8 L365.8 678.1 L364.2 676.5 L362.6 679 L360.9 679.9 L359.3 680.4 L357.7 681.4 L356.1 680.9 L354.4 683 L352.8 681.3 L351.2 678.2 L349.6 678 L347.9 678.1 L346.3 676.1 L344.7 680 L343.1 681.6 L341.4 678.6 L339.8 679.6 L338.5 738.8 L336.9 739 L335.2 739.6 L333.6 735.8 L331.9 735 L330.3 733.4 L328.7 735.3 L327 734.6 L325.4 734.8 L323.7 735.8 L322.1 733.2 L320.4 735.4 L318.8 735.5 L317.2 738.2 L315.5 738.4 L313.9 735.8 L312.2 735.1 L310.6 734.8 L309.3 743.2 L308 739.4 L306.4 736 L304.8 734.1 L303.2 734.7 L301.6 734.5 L300 735.7 L298.3 737.1 L296.7 736.3 L295.1 737.3 L293.5 739.1 L291.9 736.2 L290.3 736.1 L288.9 679.8 L287.2 679.1 L285.4 681 L283.7 677.3 L282 678.4 L280.3 679.6 L278.5 680.6 L276.8 681.5 L275.7 741.8 L274 740.2 L272.4 740.6 L270.7 741.2 L269 741 L267.4 740.8 L265.7 741.6 L264.1 743.4 L262.4 744.5 L260.7 743 L259.1 741.7 L257.4 742.7 L255.7 743 L254.1 743.3 L252.4 744.5 L251 781.4 L249.2 782.6 L247.4 780.8 L245.6 780 L243.8 779.4 L242.8 741.5 L241.1 742.4 L239.5 743.8 L237.8 747.5 L236.2 745.2 L234.5 743.6 L232.9 742.7 L231.2 743.4 L229.5 742 L227.9 741.9 L226.2 741.9 L224.6 743.6 L222.9 747 L221.3 744.6 L219.6 743.3 L217.9 743.6 L216.3 745.6 L214.6 744.7 L213 742.8 L211.3 743.6 L209.7 742.6 L208 742.2 L207 780.5 L205.3 780.4 L203.6 780 L201.9 780.6 L200.2 781.2 L198.5 782.6 L196.8 782.6 L195.3 807.8 L193.7 807.5 L192.1 807.1 L190.5 807.5 L188.9 807.2 L187.3 807.6 L185.7 807.4 L183.5 780.7 L182 807.9 L179.9 780.1 L178.4 807.4 L176.4 807.6 L174.5 807.4 L172.5 808 L171.6 779.9 L170 779.9 L168.3 779.1 L166.7 779.7 L165 779.9 L163.4 781.8 L161.7 787.6 L160.1 786.6 L158.4 781.2 L156.8 780 L155.1 780 L153.5 780.6 L151.9 779.8 L150.2 779.8 L148.6 779.7 L146.9 780.6 L145.3 779.6 L143.6 780.4 L142 780.3 L140.3 780.9 L138.7 781.7 L137 780.7 L135.4 779.7 L133.7 779.9 L132.1 780.4 L130.5 780 L128.8 779.9 L127.2 780.6 L125.5 780.2 L123.9 780.6 L122.2 779.6 L120.6 779.9 L118.9 780.4 L117.3 779.9 L115.6 780.3 L114 781.5Z" fill="#1cf47f" stroke="#1cf47f"/>
</g>
<rect x="296.5" y="18.1" width="622" height="296.4" fill="none" stroke="#000" stroke-width="5.4"/>
<rect x="296.5" y="347.6" width="622" height="296.4" fill="none" stroke="#000" stroke-width="5.4"/>
<g stroke="#000" stroke-width="1.9" fill="none" stroke-linecap="square"><path d="M55.4 1.9 V989.9" /><path d="M1342.4 1.9 V989.9" /><path d="M55.4 1.9 H1342.4" /><path d="M55.4 331 H1342.4" /><path d="M55.4 660.4 H1342.4" /><path d="M55.4 989.9 H1342.4" /></g>
<g stroke="#000" stroke-width="2" fill="none" stroke-linecap="round"><path d="M114 990 V998.2"/><path d="M404 990 V998.2"/><path d="M698.8 990 V998.2"/><path d="M988.8 990 V998.2"/><path d="M1283.6 990 V998.2"/></g>
<g font-family="Liberation Serif, serif" fill="#000"><text x="114" y="1039.3" font-size="33" textLength="122.1" lengthAdjust="spacingAndGlyphs" text-anchor="middle">Jan-2018</text>
<text x="404" y="1039.3" font-size="33" textLength="115.5" lengthAdjust="spacingAndGlyphs" text-anchor="middle">Jul-2018</text>
<text x="698.8" y="1039.3" font-size="33" textLength="121.7" lengthAdjust="spacingAndGlyphs" text-anchor="middle">Jan-2019</text>
<text x="988.8" y="1039.3" font-size="33" textLength="115.5" lengthAdjust="spacingAndGlyphs" text-anchor="middle">Jul-2019</text>
<text x="1283.6" y="1039.3" font-size="33" textLength="122.6" lengthAdjust="spacingAndGlyphs" text-anchor="middle">Jan-2020</text>
<text x="699.2" y="1086.8" font-size="33" textLength="73.7" lengthAdjust="spacingAndGlyphs" text-anchor="middle">Time</text>
<text x="26.5" y="165.5" font-size="38.5" textLength="248.9" lengthAdjust="spacingAndGlyphs" text-anchor="middle" transform="rotate(-90 26.5 165.5)">Oil production</text>
<text x="26.5" y="496.4" font-size="38.5" textLength="261" lengthAdjust="spacingAndGlyphs" text-anchor="middle" transform="rotate(-90 26.5 496.4)">Water injection</text>
<text x="26.5" y="825.1" font-size="38.5" textLength="83.1" lengthAdjust="spacingAndGlyphs" text-anchor="middle" transform="rotate(-90 26.5 825.1)">BHP</text></g>
<g font-family="Liberation Serif, serif" fill="#000"><rect x="1355.6" y="20.9" width="137.9" height="276.9" rx="5" ry="5" fill="#fff" stroke="#d3d3d3" stroke-width="2"/>
<rect x="1365.9" y="32.5" width="52.6" height="18.5" fill="#479cf4"/>
<text x="1438.3" y="51.1" font-size="28.5" textLength="34" lengthAdjust="spacingAndGlyphs">P1</text>
<rect x="1365.9" y="71.13" width="52.6" height="18.5" fill="#fe3377"/>
<text x="1438.3" y="89.73" font-size="28.5" textLength="34" lengthAdjust="spacingAndGlyphs">P2</text>
<rect x="1365.9" y="109.76" width="52.6" height="18.5" fill="#a1ab3c"/>
<text x="1438.3" y="128.36" font-size="28.5" textLength="34" lengthAdjust="spacingAndGlyphs">P3</text>
<rect x="1365.9" y="148.39" width="52.6" height="18.5" fill="#5d531c"/>
<text x="1438.3" y="166.99" font-size="28.5" textLength="34" lengthAdjust="spacingAndGlyphs">P4</text>
<rect x="1365.9" y="187.02" width="52.6" height="18.5" fill="#1cf47f"/>
<text x="1438.3" y="205.62" font-size="28.5" textLength="34" lengthAdjust="spacingAndGlyphs">P5</text>
<rect x="1365.9" y="225.65" width="52.6" height="18.5" fill="#479cf4"/>
<text x="1438.3" y="244.25" font-size="28.5" textLength="34" lengthAdjust="spacingAndGlyphs">P6</text>
<rect x="1365.9" y="264.28" width="52.6" height="18.5" fill="#fe3377"/>
<text x="1438.3" y="282.88" font-size="28.5" textLength="46.7" lengthAdjust="spacingAndGlyphs">P16</text>
<rect x="1355.3" y="756.4" width="117.3" height="200.6" rx="5" ry="5" fill="#fff" stroke="#d3d3d3" stroke-width="2"/>
<rect x="1365.9" y="768.6" width="52.6" height="18.5" fill="#479cf4"/>
<text x="1438.3" y="787.2" font-size="28.5" textLength="27.5" lengthAdjust="spacingAndGlyphs">I1</text>
<rect x="1365.9" y="807.23" width="52.6" height="18.5" fill="#fe3377"/>
<text x="1438.3" y="825.83" font-size="28.5" textLength="27.5" lengthAdjust="spacingAndGlyphs">I2</text>
<rect x="1365.9" y="845.86" width="52.6" height="18.5" fill="#a1ab3c"/>
<text x="1438.3" y="864.46" font-size="28.5" textLength="27.5" lengthAdjust="spacingAndGlyphs">I3</text>
<rect x="1365.9" y="884.49" width="52.6" height="18.5" fill="#5d531c"/>
<text x="1438.3" y="903.09" font-size="28.5" textLength="27.5" lengthAdjust="spacingAndGlyphs">I4</text>
<rect x="1365.9" y="923.12" width="52.6" height="18.5" fill="#1cf47f"/>
<text x="1438.3" y="941.72" font-size="28.5" textLength="27.5" lengthAdjust="spacingAndGlyphs">I5</text></g>
</svg>
</body></html>
